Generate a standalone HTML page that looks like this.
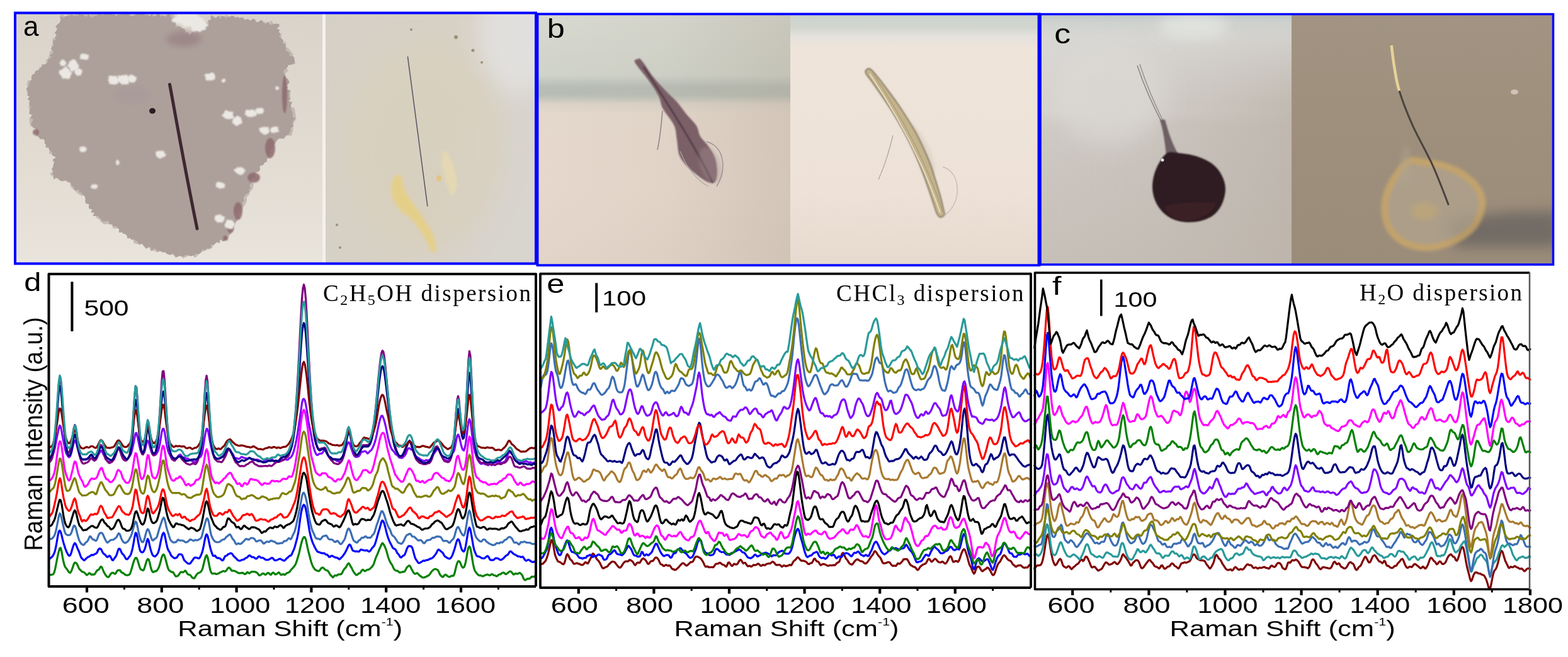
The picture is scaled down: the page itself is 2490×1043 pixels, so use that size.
<!DOCTYPE html>
<html><head><meta charset="utf-8"><title>Figure</title>
<style>html,body{margin:0;padding:0;background:#fff;}body{width:2490px;height:1043px;overflow:hidden;}svg{display:block;}</style>
</head><body>
<svg width="2490" height="1043" viewBox="0 0 2490 1043">
<defs>
<filter id="b1" x="-20%" y="-20%" width="140%" height="140%"><feGaussianBlur stdDeviation="1"/></filter>
<filter id="b2" x="-20%" y="-20%" width="140%" height="140%"><feGaussianBlur stdDeviation="2.5"/></filter>
<filter id="b4" x="-30%" y="-30%" width="160%" height="160%"><feGaussianBlur stdDeviation="5"/></filter>
<filter id="b8" x="-50%" y="-50%" width="200%" height="200%"><feGaussianBlur stdDeviation="10"/></filter>
<filter id="b16" x="-50%" y="-50%" width="200%" height="200%"><feGaussianBlur stdDeviation="18"/></filter>
<linearGradient id="gaL" x1="0" y1="0" x2="0" y2="1">
 <stop offset="0" stop-color="#dad3c9"/><stop offset="0.6" stop-color="#e2dcd2"/><stop offset="1" stop-color="#e9e4dc"/></linearGradient>
<linearGradient id="gaR" x1="0" y1="0" x2="1" y2="0.3">
 <stop offset="0" stop-color="#d5d0c6"/><stop offset="0.55" stop-color="#d7d1c5"/><stop offset="1" stop-color="#d8d4ce"/></linearGradient>
<linearGradient id="gbL" x1="0" y1="24" x2="0" y2="419" gradientUnits="userSpaceOnUse">
 <stop offset="0" stop-color="#d8d9d0"/><stop offset="0.243" stop-color="#d0d3c9"/><stop offset="0.263" stop-color="#c4c9c1"/><stop offset="0.289" stop-color="#b8bdb5"/>
 <stop offset="0.319" stop-color="#b8bdb4"/><stop offset="0.337" stop-color="#c6c6bc"/><stop offset="0.357" stop-color="#dcd3c8"/><stop offset="0.395" stop-color="#e5d8cc"/><stop offset="0.7" stop-color="#e6d8cc"/><stop offset="1" stop-color="#e2d4c8"/></linearGradient>
<linearGradient id="gbL2" x1="855" y1="0" x2="1255" y2="0" gradientUnits="userSpaceOnUse">
 <stop offset="0" stop-color="#a89c8c" stop-opacity="0"/><stop offset="0.5" stop-color="#a89c8c" stop-opacity="0.08"/><stop offset="1" stop-color="#a89c8c" stop-opacity="0.3"/></linearGradient>
<linearGradient id="gbR" x1="0" y1="24" x2="0" y2="419" gradientUnits="userSpaceOnUse">
 <stop offset="0" stop-color="#cbd2cc"/><stop offset="0.05" stop-color="#d2d6cf"/><stop offset="0.085" stop-color="#e4e2dc"/><stop offset="0.13" stop-color="#eee4da"/><stop offset="0.7" stop-color="#eee2d8"/><stop offset="1" stop-color="#e6dacf"/></linearGradient>
<linearGradient id="gcL" x1="0" y1="24" x2="0" y2="419" gradientUnits="userSpaceOnUse">
 <stop offset="0" stop-color="#c0c9c8"/><stop offset="0.03" stop-color="#cfd3d0"/><stop offset="0.09" stop-color="#d9d8d5"/><stop offset="0.39" stop-color="#d6d2ce"/><stop offset="0.44" stop-color="#cfcac5"/><stop offset="0.7" stop-color="#cbc5bf"/><stop offset="1" stop-color="#c7c0b8"/></linearGradient>
<linearGradient id="gcR" x1="0" y1="0" x2="0" y2="1">
 <stop offset="0" stop-color="#a29482"/><stop offset="0.5" stop-color="#9e8f7c"/><stop offset="1" stop-color="#9b8c7a"/></linearGradient>
<linearGradient id="gcL2" x1="1654" y1="0" x2="2051" y2="0" gradientUnits="userSpaceOnUse">
 <stop offset="0" stop-color="#b9b0a6" stop-opacity="0"/><stop offset="0.5" stop-color="#b9b0a6" stop-opacity="0.25"/><stop offset="1" stop-color="#b9b0a6" stop-opacity="0.7"/></linearGradient>
<linearGradient id="gcL3" x1="0" y1="24" x2="0" y2="419" gradientUnits="userSpaceOnUse">
 <stop offset="0" stop-color="#fff" stop-opacity="0"/><stop offset="0.35" stop-color="#fff" stop-opacity="1"/><stop offset="1" stop-color="#fff" stop-opacity="1"/></linearGradient>
<mask id="mcL"><rect x="1654" y="24" width="397" height="395" fill="url(#gcL3)"/></mask>
<radialGradient id="drop" cx="0.45" cy="0.4" r="0.6">
 <stop offset="0" stop-color="#2a1a1c"/><stop offset="0.7" stop-color="#33201f"/><stop offset="1" stop-color="#4a2a30"/></radialGradient>
<clipPath id="cpaL"><rect x="26" y="22" width="486" height="395"/></clipPath>
<clipPath id="cpaR"><rect x="517" y="22" width="333" height="395"/></clipPath>
<clipPath id="cpbL"><rect x="855" y="24" width="400" height="395"/></clipPath>
<clipPath id="cpbR"><rect x="1255" y="24" width="392" height="395"/></clipPath>
<clipPath id="cpcL"><rect x="1654" y="24" width="397" height="395"/></clipPath>
<clipPath id="cpcR"><rect x="2051" y="24" width="414" height="395"/></clipPath>
</defs>
<g clip-path="url(#cpaL)">
<rect x="26" y="22" width="486" height="395" fill="url(#gaL)"/>
<path d="M94.5,25.0 L99.4,22.8 L105.0,27.2 L109.4,20.9 L115.0,24.9 L120.1,22.7 L126.2,19.9 L132.0,24.6 L137.8,20.2 L143.1,23.9 L148.1,20.0 L153.3,20.0 L158.6,23.1 L164.0,26.9 L168.8,19.6 L174.0,20.4 L179.4,24.2 L184.7,27.2 L189.7,23.2 L194.8,21.2 L199.8,26.8 L205.3,17.7 L210.1,26.0 L215.4,20.5 L220.6,19.2 L225.7,19.2 L230.8,21.3 L235.7,26.6 L241.0,20.4 L246.0,24.6 L251.1,25.4 L256.3,22.9 L261.4,24.9 L266.7,20.2 L275.5,22.7 L277.0,28.4 L275.6,35.8 L280.4,39.4 L285.1,41.5 L287.5,46.7 L292.3,48.6 L297.2,50.4 L301.1,57.7 L305.7,54.8 L309.0,48.6 L315.3,49.7 L320.1,47.2 L328.3,46.7 L329.4,41.5 L327.9,34.9 L336.4,33.6 L334.6,23.0 L339.6,26.1 L344.5,29.6 L349.8,23.7 L354.7,27.2 L359.9,22.9 L364.8,29.3 L369.8,30.4 L374.9,28.6 L379.4,31.7 L385.4,27.0 L389.8,31.7 L395.0,31.6 L400.1,32.3 L405.3,32.0 L409.7,36.6 L414.6,38.6 L420.4,34.8 L425.2,37.6 L431.3,32.5 L435.2,39.7 L439.2,39.0 L437.2,45.2 L440.2,50.1 L446.7,54.1 L447.0,59.5 L446.6,65.4 L454.6,67.3 L452.7,73.8 L458.3,76.9 L461.8,81.3 L465.4,85.7 L462.6,94.3 L469.9,100.7 L464.9,102.2 L459.9,103.4 L451.4,104.2 L457.8,112.0 L452.9,117.0 L453.8,123.3 L452.5,130.2 L454.8,135.3 L455.0,140.8 L461.4,145.5 L460.6,151.0 L461.7,156.2 L457.9,162.7 L458.4,168.1 L467.5,171.4 L468.6,176.7 L469.3,182.1 L470.6,188.4 L467.1,194.0 L465.2,199.6 L465.3,206.8 L463.1,215.6 L456.0,215.3 L451.6,218.9 L445.8,220.4 L438.9,220.4 L435.0,226.5 L433.7,233.1 L429.8,238.6 L426.4,244.2 L429.6,251.6 L419.8,252.3 L419.0,256.7 L414.4,260.0 L411.0,264.4 L409.9,271.2 L406.1,274.8 L406.2,281.4 L398.7,284.7 L403.0,292.4 L401.3,299.9 L397.6,304.0 L395.7,309.0 L391.8,312.9 L392.0,318.9 L390.2,323.5 L386.3,329.1 L384.2,335.4 L379.3,340.4 L380.4,348.0 L370.5,351.3 L370.4,357.2 L372.2,364.0 L368.9,368.3 L365.7,372.6 L362.6,377.8 L359.2,382.2 L351.4,378.0 L346.3,379.0 L344.2,385.9 L339.6,388.0 L336.9,393.8 L332.5,395.9 L326.7,396.4 L322.5,399.6 L315.1,397.3 L313.8,405.7 L309.9,409.5 L303.6,403.5 L297.3,407.0 L291.0,410.0 L285.8,405.3 L279.1,409.6 L274.0,403.5 L268.8,397.9 L262.6,397.8 L256.4,398.3 L249.9,400.8 L245.1,398.2 L239.3,398.5 L236.0,391.0 L230.2,391.7 L226.0,386.7 L218.5,387.8 L212.7,385.9 L210.4,378.0 L206.7,373.4 L201.3,371.4 L196.4,368.6 L192.1,365.6 L187.3,362.5 L179.7,362.7 L177.3,356.8 L171.9,355.6 L165.7,355.9 L161.1,353.2 L157.8,348.4 L153.1,346.0 L151.4,340.3 L150.4,333.5 L142.8,330.7 L143.9,323.0 L141.3,317.1 L137.2,310.5 L129.1,310.7 L124.2,307.8 L120.3,303.9 L116.1,300.2 L112.2,296.2 L110.7,289.0 L106.0,284.8 L100.3,283.8 L93.8,285.7 L88.8,282.4 L85.9,282.5 L79.1,276.3 L85.2,270.9 L88.0,265.8 L88.2,258.4 L88.9,249.4 L83.5,246.2 L77.8,243.2 L79.8,235.1 L72.8,232.9 L73.3,225.3 L70.9,220.0 L62.9,219.8 L59.1,215.5 L61.0,207.7 L56.2,203.7 L48.1,200.1 L47.0,194.2 L46.6,188.2 L53.4,181.4 L51.7,175.6 L44.5,170.5 L50.3,163.7 L51.0,157.6 L46.9,152.2 L43.0,146.9 L44.0,141.0 L42.6,133.8 L43.9,127.9 L55.0,126.2 L54.4,119.4 L55.6,113.5 L62.1,113.3 L62.8,106.2 L69.6,106.3 L73.2,102.7 L73.2,94.7 L76.6,93.0 L78.3,87.9 L79.1,82.5 L83.7,78.1 L81.9,72.1 L84.7,67.2 L83.2,61.4 L92.1,57.6 L88.0,50.8 L90.3,45.5 L92.8,40.2 L97.3,34.2 Z" fill="#bcb2ab" opacity="0.8"/>
<path d="M94.7,26.5 L97.9,26.8 L101.3,28.6 L104.2,25.5 L107.4,25.4 L110.6,25.6 L113.5,22.8 L116.8,24.4 L120.0,24.8 L122.9,25.9 L126.1,21.8 L129.1,23.2 L132.1,22.1 L134.9,26.5 L138.1,26.0 L141.0,21.9 L144.3,27.4 L147.4,27.2 L150.4,25.2 L153.5,24.8 L156.5,21.9 L159.6,20.9 L162.8,23.9 L165.8,20.9 L168.9,21.5 L172.0,21.7 L175.1,20.3 L178.3,22.8 L181.4,22.5 L184.6,24.8 L187.6,22.7 L190.7,23.3 L193.8,22.3 L196.9,23.1 L200.0,21.7 L203.2,20.8 L206.1,25.2 L209.2,25.3 L212.4,24.5 L215.5,23.9 L218.7,21.6 L221.9,21.2 L225.0,21.7 L228.1,20.5 L231.1,24.8 L234.3,22.7 L237.3,25.5 L240.5,22.9 L243.5,26.5 L246.6,25.9 L249.9,21.0 L253.0,22.3 L255.9,26.7 L259.2,24.1 L262.1,27.3 L265.4,23.9 L268.6,22.1 L270.9,25.2 L271.8,28.6 L276.2,30.2 L278.8,32.7 L279.2,36.5 L278.3,42.2 L281.6,43.1 L286.4,41.9 L288.4,44.4 L291.4,45.6 L294.1,47.3 L293.9,52.7 L298.7,51.6 L300.1,55.3 L303.0,53.5 L305.6,50.8 L309.9,52.5 L311.7,47.9 L315.9,49.6 L317.9,45.4 L321.7,45.8 L323.5,44.2 L325.4,41.3 L330.7,40.2 L331.4,36.7 L330.3,32.3 L335.0,30.9 L334.5,25.1 L337.6,26.2 L340.5,29.1 L343.6,27.9 L346.7,24.7 L349.6,30.1 L352.7,25.6 L355.8,25.9 L358.7,29.1 L361.8,26.5 L364.9,26.4 L367.9,25.1 L371.0,25.3 L373.9,28.3 L377.0,26.4 L379.9,28.6 L383.2,27.8 L386.1,28.8 L388.6,32.3 L392.1,30.0 L395.1,31.1 L397.8,33.3 L401.5,29.8 L404.6,30.2 L406.8,35.2 L410.0,35.2 L413.6,32.3 L416.7,32.5 L419.1,36.3 L422.0,38.0 L425.8,34.2 L428.0,39.1 L431.1,39.3 L434.4,38.2 L437.7,37.6 L442.9,38.0 L444.1,41.0 L439.5,45.4 L444.4,47.4 L442.5,51.1 L445.9,53.5 L443.3,57.4 L445.5,60.2 L448.4,62.3 L450.3,64.8 L448.6,68.9 L453.5,70.1 L453.8,73.1 L453.8,76.8 L454.1,80.4 L457.0,82.2 L460.4,83.7 L459.0,88.4 L464.3,88.7 L466.9,90.7 L467.4,94.1 L468.2,97.8 L466.7,101.3 L463.8,102.2 L460.6,102.7 L457.4,103.1 L457.2,105.5 L455.2,108.2 L451.4,110.6 L450.2,113.5 L451.5,117.5 L452.2,120.5 L453.8,123.3 L457.3,125.5 L458.8,128.2 L459.8,131.2 L455.6,135.3 L457.1,138.2 L455.9,141.4 L461.8,143.9 L458.5,147.4 L459.7,150.3 L458.6,153.6 L461.4,156.2 L458.2,160.4 L464.3,162.2 L462.3,166.0 L462.0,169.4 L461.8,172.8 L463.5,175.7 L464.5,178.8 L464.8,182.1 L464.8,185.4 L468.9,188.1 L466.4,190.8 L464.6,193.6 L464.3,196.6 L466.4,200.2 L463.0,202.1 L461.2,204.8 L461.3,208.4 L459.9,210.9 L458.1,213.8 L454.8,214.6 L452.1,216.2 L451.2,220.6 L446.7,219.6 L442.9,219.6 L440.7,221.9 L438.6,224.4 L437.3,227.6 L434.0,229.6 L433.4,233.0 L432.7,236.3 L429.1,238.2 L431.7,243.2 L426.7,244.3 L429.1,249.0 L424.7,250.2 L423.9,253.3 L423.8,256.7 L420.2,257.9 L418.8,261.0 L416.0,262.7 L412.5,263.6 L413.0,268.7 L411.8,272.0 L408.3,273.0 L404.2,273.9 L405.1,278.7 L403.5,282.3 L397.6,284.5 L398.4,288.1 L399.0,291.6 L395.7,294.3 L398.3,298.5 L395.0,300.5 L396.1,304.7 L393.3,307.0 L389.9,309.0 L387.8,311.6 L386.5,314.7 L387.7,319.0 L385.1,321.4 L385.4,325.1 L385.1,328.6 L381.8,330.8 L378.7,333.1 L377.3,336.1 L376.8,339.6 L374.4,342.4 L377.2,346.9 L376.7,350.4 L374.1,353.1 L373.5,356.6 L372.4,359.7 L369.8,362.1 L367.2,364.5 L366.5,367.8 L365.9,371.2 L361.7,372.7 L360.7,374.0 L359.3,378.3 L357.4,381.8 L354.7,383.4 L349.5,380.3 L348.9,386.2 L344.3,384.1 L341.8,386.3 L339.6,389.1 L335.4,388.0 L334.7,393.5 L331.6,394.3 L327.9,394.2 L326.4,398.0 L321.3,395.4 L320.3,400.0 L317.8,402.1 L315.3,404.1 L310.9,402.6 L308.7,405.2 L305.4,405.8 L303.1,407.1 L300.0,405.7 L296.8,404.4 L293.3,405.6 L289.6,408.1 L286.6,406.0 L283.0,407.3 L279.4,407.9 L276.9,404.6 L274.2,402.5 L270.6,405.1 L267.6,403.9 L264.7,402.9 L262.1,400.2 L258.8,400.7 L256.0,399.5 L253.4,397.8 L249.9,399.0 L247.7,395.8 L245.1,394.2 L240.7,398.0 L239.4,392.3 L236.1,392.6 L232.2,395.0 L229.9,392.2 L227.7,389.9 L225.8,387.0 L221.7,388.4 L219.5,385.9 L217.8,382.9 L214.9,381.9 L212.6,379.7 L208.6,380.8 L206.5,378.0 L202.4,378.5 L201.4,374.1 L199.1,371.8 L195.8,370.9 L193.4,368.7 L188.9,369.3 L189.0,364.0 L186.8,361.4 L184.2,359.2 L179.9,359.0 L178.1,355.5 L173.9,356.4 L172.9,351.7 L170.0,350.4 L165.7,351.5 L162.2,351.3 L160.5,347.9 L158.1,345.7 L156.0,343.0 L152.4,342.9 L147.3,342.7 L149.7,337.6 L144.2,337.2 L146.4,332.2 L141.5,331.4 L140.8,328.2 L141.5,324.2 L136.6,323.2 L135.1,320.3 L135.6,316.5 L134.9,312.7 L133.3,310.1 L130.5,308.6 L129.5,305.4 L125.4,305.2 L125.2,301.1 L119.4,302.6 L117.8,299.9 L116.9,296.5 L113.8,295.4 L113.5,291.4 L110.6,289.4 L107.4,289.2 L104.9,286.5 L101.3,287.2 L97.9,287.8 L94.9,286.5 L92.6,282.9 L89.7,281.7 L85.5,284.9 L85.0,282.4 L85.9,279.0 L83.5,275.4 L84.0,271.9 L82.0,268.3 L84.2,265.0 L84.7,261.5 L86.0,258.0 L83.3,253.8 L89.1,249.2 L85.1,248.1 L82.8,245.9 L83.1,242.0 L80.1,240.1 L78.0,237.8 L77.3,234.5 L72.4,234.0 L73.0,229.8 L70.7,227.6 L70.9,223.0 L68.5,220.7 L63.4,220.8 L62.1,217.6 L58.0,216.1 L57.9,212.1 L58.2,208.0 L56.9,204.6 L53.0,202.8 L50.3,199.8 L49.2,196.6 L51.3,193.0 L52.8,189.5 L47.7,186.8 L51.2,183.0 L46.3,180.2 L46.9,176.8 L46.8,173.5 L49.1,169.8 L46.5,166.9 L46.2,163.6 L47.2,160.2 L43.7,157.4 L46.9,153.6 L42.8,150.9 L44.6,147.3 L42.6,144.3 L41.9,140.1 L45.1,137.8 L45.9,134.5 L46.8,131.3 L48.4,128.4 L50.3,125.6 L49.6,121.7 L51.1,118.7 L54.8,116.7 L55.9,113.9 L57.9,111.5 L61.5,111.0 L62.9,107.9 L66.2,107.1 L66.2,102.2 L70.5,102.6 L73.1,100.9 L75.8,99.4 L75.9,94.7 L77.9,93.3 L82.2,91.1 L78.9,86.9 L84.2,84.9 L84.4,81.6 L80.8,77.4 L82.2,74.4 L85.8,71.9 L83.8,68.1 L83.7,64.8 L88.7,62.7 L87.1,58.9 L90.0,56.3 L86.8,52.2 L89.2,49.4 L91.6,46.6 L88.4,42.5 L90.2,39.6 L93.7,36.9 L95.8,33.9 L96.8,30.7 Z" fill="#ada09a"/>
<ellipse cx="292" cy="62" rx="28" ry="12" fill="#987f82" opacity="0.7" filter="url(#b4)"/>
<ellipse cx="210" cy="150" rx="30" ry="14" fill="#a8999a" opacity="0.6" filter="url(#b4)"/>
<ellipse cx="452" cy="150" rx="4" ry="30" fill="#8e6a6e" opacity="0.85" filter="url(#b1)"/>
<ellipse cx="429" cy="235" rx="8" ry="16" fill="#8e6a6e" opacity="0.85" filter="url(#b1)"/>
<ellipse cx="403" cy="282" rx="10" ry="8" fill="#8e6a6e" opacity="0.85" filter="url(#b1)"/>
<ellipse cx="378" cy="335" rx="7" ry="14" fill="#8e6a6e" opacity="0.85" filter="url(#b1)"/>
<ellipse cx="366" cy="363" rx="5" ry="7" fill="#8e6a6e" opacity="0.85" filter="url(#b1)"/>
<ellipse cx="358" cy="378" rx="4" ry="4" fill="#8e6a6e" opacity="0.85" filter="url(#b1)"/>
<ellipse cx="57" cy="210" rx="5" ry="5" fill="#8e6a6e" opacity="0.85" filter="url(#b1)"/>
<path d="M187.9,127.0 C188.0,127.7 188.4,128.5 188.3,129.4 C188.3,130.2 188.1,131.2 187.6,131.9 C187.0,132.6 185.8,133.1 184.8,133.5 C183.9,133.9 182.8,134.4 181.7,134.5 C180.6,134.5 179.6,133.9 178.5,133.7 C177.4,133.6 175.9,134.1 175.0,133.7 C174.1,133.4 173.4,132.3 173.0,131.6 C172.7,130.8 173.1,129.8 172.8,129.0 C172.5,128.3 171.1,127.7 171.1,127.0 C171.2,126.3 172.8,125.9 172.9,125.0 C173.1,124.1 171.7,122.6 172.0,121.8 C172.3,121.0 173.7,120.2 174.8,120.0 C175.9,119.7 177.4,120.4 178.5,120.5 C179.6,120.6 180.4,120.6 181.5,120.6 C182.5,120.6 184.2,120.0 184.9,120.4 C185.7,120.8 185.7,122.2 186.2,123.0 C186.6,123.7 187.2,124.2 187.5,124.9 C187.8,125.6 187.7,126.3 187.9,127.0 Z" fill="#ebe7e2" filter="url(#b1)"/>
<path d="M206.3,126.0 C206.1,126.9 204.6,127.4 204.4,128.4 C204.1,129.4 205.4,131.1 204.9,132.0 C204.5,132.9 203.0,133.7 201.8,134.0 C200.6,134.3 199.0,133.7 197.7,133.8 C196.4,133.8 195.2,134.6 194.2,134.3 C193.1,134.1 192.4,132.8 191.5,132.2 C190.7,131.6 189.8,131.2 189.1,130.6 C188.4,130.0 188.0,129.3 187.3,128.5 C186.7,127.8 185.3,126.8 185.3,126.0 C185.4,125.2 187.3,124.5 187.6,123.5 C187.9,122.5 186.3,120.6 187.0,120.0 C187.7,119.4 190.5,120.3 191.8,120.1 C193.0,120.0 193.5,119.1 194.5,119.0 C195.4,118.8 196.3,119.4 197.5,119.3 C198.7,119.2 200.5,118.1 201.5,118.4 C202.5,118.7 202.7,120.3 203.3,121.1 C203.9,121.9 204.8,122.5 205.3,123.3 C205.8,124.1 206.4,125.1 206.3,126.0 Z" fill="#ebe7e2" filter="url(#b1)"/>
<path d="M216.1,125.0 C216.0,125.7 217.1,126.6 216.9,127.1 C216.6,127.7 215.2,127.8 214.7,128.4 C214.2,129.0 214.3,130.1 213.8,130.6 C213.2,131.1 212.1,131.1 211.3,131.1 C210.4,131.1 209.7,130.8 208.8,130.7 C208.0,130.5 207.1,130.7 206.4,130.4 C205.6,130.1 204.8,129.6 204.5,128.9 C204.2,128.3 204.8,127.4 204.5,126.7 C204.2,126.1 203.2,125.6 202.9,125.0 C202.7,124.4 202.9,123.5 203.1,122.9 C203.4,122.2 204.1,121.7 204.6,121.1 C205.1,120.5 205.3,119.5 206.0,119.1 C206.7,118.7 207.8,118.5 208.7,118.6 C209.5,118.6 210.4,119.1 211.2,119.4 C211.9,119.6 212.6,119.9 213.2,120.3 C213.7,120.7 214.0,121.3 214.6,121.7 C215.3,122.1 217.1,122.2 217.3,122.7 C217.6,123.3 216.2,124.3 216.1,125.0 Z" fill="#ebe7e2" filter="url(#b1)"/>
<path d="M114.6,116.0 C114.7,117.1 112.8,118.2 112.3,119.4 C111.8,120.5 112.0,121.9 111.4,122.9 C110.9,123.9 109.9,125.1 108.9,125.4 C107.9,125.7 106.4,125.0 105.4,124.8 C104.4,124.7 103.7,124.3 102.7,124.4 C101.7,124.4 100.1,125.4 99.3,125.0 C98.6,124.5 98.6,122.5 98.0,121.6 C97.5,120.6 96.6,120.2 95.9,119.3 C95.2,118.3 94.0,117.2 93.7,116.0 C93.5,114.8 93.7,113.0 94.4,112.1 C95.1,111.2 97.1,111.0 98.1,110.5 C99.0,109.9 99.4,109.2 100.2,108.6 C100.9,108.1 101.7,107.7 102.6,107.1 C103.5,106.5 104.9,104.7 105.7,105.0 C106.6,105.3 107.0,108.0 107.7,108.8 C108.5,109.7 109.6,109.5 110.2,110.2 C110.8,110.9 110.5,112.1 111.3,113.1 C112.0,114.0 114.4,114.9 114.6,116.0 Z" fill="#ebe7e2" filter="url(#b1)"/>
<path d="M125.3,104.0 C125.6,105.1 125.0,106.4 124.5,107.5 C124.1,108.5 123.5,109.7 122.6,110.3 C121.8,110.9 120.5,110.7 119.6,111.0 C118.7,111.4 118.2,111.9 117.3,112.3 C116.5,112.7 115.5,113.5 114.5,113.5 C113.5,113.6 112.2,113.4 111.6,112.7 C111.0,111.9 111.3,109.8 110.9,108.8 C110.6,107.8 110.1,107.5 109.4,106.7 C108.7,105.9 106.8,104.9 106.9,104.0 C106.9,103.1 109.1,102.4 109.5,101.3 C110.0,100.3 109.1,98.7 109.5,97.9 C110.0,97.1 111.4,97.2 112.2,96.7 C113.1,96.1 113.7,95.1 114.5,94.7 C115.4,94.2 116.6,93.8 117.6,94.0 C118.5,94.2 119.4,95.2 120.1,96.0 C120.8,96.7 121.4,97.6 121.9,98.4 C122.4,99.3 122.5,100.2 123.0,101.1 C123.6,102.0 125.1,102.9 125.3,104.0 Z" fill="#ebe7e2" filter="url(#b1)"/>
<path d="M130.8,114.0 C130.6,114.7 129.6,115.2 129.3,115.9 C129.0,116.7 129.4,117.6 129.1,118.3 C128.8,118.9 128.2,119.8 127.5,120.0 C126.8,120.2 125.7,119.4 125.0,119.5 C124.2,119.6 123.5,120.6 122.9,120.5 C122.2,120.4 121.7,119.4 121.2,118.9 C120.7,118.4 120.4,117.9 120.0,117.4 C119.5,116.9 119.1,116.5 118.7,115.9 C118.3,115.4 117.4,114.6 117.5,114.0 C117.5,113.4 118.8,112.9 119.1,112.2 C119.4,111.5 118.8,110.4 119.1,109.9 C119.5,109.4 120.5,109.3 121.2,109.1 C121.8,108.9 122.4,108.9 123.1,108.8 C123.7,108.7 124.4,108.2 125.0,108.2 C125.6,108.3 126.3,108.7 126.9,109.0 C127.5,109.3 127.9,109.8 128.5,110.2 C129.1,110.6 130.0,111.0 130.4,111.7 C130.8,112.3 131.0,113.3 130.8,114.0 Z" fill="#ebe7e2" filter="url(#b1)"/>
<path d="M105.4,100.0 C105.6,100.6 105.7,101.5 105.4,102.0 C105.0,102.4 103.6,102.1 103.2,102.7 C102.8,103.2 103.3,104.5 102.9,105.0 C102.5,105.5 101.6,105.6 101.0,105.5 C100.4,105.3 99.9,104.3 99.3,104.1 C98.6,104.0 97.8,104.9 97.2,104.8 C96.6,104.7 96.0,104.1 95.7,103.6 C95.5,103.0 96.1,102.1 95.8,101.5 C95.6,100.9 94.2,100.5 94.2,100.0 C94.1,99.5 95.2,98.9 95.5,98.4 C95.9,97.8 95.9,97.3 96.2,96.8 C96.5,96.4 96.9,95.8 97.4,95.4 C97.8,95.1 98.5,94.9 99.1,94.7 C99.7,94.6 100.4,94.4 100.9,94.6 C101.5,94.9 101.8,95.7 102.3,96.0 C102.8,96.4 103.5,96.4 103.8,96.8 C104.1,97.2 103.8,98.0 104.1,98.5 C104.3,99.0 105.2,99.4 105.4,100.0 Z" fill="#ebe7e2" filter="url(#b1)"/>
<path d="M140.4,90.0 C140.2,90.6 140.8,91.1 140.8,91.8 C140.8,92.4 140.8,93.3 140.3,93.8 C139.8,94.2 138.5,94.4 137.7,94.6 C136.9,94.8 136.0,94.9 135.2,94.9 C134.4,94.9 133.6,94.8 132.9,94.6 C132.2,94.4 131.8,93.9 131.0,93.8 C130.1,93.6 128.4,94.1 127.7,93.8 C127.0,93.5 126.8,92.5 126.8,91.9 C126.8,91.2 127.6,90.6 127.6,90.0 C127.7,89.4 127.1,88.8 127.2,88.2 C127.3,87.7 127.8,87.1 128.2,86.5 C128.7,86.0 129.2,85.2 130.0,85.0 C130.8,84.9 132.0,85.4 132.9,85.5 C133.7,85.5 134.4,85.3 135.1,85.4 C135.8,85.5 136.4,85.9 137.1,86.2 C137.8,86.4 138.8,86.4 139.5,86.7 C140.3,87.0 141.4,87.5 141.6,88.0 C141.7,88.6 140.5,89.4 140.4,90.0 Z" fill="#ebe7e2" filter="url(#b1)"/>
<path d="M369.8,183.0 C370.0,183.8 371.4,184.8 371.4,185.7 C371.4,186.5 370.7,187.6 369.8,188.1 C369.0,188.6 367.4,188.6 366.3,188.8 C365.2,189.0 364.4,189.3 363.4,189.3 C362.5,189.4 361.5,189.3 360.6,189.1 C359.7,188.9 359.0,188.5 358.2,188.1 C357.4,187.8 356.4,187.5 355.8,187.0 C355.2,186.5 355.1,185.8 354.5,185.1 C353.8,184.5 351.8,183.7 351.9,183.0 C351.9,182.3 353.8,181.5 354.5,180.9 C355.2,180.2 355.5,179.8 355.9,179.0 C356.3,178.2 356.1,176.7 356.8,176.0 C357.5,175.3 359.1,174.9 360.2,175.1 C361.3,175.3 362.3,176.7 363.3,177.1 C364.3,177.5 365.1,177.2 366.2,177.3 C367.3,177.4 369.5,177.1 370.1,177.7 C370.8,178.3 370.2,179.8 370.1,180.7 C370.1,181.6 369.6,182.2 369.8,183.0 Z" fill="#ebe7e2" filter="url(#b1)"/>
<path d="M384.4,192.0 C384.5,192.7 384.6,193.6 384.4,194.4 C384.2,195.1 383.9,196.1 383.2,196.6 C382.6,197.0 381.2,196.8 380.4,197.2 C379.6,197.6 379.2,198.4 378.4,198.9 C377.5,199.4 376.3,200.1 375.4,200.0 C374.5,199.9 373.7,198.8 372.9,198.2 C372.2,197.6 371.5,197.1 370.8,196.5 C370.1,195.9 369.0,195.4 368.7,194.6 C368.4,193.9 368.9,192.8 369.1,192.0 C369.4,191.2 369.9,190.6 370.1,189.8 C370.3,189.0 369.6,187.5 370.1,187.0 C370.7,186.4 372.6,187.1 373.5,186.7 C374.4,186.2 374.6,184.6 375.4,184.1 C376.3,183.7 377.6,183.9 378.6,184.2 C379.5,184.4 380.3,185.3 381.1,185.8 C381.8,186.4 382.8,186.8 383.2,187.5 C383.5,188.2 383.1,189.2 383.3,190.0 C383.5,190.7 384.2,191.3 384.4,192.0 Z" fill="#ebe7e2" filter="url(#b1)"/>
<path d="M409.6,180.0 C409.4,180.7 407.5,181.3 407.0,182.0 C406.5,182.7 407.3,183.8 406.5,184.3 C405.8,184.8 403.7,184.5 402.5,184.7 C401.4,185.0 400.7,185.8 399.7,185.9 C398.7,186.0 397.5,185.5 396.4,185.4 C395.3,185.3 393.7,185.6 392.9,185.3 C392.1,184.9 392.2,183.8 391.5,183.3 C390.8,182.7 389.4,182.5 388.9,182.0 C388.4,181.4 388.4,180.6 388.7,180.0 C388.9,179.4 390.0,179.0 390.2,178.3 C390.3,177.6 389.1,176.4 389.5,175.7 C389.8,175.0 391.1,174.2 392.3,174.0 C393.4,173.9 395.2,174.9 396.5,174.8 C397.7,174.8 398.7,173.8 399.8,173.8 C400.9,173.8 402.1,174.3 403.1,174.8 C404.0,175.2 404.7,175.7 405.5,176.2 C406.2,176.8 407.0,177.3 407.7,177.9 C408.4,178.5 409.7,179.3 409.6,180.0 Z" fill="#ebe7e2" filter="url(#b1)"/>
<path d="M419.8,176.0 C419.8,176.5 418.2,176.9 417.9,177.5 C417.6,178.2 418.6,179.3 418.2,179.7 C417.8,180.2 416.3,180.2 415.5,180.3 C414.7,180.5 414.0,180.6 413.2,180.7 C412.4,180.9 411.4,181.3 410.7,181.1 C410.0,181.0 409.5,180.2 408.9,179.8 C408.3,179.4 407.8,179.2 407.2,178.9 C406.7,178.5 405.9,178.1 405.6,177.7 C405.3,177.2 405.8,176.6 405.7,176.0 C405.6,175.4 404.8,174.7 405.0,174.2 C405.2,173.7 406.2,173.3 406.8,172.9 C407.4,172.5 408.0,172.1 408.6,171.9 C409.3,171.6 410.1,171.5 410.9,171.5 C411.6,171.4 412.3,171.6 413.1,171.6 C413.9,171.5 414.9,171.2 415.8,171.3 C416.6,171.5 417.7,171.8 418.1,172.3 C418.5,172.8 417.9,173.8 418.2,174.4 C418.5,175.0 419.9,175.5 419.8,176.0 Z" fill="#ebe7e2" filter="url(#b1)"/>
<path d="M427.9,207.0 C428.2,207.7 428.2,208.5 428.0,209.2 C427.7,209.8 427.0,210.5 426.4,211.0 C425.8,211.6 425.1,212.1 424.3,212.6 C423.5,213.0 422.6,213.6 421.6,213.8 C420.6,213.9 419.3,213.8 418.5,213.4 C417.6,213.1 417.2,212.1 416.5,211.6 C415.8,211.1 415.1,210.9 414.5,210.5 C413.8,210.0 413.0,209.6 412.6,209.0 C412.2,208.4 412.5,207.7 412.3,207.0 C412.1,206.3 411.1,205.3 411.2,204.6 C411.4,203.9 412.6,203.3 413.4,202.8 C414.2,202.4 415.2,202.1 416.0,201.9 C416.9,201.6 417.8,201.4 418.7,201.4 C419.6,201.4 420.3,201.6 421.3,201.7 C422.2,201.7 423.2,201.5 424.1,201.6 C425.1,201.8 426.7,202.0 427.1,202.6 C427.5,203.2 426.5,204.5 426.6,205.2 C426.8,205.9 427.7,206.3 427.9,207.0 Z" fill="#ebe7e2" filter="url(#b1)"/>
<path d="M441.8,206.0 C442.1,206.6 443.5,207.4 443.4,207.9 C443.4,208.5 442.6,209.2 441.8,209.5 C441.0,209.7 439.7,209.3 438.9,209.6 C438.1,209.8 437.9,210.9 437.2,211.0 C436.6,211.2 435.8,210.5 434.9,210.5 C434.0,210.4 432.8,211.1 432.0,210.9 C431.2,210.8 430.3,210.2 430.0,209.6 C429.6,209.1 430.1,208.2 429.9,207.6 C429.7,207.0 428.8,206.5 428.8,206.0 C428.7,205.5 429.0,204.8 429.4,204.3 C429.8,203.8 430.5,203.5 431.1,203.0 C431.6,202.6 432.0,202.1 432.6,201.8 C433.2,201.5 434.1,201.4 434.8,201.3 C435.6,201.2 436.3,201.2 437.2,201.1 C438.1,201.1 439.3,200.7 440.1,201.0 C440.8,201.2 441.6,201.9 441.8,202.5 C442.0,203.1 441.5,204.0 441.5,204.6 C441.5,205.2 441.5,205.4 441.8,206.0 Z" fill="#ebe7e2" filter="url(#b1)"/>
<path d="M342.2,122.0 C342.2,122.6 341.4,123.1 341.2,123.8 C341.1,124.4 341.8,125.6 341.3,126.1 C340.8,126.6 339.0,126.4 338.1,126.7 C337.1,127.1 336.5,128.1 335.6,128.2 C334.7,128.2 333.8,127.2 332.6,127.2 C331.5,127.2 329.7,128.3 328.7,128.1 C327.7,127.9 327.1,126.8 326.7,126.1 C326.2,125.4 326.2,124.6 326.2,123.9 C326.1,123.2 326.7,122.7 326.4,122.0 C326.1,121.3 324.6,120.4 324.5,119.7 C324.5,119.0 325.2,118.0 326.1,117.6 C327.0,117.2 328.7,117.2 329.8,117.1 C330.9,117.0 331.6,117.3 332.7,116.9 C333.7,116.6 334.8,115.2 335.8,115.1 C336.9,114.9 338.3,115.5 339.1,116.1 C340.0,116.6 340.4,117.5 340.8,118.2 C341.2,118.9 341.0,119.6 341.3,120.2 C341.5,120.9 342.2,121.4 342.2,122.0 Z" fill="#ebe7e2" filter="url(#b1)"/>
<path d="M358.4,128.0 C358.3,128.3 357.8,128.6 357.5,128.9 C357.3,129.2 357.2,129.4 357.0,129.7 C356.8,129.9 356.5,130.0 356.3,130.2 C356.1,130.5 355.9,131.0 355.6,131.2 C355.3,131.4 354.8,131.4 354.4,131.3 C354.0,131.3 353.5,131.3 353.2,131.1 C352.9,130.8 352.8,130.4 352.6,130.1 C352.4,129.7 352.2,129.4 352.0,129.1 C351.9,128.7 351.8,128.3 351.8,128.0 C351.8,127.7 352.1,127.3 352.2,127.0 C352.3,126.7 352.4,126.2 352.7,126.0 C352.9,125.8 353.4,125.8 353.7,125.7 C354.0,125.7 354.2,125.7 354.6,125.5 C354.9,125.4 355.2,124.7 355.6,124.7 C355.9,124.6 356.3,124.9 356.7,125.1 C357.0,125.3 357.4,125.5 357.7,125.7 C357.9,126.0 357.9,126.5 358.1,126.9 C358.2,127.3 358.5,127.7 358.4,128.0 Z" fill="#ebe7e2" filter="url(#b1)"/>
<path d="M263.9,245.0 C264.2,245.6 263.2,246.4 262.8,247.1 C262.4,247.8 262.4,248.8 261.6,249.2 C260.9,249.5 259.2,248.9 258.3,249.3 C257.4,249.6 257.3,250.9 256.5,251.2 C255.7,251.6 254.4,251.6 253.5,251.4 C252.6,251.2 251.8,250.6 251.0,250.2 C250.3,249.7 249.4,249.4 248.9,248.8 C248.4,248.3 248.4,247.5 248.2,246.9 C247.9,246.2 247.4,245.7 247.3,245.0 C247.1,244.3 247.1,243.6 247.3,242.9 C247.4,242.2 247.5,241.2 248.1,240.6 C248.7,240.1 250.0,239.9 250.9,239.7 C251.8,239.4 252.7,239.2 253.6,239.2 C254.5,239.2 255.3,239.5 256.3,239.5 C257.3,239.5 258.6,239.0 259.4,239.3 C260.1,239.6 260.4,240.7 260.7,241.4 C261.1,242.0 260.8,242.7 261.3,243.3 C261.9,243.9 263.7,244.4 263.9,245.0 Z" fill="#ebe7e2" filter="url(#b1)"/>
<path d="M137.4,237.0 C137.3,237.6 137.1,238.0 137.0,238.5 C136.8,239.0 136.8,239.7 136.4,240.1 C136.0,240.5 135.2,240.5 134.6,240.8 C134.1,241.1 133.6,241.7 133.0,241.8 C132.4,241.8 131.8,241.3 131.1,241.2 C130.4,241.2 129.6,241.5 129.0,241.4 C128.3,241.2 127.7,240.7 127.3,240.3 C126.9,239.8 127.0,239.2 126.7,238.6 C126.3,238.1 125.2,237.5 125.3,237.0 C125.4,236.5 127.1,236.2 127.3,235.6 C127.5,235.0 126.3,233.7 126.6,233.2 C126.9,232.8 128.3,232.9 129.1,232.8 C129.8,232.7 130.4,232.8 131.1,232.7 C131.7,232.6 132.4,232.3 133.0,232.3 C133.6,232.3 134.5,232.4 134.9,232.8 C135.4,233.1 135.3,234.0 135.8,234.4 C136.3,234.8 137.8,234.7 138.1,235.2 C138.3,235.6 137.6,236.4 137.4,237.0 Z" fill="#ebe7e2" filter="url(#b1)"/>
<path d="M190.2,258.0 C190.2,258.4 189.7,258.8 189.5,259.2 C189.3,259.6 189.1,259.9 189.0,260.2 C188.8,260.5 188.7,260.9 188.4,261.3 C188.2,261.6 187.9,262.3 187.6,262.3 C187.3,262.4 186.9,261.7 186.5,261.7 C186.1,261.6 185.6,262.1 185.3,261.9 C185.0,261.8 184.8,261.1 184.6,260.7 C184.4,260.2 184.3,259.8 184.2,259.4 C184.1,258.9 183.9,258.5 183.9,258.0 C183.9,257.5 184.0,257.0 184.1,256.6 C184.2,256.2 184.5,255.8 184.7,255.4 C184.9,255.0 185.0,254.4 185.3,254.1 C185.6,253.9 186.1,253.8 186.4,253.8 C186.8,253.8 187.2,253.8 187.5,254.0 C187.8,254.3 188.0,254.9 188.2,255.2 C188.5,255.4 188.9,255.4 189.1,255.7 C189.3,256.0 189.3,256.4 189.4,256.8 C189.6,257.2 190.2,257.6 190.2,258.0 Z" fill="#ebe7e2" filter="url(#b1)"/>
<path d="M390.2,271.0 C390.1,271.6 388.1,272.1 387.7,272.8 C387.2,273.5 388.2,274.7 387.8,275.3 C387.3,275.8 385.9,275.8 385.1,276.3 C384.2,276.7 383.5,277.8 382.6,277.9 C381.7,278.1 380.5,277.3 379.6,277.0 C378.7,276.7 377.7,276.5 377.1,276.1 C376.5,275.6 376.4,274.8 375.8,274.3 C375.2,273.8 374.4,273.5 373.7,273.0 C373.0,272.5 371.9,271.7 371.7,271.0 C371.4,270.3 371.5,269.2 372.2,268.6 C372.8,268.0 374.7,268.0 375.4,267.5 C376.1,266.9 375.8,265.5 376.6,265.2 C377.3,264.9 378.8,265.8 379.8,265.7 C380.7,265.7 381.6,264.9 382.4,264.9 C383.3,265.0 384.2,265.6 384.9,266.0 C385.6,266.4 386.0,267.0 386.6,267.5 C387.2,268.0 387.7,268.4 388.3,269.0 C388.9,269.6 390.3,270.4 390.2,271.0 Z" fill="#ebe7e2" filter="url(#b1)"/>
<path d="M358.0,294.0 C358.0,294.5 356.8,294.9 356.7,295.5 C356.5,296.1 357.5,297.2 357.1,297.7 C356.7,298.2 355.1,298.3 354.2,298.5 C353.2,298.8 352.4,298.9 351.4,299.1 C350.5,299.3 349.2,299.9 348.4,299.7 C347.6,299.5 347.4,298.1 346.6,297.7 C345.7,297.3 343.8,297.9 343.2,297.6 C342.7,297.2 343.3,296.1 343.2,295.5 C343.1,294.9 342.8,294.5 342.7,294.0 C342.7,293.5 342.9,293.0 343.0,292.4 C343.1,291.8 342.9,291.1 343.3,290.5 C343.7,289.9 344.5,289.3 345.4,289.0 C346.2,288.7 347.5,288.6 348.5,288.7 C349.5,288.8 350.5,289.1 351.3,289.4 C352.1,289.7 352.7,290.0 353.5,290.2 C354.2,290.5 355.1,290.7 355.7,291.0 C356.2,291.4 356.4,292.0 356.8,292.5 C357.2,293.0 358.1,293.5 358.0,294.0 Z" fill="#ebe7e2" filter="url(#b1)"/>
<path d="M355.8,347.0 C355.7,347.7 356.9,348.5 356.7,349.1 C356.6,349.7 355.4,350.1 354.9,350.7 C354.4,351.4 354.3,352.6 353.6,353.0 C352.9,353.4 351.4,353.2 350.4,353.2 C349.4,353.1 348.6,353.0 347.6,353.0 C346.6,352.9 345.1,353.4 344.4,353.0 C343.7,352.6 344.0,351.2 343.3,350.6 C342.7,349.9 340.9,349.9 340.5,349.3 C340.2,348.7 341.1,347.7 341.2,347.0 C341.3,346.3 340.9,345.6 341.0,344.8 C341.1,344.1 341.2,343.1 341.8,342.5 C342.4,341.9 343.6,341.5 344.6,341.2 C345.5,341.0 346.6,341.0 347.6,340.9 C348.6,340.7 349.7,340.1 350.5,340.4 C351.3,340.7 351.6,342.2 352.3,342.7 C353.1,343.2 354.1,342.9 355.0,343.2 C355.8,343.6 357.4,344.1 357.5,344.7 C357.6,345.3 355.9,346.3 355.8,347.0 Z" fill="#ebe7e2" filter="url(#b1)"/>
<path d="M373.0,356.0 C373.1,356.8 373.2,357.8 372.8,358.5 C372.4,359.2 371.2,359.4 370.7,360.2 C370.2,360.9 370.3,362.5 369.6,363.0 C368.9,363.5 367.5,363.4 366.5,363.5 C365.5,363.6 364.4,363.8 363.5,363.5 C362.6,363.3 362.0,362.4 361.1,362.0 C360.2,361.6 358.8,361.6 358.1,361.0 C357.4,360.5 357.1,359.4 356.8,358.6 C356.6,357.8 356.5,356.8 356.7,356.0 C357.0,355.2 358.2,354.7 358.5,353.9 C358.9,353.2 358.7,352.4 359.0,351.6 C359.3,350.7 359.6,349.3 360.3,348.9 C361.1,348.5 362.6,348.9 363.6,349.0 C364.6,349.0 365.4,349.3 366.3,349.4 C367.3,349.5 368.5,349.2 369.2,349.7 C369.9,350.1 369.9,351.4 370.3,352.1 C370.8,352.8 371.6,353.1 372.1,353.8 C372.5,354.4 372.9,355.2 373.0,356.0 Z" fill="#ebe7e2" filter="url(#b1)"/>
<path d="M155.0,296.0 C155.0,296.4 154.9,296.8 154.8,297.2 C154.7,297.6 154.8,298.2 154.4,298.5 C154.1,298.8 153.1,298.6 152.6,299.0 C152.0,299.3 151.8,300.5 151.2,300.5 C150.6,300.6 149.8,299.5 149.1,299.3 C148.4,299.1 147.5,299.7 147.0,299.5 C146.4,299.4 146.2,298.7 145.7,298.4 C145.1,298.1 143.8,297.9 143.6,297.5 C143.5,297.1 144.6,296.5 144.7,296.0 C144.9,295.5 144.5,295.1 144.7,294.7 C144.8,294.3 145.2,293.9 145.7,293.6 C146.1,293.3 146.7,293.0 147.3,292.9 C147.9,292.7 148.5,292.9 149.1,292.8 C149.8,292.7 150.4,292.1 151.0,292.2 C151.6,292.2 151.9,292.9 152.6,293.1 C153.2,293.2 154.4,293.0 154.8,293.3 C155.1,293.6 154.7,294.4 154.8,294.8 C154.8,295.3 155.0,295.6 155.0,296.0 Z" fill="#ebe7e2" filter="url(#b1)"/>
<path d="M323.6,30.0 C324.1,31.3 320.8,33.0 319.0,34.2 C317.2,35.3 314.3,35.5 312.9,36.8 C311.5,38.1 312.7,41.4 310.8,42.1 C309.0,42.9 304.5,41.3 301.7,41.5 C298.9,41.6 295.9,43.5 293.8,43.0 C291.6,42.6 290.6,39.7 288.9,38.6 C287.1,37.6 285.7,37.4 283.2,36.8 C280.7,36.1 275.5,35.9 273.8,34.8 C272.2,33.7 272.3,31.4 273.5,30.0 C274.7,28.6 279.6,27.9 280.9,26.6 C282.2,25.3 280.2,23.5 281.3,22.4 C282.4,21.2 285.1,20.4 287.3,19.9 C289.5,19.4 292.2,19.3 294.6,19.3 C296.9,19.3 299.0,19.7 301.3,19.9 C303.6,20.0 306.4,19.7 308.3,20.3 C310.2,20.9 311.3,22.3 312.7,23.3 C314.0,24.3 314.5,25.2 316.4,26.4 C318.2,27.5 323.2,28.7 323.6,30.0 Z" fill="#ebe7e2" filter="url(#b1)"/>
<path d="M331.0,40.0 C331.0,41.0 327.5,41.9 326.8,43.1 C326.2,44.3 327.8,46.3 326.9,47.1 C326.0,48.0 323.0,47.4 321.5,48.0 C320.0,48.6 319.1,50.5 317.6,50.7 C316.2,50.9 314.4,49.6 312.7,49.3 C311.0,49.0 309.2,49.4 307.7,49.0 C306.3,48.6 304.4,47.7 303.8,46.7 C303.2,45.7 304.8,43.9 304.2,42.8 C303.5,41.7 300.1,41.0 299.9,40.0 C299.8,39.0 302.8,38.1 303.5,37.0 C304.2,35.9 303.6,34.7 304.3,33.6 C304.9,32.4 305.8,31.0 307.2,30.3 C308.5,29.7 310.7,29.8 312.5,29.7 C314.2,29.5 316.1,28.9 317.7,29.3 C319.2,29.6 320.1,31.3 321.5,32.0 C322.8,32.7 324.8,32.8 325.7,33.6 C326.6,34.4 325.8,35.9 326.7,37.0 C327.6,38.0 331.0,39.0 331.0,40.0 Z" fill="#ebe7e2" filter="url(#b1)"/>
<path d="M443.1,140.0 C443.1,140.3 443.0,140.7 442.9,141.1 C442.8,141.4 442.5,141.6 442.3,141.9 C442.0,142.2 441.9,142.6 441.6,142.7 C441.3,142.9 440.9,142.9 440.5,142.9 C440.2,143.0 439.8,143.0 439.5,142.9 C439.2,142.8 438.9,142.5 438.7,142.3 C438.4,142.1 438.3,141.9 438.0,141.7 C437.7,141.5 437.1,141.4 437.1,141.1 C437.0,140.8 437.5,140.4 437.4,140.0 C437.4,139.6 437.0,139.2 437.0,138.9 C437.0,138.6 437.4,138.3 437.7,138.0 C437.9,137.8 438.3,137.7 438.6,137.5 C438.9,137.3 439.1,136.8 439.4,136.8 C439.7,136.7 440.2,137.0 440.5,137.2 C440.8,137.3 441.1,137.4 441.5,137.5 C441.8,137.6 442.3,137.6 442.5,137.9 C442.8,138.1 442.7,138.6 442.8,139.0 C442.9,139.3 443.1,139.7 443.1,140.0 Z" fill="#ebe7e2" filter="url(#b1)"/>
<path d="M269.5,134 C280,190 290,250 313,363" fill="none" stroke="#3d2832" stroke-width="5" stroke-linecap="round"/>
<ellipse cx="242" cy="176" rx="5" ry="4.5" fill="#2a1e22"/>
</g>
<rect x="512" y="22" width="5" height="395" fill="#f4f1ec"/>
<g clip-path="url(#cpaR)">
<rect x="517" y="22" width="333" height="395" fill="url(#gaR)"/>
<ellipse cx="820" cy="60" rx="60" ry="90" fill="#e4e3e2" opacity="0.8" filter="url(#b16)"/>
<ellipse cx="675" cy="235" rx="125" ry="165" fill="#d9d0bd" opacity="0.75" filter="url(#b16)"/>
<path d="M622,290 C630,270 640,275 640,295 C645,310 655,320 668,340 C680,360 692,370 693,400 L684,400 C678,380 665,360 650,345 C635,335 618,320 622,290 Z" fill="#e9cf78" opacity="0.75" filter="url(#b2)"/>
<path d="M702,240 C710,236 716,250 722,270 C728,290 726,305 718,312 C710,300 706,280 702,260 Z" fill="#eadcae" opacity="0.7" filter="url(#b2)"/>
<ellipse cx="697" cy="283" rx="4" ry="5" fill="#e8c070" opacity="0.8"/>
<line x1="647.4" y1="89.7" x2="678.9" y2="327.5" stroke="#5c5868" stroke-width="1.6"/>
<circle cx="724" cy="59" r="3" fill="#8a7e60" opacity="0.8"/>
<circle cx="653" cy="47" r="2" fill="#8a7e60" opacity="0.8"/>
<circle cx="751" cy="80" r="2.5" fill="#8a7e60" opacity="0.8"/>
<circle cx="535" cy="357" r="2" fill="#8a7e60" opacity="0.8"/>
<circle cx="540" cy="393" r="2" fill="#8a7e60" opacity="0.8"/>
<circle cx="765" cy="99" r="2" fill="#8a7e60" opacity="0.8"/>
</g>
<g clip-path="url(#cpbL)">
<rect x="855" y="24" width="400" height="395" fill="url(#gbL)"/>
<rect x="855" y="24" width="400" height="395" fill="url(#gbL2)"/>
<path d="M1008.7,99.8 C1011.8,105.5 1024.5,119.7 1030.7,128.5 C1036.9,137.3 1042.3,145.3 1046.0,152.7 C1049.7,160.0 1048.6,164.9 1052.7,172.6 C1056.8,180.3 1066.7,190.9 1070.4,199.0 C1074.1,207.1 1073.3,212.9 1074.8,221.0 C1076.3,229.1 1075.9,239.8 1079.2,247.5 C1082.5,255.2 1088.3,261.1 1094.6,267.3 C1100.8,273.6 1110.8,281.1 1116.7,285.0 C1122.6,288.9 1126.5,290.2 1129.9,290.4 C1133.3,290.6 1135.5,289.9 1137.0,286.0 C1138.5,282.1 1139.2,273.7 1138.7,267.3 C1138.2,260.9 1136.9,253.7 1134.3,247.5 C1131.7,241.3 1127.0,235.0 1123.3,229.9 C1119.6,224.8 1115.2,221.8 1112.2,216.7 C1109.2,211.5 1109.3,204.9 1105.6,199.0 C1101.9,193.1 1095.3,187.6 1090.2,181.4 C1085.1,175.2 1080.3,167.8 1074.8,161.6 C1069.3,155.3 1063.3,150.5 1057.1,143.9 C1050.8,137.3 1043.7,130.0 1037.3,121.9 C1030.9,113.8 1022.8,100.1 1018.6,95.4 C1014.4,90.8 1013.6,93.3 1012.0,94.0 C1010.4,94.7 1005.6,94.0 1008.7,99.8 Z" fill="#7c6068" filter="url(#b1)"/>
<path d="M1022,106 C1050,150 1095,215 1132,290" stroke="#4a3640" stroke-width="2.2" fill="none" filter="url(#b1)"/>
<ellipse cx="1128" cy="262" rx="16" ry="30" transform="rotate(-20 1128 262)" fill="#a69498" opacity="0.35" filter="url(#b2)"/>
<path d="M1122,225 C1150,232 1155,268 1138,296" stroke="#a09094" stroke-width="1.5" fill="none"/>
<path d="M1052,176 C1050,200 1048,220 1044,238" stroke="#8e8084" stroke-width="1.5" fill="none"/>
<path d="M1080,240 C1090,265 1105,285 1125,296" stroke="#b0a4a4" stroke-width="1.2" fill="none"/>
</g>
<g clip-path="url(#cpbR)">
<rect x="1255" y="24" width="392" height="395" fill="url(#gbR)"/>
<ellipse cx="1462" cy="235" rx="12" ry="45" transform="rotate(-27 1462 235)" fill="#d6ccbc" opacity="0.55" filter="url(#b2)"/>
<path d="M1374.5,114.8 C1375.1,118.4 1381.2,124.8 1385.2,130.6 C1389.3,136.5 1394.2,143.3 1398.7,149.8 C1403.2,156.3 1407.7,162.9 1412.2,169.9 C1416.7,176.9 1421.1,184.2 1425.6,191.9 C1430.1,199.6 1434.6,207.6 1439.0,215.8 C1443.3,224.0 1447.8,232.8 1451.7,241.4 C1455.7,249.9 1459.2,258.4 1462.5,266.9 C1465.9,275.4 1468.9,284.0 1471.9,292.4 C1474.8,300.7 1477.7,309.5 1480.3,317.0 C1482.9,324.6 1485.3,333.2 1487.3,337.8 C1489.3,342.4 1490.3,344.0 1492.3,344.6 C1494.4,345.2 1498.6,343.2 1499.7,341.4 C1500.7,339.7 1499.7,338.9 1498.7,334.2 C1497.7,329.4 1495.8,320.7 1493.7,313.0 C1491.6,305.2 1488.8,296.3 1486.1,287.6 C1483.4,279.0 1480.8,270.0 1477.5,261.1 C1474.2,252.3 1470.3,243.5 1466.3,234.6 C1462.2,225.8 1457.7,216.6 1453.0,208.2 C1448.4,199.8 1443.3,191.8 1438.4,184.1 C1433.5,176.4 1428.7,169.1 1423.8,162.1 C1419.0,155.1 1414.1,148.7 1409.3,142.2 C1404.4,135.7 1399.4,128.9 1394.8,123.4 C1390.1,117.9 1384.9,110.6 1381.5,109.2 C1378.1,107.8 1373.9,111.2 1374.5,114.8 Z" fill="#c4b48c" stroke="#6e6250" stroke-width="1.6" filter="url(#b1)"/>
<path d="M1381,117 C1410,160 1460,240 1493,338" stroke="#e6dcc0" stroke-width="2" fill="none"/>
<path d="M1386,116 C1416,162 1466,240 1497,336" stroke="#8a7a60" stroke-width="1" fill="none" opacity="0.6"/>
<path d="M1497,265 C1525,272 1530,320 1500,342" stroke="#c8beb6" stroke-width="1.5" fill="none"/>
<path d="M1418,215 C1412,240 1405,262 1395,285" stroke="#9a9088" stroke-width="1" fill="none"/>
</g>
<g clip-path="url(#cpcL)">
<rect x="1654" y="24" width="397" height="395" fill="url(#gcL)"/>
<rect x="1654" y="24" width="397" height="395" fill="url(#gcL2)" mask="url(#mcL)"/>
<ellipse cx="1895" cy="42" rx="55" ry="20" fill="#e2e4e0" opacity="0.9" filter="url(#b8)"/>
<ellipse cx="1760" cy="150" rx="90" ry="80" fill="#dcd9d5" opacity="0.7" filter="url(#b16)"/>
<path d="M1806,104 C1818,140 1832,170 1846,196" stroke="#8e8888" stroke-width="1.6" fill="none"/>
<path d="M1810,102 C1822,140 1836,170 1849,196" stroke="#9a9494" stroke-width="1.6" fill="none"/>
<path d="M1842,190 C1848,210 1850,228 1852,246 L1872,246 C1862,230 1856,212 1850,190 Z" fill="#6e5e62" filter="url(#b1)"/>
<path d="M1852.0,244.0 C1858.0,239.8 1864.0,242.3 1872.0,243.0 C1880.0,243.7 1891.2,245.2 1900.0,248.0 C1908.8,250.8 1918.3,255.0 1925.0,260.0 C1931.7,265.0 1936.5,271.3 1940.0,278.0 C1943.5,284.7 1946.0,292.2 1946.0,300.0 C1946.0,307.8 1943.5,317.8 1940.0,325.0 C1936.5,332.2 1931.7,338.5 1925.0,343.0 C1918.3,347.5 1908.8,350.7 1900.0,352.0 C1891.2,353.3 1880.3,353.0 1872.0,351.0 C1863.7,349.0 1856.2,345.2 1850.0,340.0 C1843.8,334.8 1838.3,327.5 1835.0,320.0 C1831.7,312.5 1829.8,303.7 1830.0,295.0 C1830.2,286.3 1832.3,276.5 1836.0,268.0 C1839.7,259.5 1846.0,248.2 1852.0,244.0 Z" fill="#2e1e21" filter="url(#b1)"/>
<path d="M1850,326 C1870,322 1910,320 1932,322 C1925,340 1905,350 1880,350 C1862,348 1852,338 1850,326 Z" fill="#3e2228" opacity="0.9" filter="url(#b1)"/>
<circle cx="1846" cy="254" r="2.5" fill="#e8e4e4"/>
</g>
<g clip-path="url(#cpcR)">
<rect x="2051" y="24" width="414" height="395" fill="url(#gcR)"/>
<path d="M2300,350 C2360,338 2420,334 2475,336 L2475,392 L2310,392 Z" fill="#6c6662" opacity="0.85" filter="url(#b8)"/>
<path d="M2240.0,255.0 C2246.7,252.7 2253.3,256.7 2262.0,258.0 C2270.7,259.3 2281.5,259.7 2292.0,263.0 C2302.5,266.3 2315.3,271.0 2325.0,278.0 C2334.7,285.0 2345.5,295.5 2350.0,305.0 C2354.5,314.5 2354.5,325.0 2352.0,335.0 C2349.5,345.0 2343.7,356.5 2335.0,365.0 C2326.3,373.5 2311.7,381.3 2300.0,386.0 C2288.3,390.7 2276.7,393.2 2265.0,393.0 C2253.3,392.8 2239.8,390.2 2230.0,385.0 C2220.2,379.8 2211.2,371.2 2206.0,362.0 C2200.8,352.8 2199.2,340.3 2199.0,330.0 C2198.8,319.7 2201.2,309.7 2205.0,300.0 C2208.8,290.3 2216.2,279.5 2222.0,272.0 C2227.8,264.5 2233.3,257.3 2240.0,255.0 Z" fill="#b3a690" stroke="#d2ac66" stroke-width="11" opacity="0.7" filter="url(#b2)"/>
<ellipse cx="2262" cy="335" rx="22" ry="14" fill="#c8aa70" opacity="0.5" filter="url(#b4)"/>
<path d="M2209.7,72.0 C2210.4,77.5 2211.9,93.0 2214.0,105.0 C2216.1,117.0 2217.2,128.5 2222.0,144.0 C2226.8,159.5 2233.8,177.9 2242.7,197.9 C2251.6,217.9 2266.1,242.5 2275.7,263.8 C2285.3,285.1 2296.3,315.3 2300.4,325.6 " stroke="#4a443e" stroke-width="3" fill="none"/>
<path d="M2209.7,72.0 C2210.4,77.5 2211.9,93.0 2214.0,105.0 C2216.1,117.0 2217.2,128.5 2222.0,144.0 C2226.8,159.5 2233.8,177.9 2242.7,197.9 C2251.6,217.9 2266.1,242.5 2275.7,263.8 C2285.3,285.1 2296.3,315.3 2300.4,325.6 " pathLength="100" stroke-dasharray="27 200" stroke="#e6d29a" stroke-width="4.5" fill="none"/>
<path d="M2232,232 C2226,250 2222,270 2222,290 L2240,300 C2240,270 2238,250 2236,232 Z" fill="#b0a48e" opacity="0.6" filter="url(#b4)"/>
<ellipse cx="2405" cy="146" rx="6" ry="4" fill="#d8d0c4" opacity="0.8"/>
</g>
<rect x="24" y="20.5" width="827" height="398" fill="none" stroke="#0000ff" stroke-width="4"/>
<rect x="853.5" y="22.3" width="797" height="398.8" fill="none" stroke="#0000ff" stroke-width="3.8"/>
<rect x="1652" y="22.5" width="814.5" height="397.5" fill="none" stroke="#0000ff" stroke-width="3.5"/>
<rect x="1647.5" y="22.5" width="6" height="398" fill="#0000ff"/>
<text x="37" y="56.6" style="font-family:'Liberation Sans',Arial,sans-serif;font-size:44px">a</text>
<text transform="translate(868.8,60) scale(1.2,1)" style="font-family:'Liberation Sans',Arial,sans-serif;font-size:42px">b</text>
<text transform="translate(1674.2,68.5) scale(1.18,1)" style="font-family:'Liberation Sans',Arial,sans-serif;font-size:44px">c</text>
<g>
<path d="M78.6,912.7 80.1,912.6 81.6,912.4 83.1,912.1 84.5,911.5 86.0,909.0 87.5,903.6 89.0,896.0 90.5,888.3 92.0,881.0 93.4,875.1 94.9,870.2 96.4,869.8 97.9,876.1 99.4,884.8 100.9,892.0 102.4,897.5 103.8,900.5 105.3,902.2 106.8,904.2 108.3,906.8 109.8,908.8 111.3,909.3 112.8,907.7 114.2,904.3 115.7,900.1 117.2,895.6 118.7,893.0 120.2,893.3 121.7,894.5 123.1,896.9 124.6,900.7 126.1,903.6 127.6,904.7 129.1,906.6 130.6,907.8 132.1,908.0 133.5,908.6 135.0,909.9 136.5,911.7 138.0,912.9 139.5,912.0 141.0,910.1 142.5,909.9 143.9,911.4 145.4,912.3 146.9,911.9 148.4,912.1 149.9,911.9 151.4,910.0 152.8,907.4 154.3,905.5 155.8,904.8 157.3,903.9 158.8,901.0 160.3,899.4 161.8,900.6 163.2,904.0 164.7,907.7 166.2,910.4 167.7,912.9 169.2,914.7 170.7,915.9 172.2,916.2 173.6,914.6 175.1,912.2 176.6,910.1 178.1,909.3 179.6,909.4 181.1,910.1 182.5,911.2 184.0,910.0 185.5,907.1 187.0,905.4 188.5,905.4 190.0,905.0 191.5,906.5 192.9,908.7 194.4,909.3 195.9,910.0 197.4,911.2 198.9,912.5 200.4,912.9 201.9,913.1 203.3,912.9 204.8,912.5 206.3,911.1 207.8,907.2 209.3,902.0 210.8,896.7 212.2,891.9 213.7,888.0 215.2,885.6 216.7,885.7 218.2,888.5 219.7,893.3 221.2,898.5 222.6,902.5 224.1,904.2 225.6,904.9 227.1,905.6 228.6,904.3 230.1,899.8 231.6,894.5 233.0,889.9 234.5,887.5 236.0,888.0 237.5,892.2 239.0,898.8 240.5,904.5 241.9,907.3 243.4,908.3 244.9,907.5 246.4,906.7 247.9,906.9 249.4,905.5 250.9,903.2 252.3,900.5 253.8,896.1 255.3,890.3 256.8,884.8 258.3,881.0 259.8,880.1 261.3,882.4 262.7,886.9 264.2,892.5 265.7,898.6 267.2,903.2 268.7,905.7 270.2,906.5 271.6,907.7 273.1,908.3 274.6,908.2 276.1,910.1 277.6,913.1 279.1,915.0 280.6,915.0 282.0,914.4 283.5,913.0 285.0,910.8 286.5,908.5 288.0,907.9 289.5,908.5 291.0,908.6 292.4,907.3 293.9,905.8 295.4,907.0 296.9,909.9 298.4,911.8 299.9,912.3 301.4,912.3 302.8,913.6 304.3,916.0 305.8,917.4 307.3,918.1 308.8,917.8 310.3,915.4 311.7,912.9 313.2,911.1 314.7,909.7 316.2,909.3 317.7,908.6 319.2,907.4 320.7,905.2 322.1,901.2 323.6,894.9 325.1,888.7 326.6,883.5 328.1,881.3 329.6,884.2 331.0,890.6 332.5,898.6 334.0,905.2 335.5,909.1 337.0,910.6 338.5,910.7 340.0,910.3 341.4,910.4 342.9,911.4 344.4,911.3 345.9,910.7 347.4,910.2 348.9,909.1 350.4,908.6 351.8,907.9 353.3,907.0 354.8,906.4 356.3,907.1 357.8,907.1 359.3,905.9 360.8,903.7 362.2,901.7 363.7,901.1 365.2,902.1 366.7,904.4 368.2,906.1 369.7,906.2 371.1,906.1 372.6,906.6 374.1,907.2 375.6,907.6 377.1,909.0 378.6,909.7 380.1,909.8 381.5,909.8 383.0,909.7 384.5,909.2 386.0,909.6 387.5,910.8 389.0,911.4 390.4,911.0 391.9,909.0 393.4,908.3 394.9,909.8 396.4,910.1 397.9,908.7 399.4,907.5 400.8,907.6 402.3,907.7 403.8,907.7 405.3,907.9 406.8,908.5 408.3,909.3 409.8,911.2 411.2,913.2 412.7,913.4 414.2,912.6 415.7,911.4 417.2,910.3 418.7,910.5 420.1,911.9 421.6,912.3 423.1,911.6 424.6,909.8 426.1,909.4 427.6,910.6 429.1,912.2 430.5,912.3 432.0,910.1 433.5,909.0 435.0,909.6 436.5,911.6 438.0,911.9 439.5,911.1 440.9,909.9 442.4,908.7 443.9,909.7 445.4,912.0 446.9,912.7 448.4,911.9 449.9,911.3 451.3,912.4 452.8,912.3 454.3,910.7 455.8,909.6 457.3,909.2 458.8,908.6 460.2,907.5 461.7,905.4 463.2,903.4 464.7,902.0 466.2,900.3 467.7,898.3 469.2,896.1 470.6,892.7 472.1,887.8 473.6,882.8 475.1,877.4 476.6,870.6 478.1,864.2 479.5,859.0 481.0,854.9 482.5,852.6 484.0,852.7 485.5,855.9 487.0,862.6 488.5,870.0 489.9,876.0 491.4,881.5 492.9,887.5 494.4,892.7 495.9,897.1 497.4,900.1 498.9,902.3 500.3,904.2 501.8,905.2 503.3,905.8 504.8,906.4 506.3,906.6 507.8,905.5 509.2,903.2 510.7,901.7 512.2,900.8 513.7,901.6 515.2,903.3 516.7,904.7 518.2,905.2 519.6,905.6 521.1,906.8 522.6,909.1 524.1,911.9 525.6,913.7 527.1,915.1 528.6,916.6 530.0,915.1 531.5,913.7 533.0,913.7 534.5,913.9 536.0,912.9 537.5,911.9 538.9,911.9 540.4,911.7 541.9,911.5 543.4,909.6 544.9,906.2 546.4,903.7 547.9,902.1 549.3,900.6 550.8,898.0 552.3,895.2 553.8,894.1 555.3,896.1 556.8,899.2 558.3,901.3 559.7,904.4 561.2,907.4 562.7,909.4 564.2,911.3 565.7,912.8 567.2,912.7 568.6,911.3 570.1,910.1 571.6,909.9 573.1,907.9 574.6,905.4 576.1,904.3 577.6,905.4 579.0,906.7 580.5,906.4 582.0,905.1 583.5,904.3 585.0,904.5 586.5,903.6 588.0,902.4 589.4,901.1 590.9,899.4 592.4,897.6 593.9,894.4 595.4,889.5 596.9,885.2 598.4,881.8 599.8,878.7 601.3,874.9 602.8,871.0 604.3,867.9 605.8,864.2 607.3,862.1 608.7,863.5 610.2,866.1 611.7,869.0 613.2,873.0 614.7,878.1 616.2,883.7 617.7,888.1 619.1,891.3 620.6,894.1 622.1,895.9 623.6,898.9 625.1,902.4 626.6,904.5 628.0,905.6 629.5,906.0 631.0,906.2 632.5,907.2 634.0,908.6 635.5,908.9 637.0,908.5 638.4,908.2 639.9,907.6 641.4,907.8 642.9,906.8 644.4,904.1 645.9,901.0 647.4,899.6 648.8,898.3 650.3,897.8 651.8,899.8 653.3,902.9 654.8,905.8 656.3,908.4 657.8,910.3 659.2,911.1 660.7,910.4 662.2,909.7 663.7,910.7 665.2,912.5 666.7,913.9 668.1,914.9 669.6,916.0 671.1,916.7 672.6,917.0 674.1,916.4 675.6,916.1 677.1,915.3 678.5,914.5 680.0,913.8 681.5,912.8 683.0,910.9 684.5,908.6 686.0,906.6 687.5,905.3 688.9,904.1 690.4,903.4 691.9,903.4 693.4,904.1 694.9,904.8 696.4,906.9 697.8,910.4 699.3,913.1 700.8,914.6 702.3,915.8 703.8,915.8 705.3,913.7 706.8,912.3 708.2,912.4 709.7,913.7 711.2,914.9 712.7,915.6 714.2,915.8 715.7,914.9 717.1,914.0 718.6,914.1 720.1,914.1 721.6,911.0 723.1,905.0 724.6,898.6 726.1,893.7 727.5,891.1 729.0,890.8 730.5,892.4 732.0,896.2 733.5,899.5 735.0,901.1 736.5,900.8 737.9,898.3 739.4,892.9 740.9,884.8 742.4,875.4 743.9,869.3 745.4,867.4 746.9,869.7 748.3,876.8 749.8,886.6 751.3,895.5 752.8,902.4 754.3,906.4 755.8,908.6 757.2,910.4 758.7,912.0 760.2,913.3 761.7,913.6 763.2,913.4 764.7,914.0 766.2,914.9 767.6,914.6 769.1,913.7 770.6,913.0 772.1,912.5 773.6,911.9 775.1,912.4 776.5,913.1 778.0,913.3 779.5,912.5 781.0,911.4 782.5,911.9 784.0,913.3 785.5,913.5 786.9,913.8 788.4,914.8 789.9,914.5 791.4,912.6 792.9,911.9 794.4,911.8 795.9,910.8 797.3,909.5 798.8,909.0 800.3,909.1 801.8,910.7 803.3,911.6 804.8,910.9 806.2,909.6 807.7,908.5 809.2,907.3 810.7,907.0 812.2,908.0 813.7,910.0 815.2,912.0 816.6,911.9 818.1,910.5 819.6,910.3 821.1,911.1 822.6,910.8 824.1,909.7 825.6,909.4 827.0,910.7 828.5,912.1 830.0,914.8 831.5,918.6 833.0,920.6 834.5,920.8 835.9,919.9 837.4,918.9 838.9,918.7 840.4,918.9 841.9,918.0 843.4,916.4 844.9,915.3 846.3,915.7 847.8,915.6 849.3,914.5 850.8,914.3" fill="none" stroke="#008000" stroke-width="3.2" stroke-linejoin="round" stroke-linecap="round"/>
<path d="M78.6,887.5 80.1,885.8 81.6,885.0 83.1,883.5 84.5,881.5 86.0,878.4 87.5,873.9 89.0,867.2 90.5,858.4 92.0,849.8 93.4,843.6 94.9,842.1 96.4,844.5 97.9,849.7 99.4,856.2 100.9,861.9 102.4,866.5 103.8,871.0 105.3,874.9 106.8,878.1 108.3,880.9 109.8,882.4 111.3,881.7 112.8,878.7 114.2,873.8 115.7,868.8 117.2,864.5 118.7,862.2 120.2,863.4 121.7,867.1 123.1,870.7 124.6,873.7 126.1,877.5 127.6,881.8 129.1,885.5 130.6,886.9 132.1,888.4 133.5,889.6 135.0,888.7 136.5,886.9 138.0,885.7 139.5,884.3 141.0,883.9 142.5,883.1 143.9,881.8 145.4,880.8 146.9,881.1 148.4,881.1 149.9,879.9 151.4,879.3 152.8,878.8 154.3,876.8 155.8,873.1 157.3,871.1 158.8,870.9 160.3,871.6 161.8,874.3 163.2,877.4 164.7,879.1 166.2,880.1 167.7,881.5 169.2,883.6 170.7,884.3 172.2,883.3 173.6,882.2 175.1,883.2 176.6,886.1 178.1,888.9 179.6,889.4 181.1,887.1 182.5,885.2 184.0,883.3 185.5,879.8 187.0,874.9 188.5,871.4 190.0,871.1 191.5,873.2 192.9,876.9 194.4,879.4 195.9,880.3 197.4,882.7 198.9,885.3 200.4,887.5 201.9,887.9 203.3,886.6 204.8,884.4 206.3,882.8 207.8,880.3 209.3,875.3 210.8,869.1 212.2,861.6 213.7,852.6 215.2,846.0 216.7,846.6 218.2,853.1 219.7,861.4 221.2,869.3 222.6,874.3 224.1,876.2 225.6,877.0 227.1,876.5 228.6,874.4 230.1,871.1 231.6,866.0 233.0,859.6 234.5,855.5 236.0,858.1 237.5,865.4 239.0,871.7 240.5,876.6 241.9,880.3 243.4,882.4 244.9,883.2 246.4,883.3 247.9,882.0 249.4,880.3 250.9,877.8 252.3,873.5 253.8,866.9 255.3,859.4 256.8,852.6 258.3,847.7 259.8,845.7 261.3,848.1 262.7,854.9 264.2,862.5 265.7,869.2 267.2,873.4 268.7,875.5 270.2,878.3 271.6,881.6 273.1,883.2 274.6,884.4 276.1,885.7 277.6,886.3 279.1,885.8 280.6,885.3 282.0,883.2 283.5,880.7 285.0,879.8 286.5,880.0 288.0,880.1 289.5,881.7 291.0,885.6 292.4,889.1 293.9,890.7 295.4,892.1 296.9,893.5 298.4,894.6 299.9,894.8 301.4,894.9 302.8,893.6 304.3,891.3 305.8,889.4 307.3,887.1 308.8,885.4 310.3,885.0 311.7,885.3 313.2,885.6 314.7,886.3 316.2,886.5 317.7,884.6 319.2,881.4 320.7,877.6 322.1,872.7 323.6,865.9 325.1,857.6 326.6,850.8 328.1,848.1 329.6,850.5 331.0,856.2 332.5,863.3 334.0,870.2 335.5,875.0 337.0,879.6 338.5,882.5 340.0,882.6 341.4,882.0 342.9,883.9 344.4,885.6 345.9,886.1 347.4,885.8 348.9,886.4 350.4,887.3 351.8,888.9 353.3,889.8 354.8,888.6 356.3,885.1 357.8,882.7 359.3,882.3 360.8,881.4 362.2,879.8 363.7,879.4 365.2,878.6 366.7,878.1 368.2,878.9 369.7,880.8 371.1,882.8 372.6,884.3 374.1,885.6 375.6,887.1 377.1,888.9 378.6,889.8 380.1,890.1 381.5,890.2 383.0,889.4 384.5,888.7 386.0,888.5 387.5,888.0 389.0,886.7 390.4,885.7 391.9,885.4 393.4,884.1 394.9,882.3 396.4,881.7 397.9,882.6 399.4,884.1 400.8,884.6 402.3,884.3 403.8,885.2 405.3,886.5 406.8,887.0 408.3,886.2 409.8,884.3 411.2,883.1 412.7,883.9 414.2,885.4 415.7,885.5 417.2,885.4 418.7,886.3 420.1,887.2 421.6,888.5 423.1,888.7 424.6,888.9 426.1,888.6 427.6,888.0 429.1,887.1 430.5,885.9 432.0,885.5 433.5,886.3 435.0,888.4 436.5,889.7 438.0,889.5 439.5,889.2 440.9,888.6 442.4,887.9 443.9,887.1 445.4,887.4 446.9,888.2 448.4,889.0 449.9,889.7 451.3,890.2 452.8,889.1 454.3,887.4 455.8,886.0 457.3,884.7 458.8,883.4 460.2,882.1 461.7,882.1 463.2,880.3 464.7,876.6 466.2,873.5 467.7,869.6 469.2,864.3 470.6,859.1 472.1,853.4 473.6,845.9 475.1,835.8 476.6,824.3 478.1,814.6 479.5,808.0 481.0,803.3 482.5,801.3 484.0,802.8 485.5,807.6 487.0,815.4 488.5,824.0 489.9,832.9 491.4,842.5 492.9,849.5 494.4,855.0 495.9,859.8 497.4,863.4 498.9,866.6 500.3,869.5 501.8,872.2 503.3,874.7 504.8,876.2 506.3,876.5 507.8,876.9 509.2,877.6 510.7,877.9 512.2,878.5 513.7,878.1 515.2,878.4 516.7,880.0 518.2,880.5 519.6,880.4 521.1,882.2 522.6,884.2 524.1,884.2 525.6,882.6 527.1,882.3 528.6,882.9 530.0,883.8 531.5,884.6 533.0,885.2 534.5,885.3 536.0,885.5 537.5,887.0 538.9,888.0 540.4,886.9 541.9,885.2 543.4,883.8 544.9,881.9 546.4,879.8 547.9,877.6 549.3,874.9 550.8,871.9 552.3,868.5 553.8,865.5 555.3,864.4 556.8,866.0 558.3,869.6 559.7,873.2 561.2,874.5 562.7,874.9 564.2,875.4 565.7,875.3 567.2,875.2 568.6,875.7 570.1,875.7 571.6,874.0 573.1,872.4 574.6,872.6 576.1,873.3 577.6,873.6 579.0,874.0 580.5,873.9 582.0,873.6 583.5,873.9 585.0,875.3 586.5,875.6 588.0,874.3 589.4,872.3 590.9,870.0 592.4,868.4 593.9,867.0 595.4,863.9 596.9,859.3 598.4,854.1 599.8,849.0 601.3,843.8 602.8,839.2 604.3,833.6 605.8,828.3 607.3,826.2 608.7,827.6 610.2,831.1 611.7,836.5 613.2,842.8 614.7,848.7 616.2,853.3 617.7,857.4 619.1,860.7 620.6,863.5 622.1,866.4 623.6,869.5 625.1,870.9 626.6,871.2 628.0,872.3 629.5,875.1 631.0,878.2 632.5,879.6 634.0,881.7 635.5,884.4 637.0,885.1 638.4,883.8 639.9,882.3 641.4,881.8 642.9,880.2 644.4,876.2 645.9,871.9 647.4,868.7 648.8,866.9 650.3,866.8 651.8,867.1 653.3,867.5 654.8,869.9 656.3,875.0 657.8,880.9 659.2,885.5 660.7,888.4 662.2,890.4 663.7,892.8 665.2,894.0 666.7,893.5 668.1,892.6 669.6,891.9 671.1,890.6 672.6,889.9 674.1,890.4 675.6,889.8 677.1,889.2 678.5,889.2 680.0,888.8 681.5,887.8 683.0,886.9 684.5,886.9 686.0,886.1 687.5,884.9 688.9,883.5 690.4,881.6 691.9,879.6 693.4,877.1 694.9,873.9 696.4,872.3 697.8,873.1 699.3,874.5 700.8,875.7 702.3,876.8 703.8,878.8 705.3,881.8 706.8,883.5 708.2,884.3 709.7,885.4 711.2,886.2 712.7,886.9 714.2,886.9 715.7,885.9 717.1,883.9 718.6,880.9 720.1,876.6 721.6,872.2 723.1,867.0 724.6,861.3 726.1,857.3 727.5,855.9 729.0,857.8 730.5,862.7 732.0,868.7 733.5,872.8 735.0,874.7 736.5,875.6 737.9,873.6 739.4,867.6 740.9,858.9 742.4,849.3 743.9,841.0 745.4,837.4 746.9,840.5 748.3,847.4 749.8,856.3 751.3,865.3 752.8,872.4 754.3,876.5 755.8,879.9 757.2,882.7 758.7,883.3 760.2,883.3 761.7,883.9 763.2,885.0 764.7,885.9 766.2,886.3 767.6,886.5 769.1,886.3 770.6,885.4 772.1,883.9 773.6,882.7 775.1,883.1 776.5,885.3 778.0,888.2 779.5,889.3 781.0,889.0 782.5,889.1 784.0,888.9 785.5,887.4 786.9,886.2 788.4,886.2 789.9,886.3 791.4,886.7 792.9,887.9 794.4,888.8 795.9,888.7 797.3,888.0 798.8,887.0 800.3,885.6 801.8,883.9 803.3,882.4 804.8,881.4 806.2,880.7 807.7,878.8 809.2,875.9 810.7,875.1 812.2,876.1 813.7,877.5 815.2,879.0 816.6,880.0 818.1,880.5 819.6,881.4 821.1,882.5 822.6,883.2 824.1,883.3 825.6,883.7 827.0,884.4 828.5,884.2 830.0,883.7 831.5,885.3 833.0,887.9 834.5,889.8 835.9,890.2 837.4,889.4 838.9,888.5 840.4,889.0 841.9,890.2 843.4,891.2 844.9,892.1 846.3,892.4 847.8,891.7 849.3,891.9 850.8,893.0" fill="none" stroke="#0000ff" stroke-width="3.2" stroke-linejoin="round" stroke-linecap="round"/>
<path d="M78.6,856.6 80.1,855.3 81.6,855.5 83.1,854.8 84.5,853.1 86.0,850.9 87.5,847.5 89.0,842.0 90.5,834.5 92.0,826.9 93.4,819.3 94.9,815.0 96.4,816.9 97.9,823.3 99.4,829.9 100.9,836.5 102.4,842.8 103.8,846.7 105.3,848.5 106.8,849.4 108.3,849.7 109.8,849.5 111.3,848.9 112.8,847.1 114.2,843.2 115.7,838.4 117.2,834.7 118.7,834.5 120.2,837.4 121.7,843.2 123.1,849.3 124.6,854.3 126.1,858.5 127.6,861.2 129.1,863.2 130.6,864.2 132.1,865.1 133.5,864.8 135.0,862.5 136.5,860.9 138.0,860.1 139.5,858.1 141.0,854.9 142.5,851.7 143.9,851.5 145.4,853.9 146.9,856.0 148.4,856.6 149.9,857.2 151.4,858.3 152.8,858.3 154.3,856.0 155.8,851.6 157.3,848.0 158.8,846.5 160.3,845.8 161.8,846.1 163.2,847.7 164.7,851.2 166.2,854.5 167.7,857.4 169.2,860.4 170.7,861.4 172.2,860.4 173.6,859.1 175.1,857.8 176.6,857.1 178.1,857.0 179.6,856.9 181.1,856.2 182.5,854.8 184.0,853.9 185.5,852.1 187.0,849.0 188.5,846.6 190.0,847.5 191.5,851.4 192.9,855.4 194.4,858.3 195.9,860.4 197.4,861.6 198.9,862.0 200.4,861.3 201.9,860.3 203.3,859.1 204.8,857.0 206.3,854.0 207.8,851.4 209.3,847.5 210.8,842.0 212.2,836.4 213.7,831.6 215.2,828.0 216.7,829.2 218.2,835.3 219.7,843.0 221.2,849.4 222.6,854.4 224.1,858.5 225.6,860.7 227.1,860.6 228.6,858.2 230.1,853.0 231.6,847.1 233.0,842.4 234.5,839.9 236.0,841.4 237.5,845.4 239.0,849.9 240.5,854.7 241.9,857.6 243.4,857.8 244.9,856.2 246.4,855.2 247.9,854.3 249.4,851.7 250.9,846.8 252.3,841.4 253.8,837.0 255.3,832.4 256.8,827.9 258.3,823.9 259.8,821.8 261.3,823.6 262.7,829.3 264.2,836.4 265.7,841.7 267.2,846.4 268.7,851.4 270.2,856.1 271.6,858.4 273.1,859.6 274.6,861.0 276.1,861.3 277.6,860.7 279.1,860.8 280.6,859.5 282.0,857.3 283.5,856.8 285.0,858.0 286.5,858.3 288.0,858.0 289.5,858.0 291.0,858.6 292.4,859.3 293.9,860.5 295.4,861.0 296.9,860.6 298.4,859.7 299.9,858.4 301.4,856.5 302.8,856.3 304.3,857.2 305.8,857.9 307.3,858.5 308.8,857.8 310.3,857.2 311.7,857.6 313.2,857.7 314.7,857.2 316.2,856.2 317.7,855.4 319.2,854.2 320.7,850.8 322.1,844.8 323.6,838.6 325.1,832.9 326.6,827.3 328.1,823.2 329.6,823.2 331.0,826.8 332.5,834.2 334.0,843.2 335.5,849.8 337.0,853.4 338.5,856.1 340.0,858.2 341.4,859.7 342.9,860.2 344.4,860.6 345.9,860.8 347.4,860.5 348.9,860.1 350.4,858.9 351.8,857.8 353.3,856.8 354.8,856.4 356.3,856.1 357.8,854.5 359.3,852.4 360.8,851.5 362.2,850.3 363.7,848.9 365.2,848.3 366.7,850.3 368.2,853.4 369.7,855.8 371.1,857.2 372.6,859.5 374.1,862.9 375.6,864.1 377.1,863.0 378.6,862.6 380.1,863.2 381.5,863.6 383.0,863.0 384.5,861.7 386.0,860.2 387.5,858.8 389.0,857.0 390.4,855.7 391.9,855.6 393.4,856.4 394.9,856.9 396.4,855.5 397.9,854.6 399.4,854.0 400.8,854.0 402.3,854.5 403.8,855.3 405.3,857.4 406.8,859.6 408.3,859.4 409.8,858.6 411.2,858.0 412.7,857.8 414.2,857.9 415.7,859.4 417.2,861.5 418.7,863.0 420.1,862.5 421.6,861.0 423.1,860.0 424.6,859.7 426.1,860.4 427.6,860.4 429.1,859.0 430.5,858.3 432.0,858.6 433.5,859.5 435.0,860.0 436.5,860.2 438.0,861.6 439.5,862.8 440.9,862.6 442.4,862.8 443.9,862.7 445.4,862.2 446.9,862.2 448.4,862.1 449.9,860.5 451.3,858.9 452.8,859.0 454.3,858.6 455.8,857.4 457.3,855.6 458.8,854.3 460.2,855.2 461.7,856.0 463.2,854.0 464.7,850.2 466.2,847.2 467.7,844.1 469.2,839.3 470.6,833.0 472.1,825.4 473.6,818.0 475.1,811.2 476.6,804.1 478.1,796.1 479.5,787.8 481.0,783.0 482.5,782.2 484.0,784.8 485.5,789.8 487.0,796.3 488.5,805.0 489.9,814.8 491.4,823.8 492.9,830.9 494.4,837.0 495.9,842.2 497.4,845.3 498.9,848.4 500.3,852.0 501.8,854.5 503.3,855.2 504.8,855.0 506.3,855.5 507.8,856.5 509.2,856.0 510.7,854.1 512.2,851.9 513.7,851.1 515.2,850.9 516.7,850.3 518.2,850.1 519.6,851.9 521.1,854.8 522.6,856.0 524.1,856.5 525.6,856.5 527.1,856.5 528.6,857.5 530.0,859.0 531.5,860.3 533.0,860.5 534.5,859.0 536.0,858.5 537.5,859.9 538.9,862.0 540.4,863.7 541.9,863.6 543.4,862.0 544.9,859.6 546.4,857.6 547.9,854.6 549.3,849.8 550.8,844.4 552.3,840.2 553.8,838.9 555.3,840.8 556.8,844.4 558.3,849.1 559.7,853.7 561.2,857.4 562.7,859.2 564.2,860.1 565.7,861.1 567.2,861.3 568.6,859.3 570.1,857.8 571.6,857.2 573.1,855.3 574.6,853.5 576.1,853.5 577.6,853.6 579.0,852.2 580.5,851.3 582.0,852.3 583.5,853.8 585.0,853.7 586.5,853.3 588.0,853.7 589.4,852.7 590.9,850.2 592.4,848.7 593.9,846.9 595.4,843.0 596.9,837.9 598.4,832.8 599.8,829.4 601.3,824.8 602.8,819.8 604.3,815.4 605.8,811.5 607.3,811.5 608.7,814.2 610.2,817.8 611.7,822.5 613.2,827.4 614.7,831.7 616.2,835.5 617.7,838.3 619.1,840.2 620.6,844.1 622.1,848.4 623.6,850.4 625.1,851.4 626.6,852.8 628.0,855.0 629.5,857.2 631.0,859.8 632.5,861.8 634.0,862.1 635.5,862.7 637.0,863.4 638.4,862.7 639.9,860.7 641.4,858.3 642.9,854.9 644.4,851.6 645.9,849.6 647.4,849.0 648.8,848.3 650.3,847.3 651.8,847.5 653.3,849.7 654.8,851.7 656.3,852.0 657.8,852.0 659.2,853.4 660.7,854.9 662.2,856.3 663.7,857.7 665.2,858.1 666.7,857.6 668.1,857.4 669.6,858.4 671.1,860.3 672.6,862.2 674.1,862.3 675.6,860.4 677.1,858.4 678.5,857.8 680.0,857.4 681.5,857.2 683.0,856.9 684.5,855.7 686.0,854.3 687.5,853.5 688.9,854.0 690.4,853.5 691.9,852.3 693.4,851.8 694.9,851.7 696.4,851.8 697.8,852.1 699.3,852.4 700.8,853.8 702.3,856.3 703.8,858.6 705.3,858.9 706.8,858.7 708.2,858.6 709.7,858.8 711.2,859.7 712.7,861.4 714.2,861.7 715.7,859.7 717.1,858.0 718.6,856.7 720.1,855.0 721.6,851.7 723.1,846.0 724.6,840.6 726.1,837.4 727.5,836.5 729.0,838.4 730.5,842.0 732.0,845.3 733.5,847.8 735.0,849.8 736.5,850.2 737.9,847.6 739.4,841.3 740.9,832.5 742.4,822.4 743.9,813.9 745.4,810.5 746.9,813.6 748.3,821.0 749.8,829.0 751.3,835.8 752.8,842.1 754.3,848.5 755.8,852.4 757.2,854.6 758.7,856.2 760.2,857.8 761.7,859.0 763.2,859.7 764.7,859.6 766.2,857.6 767.6,856.5 769.1,856.3 770.6,857.2 772.1,859.3 773.6,860.7 775.1,861.7 776.5,862.8 778.0,863.3 779.5,864.1 781.0,864.8 782.5,865.4 784.0,865.2 785.5,864.9 786.9,863.9 788.4,862.5 789.9,861.9 791.4,862.5 792.9,862.6 794.4,861.1 795.9,860.7 797.3,861.3 798.8,860.4 800.3,858.6 801.8,857.1 803.3,856.7 804.8,855.8 806.2,854.1 807.7,852.8 809.2,852.3 810.7,852.9 812.2,854.2 813.7,856.1 815.2,859.2 816.6,861.5 818.1,861.5 819.6,861.0 821.1,861.9 822.6,863.3 824.1,864.4 825.6,862.9 827.0,860.7 828.5,860.7 830.0,861.0 831.5,860.0 833.0,859.8 834.5,860.6 835.9,861.2 837.4,861.4 838.9,861.5 840.4,861.5 841.9,861.9 843.4,862.7 844.9,863.2 846.3,863.6 847.8,863.6 849.3,863.2 850.8,863.3" fill="none" stroke="#3c6eb4" stroke-width="3.2" stroke-linejoin="round" stroke-linecap="round"/>
<path d="M78.6,835.3 80.1,834.7 81.6,834.1 83.1,831.8 84.5,828.9 86.0,826.3 87.5,822.2 89.0,816.1 90.5,809.5 92.0,803.3 93.4,797.4 94.9,793.3 96.4,794.2 97.9,800.3 99.4,809.8 100.9,819.3 102.4,826.7 103.8,831.5 105.3,834.5 106.8,836.3 108.3,837.2 109.8,835.9 111.3,832.2 112.8,827.6 114.2,822.5 115.7,817.6 117.2,812.7 118.7,810.2 120.2,812.3 121.7,817.6 123.1,823.9 124.6,829.8 126.1,834.2 127.6,836.0 129.1,837.6 130.6,840.3 132.1,842.1 133.5,841.5 135.0,841.2 136.5,841.4 138.0,840.7 139.5,839.2 141.0,838.3 142.5,837.1 143.9,835.9 145.4,835.0 146.9,834.8 148.4,835.7 149.9,837.0 151.4,837.4 152.8,838.0 154.3,837.5 155.8,835.0 157.3,831.8 158.8,828.6 160.3,826.1 161.8,824.7 163.2,824.7 164.7,827.2 166.2,830.2 167.7,831.0 169.2,833.0 170.7,835.0 172.2,835.7 173.6,836.9 175.1,839.2 176.6,840.4 178.1,839.8 179.6,838.7 181.1,836.9 182.5,834.2 184.0,830.7 185.5,827.5 187.0,825.6 188.5,825.1 190.0,827.1 191.5,830.6 192.9,834.8 194.4,838.2 195.9,839.7 197.4,839.6 198.9,840.6 200.4,842.4 201.9,842.7 203.3,842.4 204.8,842.3 206.3,841.6 207.8,840.0 209.3,836.8 210.8,831.8 212.2,824.5 213.7,817.3 215.2,812.4 216.7,811.6 218.2,814.7 219.7,819.5 221.2,823.9 222.6,827.5 224.1,830.7 225.6,832.6 227.1,832.6 228.6,830.5 230.1,826.4 231.6,819.9 233.0,812.3 234.5,807.2 236.0,808.8 237.5,815.7 239.0,822.5 240.5,827.1 241.9,829.4 243.4,830.6 244.9,830.2 246.4,829.3 247.9,828.1 249.4,825.6 250.9,821.0 252.3,815.9 253.8,810.3 255.3,802.9 256.8,795.2 258.3,790.2 259.8,791.1 261.3,796.9 262.7,804.2 264.2,812.0 265.7,818.7 267.2,823.8 268.7,827.0 270.2,830.0 271.6,832.8 273.1,834.7 274.6,836.8 276.1,836.7 277.6,834.0 279.1,831.3 280.6,830.9 282.0,831.8 283.5,832.3 285.0,832.5 286.5,832.6 288.0,833.4 289.5,833.7 291.0,833.9 292.4,834.7 293.9,835.9 295.4,837.2 296.9,838.2 298.4,839.5 299.9,840.1 301.4,839.0 302.8,837.9 304.3,837.9 305.8,838.5 307.3,839.1 308.8,839.9 310.3,841.2 311.7,842.7 313.2,842.9 314.7,842.0 316.2,841.3 317.7,839.5 319.2,834.6 320.7,828.5 322.1,821.7 323.6,813.8 325.1,804.9 326.6,797.8 328.1,795.8 329.6,798.1 331.0,804.0 332.5,810.9 334.0,817.5 335.5,822.0 337.0,825.5 338.5,829.4 340.0,832.8 341.4,834.5 342.9,835.7 344.4,837.8 345.9,838.8 347.4,839.7 348.9,840.8 350.4,840.9 351.8,840.1 353.3,838.1 354.8,836.4 356.3,836.3 357.8,835.4 359.3,831.5 360.8,825.7 362.2,822.8 363.7,823.2 365.2,825.0 366.7,826.9 368.2,828.7 369.7,829.6 371.1,830.2 372.6,831.9 374.1,835.0 375.6,837.3 377.1,836.9 378.6,836.2 380.1,837.8 381.5,839.6 383.0,840.0 384.5,838.5 386.0,836.1 387.5,834.4 389.0,835.0 390.4,836.6 391.9,837.6 393.4,838.5 394.9,839.8 396.4,839.7 397.9,838.4 399.4,837.1 400.8,836.9 402.3,837.2 403.8,837.2 405.3,837.5 406.8,838.3 408.3,839.2 409.8,839.7 411.2,840.6 412.7,842.0 414.2,844.3 415.7,846.2 417.2,845.4 418.7,844.1 420.1,843.6 421.6,844.0 423.1,842.4 424.6,840.4 426.1,839.6 427.6,838.1 429.1,837.6 430.5,837.8 432.0,838.4 433.5,838.6 435.0,837.0 436.5,835.9 438.0,836.2 439.5,837.0 440.9,836.7 442.4,835.6 443.9,834.3 445.4,833.7 446.9,834.5 448.4,835.9 449.9,838.1 451.3,837.8 452.8,835.3 454.3,834.2 455.8,833.6 457.3,832.7 458.8,832.1 460.2,831.7 461.7,830.6 463.2,829.2 464.7,828.1 466.2,826.1 467.7,822.0 469.2,817.0 470.6,811.3 472.1,804.3 473.6,795.0 475.1,785.0 476.6,775.2 478.1,766.2 479.5,757.9 481.0,751.7 482.5,750.4 484.0,752.3 485.5,755.7 487.0,761.7 488.5,771.3 489.9,780.6 491.4,789.6 492.9,798.9 494.4,806.7 495.9,813.0 497.4,818.3 498.9,822.9 500.3,826.9 501.8,830.1 503.3,831.9 504.8,832.1 506.3,832.9 507.8,832.6 509.2,830.7 510.7,828.1 512.2,826.9 513.7,826.3 515.2,825.5 516.7,825.1 518.2,826.5 519.6,828.6 521.1,830.5 522.6,830.9 524.1,831.6 525.6,832.0 527.1,832.9 528.6,834.9 530.0,836.1 531.5,835.5 533.0,834.0 534.5,834.1 536.0,835.3 537.5,836.2 538.9,837.1 540.4,836.2 541.9,833.4 543.4,830.4 544.9,827.6 546.4,824.3 547.9,820.8 549.3,817.3 550.8,813.7 552.3,810.7 553.8,810.1 555.3,813.2 556.8,818.4 558.3,824.8 559.7,830.4 561.2,833.1 562.7,832.3 564.2,831.7 565.7,832.4 567.2,832.3 568.6,831.7 570.1,830.0 571.6,827.1 573.1,825.0 574.6,823.8 576.1,824.0 577.6,824.2 579.0,824.8 580.5,825.8 582.0,826.0 583.5,825.4 585.0,825.1 586.5,825.5 588.0,825.6 589.4,824.4 590.9,821.5 592.4,819.3 593.9,816.4 595.4,811.9 596.9,806.9 598.4,801.5 599.8,796.8 601.3,792.5 602.8,788.6 604.3,784.0 605.8,780.5 607.3,779.4 608.7,780.0 610.2,782.8 611.7,787.3 613.2,792.0 614.7,796.2 616.2,801.1 617.7,806.5 619.1,812.0 620.6,816.8 622.1,820.7 623.6,824.8 625.1,828.5 626.6,831.1 628.0,833.6 629.5,834.3 631.0,833.6 632.5,833.4 634.0,833.0 635.5,832.7 637.0,832.4 638.4,833.3 639.9,834.1 641.4,834.4 642.9,832.6 644.4,830.5 645.9,828.3 647.4,827.1 648.8,826.9 650.3,828.1 651.8,830.5 653.3,831.7 654.8,831.8 656.3,832.3 657.8,832.9 659.2,833.8 660.7,834.6 662.2,835.8 663.7,836.4 665.2,837.0 666.7,837.7 668.1,839.3 669.6,840.8 671.1,841.0 672.6,840.2 674.1,839.3 675.6,839.0 677.1,839.0 678.5,839.0 680.0,838.5 681.5,837.7 683.0,836.6 684.5,834.5 686.0,832.4 687.5,831.4 688.9,830.3 690.4,828.3 691.9,827.5 693.4,826.6 694.9,826.2 696.4,826.7 697.8,827.7 699.3,829.0 700.8,829.6 702.3,831.5 703.8,834.0 705.3,836.2 706.8,838.8 708.2,839.9 709.7,840.2 711.2,839.6 712.7,838.5 714.2,837.6 715.7,837.0 717.1,835.9 718.6,834.5 720.1,831.2 721.6,826.4 723.1,820.9 724.6,815.1 726.1,810.3 727.5,808.1 729.0,809.2 730.5,812.9 732.0,817.7 733.5,821.9 735.0,823.2 736.5,821.6 737.9,819.2 739.4,814.3 740.9,805.4 742.4,794.6 743.9,786.0 745.4,781.9 746.9,783.2 748.3,790.8 749.8,800.9 751.3,810.1 752.8,818.3 754.3,825.4 755.8,831.9 757.2,836.0 758.7,836.4 760.2,837.0 761.7,838.0 763.2,838.2 764.7,837.9 766.2,837.1 767.6,836.3 769.1,836.7 770.6,838.1 772.1,840.0 773.6,840.9 775.1,840.2 776.5,839.2 778.0,839.2 779.5,839.2 781.0,839.4 782.5,839.6 784.0,839.4 785.5,839.3 786.9,839.4 788.4,839.5 789.9,840.2 791.4,840.8 792.9,840.8 794.4,840.0 795.9,838.9 797.3,838.7 798.8,838.9 800.3,838.6 801.8,837.5 803.3,837.0 804.8,835.3 806.2,832.8 807.7,830.7 809.2,829.9 810.7,828.7 812.2,827.8 813.7,829.0 815.2,831.3 816.6,833.6 818.1,835.5 819.6,837.4 821.1,838.8 822.6,840.8 824.1,842.7 825.6,843.2 827.0,843.3 828.5,843.1 830.0,842.3 831.5,842.0 833.0,841.9 834.5,841.0 835.9,840.3 837.4,841.0 838.9,840.9 840.4,839.4 841.9,837.6 843.4,836.9 844.9,836.5 846.3,836.2 847.8,835.5 849.3,835.6 850.8,835.8" fill="none" stroke="#000000" stroke-width="3.2" stroke-linejoin="round" stroke-linecap="round"/>
<path d="M78.6,820.0 80.1,818.3 81.6,816.3 83.1,813.9 84.5,809.8 86.0,803.3 87.5,796.7 89.0,789.9 90.5,782.0 92.0,773.0 93.4,764.5 94.9,759.4 96.4,761.9 97.9,770.9 99.4,781.3 100.9,790.1 102.4,796.5 103.8,802.4 105.3,806.2 106.8,808.3 108.3,810.4 109.8,811.1 111.3,809.9 112.8,806.9 114.2,803.0 115.7,798.0 117.2,793.4 118.7,791.1 120.2,794.4 121.7,801.5 123.1,808.8 124.6,813.6 126.1,817.0 127.6,820.9 129.1,825.7 130.6,828.0 132.1,826.1 133.5,825.6 135.0,826.8 136.5,826.8 138.0,825.9 139.5,823.8 141.0,821.4 142.5,818.9 143.9,816.9 145.4,816.6 146.9,817.2 148.4,817.2 149.9,815.9 151.4,815.6 152.8,816.4 154.3,815.9 155.8,813.3 157.3,808.5 158.8,804.4 160.3,802.9 161.8,804.4 163.2,807.2 164.7,811.6 166.2,814.7 167.7,816.8 169.2,819.9 170.7,822.3 172.2,822.5 173.6,821.8 175.1,821.5 176.6,821.5 178.1,821.0 179.6,819.1 181.1,816.1 182.5,813.5 184.0,810.9 185.5,808.0 187.0,805.2 188.5,803.4 190.0,804.0 191.5,806.2 192.9,809.6 194.4,812.1 195.9,813.2 197.4,814.7 198.9,816.2 200.4,816.7 201.9,816.7 203.3,817.2 204.8,817.3 206.3,815.5 207.8,812.3 209.3,808.5 210.8,803.2 212.2,794.4 213.7,784.0 215.2,777.1 216.7,778.6 218.2,786.9 219.7,795.6 221.2,802.8 222.6,809.2 224.1,813.0 225.6,814.3 227.1,814.8 228.6,813.5 230.1,807.7 231.6,798.5 233.0,790.6 234.5,787.0 236.0,789.1 237.5,795.6 239.0,803.1 240.5,810.1 241.9,814.1 243.4,815.0 244.9,813.5 246.4,811.3 247.9,809.2 249.4,806.9 250.9,804.1 252.3,800.4 253.8,794.4 255.3,787.2 256.8,780.4 258.3,776.8 259.8,777.4 261.3,781.9 262.7,788.8 264.2,796.2 265.7,803.3 267.2,808.0 268.7,811.2 270.2,813.8 271.6,816.3 273.1,818.6 274.6,819.3 276.1,818.6 277.6,817.4 279.1,816.1 280.6,817.0 282.0,818.1 283.5,817.0 285.0,815.8 286.5,817.6 288.0,821.0 289.5,822.2 291.0,821.3 292.4,820.2 293.9,820.5 295.4,822.8 296.9,824.5 298.4,824.8 299.9,826.1 301.4,827.3 302.8,827.0 304.3,825.6 305.8,825.0 307.3,825.0 308.8,824.1 310.3,822.7 311.7,820.9 313.2,819.5 314.7,818.4 316.2,817.3 317.7,815.0 319.2,810.6 320.7,804.6 322.1,799.3 323.6,793.8 325.1,786.6 326.6,778.8 328.1,776.0 329.6,780.4 331.0,789.3 332.5,798.4 334.0,804.9 335.5,809.8 337.0,813.8 338.5,817.0 340.0,818.7 341.4,819.0 342.9,819.0 344.4,818.8 345.9,817.1 347.4,815.2 348.9,814.5 350.4,814.9 351.8,816.0 353.3,817.1 354.8,816.4 356.3,814.4 357.8,812.8 359.3,813.0 360.8,813.6 362.2,811.9 363.7,809.3 365.2,809.6 366.7,812.2 368.2,815.1 369.7,817.9 371.1,820.2 372.6,821.6 374.1,823.7 375.6,826.3 377.1,826.8 378.6,825.9 380.1,824.8 381.5,823.9 383.0,822.0 384.5,819.3 386.0,817.9 387.5,817.6 389.0,817.4 390.4,817.0 391.9,815.6 393.4,815.5 394.9,817.1 396.4,818.0 397.9,816.6 399.4,815.9 400.8,817.3 402.3,819.4 403.8,822.4 405.3,825.5 406.8,826.7 408.3,826.4 409.8,826.1 411.2,825.4 412.7,824.3 414.2,823.9 415.7,824.5 417.2,824.8 418.7,825.0 420.1,824.8 421.6,825.1 423.1,826.2 424.6,827.3 426.1,828.2 427.6,827.3 429.1,825.8 430.5,824.8 432.0,824.4 433.5,824.0 435.0,822.6 436.5,821.6 438.0,821.6 439.5,820.9 440.9,818.8 442.4,817.9 443.9,817.0 445.4,815.8 446.9,816.4 448.4,818.8 449.9,821.2 451.3,821.7 452.8,821.6 454.3,821.0 455.8,820.7 457.3,819.0 458.8,816.5 460.2,814.4 461.7,812.0 463.2,808.6 464.7,805.0 466.2,801.2 467.7,797.8 469.2,793.4 470.6,787.4 472.1,779.5 473.6,770.2 475.1,760.1 476.6,750.3 478.1,740.7 479.5,732.9 481.0,727.9 482.5,726.0 484.0,727.7 485.5,733.3 487.0,742.1 488.5,751.6 489.9,760.8 491.4,771.2 492.9,781.4 494.4,790.5 495.9,798.3 497.4,804.7 498.9,808.9 500.3,812.8 501.8,815.1 503.3,815.2 504.8,815.5 506.3,817.1 507.8,817.1 509.2,814.6 510.7,811.4 512.2,809.4 513.7,808.7 515.2,808.6 516.7,808.5 518.2,808.4 519.6,808.7 521.1,809.8 522.6,812.0 524.1,814.6 525.6,815.6 527.1,815.6 528.6,814.9 530.0,814.7 531.5,815.1 533.0,815.5 534.5,817.1 536.0,818.7 537.5,819.1 538.9,819.9 540.4,820.5 541.9,819.8 543.4,818.0 544.9,816.9 546.4,815.6 547.9,812.8 549.3,808.0 550.8,801.1 552.3,794.3 553.8,792.3 555.3,794.9 556.8,798.3 558.3,801.9 559.7,806.3 561.2,810.4 562.7,812.6 564.2,813.6 565.7,813.8 567.2,813.0 568.6,811.4 570.1,809.9 571.6,808.8 573.1,807.3 574.6,805.5 576.1,804.5 577.6,805.1 579.0,806.2 580.5,807.3 582.0,807.2 583.5,806.0 585.0,806.8 586.5,809.3 588.0,810.0 589.4,809.0 590.9,807.7 592.4,806.7 593.9,805.3 595.4,801.8 596.9,796.4 598.4,790.8 599.8,786.7 601.3,781.2 602.8,774.5 604.3,768.6 605.8,765.4 607.3,764.7 608.7,765.4 610.2,767.5 611.7,771.0 613.2,775.1 614.7,779.3 616.2,783.8 617.7,788.6 619.1,792.6 620.6,797.5 622.1,803.0 623.6,807.1 625.1,808.4 626.6,808.8 628.0,810.7 629.5,814.1 631.0,817.3 632.5,820.5 634.0,821.3 635.5,820.8 637.0,820.3 638.4,819.0 639.9,818.2 641.4,817.6 642.9,815.5 644.4,813.5 645.9,812.1 647.4,809.6 648.8,807.6 650.3,806.1 651.8,805.7 653.3,807.6 654.8,810.4 656.3,812.2 657.8,813.2 659.2,814.7 660.7,815.7 662.2,817.8 663.7,820.8 665.2,822.8 666.7,822.6 668.1,820.7 669.6,819.9 671.1,819.8 672.6,820.2 674.1,821.0 675.6,821.9 677.1,822.3 678.5,822.7 680.0,822.8 681.5,820.7 683.0,819.4 684.5,819.4 686.0,818.8 687.5,817.5 688.9,815.8 690.4,813.9 691.9,813.0 693.4,813.2 694.9,812.6 696.4,811.1 697.8,811.4 699.3,813.0 700.8,814.3 702.3,815.1 703.8,816.4 705.3,817.6 706.8,819.0 708.2,820.5 709.7,820.5 711.2,819.2 712.7,818.3 714.2,817.3 715.7,816.2 717.1,815.2 718.6,812.9 720.1,809.3 721.6,803.8 723.1,798.3 724.6,793.9 726.1,789.7 727.5,786.2 729.0,787.1 730.5,792.0 732.0,797.3 733.5,802.0 735.0,805.3 736.5,805.9 737.9,802.5 739.4,795.8 740.9,786.3 742.4,773.8 743.9,761.8 745.4,756.5 746.9,759.5 748.3,768.1 749.8,779.9 751.3,791.6 752.8,802.1 754.3,810.0 755.8,815.4 757.2,819.2 758.7,821.2 760.2,823.4 761.7,825.3 763.2,826.1 764.7,826.1 766.2,825.8 767.6,824.8 769.1,823.7 770.6,822.7 772.1,821.9 773.6,820.8 775.1,820.3 776.5,820.6 778.0,820.9 779.5,822.0 781.0,823.0 782.5,823.0 784.0,822.6 785.5,821.6 786.9,820.2 788.4,820.4 789.9,821.1 791.4,820.7 792.9,820.5 794.4,820.4 795.9,819.5 797.3,818.4 798.8,818.5 800.3,819.2 801.8,819.2 803.3,818.3 804.8,816.5 806.2,815.8 807.7,814.9 809.2,813.2 810.7,812.4 812.2,811.9 813.7,812.0 815.2,814.6 816.6,817.5 818.1,819.0 819.6,820.6 821.1,822.2 822.6,822.5 824.1,821.8 825.6,821.2 827.0,821.0 828.5,820.8 830.0,819.8 831.5,820.0 833.0,822.1 834.5,824.0 835.9,824.0 837.4,823.3 838.9,823.0 840.4,823.2 841.9,822.3 843.4,821.7 844.9,822.0 846.3,822.2 847.8,821.7 849.3,821.7 850.8,823.0" fill="none" stroke="#ff0000" stroke-width="3.2" stroke-linejoin="round" stroke-linecap="round"/>
<path d="M78.6,781.2 80.1,779.5 81.6,777.7 83.1,776.1 84.5,775.3 86.0,772.3 87.5,767.2 89.0,759.9 90.5,750.9 92.0,741.6 93.4,733.5 94.9,727.8 96.4,728.4 97.9,735.0 99.4,744.1 100.9,754.4 102.4,764.4 103.8,772.4 105.3,777.6 106.8,779.5 108.3,779.2 109.8,778.4 111.3,776.6 112.8,772.5 114.2,768.7 115.7,764.5 117.2,760.6 118.7,758.9 120.2,761.7 121.7,767.1 123.1,772.3 124.6,777.9 126.1,782.0 127.6,783.4 129.1,785.1 130.6,786.6 132.1,786.6 133.5,786.5 135.0,786.5 136.5,786.3 138.0,785.7 139.5,784.8 141.0,783.3 142.5,782.5 143.9,782.1 145.4,781.2 146.9,781.0 148.4,781.6 149.9,782.7 151.4,784.6 152.8,784.4 154.3,780.6 155.8,775.3 157.3,771.3 158.8,767.8 160.3,765.5 161.8,766.1 163.2,769.0 164.7,772.2 166.2,775.7 167.7,778.1 169.2,779.8 170.7,781.8 172.2,783.8 173.6,785.8 175.1,786.3 176.6,786.2 178.1,786.0 179.6,785.4 181.1,784.2 182.5,781.4 184.0,778.1 185.5,775.4 187.0,772.8 188.5,770.7 190.0,770.2 191.5,772.1 192.9,775.0 194.4,777.7 195.9,780.2 197.4,782.4 198.9,783.7 200.4,784.0 201.9,784.1 203.3,784.3 204.8,783.8 206.3,782.2 207.8,779.2 209.3,774.6 210.8,767.6 212.2,758.6 213.7,750.3 215.2,745.2 216.7,745.6 218.2,752.5 219.7,762.2 221.2,770.9 222.6,777.4 224.1,781.2 225.6,783.0 227.1,783.8 228.6,782.7 230.1,777.8 231.6,768.8 233.0,760.3 234.5,755.1 236.0,756.1 237.5,761.7 239.0,769.1 240.5,775.1 241.9,778.7 243.4,780.5 244.9,781.5 246.4,780.5 247.9,778.0 249.4,774.5 250.9,769.2 252.3,763.1 253.8,756.2 255.3,747.5 256.8,738.1 258.3,731.3 259.8,731.0 261.3,737.2 262.7,747.2 264.2,756.5 265.7,764.8 267.2,770.8 268.7,775.4 270.2,778.2 271.6,780.5 273.1,782.2 274.6,782.7 276.1,782.6 277.6,782.7 279.1,782.7 280.6,782.7 282.0,782.6 283.5,782.6 285.0,782.5 286.5,784.0 288.0,785.0 289.5,785.2 291.0,784.4 292.4,784.5 293.9,785.3 295.4,786.8 296.9,788.8 298.4,789.9 299.9,789.9 301.4,790.3 302.8,790.4 304.3,789.9 305.8,788.7 307.3,787.7 308.8,787.1 310.3,786.6 311.7,785.4 313.2,785.3 314.7,785.4 316.2,785.1 317.7,785.0 319.2,783.4 320.7,777.5 322.1,768.9 323.6,759.1 325.1,749.4 326.6,741.1 328.1,737.7 329.6,741.1 331.0,747.7 332.5,754.9 334.0,762.8 335.5,770.1 337.0,776.5 338.5,781.0 340.0,784.0 341.4,785.5 342.9,787.4 344.4,788.7 345.9,789.2 347.4,789.1 348.9,788.5 350.4,788.4 351.8,787.5 353.3,786.6 354.8,785.3 356.3,782.4 357.8,778.2 359.3,773.9 360.8,770.1 362.2,768.3 363.7,768.5 365.2,769.8 366.7,770.4 368.2,771.7 369.7,774.1 371.1,777.4 372.6,781.4 374.1,784.7 375.6,787.0 377.1,787.8 378.6,788.5 380.1,788.7 381.5,790.1 383.0,792.0 384.5,792.6 386.0,791.9 387.5,791.2 389.0,791.6 390.4,791.1 391.9,788.7 393.4,787.6 394.9,787.5 396.4,787.2 397.9,786.4 399.4,785.9 400.8,786.2 402.3,787.1 403.8,787.9 405.3,789.2 406.8,790.6 408.3,791.2 409.8,791.4 411.2,791.3 412.7,790.7 414.2,789.5 415.7,788.1 417.2,788.0 418.7,788.7 420.1,789.2 421.6,789.7 423.1,790.5 424.6,791.7 426.1,793.5 427.6,793.8 429.1,792.7 430.5,792.3 432.0,792.5 433.5,791.7 435.0,791.3 436.5,791.4 438.0,791.2 439.5,790.8 440.9,791.2 442.4,791.2 443.9,790.0 445.4,787.4 446.9,784.6 448.4,782.8 449.9,782.9 451.3,783.5 452.8,784.5 454.3,784.7 455.8,783.9 457.3,782.9 458.8,781.1 460.2,780.3 461.7,780.4 463.2,778.9 464.7,775.5 466.2,771.1 467.7,767.1 469.2,762.0 470.6,754.2 472.1,743.3 473.6,733.8 475.1,725.4 476.6,715.1 478.1,703.9 479.5,693.5 481.0,687.0 482.5,685.3 484.0,687.1 485.5,692.3 487.0,701.2 488.5,711.8 489.9,721.3 491.4,731.2 492.9,741.3 494.4,750.5 495.9,758.5 497.4,764.5 498.9,768.4 500.3,771.0 501.8,773.5 503.3,775.2 504.8,775.8 506.3,776.4 507.8,777.3 509.2,777.7 510.7,777.4 512.2,776.8 513.7,776.4 515.2,774.9 516.7,773.1 518.2,774.2 519.6,777.7 521.1,779.7 522.6,780.0 524.1,780.0 525.6,781.1 527.1,782.5 528.6,782.9 530.0,783.4 531.5,783.5 533.0,783.0 534.5,782.3 536.0,782.1 537.5,782.2 538.9,782.2 540.4,780.9 541.9,779.1 543.4,776.4 544.9,774.1 546.4,771.5 547.9,768.4 549.3,764.9 550.8,760.8 552.3,758.2 553.8,759.1 555.3,762.2 556.8,767.0 558.3,773.1 559.7,778.7 561.2,781.8 562.7,782.2 564.2,781.4 565.7,780.7 567.2,779.6 568.6,779.1 570.1,779.4 571.6,778.7 573.1,776.9 574.6,775.2 576.1,774.4 577.6,774.8 579.0,774.9 580.5,774.9 582.0,775.9 583.5,778.3 585.0,778.6 586.5,777.5 588.0,776.4 589.4,774.3 590.9,771.8 592.4,768.3 593.9,762.9 595.4,757.6 596.9,753.5 598.4,751.1 599.8,747.7 601.3,741.5 602.8,735.1 604.3,731.8 605.8,729.7 607.3,727.9 608.7,727.6 610.2,729.9 611.7,732.6 613.2,735.5 614.7,740.7 616.2,747.3 617.7,753.1 619.1,758.4 620.6,764.2 622.1,770.0 623.6,772.6 625.1,773.0 626.6,774.6 628.0,776.0 629.5,775.9 631.0,775.7 632.5,777.0 634.0,778.3 635.5,779.7 637.0,781.2 638.4,782.0 639.9,782.3 641.4,781.3 642.9,778.4 644.4,775.2 645.9,772.9 647.4,771.1 648.8,768.7 650.3,767.9 651.8,769.3 653.3,771.4 654.8,774.7 656.3,778.8 657.8,782.0 659.2,784.2 660.7,786.7 662.2,788.8 663.7,788.9 665.2,788.3 666.7,788.7 668.1,789.3 669.6,788.9 671.1,788.3 672.6,787.8 674.1,787.3 675.6,786.8 677.1,786.8 678.5,787.5 680.0,788.3 681.5,788.5 683.0,788.1 684.5,786.6 686.0,784.2 687.5,781.4 688.9,778.7 690.4,777.4 691.9,775.8 693.4,773.7 694.9,773.1 696.4,774.4 697.8,777.8 699.3,781.2 700.8,783.1 702.3,784.0 703.8,784.0 705.3,783.4 706.8,782.0 708.2,781.5 709.7,780.8 711.2,778.9 712.7,778.3 714.2,779.3 715.7,779.7 717.1,778.9 718.6,777.3 720.1,775.7 721.6,773.3 723.1,768.7 724.6,760.9 726.1,753.9 727.5,751.0 729.0,752.1 730.5,755.6 732.0,760.4 733.5,765.3 735.0,768.1 736.5,768.3 737.9,764.1 739.4,756.3 740.9,746.2 742.4,735.3 743.9,726.2 745.4,722.0 746.9,724.7 748.3,733.9 749.8,746.2 751.3,758.4 752.8,768.2 754.3,774.4 755.8,777.8 757.2,780.1 758.7,781.9 760.2,782.8 761.7,782.9 763.2,783.9 764.7,783.8 766.2,783.4 767.6,783.9 769.1,784.3 770.6,785.2 772.1,786.7 773.6,787.7 775.1,788.3 776.5,788.5 778.0,787.9 779.5,787.8 781.0,787.2 782.5,786.8 784.0,787.6 785.5,787.6 786.9,786.6 788.4,787.2 789.9,787.9 791.4,787.8 792.9,788.1 794.4,790.0 795.9,791.5 797.3,791.0 798.8,790.0 800.3,789.7 801.8,788.9 803.3,786.3 804.8,782.6 806.2,779.4 807.7,777.4 809.2,778.0 810.7,779.6 812.2,780.6 813.7,781.1 815.2,782.9 816.6,785.6 818.1,787.5 819.6,788.1 821.1,787.0 822.6,785.9 824.1,786.0 825.6,786.4 827.0,786.0 828.5,785.2 830.0,784.1 831.5,784.2 833.0,785.8 834.5,787.6 835.9,789.5 837.4,791.0 838.9,792.3 840.4,792.9 841.9,792.4 843.4,793.4 844.9,795.1 846.3,794.4 847.8,793.3 849.3,793.0 850.8,793.5" fill="none" stroke="#808000" stroke-width="3.2" stroke-linejoin="round" stroke-linecap="round"/>
<path d="M78.6,761.8 80.1,762.1 81.6,760.8 83.1,758.1 84.5,755.6 86.0,751.6 87.5,745.0 89.0,735.6 90.5,724.0 92.0,712.9 93.4,705.1 94.9,700.6 96.4,701.5 97.9,709.1 99.4,720.1 100.9,732.2 102.4,742.8 103.8,749.6 105.3,754.4 106.8,758.2 108.3,761.7 109.8,763.0 111.3,760.7 112.8,755.4 114.2,750.1 115.7,744.1 117.2,736.9 118.7,732.6 120.2,733.4 121.7,738.0 123.1,744.9 124.6,751.3 126.1,755.3 127.6,758.7 129.1,761.5 130.6,763.8 132.1,767.5 133.5,771.3 135.0,773.0 136.5,771.9 138.0,770.7 139.5,769.1 141.0,766.3 142.5,763.3 143.9,761.0 145.4,759.7 146.9,759.6 148.4,760.5 149.9,760.3 151.4,759.5 152.8,759.0 154.3,756.9 155.8,752.7 157.3,748.5 158.8,745.6 160.3,743.0 161.8,742.9 163.2,746.8 164.7,751.2 166.2,755.1 167.7,758.7 169.2,760.9 170.7,761.0 172.2,762.3 173.6,764.5 175.1,765.4 176.6,764.9 178.1,764.4 179.6,762.7 181.1,760.6 182.5,758.5 184.0,754.6 185.5,750.1 187.0,746.5 188.5,746.1 190.0,747.6 191.5,749.1 192.9,752.5 194.4,757.8 195.9,760.8 197.4,762.5 198.9,764.8 200.4,766.4 201.9,766.5 203.3,766.6 204.8,765.6 206.3,762.8 207.8,758.7 209.3,752.7 210.8,744.2 212.2,735.1 213.7,725.8 215.2,719.4 216.7,720.3 218.2,727.5 219.7,736.2 221.2,745.6 222.6,754.5 224.1,759.6 225.6,760.6 227.1,759.3 228.6,756.2 230.1,750.3 231.6,740.7 233.0,729.9 234.5,722.5 236.0,723.0 237.5,730.4 239.0,740.8 240.5,750.2 241.9,756.3 243.4,758.1 244.9,759.1 246.4,759.8 247.9,758.1 249.4,755.1 250.9,751.2 252.3,745.1 253.8,736.0 255.3,725.1 256.8,714.4 258.3,707.9 259.8,708.1 261.3,714.1 262.7,723.3 264.2,733.6 265.7,742.0 267.2,747.8 268.7,751.9 270.2,756.3 271.6,759.7 273.1,762.2 274.6,763.0 276.1,763.2 277.6,762.2 279.1,760.2 280.6,759.2 282.0,759.6 283.5,758.4 285.0,756.4 286.5,756.3 288.0,758.5 289.5,760.2 291.0,762.3 292.4,764.9 293.9,768.3 295.4,770.4 296.9,769.8 298.4,768.4 299.9,768.2 301.4,770.0 302.8,771.3 304.3,770.3 305.8,769.0 307.3,768.6 308.8,767.0 310.3,763.9 311.7,761.9 313.2,761.7 314.7,761.4 316.2,760.3 317.7,758.3 319.2,753.6 320.7,747.3 322.1,741.9 323.6,735.4 325.1,725.6 326.6,716.8 328.1,713.1 329.6,716.1 331.0,724.7 332.5,735.8 334.0,746.2 335.5,754.2 337.0,759.4 338.5,762.1 340.0,764.4 341.4,766.7 342.9,767.0 344.4,765.8 345.9,766.5 347.4,767.7 348.9,766.5 350.4,764.8 351.8,764.2 353.3,762.6 354.8,760.5 356.3,759.3 357.8,758.4 359.3,755.9 360.8,754.1 362.2,752.6 363.7,751.3 365.2,750.4 366.7,751.0 368.2,753.6 369.7,757.3 371.1,759.8 372.6,761.4 374.1,763.5 375.6,767.0 377.1,768.5 378.6,768.0 380.1,767.0 381.5,768.6 383.0,771.4 384.5,772.1 386.0,769.9 387.5,767.7 389.0,766.6 390.4,767.5 391.9,769.2 393.4,768.5 394.9,765.9 396.4,762.7 397.9,760.4 399.4,760.4 400.8,761.1 402.3,761.4 403.8,761.8 405.3,761.8 406.8,762.1 408.3,762.7 409.8,763.6 411.2,765.1 412.7,767.0 414.2,768.5 415.7,770.0 417.2,769.5 418.7,767.6 420.1,766.8 421.6,767.1 423.1,767.9 424.6,768.2 426.1,767.9 427.6,767.8 429.1,766.4 430.5,764.3 432.0,763.0 433.5,763.0 435.0,763.9 436.5,764.3 438.0,763.8 439.5,763.5 440.9,763.9 442.4,764.5 443.9,764.3 445.4,763.7 446.9,762.3 448.4,760.6 449.9,759.9 451.3,760.0 452.8,760.5 454.3,760.6 455.8,760.0 457.3,758.1 458.8,756.2 460.2,756.2 461.7,756.9 463.2,756.9 464.7,753.9 466.2,748.8 467.7,742.8 469.2,734.8 470.6,726.3 472.1,717.4 473.6,706.9 475.1,694.8 476.6,682.1 478.1,670.0 479.5,660.5 481.0,653.6 482.5,650.5 484.0,653.4 485.5,660.1 487.0,669.0 488.5,679.1 489.9,691.0 491.4,703.2 492.9,714.9 494.4,724.1 495.9,729.9 497.4,735.3 498.9,741.1 500.3,746.4 501.8,750.2 503.3,751.7 504.8,752.9 506.3,754.0 507.8,754.8 509.2,754.2 510.7,752.1 512.2,751.1 513.7,751.3 515.2,751.4 516.7,751.2 518.2,752.3 519.6,754.4 521.1,756.6 522.6,757.6 524.1,758.1 525.6,758.9 527.1,759.8 528.6,761.4 530.0,763.1 531.5,764.1 533.0,764.6 534.5,762.8 536.0,761.0 537.5,760.7 538.9,761.2 540.4,761.4 541.9,760.5 543.4,758.5 544.9,755.5 546.4,752.8 547.9,749.4 549.3,744.7 550.8,739.5 552.3,734.4 553.8,730.8 555.3,732.6 556.8,739.2 558.3,745.4 559.7,750.7 561.2,755.8 562.7,759.5 564.2,761.1 565.7,762.1 567.2,762.1 568.6,760.3 570.1,757.7 571.6,756.3 573.1,753.7 574.6,750.6 576.1,747.4 577.6,746.3 579.0,746.4 580.5,746.2 582.0,746.3 583.5,747.6 585.0,749.2 586.5,750.6 588.0,750.6 589.4,749.5 590.9,746.7 592.4,742.3 593.9,736.8 595.4,730.6 596.9,724.4 598.4,718.8 599.8,712.9 601.3,706.4 602.8,699.0 604.3,693.1 605.8,689.5 607.3,687.3 608.7,687.1 610.2,689.4 611.7,694.8 613.2,701.9 614.7,709.6 616.2,715.9 617.7,721.2 619.1,726.9 620.6,731.5 622.1,736.1 623.6,740.7 625.1,745.5 626.6,750.7 628.0,754.1 629.5,755.8 631.0,758.1 632.5,760.4 634.0,761.9 635.5,763.4 637.0,765.0 638.4,764.9 639.9,764.3 641.4,762.0 642.9,758.1 644.4,754.2 645.9,751.0 647.4,747.6 648.8,744.6 650.3,743.6 651.8,744.4 653.3,746.0 654.8,748.4 656.3,751.4 657.8,754.4 659.2,758.7 660.7,762.6 662.2,763.7 663.7,763.2 665.2,764.2 666.7,765.5 668.1,765.6 669.6,764.0 671.1,763.4 672.6,765.2 674.1,766.6 675.6,765.9 677.1,764.3 678.5,763.3 680.0,762.6 681.5,761.7 683.0,761.4 684.5,761.4 686.0,760.0 687.5,756.2 688.9,753.0 690.4,751.6 691.9,751.1 693.4,750.5 694.9,751.1 696.4,752.7 697.8,754.3 699.3,755.6 700.8,757.3 702.3,758.7 703.8,758.9 705.3,759.7 706.8,761.8 708.2,762.8 709.7,762.7 711.2,763.2 712.7,764.2 714.2,763.7 715.7,761.9 717.1,759.3 718.6,756.6 720.1,752.9 721.6,746.3 723.1,737.7 724.6,729.2 726.1,724.4 727.5,723.7 729.0,727.5 730.5,734.3 732.0,740.1 733.5,744.2 735.0,745.9 736.5,745.6 737.9,742.4 739.4,735.7 740.9,725.0 742.4,711.5 743.9,699.5 745.4,693.1 746.9,695.8 748.3,705.5 749.8,718.4 751.3,731.8 752.8,742.2 754.3,749.9 755.8,755.4 757.2,758.1 758.7,758.9 760.2,760.1 761.7,762.4 763.2,763.9 764.7,764.1 766.2,765.2 767.6,765.8 769.1,765.7 770.6,765.6 772.1,766.8 773.6,768.3 775.1,769.3 776.5,770.0 778.0,769.5 779.5,768.4 781.0,768.6 782.5,768.5 784.0,768.0 785.5,767.7 786.9,768.7 788.4,768.7 789.9,767.5 791.4,766.2 792.9,764.4 794.4,763.7 795.9,763.9 797.3,762.7 798.8,760.5 800.3,759.5 801.8,759.4 803.3,757.8 804.8,755.5 806.2,753.5 807.7,753.1 809.2,753.3 810.7,753.2 812.2,754.7 813.7,756.4 815.2,759.0 816.6,762.4 818.1,764.7 819.6,766.7 821.1,769.0 822.6,769.8 824.1,768.4 825.6,766.3 827.0,766.2 828.5,767.9 830.0,769.7 831.5,770.4 833.0,770.3 834.5,769.4 835.9,768.1 837.4,768.3 838.9,768.4 840.4,768.0 841.9,767.4 843.4,766.0 844.9,764.5 846.3,764.1 847.8,765.1 849.3,765.5 850.8,765.8" fill="none" stroke="#ff00ff" stroke-width="3.2" stroke-linejoin="round" stroke-linecap="round"/>
<path d="M78.6,731.8 80.1,729.6 81.6,727.7 83.1,724.7 84.5,720.7 86.0,716.1 87.5,709.8 89.0,701.9 90.5,693.5 92.0,686.3 93.4,679.7 94.9,675.4 96.4,677.2 97.9,684.3 99.4,693.6 100.9,701.0 102.4,708.1 103.8,715.1 105.3,720.1 106.8,722.5 108.3,724.8 109.8,725.9 111.3,724.5 112.8,720.8 114.2,715.3 115.7,708.8 117.2,702.9 118.7,699.4 120.2,700.6 121.7,705.5 123.1,711.3 124.6,717.1 126.1,722.4 127.6,725.8 129.1,727.9 130.6,729.4 132.1,730.0 133.5,729.7 135.0,729.0 136.5,728.7 138.0,728.4 139.5,727.5 141.0,726.4 142.5,724.1 143.9,722.5 145.4,723.6 146.9,725.3 148.4,726.5 149.9,727.8 151.4,728.6 152.8,727.7 154.3,724.7 155.8,722.3 157.3,720.2 158.8,717.4 160.3,715.3 161.8,716.4 163.2,719.2 164.7,722.2 166.2,724.5 167.7,727.0 169.2,729.8 170.7,732.1 172.2,732.7 173.6,732.9 175.1,733.1 176.6,732.9 178.1,731.1 179.6,728.2 181.1,725.3 182.5,722.0 184.0,717.8 185.5,714.8 187.0,713.7 188.5,713.5 190.0,714.0 191.5,716.0 192.9,719.8 194.4,724.7 195.9,728.3 197.4,729.5 198.9,729.9 200.4,729.7 201.9,729.0 203.3,727.6 204.8,725.1 206.3,723.4 207.8,721.0 209.3,716.2 210.8,709.8 212.2,703.4 213.7,695.1 215.2,687.7 216.7,687.3 218.2,692.6 219.7,699.9 221.2,707.2 222.6,713.7 224.1,717.6 225.6,719.4 227.1,720.0 228.6,718.8 230.1,715.2 231.6,708.8 233.0,702.2 234.5,699.5 236.0,701.9 237.5,707.0 239.0,712.4 240.5,717.7 241.9,721.0 243.4,722.0 244.9,722.2 246.4,722.4 247.9,721.1 249.4,718.7 250.9,715.8 252.3,711.7 253.8,705.2 255.3,695.7 256.8,686.5 258.3,680.9 259.8,680.6 261.3,685.1 262.7,693.6 264.2,703.3 265.7,711.2 267.2,716.5 268.7,720.3 270.2,723.4 271.6,726.2 273.1,729.2 274.6,729.7 276.1,728.1 277.6,727.6 279.1,728.1 280.6,727.8 282.0,725.0 283.5,723.2 285.0,722.1 286.5,721.7 288.0,723.3 289.5,725.7 291.0,726.6 292.4,726.1 293.9,726.8 295.4,728.2 296.9,728.1 298.4,727.9 299.9,729.0 301.4,730.2 302.8,730.5 304.3,731.5 305.8,732.4 307.3,732.8 308.8,733.4 310.3,733.7 311.7,731.7 313.2,728.8 314.7,726.9 316.2,726.3 317.7,725.8 319.2,724.1 320.7,720.4 322.1,713.1 323.6,703.6 325.1,693.8 326.6,685.8 328.1,680.7 329.6,681.0 331.0,687.0 332.5,695.7 334.0,703.5 335.5,710.3 337.0,716.3 338.5,721.2 340.0,723.9 341.4,725.8 342.9,727.1 344.4,727.9 345.9,728.1 347.4,728.0 348.9,727.2 350.4,726.9 351.8,726.6 353.3,725.1 354.8,723.4 356.3,721.8 357.8,719.9 359.3,718.3 360.8,716.1 362.2,714.1 363.7,713.6 365.2,715.6 366.7,717.9 368.2,719.2 369.7,720.6 371.1,723.7 372.6,726.8 374.1,727.5 375.6,727.3 377.1,727.8 378.6,728.7 380.1,728.3 381.5,727.1 383.0,725.7 384.5,725.5 386.0,726.3 387.5,727.0 389.0,727.2 390.4,727.5 391.9,728.2 393.4,728.7 394.9,727.7 396.4,727.1 397.9,727.7 399.4,728.3 400.8,729.5 402.3,730.6 403.8,730.6 405.3,729.9 406.8,729.6 408.3,729.5 409.8,729.9 411.2,730.6 412.7,731.7 414.2,732.3 415.7,732.7 417.2,733.0 418.7,732.3 420.1,731.1 421.6,730.4 423.1,729.5 424.6,728.9 426.1,729.3 427.6,729.9 429.1,729.6 430.5,729.5 432.0,729.3 433.5,730.5 435.0,732.4 436.5,733.3 438.0,733.4 439.5,732.8 440.9,732.1 442.4,731.2 443.9,730.3 445.4,729.6 446.9,729.0 448.4,729.4 449.9,730.1 451.3,729.6 452.8,728.7 454.3,729.1 455.8,730.1 457.3,729.6 458.8,727.9 460.2,727.0 461.7,726.2 463.2,724.1 464.7,721.4 466.2,717.1 467.7,711.6 469.2,705.7 470.6,699.0 472.1,690.8 473.6,681.1 475.1,670.5 476.6,660.8 478.1,650.1 479.5,640.0 481.0,634.2 482.5,633.1 484.0,635.1 485.5,641.4 487.0,650.2 488.5,659.7 489.9,669.3 491.4,677.2 492.9,684.4 494.4,692.4 495.9,700.6 497.4,707.7 498.9,712.9 500.3,717.4 501.8,720.7 503.3,722.3 504.8,722.2 506.3,720.9 507.8,720.1 509.2,720.2 510.7,719.9 512.2,718.9 513.7,716.0 515.2,714.2 516.7,714.6 518.2,716.9 519.6,720.2 521.1,723.5 522.6,725.9 524.1,725.9 525.6,726.2 527.1,728.0 528.6,729.3 530.0,728.6 531.5,728.6 533.0,730.0 534.5,731.5 536.0,732.1 537.5,732.3 538.9,733.0 540.4,733.6 541.9,732.8 543.4,730.5 544.9,726.6 546.4,721.8 547.9,716.8 549.3,711.3 550.8,706.8 552.3,703.5 553.8,702.0 555.3,703.8 556.8,708.7 558.3,713.2 559.7,717.0 561.2,721.1 562.7,723.7 564.2,725.0 565.7,725.6 567.2,725.0 568.6,724.8 570.1,724.0 571.6,721.9 573.1,718.5 574.6,717.0 576.1,717.1 577.6,716.7 579.0,716.4 580.5,716.5 582.0,717.9 583.5,719.8 585.0,719.1 586.5,717.2 588.0,715.7 589.4,714.7 590.9,712.6 592.4,709.8 593.9,705.9 595.4,701.5 596.9,696.1 598.4,689.4 599.8,681.9 601.3,674.9 602.8,668.3 604.3,663.1 605.8,660.2 607.3,660.2 608.7,663.2 610.2,667.7 611.7,673.5 613.2,680.0 614.7,687.5 616.2,694.8 617.7,700.7 619.1,705.6 620.6,710.0 622.1,713.0 623.6,715.0 625.1,716.4 626.6,718.4 628.0,720.7 629.5,721.9 631.0,722.4 632.5,724.7 634.0,726.4 635.5,726.6 637.0,727.1 638.4,727.0 639.9,725.9 641.4,724.5 642.9,722.9 644.4,720.6 645.9,716.4 647.4,713.0 648.8,711.6 650.3,711.7 651.8,712.8 653.3,713.9 654.8,714.6 656.3,715.5 657.8,718.6 659.2,722.4 660.7,724.5 662.2,725.6 663.7,726.7 665.2,727.7 666.7,728.4 668.1,729.5 669.6,730.6 671.1,731.0 672.6,731.5 674.1,731.7 675.6,731.0 677.1,730.2 678.5,730.7 680.0,731.1 681.5,730.2 683.0,729.3 684.5,728.5 686.0,726.1 687.5,723.0 688.9,720.2 690.4,718.3 691.9,716.2 693.4,713.8 694.9,712.5 696.4,713.2 697.8,716.1 699.3,719.4 700.8,721.6 702.3,724.4 703.8,727.5 705.3,729.7 706.8,730.3 708.2,730.8 709.7,731.6 711.2,732.0 712.7,731.5 714.2,729.5 715.7,726.0 717.1,722.0 718.6,719.4 720.1,717.6 721.6,714.2 723.1,706.6 724.6,698.2 726.1,692.0 727.5,689.9 729.0,692.5 730.5,698.7 732.0,705.4 733.5,710.9 735.0,714.2 736.5,715.1 737.9,712.0 739.4,705.1 740.9,693.7 742.4,680.3 743.9,669.7 745.4,665.4 746.9,668.9 748.3,678.4 749.8,691.0 751.3,702.5 752.8,711.8 754.3,718.1 755.8,722.5 757.2,726.8 758.7,730.1 760.2,732.6 761.7,734.7 763.2,736.1 764.7,736.5 766.2,735.7 767.6,735.5 769.1,736.4 770.6,737.1 772.1,737.1 773.6,737.7 775.1,738.6 776.5,737.5 778.0,736.4 779.5,737.3 781.0,738.5 782.5,737.5 784.0,735.0 785.5,733.9 786.9,734.1 788.4,733.9 789.9,733.3 791.4,732.6 792.9,733.2 794.4,734.3 795.9,734.9 797.3,734.6 798.8,733.9 800.3,733.6 801.8,732.6 803.3,730.2 804.8,726.3 806.2,722.6 807.7,719.5 809.2,717.5 810.7,718.1 812.2,720.2 813.7,721.1 815.2,721.8 816.6,723.3 818.1,725.4 819.6,727.5 821.1,730.5 822.6,733.3 824.1,734.7 825.6,733.8 827.0,732.4 828.5,732.3 830.0,732.7 831.5,733.1 833.0,732.9 834.5,732.1 835.9,732.0 837.4,732.8 838.9,733.8 840.4,734.1 841.9,733.7 843.4,734.0 844.9,735.4 846.3,735.6 847.8,734.0 849.3,734.1 850.8,736.7" fill="none" stroke="#8000ff" stroke-width="3.2" stroke-linejoin="round" stroke-linecap="round"/>
<path d="M78.6,733.5 80.1,732.0 81.6,730.0 83.1,726.3 84.5,719.7 86.0,709.7 87.5,695.8 89.0,677.2 90.5,654.1 92.0,630.0 93.4,609.5 94.9,599.0 96.4,603.3 97.9,620.0 99.4,642.5 100.9,665.6 102.4,684.4 103.8,699.3 105.3,710.3 106.8,716.9 108.3,719.3 109.8,718.2 111.3,714.0 112.8,708.0 114.2,699.5 115.7,689.4 117.2,680.0 118.7,674.6 120.2,677.1 121.7,686.9 123.1,699.4 124.6,711.7 126.1,721.5 127.6,728.2 129.1,732.1 130.6,734.7 132.1,735.9 133.5,736.0 135.0,735.4 136.5,734.8 138.0,734.2 139.5,733.6 141.0,732.1 142.5,729.7 143.9,728.1 145.4,727.6 146.9,728.7 148.4,730.5 149.9,731.3 151.4,730.6 152.8,729.0 154.3,726.3 155.8,721.4 157.3,714.6 158.8,708.5 160.3,706.4 161.8,708.4 163.2,713.4 164.7,719.1 166.2,725.0 167.7,729.1 169.2,730.5 170.7,732.4 172.2,734.4 173.6,735.2 175.1,734.6 176.6,733.8 178.1,732.9 179.6,731.2 181.1,729.0 182.5,725.9 184.0,721.9 185.5,717.2 187.0,713.4 188.5,711.8 190.0,713.8 191.5,718.1 192.9,723.0 194.4,726.7 195.9,729.1 197.4,730.6 198.9,731.2 200.4,731.2 201.9,729.9 203.3,727.7 204.8,724.9 206.3,720.1 207.8,711.7 209.3,698.5 210.8,679.7 212.2,655.5 213.7,630.2 215.2,613.7 216.7,615.6 218.2,634.3 219.7,660.3 221.2,684.7 222.6,703.6 224.1,715.8 225.6,721.1 227.1,721.6 228.6,718.4 230.1,709.6 231.6,695.5 233.0,680.2 234.5,671.0 236.0,674.1 237.5,687.1 239.0,701.6 240.5,712.5 241.9,719.6 243.4,722.9 244.9,722.9 246.4,720.3 247.9,714.7 249.4,705.6 250.9,693.3 252.3,676.7 253.8,654.6 255.3,628.8 256.8,605.1 258.3,589.5 259.8,589.1 261.3,603.6 262.7,625.9 264.2,650.7 265.7,674.2 267.2,693.6 268.7,708.0 270.2,717.5 271.6,723.8 273.1,727.4 274.6,729.7 276.1,731.2 277.6,731.3 279.1,729.4 280.6,727.5 282.0,726.1 283.5,724.9 285.0,724.5 286.5,725.4 288.0,727.7 289.5,729.6 291.0,731.2 292.4,732.6 293.9,733.9 295.4,735.3 296.9,736.2 298.4,736.7 299.9,737.3 301.4,737.8 302.8,737.4 304.3,736.5 305.8,735.8 307.3,735.6 308.8,736.5 310.3,736.9 311.7,736.0 313.2,733.3 314.7,729.6 316.2,724.8 317.7,717.7 319.2,707.1 320.7,693.0 322.1,674.5 323.6,650.5 325.1,624.6 326.6,604.0 328.1,596.4 329.6,605.9 331.0,627.8 332.5,654.1 334.0,678.4 335.5,697.7 337.0,711.8 338.5,721.1 340.0,726.3 341.4,729.0 342.9,730.4 344.4,731.7 345.9,732.8 347.4,732.7 348.9,732.9 350.4,733.5 351.8,733.8 353.3,732.4 354.8,729.9 356.3,727.4 357.8,724.8 359.3,721.1 360.8,717.2 362.2,714.2 363.7,713.0 365.2,714.0 366.7,717.5 368.2,721.1 369.7,723.9 371.1,727.3 372.6,731.0 374.1,733.6 375.6,735.1 377.1,736.3 378.6,738.0 380.1,739.6 381.5,740.2 383.0,739.8 384.5,739.7 386.0,740.0 387.5,740.1 389.0,739.4 390.4,738.2 391.9,737.2 393.4,736.8 394.9,735.7 396.4,734.3 397.9,733.6 399.4,732.8 400.8,732.7 402.3,733.9 403.8,735.8 405.3,737.2 406.8,737.7 408.3,738.5 409.8,739.6 411.2,740.1 412.7,740.1 414.2,739.9 415.7,740.2 417.2,740.0 418.7,739.8 420.1,739.7 421.6,739.5 423.1,739.7 424.6,740.1 426.1,739.5 427.6,738.8 429.1,739.5 430.5,739.9 432.0,739.4 433.5,738.1 435.0,736.8 436.5,735.6 438.0,734.4 439.5,733.5 440.9,733.4 442.4,733.4 443.9,732.9 445.4,732.4 446.9,731.7 448.4,731.1 449.9,730.4 451.3,729.4 452.8,728.2 454.3,726.8 455.8,725.7 457.3,724.5 458.8,722.6 460.2,718.1 461.7,711.7 463.2,704.9 464.7,697.6 466.2,687.5 467.7,673.7 469.2,657.2 470.6,637.2 472.1,613.4 473.6,586.8 475.1,557.6 476.6,527.1 478.1,498.1 479.5,473.9 481.0,457.8 482.5,451.7 484.0,457.3 485.5,474.0 487.0,498.6 488.5,526.8 489.9,556.6 491.4,585.5 492.9,612.3 494.4,636.0 495.9,655.2 497.4,671.5 498.9,685.0 500.3,694.9 501.8,701.9 503.3,707.5 504.8,711.2 506.3,712.7 507.8,713.1 509.2,712.5 510.7,711.8 512.2,711.9 513.7,711.3 515.2,710.6 516.7,711.6 518.2,714.6 519.6,718.7 521.1,722.5 522.6,725.5 524.1,728.1 525.6,730.2 527.1,731.7 528.6,733.1 530.0,734.9 531.5,735.7 533.0,735.8 534.5,736.5 536.0,736.9 537.5,736.4 538.9,735.9 540.4,734.6 541.9,732.5 543.4,729.6 544.9,726.4 546.4,721.6 547.9,713.3 549.3,703.1 550.8,694.1 552.3,687.0 553.8,683.0 555.3,685.6 556.8,693.2 558.3,702.3 559.7,710.0 561.2,716.3 562.7,720.9 564.2,723.3 565.7,723.7 567.2,722.8 568.6,721.3 570.1,719.4 571.6,716.9 573.1,713.5 574.6,709.5 576.1,707.0 577.6,706.5 579.0,706.8 580.5,706.7 582.0,706.6 583.5,706.4 585.0,705.9 586.5,705.2 588.0,702.8 589.4,698.4 590.9,691.6 592.4,683.1 593.9,672.2 595.4,659.4 596.9,644.8 598.4,628.8 599.8,612.5 601.3,596.7 602.8,582.0 604.3,569.3 605.8,560.4 607.3,556.7 608.7,558.1 610.2,565.8 611.7,578.9 613.2,594.7 614.7,611.0 616.2,627.3 617.7,642.1 619.1,655.6 620.6,668.7 622.1,680.6 623.6,690.9 625.1,698.7 626.6,704.4 628.0,709.5 629.5,714.4 631.0,719.0 632.5,722.0 634.0,724.2 635.5,725.2 637.0,725.2 638.4,724.3 639.9,722.7 641.4,720.7 642.9,717.5 644.4,713.3 645.9,709.0 647.4,705.2 648.8,701.4 650.3,699.4 651.8,702.0 653.3,707.1 654.8,712.4 656.3,717.0 657.8,721.5 659.2,725.6 660.7,728.9 662.2,730.8 663.7,732.4 665.2,733.9 666.7,734.9 668.1,735.4 669.6,735.7 671.1,736.4 672.6,736.9 674.1,737.0 675.6,736.9 677.1,736.6 678.5,735.8 680.0,735.5 681.5,735.3 683.0,734.0 684.5,731.7 686.0,728.2 687.5,722.8 688.9,716.9 690.4,712.4 691.9,709.8 693.4,708.5 694.9,709.1 696.4,712.3 697.8,716.3 699.3,719.7 700.8,722.8 702.3,726.0 703.8,729.2 705.3,731.5 706.8,732.4 708.2,732.8 709.7,733.3 711.2,733.7 712.7,733.2 714.2,731.7 715.7,728.7 717.1,724.2 718.6,717.0 720.1,705.5 721.6,689.6 723.1,670.1 724.6,650.0 726.1,634.3 727.5,628.8 729.0,636.6 730.5,652.6 732.0,669.1 733.5,682.1 735.0,689.0 736.5,688.7 737.9,679.2 739.4,659.4 740.9,631.4 742.4,600.0 743.9,572.1 745.4,557.5 746.9,564.4 748.3,590.5 749.8,624.6 751.3,657.5 752.8,684.3 754.3,703.9 755.8,717.2 757.2,725.1 758.7,728.4 760.2,730.3 761.7,732.5 763.2,734.3 764.7,734.9 766.2,734.8 767.6,734.5 769.1,734.5 770.6,735.4 772.1,736.5 773.6,737.5 775.1,737.2 776.5,736.7 778.0,737.2 779.5,737.4 781.0,736.9 782.5,736.9 784.0,737.5 785.5,738.4 786.9,738.0 788.4,737.0 789.9,736.4 791.4,736.1 792.9,736.0 794.4,736.8 795.9,737.0 797.3,736.0 798.8,735.1 800.3,734.9 801.8,734.5 803.3,733.3 804.8,731.7 806.2,729.3 807.7,726.5 809.2,725.0 810.7,725.4 812.2,727.4 813.7,731.0 815.2,735.3 816.6,739.1 818.1,740.8 819.6,741.0 821.1,741.2 822.6,741.8 824.1,742.3 825.6,742.3 827.0,742.2 828.5,741.5 830.0,741.0 831.5,740.3 833.0,740.7 834.5,741.9 835.9,743.3 837.4,743.9 838.9,744.1 840.4,744.1 841.9,744.1 843.4,744.0 844.9,743.1 846.3,742.6 847.8,742.8 849.3,742.8 850.8,742.4" fill="none" stroke="#800080" stroke-width="3.2" stroke-linejoin="round" stroke-linecap="round"/>
<path d="M78.6,728.4 80.1,726.4 81.6,723.9 83.1,720.3 84.5,714.4 86.0,705.5 87.5,693.1 89.0,676.5 90.5,657.4 92.0,637.7 93.4,621.0 94.9,612.5 96.4,616.4 97.9,631.6 99.4,651.0 100.9,670.1 102.4,687.6 103.8,701.2 105.3,710.9 106.8,718.1 108.3,722.7 109.8,723.6 111.3,722.2 112.8,718.7 114.2,712.5 115.7,703.2 117.2,694.2 118.7,690.0 120.2,692.3 121.7,699.3 123.1,707.6 124.6,714.7 126.1,720.5 127.6,725.2 129.1,728.0 130.6,729.0 132.1,729.2 133.5,729.2 135.0,729.6 136.5,729.6 138.0,729.1 139.5,728.0 141.0,726.5 142.5,724.6 143.9,722.4 145.4,721.6 146.9,723.6 148.4,726.3 149.9,727.7 151.4,727.4 152.8,725.4 154.3,722.2 155.8,718.4 157.3,714.7 158.8,711.2 160.3,709.5 161.8,709.9 163.2,712.0 164.7,715.6 166.2,719.8 167.7,723.6 169.2,726.0 170.7,727.4 172.2,728.2 173.6,729.1 175.1,730.1 176.6,730.6 178.1,730.2 179.6,728.5 181.1,725.5 182.5,722.1 184.0,719.0 185.5,714.4 187.0,710.9 188.5,710.0 190.0,711.1 191.5,714.0 192.9,717.4 194.4,720.4 195.9,723.1 197.4,725.1 198.9,727.0 200.4,728.7 201.9,728.9 203.3,727.7 204.8,725.3 206.3,721.6 207.8,715.1 209.3,704.4 210.8,689.2 212.2,669.1 213.7,648.4 215.2,634.9 216.7,635.8 218.2,649.8 219.7,669.8 221.2,688.8 222.6,703.3 224.1,713.2 225.6,718.3 227.1,718.9 228.6,715.8 230.1,709.5 231.6,699.6 233.0,687.3 234.5,679.5 236.0,682.2 237.5,692.5 239.0,704.3 240.5,712.8 241.9,717.4 243.4,719.5 244.9,719.9 246.4,718.6 247.9,715.6 249.4,710.1 250.9,700.5 252.3,686.6 253.8,669.3 255.3,651.2 256.8,634.4 258.3,623.3 259.8,621.4 261.3,630.4 262.7,646.1 264.2,664.3 265.7,681.8 267.2,696.7 268.7,708.7 270.2,716.9 271.6,721.9 273.1,724.4 274.6,726.3 276.1,727.9 277.6,728.3 279.1,728.0 280.6,727.1 282.0,726.1 283.5,725.0 285.0,724.7 286.5,724.7 288.0,725.2 289.5,726.4 291.0,727.9 292.4,729.3 293.9,730.8 295.4,731.8 296.9,731.6 298.4,731.4 299.9,731.2 301.4,730.7 302.8,730.1 304.3,729.6 305.8,729.5 307.3,729.3 308.8,729.1 310.3,729.4 311.7,729.4 313.2,728.4 314.7,726.5 316.2,723.4 317.7,718.7 319.2,712.3 320.7,702.1 322.1,687.1 323.6,668.2 325.1,648.0 326.6,630.9 328.1,623.7 329.6,630.2 331.0,647.3 332.5,668.3 334.0,687.8 335.5,703.2 337.0,713.9 338.5,720.1 340.0,723.8 341.4,726.2 342.9,727.7 344.4,728.4 345.9,728.4 347.4,728.4 348.9,727.8 350.4,726.5 351.8,725.6 353.3,725.3 354.8,724.3 356.3,722.0 357.8,718.9 359.3,715.3 360.8,713.0 362.2,711.8 363.7,712.4 365.2,714.0 366.7,716.6 368.2,719.5 369.7,722.6 371.1,725.5 372.6,727.8 374.1,730.2 375.6,731.7 377.1,733.0 378.6,733.7 380.1,733.2 381.5,732.4 383.0,731.2 384.5,730.6 386.0,731.2 387.5,731.8 389.0,731.1 390.4,730.1 391.9,729.3 393.4,728.3 394.9,727.0 396.4,726.7 397.9,728.1 399.4,728.8 400.8,728.9 402.3,728.8 403.8,729.6 405.3,730.3 406.8,730.6 408.3,731.4 409.8,732.2 411.2,732.5 412.7,732.2 414.2,732.1 415.7,733.2 417.2,733.9 418.7,734.2 420.1,733.8 421.6,733.8 423.1,733.3 424.6,732.3 426.1,731.5 427.6,731.7 429.1,732.0 430.5,731.6 432.0,731.4 433.5,731.4 435.0,731.6 436.5,731.6 438.0,731.1 439.5,731.3 440.9,732.5 442.4,732.6 443.9,730.2 445.4,727.8 446.9,726.5 448.4,726.2 449.9,725.4 451.3,725.2 452.8,725.0 454.3,724.2 455.8,722.5 457.3,719.9 458.8,718.2 460.2,717.0 461.7,714.1 463.2,709.3 464.7,702.4 466.2,694.1 467.7,683.6 469.2,671.1 470.6,656.6 472.1,639.1 473.6,618.3 475.1,595.2 476.6,570.9 478.1,547.9 479.5,529.3 481.0,517.4 482.5,512.7 484.0,516.6 485.5,529.2 487.0,547.9 488.5,569.4 489.9,591.8 491.4,614.1 492.9,635.2 494.4,653.5 495.9,669.1 497.4,681.6 498.9,691.5 500.3,698.8 501.8,704.5 503.3,708.8 504.8,712.1 506.3,714.2 507.8,715.2 509.2,714.6 510.7,713.6 512.2,712.7 513.7,712.1 515.2,713.0 516.7,715.2 518.2,718.1 519.6,720.9 521.1,723.2 522.6,724.7 524.1,725.7 525.6,726.9 527.1,727.9 528.6,729.2 530.0,729.7 531.5,729.5 533.0,729.1 534.5,729.1 536.0,729.3 537.5,729.4 538.9,729.7 540.4,729.0 541.9,727.6 543.4,725.7 544.9,722.8 546.4,718.1 547.9,711.6 549.3,704.0 550.8,696.3 552.3,690.0 553.8,687.0 555.3,688.6 556.8,693.5 558.3,700.2 559.7,707.3 561.2,713.1 562.7,716.9 564.2,719.8 565.7,722.2 567.2,722.7 568.6,721.0 570.1,718.7 571.6,716.3 573.1,714.0 574.6,711.5 576.1,709.7 577.6,708.8 579.0,708.8 580.5,708.7 582.0,708.8 583.5,709.0 585.0,708.6 586.5,706.7 588.0,704.1 589.4,700.1 590.9,694.7 592.4,687.8 593.9,679.0 595.4,668.7 596.9,656.9 598.4,643.6 599.8,629.2 601.3,615.1 602.8,602.1 604.3,591.2 605.8,583.8 607.3,581.2 608.7,583.5 610.2,590.1 611.7,600.8 613.2,613.0 614.7,625.7 616.2,639.0 617.7,652.6 619.1,665.6 620.6,676.3 622.1,685.5 623.6,694.5 625.1,702.7 626.6,708.8 628.0,713.2 629.5,716.4 631.0,718.9 632.5,721.6 634.0,723.7 635.5,724.1 637.0,723.8 638.4,723.1 639.9,721.1 641.4,718.2 642.9,714.7 644.4,711.0 645.9,707.4 647.4,703.8 648.8,701.3 650.3,700.2 651.8,701.4 653.3,705.1 654.8,710.0 656.3,715.1 657.8,719.2 659.2,722.6 660.7,725.6 662.2,727.6 663.7,729.0 665.2,730.0 666.7,731.1 668.1,732.1 669.6,733.4 671.1,734.5 672.6,734.8 674.1,734.8 675.6,734.8 677.1,734.5 678.5,734.1 680.0,733.3 681.5,732.3 683.0,730.4 684.5,727.4 686.0,723.8 687.5,720.6 688.9,717.6 690.4,715.1 691.9,712.8 693.4,711.5 694.9,711.5 696.4,712.6 697.8,715.1 699.3,718.8 700.8,722.1 702.3,723.4 703.8,724.6 705.3,725.3 706.8,725.9 708.2,726.7 709.7,727.5 711.2,728.0 712.7,727.7 714.2,726.8 715.7,725.7 717.1,722.3 718.6,716.1 720.1,707.5 721.6,695.9 723.1,681.3 724.6,665.2 726.1,652.7 727.5,649.5 729.0,655.9 730.5,668.2 732.0,681.1 733.5,691.6 735.0,696.5 736.5,695.2 737.9,686.9 739.4,672.0 740.9,650.5 742.4,625.5 743.9,603.5 745.4,591.9 746.9,597.2 748.3,618.1 749.8,645.3 751.3,671.2 752.8,691.1 754.3,705.6 755.8,715.1 757.2,721.5 758.7,725.3 760.2,726.9 761.7,727.5 763.2,728.5 764.7,729.1 766.2,729.6 767.6,730.7 769.1,732.0 770.6,733.2 772.1,733.9 773.6,734.1 775.1,734.1 776.5,734.0 778.0,733.6 779.5,733.1 781.0,733.9 782.5,734.3 784.0,734.1 785.5,733.3 786.9,731.9 788.4,730.8 789.9,730.5 791.4,731.0 792.9,731.5 794.4,731.2 795.9,729.8 797.3,728.4 798.8,727.2 800.3,725.7 801.8,724.6 803.3,722.7 804.8,720.4 806.2,717.5 807.7,715.6 809.2,715.7 810.7,717.3 812.2,719.1 813.7,721.5 815.2,724.7 816.6,728.2 818.1,730.9 819.6,732.2 821.1,733.5 822.6,734.7 824.1,736.0 825.6,736.7 827.0,735.9 828.5,735.5 830.0,735.8 831.5,736.5 833.0,736.2 834.5,736.0 835.9,736.5 837.4,737.3 838.9,737.3 840.4,736.9 841.9,737.1 843.4,738.2 844.9,738.1 846.3,736.8 847.8,736.1 849.3,736.9 850.8,737.6" fill="none" stroke="#000080" stroke-width="3.2" stroke-linejoin="round" stroke-linecap="round"/>
<path d="M78.6,710.5 80.1,709.5 81.6,708.8 83.1,707.4 84.5,703.7 86.0,698.4 87.5,691.3 89.0,682.5 90.5,672.4 92.0,661.9 93.4,652.9 94.9,648.3 96.4,649.7 97.9,656.8 99.4,667.0 100.9,677.0 102.4,685.6 103.8,692.0 105.3,697.3 106.8,701.4 108.3,703.3 109.8,703.6 111.3,702.5 112.8,699.6 114.2,695.5 115.7,690.8 117.2,685.9 118.7,683.1 120.2,684.3 121.7,690.0 123.1,697.4 124.6,703.2 126.1,707.2 127.6,709.6 129.1,711.0 130.6,711.7 132.1,712.0 133.5,711.8 135.0,710.7 136.5,709.9 138.0,709.7 139.5,710.3 141.0,710.6 142.5,709.9 143.9,708.8 145.4,708.3 146.9,708.5 148.4,709.4 149.9,710.4 151.4,711.1 152.8,710.8 154.3,709.1 155.8,706.3 157.3,703.0 158.8,699.8 160.3,698.5 161.8,699.3 163.2,701.1 164.7,704.1 166.2,706.7 167.7,708.8 169.2,710.6 170.7,711.0 172.2,710.9 173.6,711.1 175.1,711.1 176.6,710.4 178.1,710.1 179.6,709.7 181.1,708.9 182.5,706.6 184.0,704.0 185.5,701.5 187.0,699.5 188.5,699.1 190.0,700.1 191.5,702.2 192.9,704.4 194.4,706.7 195.9,708.4 197.4,709.3 198.9,709.5 200.4,709.6 201.9,709.1 203.3,707.3 204.8,705.7 206.3,703.8 207.8,700.1 209.3,692.8 210.8,682.4 212.2,670.4 213.7,658.5 215.2,650.8 216.7,652.3 218.2,662.1 219.7,674.2 221.2,685.2 222.6,693.4 224.1,698.9 225.6,701.2 227.1,701.3 228.6,700.0 230.1,695.7 231.6,689.1 233.0,682.2 234.5,677.8 236.0,678.2 237.5,683.5 239.0,691.0 240.5,697.6 241.9,701.2 243.4,703.3 244.9,703.5 246.4,702.2 247.9,700.0 249.4,696.3 250.9,690.5 252.3,682.9 253.8,673.1 255.3,661.5 256.8,650.3 258.3,642.8 259.8,642.4 261.3,650.1 262.7,662.1 264.2,673.8 265.7,683.7 267.2,692.4 268.7,699.3 270.2,703.9 271.6,706.0 273.1,707.5 274.6,708.9 276.1,709.4 277.6,709.0 279.1,707.9 280.6,708.1 282.0,708.7 283.5,708.2 285.0,708.0 286.5,708.4 288.0,708.9 289.5,708.9 291.0,708.5 292.4,708.6 293.9,709.9 295.4,711.3 296.9,711.6 298.4,711.2 299.9,710.7 301.4,710.5 302.8,711.1 304.3,712.3 305.8,712.9 307.3,712.0 308.8,711.1 310.3,710.8 311.7,710.7 313.2,709.5 314.7,707.8 316.2,705.7 317.7,702.9 319.2,698.8 320.7,691.8 322.1,681.9 323.6,670.1 325.1,657.8 326.6,648.0 328.1,643.9 329.6,648.0 331.0,658.6 332.5,671.8 334.0,683.5 335.5,692.6 337.0,700.1 338.5,706.1 340.0,709.3 341.4,711.1 342.9,712.5 344.4,713.1 345.9,712.2 347.4,711.9 348.9,713.0 350.4,713.0 351.8,711.7 353.3,710.0 354.8,708.9 356.3,707.4 357.8,704.8 359.3,702.0 360.8,699.9 362.2,698.8 363.7,697.9 365.2,697.4 366.7,698.4 368.2,700.4 369.7,702.1 371.1,702.9 372.6,704.6 374.1,705.7 375.6,706.3 377.1,706.9 378.6,707.6 380.1,707.7 381.5,707.4 383.0,707.2 384.5,707.1 386.0,707.5 387.5,707.9 389.0,708.3 390.4,708.9 391.9,709.3 393.4,709.4 394.9,709.6 396.4,710.1 397.9,710.3 399.4,710.0 400.8,709.2 402.3,708.5 403.8,708.9 405.3,710.1 406.8,710.9 408.3,711.8 409.8,712.9 411.2,713.0 412.7,712.8 414.2,712.8 415.7,713.5 417.2,713.7 418.7,713.2 420.1,712.4 421.6,711.6 423.1,711.5 424.6,711.1 426.1,710.1 427.6,709.9 429.1,710.2 430.5,710.8 432.0,710.9 433.5,709.9 435.0,709.5 436.5,709.9 438.0,710.6 439.5,711.3 440.9,710.6 442.4,710.1 443.9,710.9 445.4,711.4 446.9,710.6 448.4,709.8 449.9,709.6 451.3,709.3 452.8,709.3 454.3,708.8 455.8,707.4 457.3,706.1 458.8,704.3 460.2,701.8 461.7,699.7 463.2,696.2 464.7,691.9 466.2,687.2 467.7,681.1 469.2,672.9 470.6,663.1 472.1,652.3 473.6,639.5 475.1,625.5 476.6,611.4 478.1,597.5 479.5,585.2 481.0,577.1 482.5,574.5 484.0,577.9 485.5,586.4 487.0,598.0 488.5,611.6 489.9,626.3 491.4,640.6 492.9,653.4 494.4,663.9 495.9,673.0 497.4,680.4 498.9,685.9 500.3,689.9 501.8,693.1 503.3,695.8 504.8,697.2 506.3,698.2 507.8,699.1 509.2,699.4 510.7,699.7 512.2,699.3 513.7,699.6 515.2,700.0 516.7,700.2 518.2,700.7 519.6,701.8 521.1,703.2 522.6,704.2 524.1,704.5 525.6,705.2 527.1,706.0 528.6,706.5 530.0,706.5 531.5,706.8 533.0,707.0 534.5,706.6 536.0,706.7 537.5,707.4 538.9,707.7 540.4,707.0 541.9,707.0 543.4,706.2 544.9,704.0 546.4,701.8 547.9,698.6 549.3,693.8 550.8,689.0 552.3,685.9 553.8,685.6 555.3,687.7 556.8,691.7 558.3,696.8 559.7,701.9 561.2,705.8 562.7,707.7 564.2,708.2 565.7,708.6 567.2,708.3 568.6,707.2 570.1,705.1 571.6,703.0 573.1,701.3 574.6,699.6 576.1,697.0 577.6,695.1 579.0,694.6 580.5,695.4 582.0,695.6 583.5,696.1 585.0,696.7 586.5,696.9 588.0,695.8 589.4,693.2 590.9,690.6 592.4,687.6 593.9,683.5 595.4,678.1 596.9,672.0 598.4,664.3 599.8,654.9 601.3,645.8 602.8,638.0 604.3,632.3 605.8,628.3 607.3,626.7 608.7,628.0 610.2,632.5 611.7,639.1 613.2,647.2 614.7,654.3 616.2,660.6 617.7,668.5 619.1,677.1 620.6,683.8 622.1,688.7 623.6,693.1 625.1,696.8 626.6,699.8 628.0,702.0 629.5,703.2 631.0,704.9 632.5,706.7 634.0,707.4 635.5,707.3 637.0,707.9 638.4,709.3 639.9,709.3 641.4,707.8 642.9,706.7 644.4,706.2 645.9,705.4 647.4,703.4 648.8,701.6 650.3,701.8 651.8,702.2 653.3,702.3 654.8,703.1 656.3,705.0 657.8,706.9 659.2,708.0 660.7,709.2 662.2,709.6 663.7,709.4 665.2,709.6 666.7,709.8 668.1,709.3 669.6,708.3 671.1,707.9 672.6,708.0 674.1,708.6 675.6,709.2 677.1,709.2 678.5,709.6 680.0,709.8 681.5,710.6 683.0,710.0 684.5,708.0 686.0,706.3 687.5,704.6 688.9,702.6 690.4,701.9 691.9,701.5 693.4,700.4 694.9,699.3 696.4,699.1 697.8,700.2 699.3,701.8 700.8,703.6 702.3,705.3 703.8,707.3 705.3,709.1 706.8,710.0 708.2,711.0 709.7,712.4 711.2,713.1 712.7,712.4 714.2,711.4 715.7,710.8 717.1,709.2 718.6,705.8 720.1,700.0 721.6,691.8 723.1,681.8 724.6,671.0 726.1,662.3 727.5,659.4 729.0,663.3 730.5,670.8 732.0,678.7 733.5,684.7 735.0,687.7 736.5,686.8 737.9,682.3 739.4,674.1 740.9,661.4 742.4,646.6 743.9,633.4 745.4,626.8 746.9,630.9 748.3,644.3 749.8,660.9 751.3,675.8 752.8,688.0 754.3,696.5 755.8,702.3 757.2,706.1 758.7,708.1 760.2,708.7 761.7,709.4 763.2,710.2 764.7,710.6 766.2,710.9 767.6,710.8 769.1,711.0 770.6,711.4 772.1,710.7 773.6,710.1 775.1,710.3 776.5,710.9 778.0,711.0 779.5,710.8 781.0,710.7 782.5,711.1 784.0,712.3 785.5,713.9 786.9,714.6 788.4,714.3 789.9,714.2 791.4,713.9 792.9,713.8 794.4,714.6 795.9,715.0 797.3,713.9 798.8,712.4 800.3,711.0 801.8,709.6 803.3,707.8 804.8,705.4 806.2,702.3 807.7,699.9 809.2,699.6 810.7,701.8 812.2,704.3 813.7,705.9 815.2,706.9 816.6,708.1 818.1,710.1 819.6,711.8 821.1,713.2 822.6,714.1 824.1,714.7 825.6,715.9 827.0,717.0 828.5,717.2 830.0,716.8 831.5,716.7 833.0,717.0 834.5,716.7 835.9,716.0 837.4,714.9 838.9,713.5 840.4,712.3 841.9,711.4 843.4,710.9 844.9,711.0 846.3,711.4 847.8,711.7 849.3,710.9 850.8,710.7" fill="none" stroke="#800000" stroke-width="3.2" stroke-linejoin="round" stroke-linecap="round"/>
<path d="M78.6,719.0 80.1,717.4 81.6,715.5 83.1,712.2 84.5,706.5 86.0,696.8 87.5,683.0 89.0,665.8 90.5,645.9 92.0,624.1 93.4,605.2 94.9,596.0 96.4,599.9 97.9,614.4 99.4,634.9 100.9,656.6 102.4,675.4 103.8,690.0 105.3,700.8 106.8,707.7 108.3,710.6 109.8,711.3 111.3,710.1 112.8,706.0 114.2,697.8 115.7,688.0 117.2,679.9 118.7,675.4 120.2,677.7 121.7,686.1 123.1,696.9 124.6,706.6 126.1,713.4 127.6,717.4 129.1,719.6 130.6,720.9 132.1,721.5 133.5,721.3 135.0,721.1 136.5,721.6 138.0,720.8 139.5,719.2 141.0,718.1 142.5,717.7 143.9,717.0 145.4,716.8 146.9,718.1 148.4,720.1 149.9,721.9 151.4,722.0 152.8,720.6 154.3,717.5 155.8,712.4 157.3,706.0 158.8,700.8 160.3,698.8 161.8,699.8 163.2,702.8 164.7,707.0 166.2,711.7 167.7,716.6 169.2,719.9 170.7,720.9 172.2,721.4 173.6,722.5 175.1,723.7 176.6,723.5 178.1,721.9 179.6,720.5 181.1,718.9 182.5,716.5 184.0,713.2 185.5,708.9 187.0,704.1 188.5,701.9 190.0,703.1 191.5,706.6 192.9,710.4 194.4,714.0 195.9,716.1 197.4,716.8 198.9,717.7 200.4,718.7 201.9,718.6 203.3,716.5 204.8,713.0 206.3,708.3 207.8,700.8 209.3,688.9 210.8,671.5 212.2,650.0 213.7,627.4 215.2,612.7 216.7,614.7 218.2,631.5 219.7,653.2 221.2,673.9 222.6,690.4 224.1,700.7 225.6,705.6 227.1,706.8 228.6,704.0 230.1,696.6 231.6,685.3 233.0,673.3 234.5,666.7 236.0,669.8 237.5,679.5 239.0,691.3 240.5,701.3 241.9,707.4 243.4,710.1 244.9,709.9 246.4,707.7 247.9,703.6 249.4,696.7 250.9,686.3 252.3,672.1 253.8,655.0 255.3,635.4 256.8,616.3 258.3,603.3 259.8,602.3 261.3,613.9 262.7,633.2 264.2,654.0 265.7,673.3 267.2,688.5 268.7,699.4 270.2,706.9 271.6,712.0 273.1,715.0 274.6,716.1 276.1,716.4 277.6,716.7 279.1,716.3 280.6,715.9 282.0,714.7 283.5,713.9 285.0,713.8 286.5,714.0 288.0,715.0 289.5,716.9 291.0,719.5 292.4,721.7 293.9,723.3 295.4,724.0 296.9,724.0 298.4,723.6 299.9,722.7 301.4,721.4 302.8,720.8 304.3,720.5 305.8,720.0 307.3,720.0 308.8,720.0 310.3,719.6 311.7,719.7 313.2,719.3 314.7,717.9 316.2,714.8 317.7,709.4 319.2,701.1 320.7,689.7 322.1,674.0 323.6,653.7 325.1,631.3 326.6,612.5 328.1,604.9 329.6,612.0 331.0,629.0 332.5,650.2 334.0,671.2 335.5,688.7 337.0,701.2 338.5,709.2 340.0,714.2 341.4,716.8 342.9,718.1 344.4,720.1 345.9,722.2 347.4,723.6 348.9,723.1 350.4,722.4 351.8,721.4 353.3,720.1 354.8,718.1 356.3,715.6 357.8,711.6 359.3,708.1 360.8,704.8 362.2,701.5 363.7,699.9 365.2,701.1 366.7,704.1 368.2,706.9 369.7,709.0 371.1,711.4 372.6,714.2 374.1,716.6 375.6,717.8 377.1,717.9 378.6,717.9 380.1,718.4 381.5,719.6 383.0,720.7 384.5,720.9 386.0,720.8 387.5,721.0 389.0,721.4 390.4,721.7 391.9,721.3 393.4,720.2 394.9,718.9 396.4,717.4 397.9,716.4 399.4,716.3 400.8,716.3 402.3,716.8 403.8,717.6 405.3,719.3 406.8,721.1 408.3,722.5 409.8,723.7 411.2,724.3 412.7,724.8 414.2,726.3 415.7,728.0 417.2,728.9 418.7,729.2 420.1,729.2 421.6,728.4 423.1,727.8 424.6,727.4 426.1,727.9 427.6,728.4 429.1,727.9 430.5,726.7 432.0,726.2 433.5,726.2 435.0,726.2 436.5,726.2 438.0,725.2 439.5,723.2 440.9,721.7 442.4,721.8 443.9,723.0 445.4,723.5 446.9,723.4 448.4,722.8 449.9,722.3 451.3,721.9 452.8,721.5 454.3,720.5 455.8,718.9 457.3,717.1 458.8,714.3 460.2,710.5 461.7,706.6 463.2,701.8 464.7,694.5 466.2,684.7 467.7,671.7 469.2,655.8 470.6,638.6 472.1,618.9 473.6,595.9 475.1,570.7 476.6,543.9 478.1,518.0 479.5,497.3 481.0,483.8 482.5,479.1 484.0,484.2 485.5,498.2 487.0,519.1 488.5,544.0 489.9,569.8 491.4,594.5 492.9,617.3 494.4,637.0 495.9,653.4 497.4,666.8 498.9,677.7 500.3,685.7 501.8,691.3 503.3,695.8 504.8,699.8 506.3,702.3 507.8,702.9 509.2,702.7 510.7,702.6 512.2,702.5 513.7,702.6 515.2,703.4 516.7,704.8 518.2,706.5 519.6,708.9 521.1,711.7 522.6,714.5 524.1,717.1 525.6,719.1 527.1,719.7 528.6,719.9 530.0,719.8 531.5,719.6 533.0,719.9 534.5,720.0 536.0,719.1 537.5,717.9 538.9,717.8 540.4,718.1 541.9,717.8 543.4,715.7 544.9,712.7 546.4,708.2 547.9,701.9 549.3,694.6 550.8,686.9 552.3,680.1 553.8,677.8 555.3,681.3 556.8,687.7 558.3,695.3 559.7,703.5 561.2,710.3 562.7,713.8 564.2,715.7 565.7,716.5 567.2,715.0 568.6,712.7 570.1,710.6 571.6,708.4 573.1,705.1 574.6,701.0 576.1,698.9 577.6,697.9 579.0,697.7 580.5,698.4 582.0,699.5 583.5,701.0 585.0,701.9 586.5,700.4 588.0,696.6 589.4,691.9 590.9,685.8 592.4,678.6 593.9,669.9 595.4,658.8 596.9,646.2 598.4,632.1 599.8,617.0 601.3,600.8 602.8,586.3 604.3,574.6 605.8,566.6 607.3,564.0 608.7,566.8 610.2,573.6 611.7,583.9 613.2,597.0 614.7,611.6 616.2,626.6 617.7,641.3 619.1,654.6 620.6,666.4 622.1,676.4 623.6,685.2 625.1,692.4 626.6,698.9 628.0,703.5 629.5,706.3 631.0,708.0 632.5,708.9 634.0,708.9 635.5,708.5 637.0,708.1 638.4,708.1 639.9,707.1 641.4,705.4 642.9,703.6 644.4,701.2 645.9,697.3 647.4,693.4 648.8,691.3 650.3,690.5 651.8,691.0 653.3,693.6 654.8,697.9 656.3,702.6 657.8,707.8 659.2,712.3 660.7,715.4 662.2,717.1 663.7,718.8 665.2,720.4 666.7,721.6 668.1,721.8 669.6,722.2 671.1,722.7 672.6,723.2 674.1,723.0 675.6,722.7 677.1,723.2 678.5,723.4 680.0,721.9 681.5,719.3 683.0,717.7 684.5,716.6 686.0,714.9 687.5,711.7 688.9,707.6 690.4,703.0 691.9,699.9 693.4,698.3 694.9,697.3 696.4,698.4 697.8,701.7 699.3,705.1 700.8,708.8 702.3,712.8 703.8,716.9 705.3,719.7 706.8,721.1 708.2,722.3 709.7,723.3 711.2,723.8 712.7,723.8 714.2,722.7 715.7,720.5 717.1,716.1 718.6,710.0 720.1,700.8 721.6,686.6 723.1,669.0 724.6,651.4 726.1,637.8 727.5,633.8 729.0,640.3 730.5,653.4 732.0,667.5 733.5,677.9 735.0,682.9 736.5,681.8 737.9,672.9 739.4,655.8 740.9,631.3 742.4,604.1 743.9,580.2 745.4,567.8 746.9,573.5 748.3,595.5 749.8,625.2 751.3,654.1 752.8,676.9 754.3,693.0 755.8,704.0 757.2,711.4 758.7,715.8 760.2,718.8 761.7,720.9 763.2,722.6 764.7,723.8 766.2,724.6 767.6,725.8 769.1,727.0 770.6,727.7 772.1,728.8 773.6,729.4 775.1,729.4 776.5,729.5 778.0,730.2 779.5,730.6 781.0,730.9 782.5,731.2 784.0,730.7 785.5,730.3 786.9,729.6 788.4,728.4 789.9,727.1 791.4,726.7 792.9,726.5 794.4,726.1 795.9,725.1 797.3,723.5 798.8,722.4 800.3,721.9 801.8,720.6 803.3,719.0 804.8,717.3 806.2,715.1 807.7,712.3 809.2,710.4 810.7,710.3 812.2,712.2 813.7,715.6 815.2,719.4 816.6,722.5 818.1,725.2 819.6,727.5 821.1,729.2 822.6,729.9 824.1,730.2 825.6,730.6 827.0,731.5 828.5,731.6 830.0,730.5 831.5,729.8 833.0,729.7 834.5,729.5 835.9,728.8 837.4,728.3 838.9,728.6 840.4,729.0 841.9,729.1 843.4,729.0 844.9,729.0 846.3,728.7 847.8,728.3 849.3,728.5 850.8,729.4" fill="none" stroke="#2a9a9a" stroke-width="3.2" stroke-linejoin="round" stroke-linecap="round"/>
<path d="M859.0,895.7 860.5,895.3 862.0,895.0 863.5,893.5 865.0,891.8 866.5,890.2 868.0,886.6 869.5,882.0 871.0,876.7 872.5,870.2 874.0,862.9 875.4,857.4 876.9,857.3 878.4,863.5 879.9,873.0 881.4,880.8 882.9,885.0 884.4,888.1 885.9,891.0 887.4,892.0 888.9,892.2 890.4,893.1 891.9,894.4 893.4,895.4 894.9,895.8 896.4,893.8 897.9,888.4 899.4,882.1 900.9,879.7 902.4,881.5 903.9,884.7 905.3,887.7 906.8,888.9 908.3,890.4 909.8,893.1 911.3,895.1 912.8,895.1 914.3,894.6 915.8,893.8 917.3,894.3 918.8,895.2 920.3,895.2 921.8,896.2 923.3,896.9 924.8,896.8 926.3,896.2 927.8,894.6 929.3,892.6 930.8,892.9 932.3,894.3 933.8,894.3 935.2,891.7 936.7,888.6 938.2,885.9 939.7,882.3 941.2,878.8 942.7,879.2 944.2,881.9 945.7,884.0 947.2,886.7 948.7,888.7 950.2,889.9 951.7,892.3 953.2,894.9 954.7,898.1 956.2,900.9 957.7,902.3 959.2,901.9 960.7,900.9 962.2,900.1 963.6,899.8 965.1,898.7 966.6,896.3 968.1,895.0 969.6,893.5 971.1,892.1 972.6,891.6 974.1,891.7 975.6,892.0 977.1,893.5 978.6,895.6 980.1,897.6 981.6,899.4 983.1,900.7 984.6,901.2 986.1,900.2 987.6,898.0 989.1,895.4 990.6,893.4 992.1,891.9 993.5,891.2 995.0,891.0 996.5,891.3 998.0,890.8 999.5,888.8 1001.0,889.0 1002.5,890.1 1004.0,890.9 1005.5,892.7 1007.0,895.5 1008.5,897.2 1010.0,895.9 1011.5,893.7 1013.0,892.9 1014.5,893.5 1016.0,893.4 1017.5,890.9 1019.0,888.4 1020.5,886.9 1022.0,886.5 1023.5,887.7 1024.9,889.1 1026.4,890.9 1027.9,893.7 1029.4,895.4 1030.9,894.7 1032.4,892.2 1033.9,890.8 1035.4,890.7 1036.9,890.4 1038.4,888.5 1039.9,886.1 1041.4,884.9 1042.9,885.2 1044.4,886.8 1045.9,888.9 1047.4,892.4 1048.9,895.4 1050.4,896.2 1051.9,896.5 1053.3,898.4 1054.8,898.7 1056.3,897.2 1057.8,896.7 1059.3,897.6 1060.8,898.2 1062.3,897.6 1063.8,897.8 1065.3,900.2 1066.8,902.5 1068.3,903.6 1069.8,903.5 1071.3,904.8 1072.8,904.7 1074.3,903.5 1075.8,902.3 1077.3,901.0 1078.8,899.2 1080.3,897.4 1081.8,896.0 1083.2,894.5 1084.7,893.9 1086.2,894.8 1087.7,896.2 1089.2,897.6 1090.7,897.9 1092.2,896.8 1093.7,895.3 1095.2,893.9 1096.7,892.4 1098.2,892.3 1099.7,891.9 1101.2,890.0 1102.7,886.8 1104.2,884.2 1105.7,883.5 1107.2,883.6 1108.7,884.2 1110.2,884.9 1111.7,885.8 1113.2,887.2 1114.6,889.2 1116.1,891.4 1117.6,894.4 1119.1,897.9 1120.6,899.9 1122.1,899.4 1123.6,899.0 1125.1,900.4 1126.6,900.7 1128.1,900.5 1129.6,900.3 1131.1,900.4 1132.6,900.6 1134.1,899.0 1135.6,896.5 1137.1,895.2 1138.6,895.0 1140.1,894.8 1141.6,893.8 1143.0,893.3 1144.5,894.0 1146.0,895.4 1147.5,896.3 1149.0,896.5 1150.5,897.5 1152.0,899.0 1153.5,899.5 1155.0,896.5 1156.5,893.0 1158.0,892.9 1159.5,895.0 1161.0,897.4 1162.5,898.5 1164.0,897.2 1165.5,895.1 1167.0,895.5 1168.5,896.2 1170.0,896.0 1171.5,894.6 1173.0,891.9 1174.4,889.7 1175.9,888.5 1177.4,889.8 1178.9,892.6 1180.4,894.5 1181.9,893.5 1183.4,893.3 1184.9,895.7 1186.4,897.8 1187.9,899.1 1189.4,898.4 1190.9,898.3 1192.4,899.3 1193.9,899.1 1195.4,897.8 1196.9,896.7 1198.4,897.2 1199.9,896.9 1201.4,896.5 1202.8,895.2 1204.3,894.8 1205.8,896.1 1207.3,897.7 1208.8,898.4 1210.3,897.3 1211.8,896.5 1213.3,897.3 1214.8,897.4 1216.3,896.0 1217.8,895.2 1219.3,894.9 1220.8,894.7 1222.3,894.6 1223.8,894.3 1225.3,892.5 1226.8,891.6 1228.3,892.3 1229.8,893.7 1231.3,895.8 1232.8,896.8 1234.2,896.8 1235.7,896.8 1237.2,896.5 1238.7,896.9 1240.2,898.4 1241.7,899.7 1243.2,898.6 1244.7,897.5 1246.2,898.0 1247.7,899.0 1249.2,898.4 1250.7,898.2 1252.2,897.7 1253.7,896.6 1255.2,897.1 1256.7,897.3 1258.2,894.8 1259.7,891.7 1261.2,890.0 1262.7,889.2 1264.1,887.7 1265.6,885.4 1267.1,884.7 1268.6,886.1 1270.1,887.9 1271.6,889.5 1273.1,890.3 1274.6,890.1 1276.1,890.2 1277.6,890.9 1279.1,891.3 1280.6,892.2 1282.1,894.1 1283.6,895.5 1285.1,895.4 1286.6,894.2 1288.1,893.9 1289.6,893.3 1291.1,890.4 1292.5,887.3 1294.0,886.8 1295.5,889.2 1297.0,891.1 1298.5,891.3 1300.0,892.3 1301.5,895.1 1303.0,897.1 1304.5,896.7 1306.0,895.7 1307.5,895.3 1309.0,895.9 1310.5,896.0 1312.0,897.0 1313.5,897.9 1315.0,898.1 1316.5,898.0 1318.0,897.4 1319.5,897.5 1321.0,897.8 1322.5,897.2 1323.9,897.1 1325.4,897.3 1326.9,896.3 1328.4,894.5 1329.9,893.3 1331.4,892.8 1332.9,891.6 1334.4,887.2 1335.9,882.2 1337.4,878.7 1338.9,877.6 1340.4,879.6 1341.9,883.8 1343.4,886.9 1344.9,888.4 1346.4,890.4 1347.9,893.1 1349.4,894.8 1350.9,895.6 1352.3,896.3 1353.8,895.9 1355.3,893.8 1356.8,891.7 1358.3,889.8 1359.8,888.7 1361.3,887.8 1362.8,888.3 1364.3,889.6 1365.8,890.4 1367.3,890.9 1368.8,891.1 1370.3,891.8 1371.8,893.4 1373.3,894.4 1374.8,894.6 1376.3,893.6 1377.8,892.0 1379.3,889.9 1380.8,887.7 1382.2,885.5 1383.7,883.3 1385.2,881.6 1386.7,879.5 1388.2,875.9 1389.7,874.8 1391.2,876.3 1392.7,878.7 1394.2,881.3 1395.7,883.0 1397.2,884.4 1398.7,886.8 1400.2,890.0 1401.7,893.2 1403.2,894.4 1404.7,894.1 1406.2,894.1 1407.7,893.5 1409.2,892.7 1410.7,892.4 1412.2,892.5 1413.6,893.9 1415.1,896.0 1416.6,897.7 1418.1,898.4 1419.6,898.0 1421.1,898.2 1422.6,898.4 1424.1,896.8 1425.6,894.4 1427.1,894.5 1428.6,895.2 1430.1,894.0 1431.6,892.6 1433.1,890.8 1434.6,888.1 1436.1,887.6 1437.6,887.9 1439.1,887.5 1440.6,887.8 1442.0,890.1 1443.5,892.9 1445.0,895.7 1446.5,897.3 1448.0,898.2 1449.5,899.2 1451.0,899.9 1452.5,900.1 1454.0,901.2 1455.5,903.3 1457.0,904.9 1458.5,904.2 1460.0,901.9 1461.5,899.5 1463.0,898.2 1464.5,897.1 1466.0,896.0 1467.5,895.7 1469.0,895.1 1470.5,894.0 1471.9,891.4 1473.4,888.5 1474.9,887.2 1476.4,888.0 1477.9,890.3 1479.4,891.8 1480.9,890.9 1482.4,889.1 1483.9,887.7 1485.4,887.1 1486.9,888.4 1488.4,890.3 1489.9,891.8 1491.4,892.5 1492.9,892.9 1494.4,892.6 1495.9,891.6 1497.4,891.8 1498.9,893.3 1500.4,894.7 1501.8,894.6 1503.3,892.8 1504.8,890.2 1506.3,887.2 1507.8,884.1 1509.3,882.9 1510.8,884.4 1512.3,889.0 1513.8,892.1 1515.3,891.8 1516.8,890.9 1518.3,890.5 1519.8,891.2 1521.3,892.0 1522.8,890.1 1524.3,886.0 1525.8,881.6 1527.3,877.3 1528.8,874.0 1530.3,871.9 1531.8,872.2 1533.2,875.4 1534.7,879.8 1536.2,884.5 1537.7,890.3 1539.2,895.6 1540.7,898.7 1542.2,901.1 1543.7,905.1 1545.2,908.6 1546.7,910.7 1548.2,908.9 1549.7,904.0 1551.2,900.7 1552.7,899.8 1554.2,899.4 1555.7,900.7 1557.2,903.6 1558.7,905.9 1560.2,906.8 1561.7,905.9 1563.1,904.4 1564.6,903.7 1566.1,902.8 1567.6,901.1 1569.1,901.3 1570.6,903.0 1572.1,905.2 1573.6,908.1 1575.1,911.0 1576.6,913.0 1578.1,912.6 1579.6,910.1 1581.1,905.9 1582.6,900.8 1584.1,897.0 1585.6,894.2 1587.1,892.7 1588.6,890.7 1590.1,887.6 1591.5,885.1 1593.0,882.6 1594.5,881.4 1596.0,882.3 1597.5,884.2 1599.0,886.5 1600.5,888.3 1602.0,889.4 1603.5,889.9 1605.0,890.6 1606.5,892.8 1608.0,895.3 1609.5,896.8 1611.0,897.6 1612.5,899.5 1614.0,899.7 1615.5,898.1 1617.0,897.7 1618.5,897.8 1620.0,897.1 1621.4,897.8 1622.9,899.2 1624.4,900.5 1625.9,901.2 1627.4,901.3 1628.9,900.7 1630.4,901.0 1631.9,900.8 1633.4,898.4 1634.9,896.8 1636.4,896.5" fill="none" stroke="#800000" stroke-width="3.2" stroke-linejoin="round" stroke-linecap="round"/>
<path d="M859.0,886.6 860.5,886.0 862.0,884.3 863.5,881.5 865.0,878.5 866.5,875.5 868.0,872.8 869.5,868.2 871.0,859.2 872.5,847.8 874.0,839.7 875.4,837.6 876.9,841.1 878.4,848.8 879.9,857.1 881.4,863.5 882.9,868.7 884.4,873.1 885.9,877.4 887.4,880.4 888.9,881.5 890.4,880.7 891.9,876.9 893.4,873.9 894.9,871.1 896.4,866.8 897.9,862.7 899.4,859.4 900.9,857.8 902.4,860.1 903.9,865.4 905.3,870.3 906.8,874.2 908.3,876.2 909.8,876.5 911.3,876.8 912.8,877.8 914.3,878.5 915.8,879.7 917.3,882.0 918.8,884.2 920.3,885.6 921.8,885.8 923.3,885.9 924.8,886.9 926.3,886.4 927.8,885.4 929.3,885.7 930.8,885.2 932.3,882.6 933.8,882.2 935.2,881.9 936.7,880.9 938.2,881.1 939.7,882.9 941.2,884.3 942.7,883.3 944.2,882.5 945.7,883.0 947.2,882.6 948.7,881.3 950.2,880.3 951.7,880.3 953.2,881.6 954.7,881.8 956.2,882.8 957.7,886.5 959.2,888.6 960.7,888.6 962.2,888.1 963.6,886.8 965.1,883.5 966.6,880.7 968.1,880.0 969.6,879.4 971.1,878.1 972.6,876.5 974.1,874.6 975.6,873.5 977.1,874.7 978.6,877.7 980.1,879.5 981.6,879.9 983.1,880.1 984.6,880.6 986.1,881.1 987.6,881.3 989.1,880.3 990.6,878.7 992.1,876.8 993.5,874.1 995.0,871.3 996.5,867.8 998.0,866.5 999.5,868.0 1001.0,870.1 1002.5,872.0 1004.0,875.4 1005.5,879.2 1007.0,881.5 1008.5,882.0 1010.0,882.3 1011.5,883.0 1013.0,883.7 1014.5,883.7 1016.0,883.3 1017.5,880.0 1019.0,876.1 1020.5,876.7 1022.0,880.1 1023.5,882.2 1024.9,881.4 1026.4,879.8 1027.9,880.6 1029.4,881.6 1030.9,880.8 1032.4,879.1 1033.9,877.9 1035.4,875.8 1036.9,872.2 1038.4,868.9 1039.9,865.6 1041.4,863.1 1042.9,863.3 1044.4,866.3 1045.9,869.6 1047.4,873.1 1048.9,876.4 1050.4,878.9 1051.9,880.6 1053.3,882.4 1054.8,882.8 1056.3,881.9 1057.8,881.2 1059.3,881.2 1060.8,881.1 1062.3,882.1 1063.8,884.4 1065.3,885.5 1066.8,884.4 1068.3,881.1 1069.8,878.6 1071.3,878.2 1072.8,877.9 1074.3,875.2 1075.8,872.3 1077.3,872.0 1078.8,871.2 1080.3,870.2 1081.8,871.2 1083.2,873.1 1084.7,875.1 1086.2,876.6 1087.7,877.7 1089.2,878.7 1090.7,880.2 1092.2,882.0 1093.7,884.0 1095.2,885.2 1096.7,885.6 1098.2,884.9 1099.7,884.0 1101.2,880.9 1102.7,877.2 1104.2,873.9 1105.7,869.3 1107.2,863.5 1108.7,859.5 1110.2,857.9 1111.7,857.1 1113.2,858.3 1114.6,863.0 1116.1,868.9 1117.6,872.8 1119.1,875.7 1120.6,877.7 1122.1,878.0 1123.6,878.5 1125.1,879.7 1126.6,881.1 1128.1,881.7 1129.6,881.2 1131.1,880.9 1132.6,880.5 1134.1,878.2 1135.6,874.2 1137.1,871.6 1138.6,871.4 1140.1,872.0 1141.6,873.6 1143.0,875.0 1144.5,875.8 1146.0,876.6 1147.5,876.5 1149.0,876.2 1150.5,877.3 1152.0,878.9 1153.5,880.2 1155.0,880.5 1156.5,880.5 1158.0,880.9 1159.5,880.5 1161.0,878.8 1162.5,877.5 1164.0,877.3 1165.5,876.8 1167.0,875.6 1168.5,875.0 1170.0,874.3 1171.5,873.2 1173.0,872.5 1174.4,872.7 1175.9,873.4 1177.4,875.0 1178.9,876.7 1180.4,877.0 1181.9,877.6 1183.4,879.2 1184.9,881.4 1186.4,883.4 1187.9,885.1 1189.4,885.6 1190.9,886.1 1192.4,886.1 1193.9,885.2 1195.4,884.2 1196.9,882.5 1198.4,880.7 1199.9,880.5 1201.4,882.2 1202.8,883.5 1204.3,882.9 1205.8,882.0 1207.3,881.4 1208.8,880.4 1210.3,879.1 1211.8,878.6 1213.3,878.3 1214.8,877.5 1216.3,877.3 1217.8,878.0 1219.3,878.8 1220.8,879.5 1222.3,880.4 1223.8,882.1 1225.3,883.3 1226.8,882.4 1228.3,881.4 1229.8,881.5 1231.3,881.7 1232.8,881.2 1234.2,879.5 1235.7,877.6 1237.2,876.2 1238.7,875.6 1240.2,875.0 1241.7,874.4 1243.2,874.5 1244.7,876.2 1246.2,878.4 1247.7,879.0 1249.2,879.0 1250.7,879.1 1252.2,879.0 1253.7,877.9 1255.2,875.7 1256.7,872.7 1258.2,868.0 1259.7,860.9 1261.2,854.0 1262.7,848.8 1264.1,844.6 1265.6,841.0 1267.1,839.5 1268.6,841.5 1270.1,847.1 1271.6,853.3 1273.1,858.3 1274.6,863.2 1276.1,869.5 1277.6,874.8 1279.1,879.4 1280.6,882.9 1282.1,884.4 1283.6,884.0 1285.1,882.4 1286.6,881.9 1288.1,882.0 1289.6,880.6 1291.1,878.8 1292.5,877.7 1294.0,877.3 1295.5,876.6 1297.0,876.1 1298.5,877.7 1300.0,881.3 1301.5,883.9 1303.0,885.1 1304.5,886.0 1306.0,886.0 1307.5,885.3 1309.0,886.2 1310.5,887.2 1312.0,886.6 1313.5,885.1 1315.0,882.7 1316.5,880.1 1318.0,879.8 1319.5,881.3 1321.0,881.9 1322.5,881.1 1323.9,880.6 1325.4,882.1 1326.9,884.8 1328.4,886.3 1329.9,885.4 1331.4,883.6 1332.9,883.4 1334.4,884.2 1335.9,884.5 1337.4,883.0 1338.9,881.1 1340.4,879.6 1341.9,878.5 1343.4,878.0 1344.9,878.3 1346.4,878.7 1347.9,879.8 1349.4,881.0 1350.9,882.7 1352.3,883.1 1353.8,881.4 1355.3,878.9 1356.8,877.4 1358.3,877.8 1359.8,877.6 1361.3,876.0 1362.8,875.6 1364.3,876.8 1365.8,879.0 1367.3,880.7 1368.8,881.4 1370.3,881.9 1371.8,883.0 1373.3,881.9 1374.8,880.9 1376.3,881.5 1377.8,882.6 1379.3,882.6 1380.8,880.0 1382.2,876.7 1383.7,874.2 1385.2,870.7 1386.7,866.3 1388.2,862.9 1389.7,860.6 1391.2,859.9 1392.7,861.4 1394.2,864.2 1395.7,867.5 1397.2,870.9 1398.7,873.9 1400.2,876.5 1401.7,878.2 1403.2,879.3 1404.7,880.2 1406.2,879.0 1407.7,878.1 1409.2,876.7 1410.7,875.1 1412.2,874.5 1413.6,873.9 1415.1,872.1 1416.6,870.4 1418.1,870.1 1419.6,870.6 1421.1,870.4 1422.6,870.1 1424.1,870.7 1425.6,871.8 1427.1,872.3 1428.6,871.9 1430.1,871.6 1431.6,871.1 1433.1,870.6 1434.6,870.5 1436.1,869.3 1437.6,866.3 1439.1,864.7 1440.6,866.5 1442.0,869.0 1443.5,871.5 1445.0,873.5 1446.5,874.7 1448.0,876.5 1449.5,879.1 1451.0,882.0 1452.5,885.2 1454.0,889.4 1455.5,892.5 1457.0,892.8 1458.5,892.0 1460.0,891.5 1461.5,891.4 1463.0,890.7 1464.5,889.1 1466.0,886.5 1467.5,884.1 1469.0,882.0 1470.5,880.5 1471.9,880.8 1473.4,881.9 1474.9,882.5 1476.4,880.4 1477.9,876.6 1479.4,873.9 1480.9,871.6 1482.4,868.4 1483.9,867.6 1485.4,869.2 1486.9,870.7 1488.4,871.8 1489.9,873.2 1491.4,875.1 1492.9,877.2 1494.4,878.4 1495.9,878.3 1497.4,878.1 1498.9,877.3 1500.4,875.9 1501.8,874.6 1503.3,874.6 1504.8,873.7 1506.3,871.6 1507.8,869.4 1509.3,867.9 1510.8,868.4 1512.3,870.5 1513.8,872.4 1515.3,873.4 1516.8,873.3 1518.3,872.1 1519.8,871.0 1521.3,871.7 1522.8,872.4 1524.3,869.9 1525.8,864.3 1527.3,858.2 1528.8,852.3 1530.3,847.9 1531.8,848.0 1533.2,852.3 1534.7,860.2 1536.2,868.4 1537.7,875.0 1539.2,880.3 1540.7,884.2 1542.2,888.3 1543.7,895.0 1545.2,901.6 1546.7,903.8 1548.2,901.0 1549.7,895.4 1551.2,890.5 1552.7,887.5 1554.2,886.2 1555.7,887.1 1557.2,888.5 1558.7,890.1 1560.2,891.6 1561.7,891.6 1563.1,890.3 1564.6,889.4 1566.1,888.5 1567.6,887.6 1569.1,888.3 1570.6,891.6 1572.1,895.4 1573.6,899.4 1575.1,903.3 1576.6,904.9 1578.1,901.9 1579.6,897.0 1581.1,892.1 1582.6,887.7 1584.1,884.3 1585.6,882.1 1587.1,881.0 1588.6,879.4 1590.1,875.7 1591.5,870.6 1593.0,865.3 1594.5,862.0 1596.0,862.3 1597.5,865.6 1599.0,868.3 1600.5,871.0 1602.0,875.1 1603.5,877.9 1605.0,878.3 1606.5,878.5 1608.0,880.7 1609.5,883.4 1611.0,883.9 1612.5,884.0 1614.0,884.1 1615.5,882.1 1617.0,880.5 1618.5,880.4 1620.0,880.4 1621.4,879.7 1622.9,878.4 1624.4,878.6 1625.9,879.2 1627.4,880.0 1628.9,879.9 1630.4,879.0 1631.9,879.2 1633.4,881.0 1634.9,882.7 1636.4,883.0" fill="none" stroke="#0000ff" stroke-width="3.2" stroke-linejoin="round" stroke-linecap="round"/>
<path d="M859.0,878.6 860.5,878.3 862.0,878.3 863.5,877.8 865.0,876.4 866.5,873.1 868.0,868.8 869.5,864.0 871.0,858.8 872.5,854.1 874.0,848.9 875.4,846.1 876.9,848.5 878.4,853.9 879.9,859.4 881.4,863.6 882.9,866.4 884.4,867.9 885.9,869.9 887.4,872.5 888.9,874.1 890.4,874.3 891.9,874.4 893.4,873.6 894.9,872.4 896.4,869.5 897.9,865.2 899.4,861.3 900.9,859.4 902.4,858.4 903.9,858.9 905.3,860.9 906.8,863.7 908.3,866.0 909.8,867.9 911.3,871.4 912.8,875.9 914.3,877.5 915.8,877.6 917.3,877.7 918.8,878.8 920.3,878.3 921.8,875.2 923.3,873.1 924.8,871.4 926.3,869.2 927.8,867.9 929.3,869.0 930.8,871.6 932.3,872.0 933.8,870.1 935.2,868.7 936.7,868.2 938.2,867.7 939.7,863.9 941.2,859.9 942.7,860.0 944.2,861.6 945.7,863.3 947.2,865.2 948.7,866.9 950.2,867.9 951.7,869.3 953.2,872.7 954.7,874.7 956.2,874.5 957.7,873.7 959.2,872.9 960.7,872.7 962.2,872.4 963.6,873.2 965.1,875.3 966.6,876.4 968.1,876.3 969.6,875.4 971.1,871.7 972.6,867.7 974.1,867.6 975.6,868.8 977.1,868.5 978.6,867.4 980.1,867.2 981.6,869.0 983.1,871.5 984.6,875.1 986.1,878.1 987.6,878.4 989.1,877.8 990.6,876.6 992.1,873.6 993.5,869.9 995.0,865.6 996.5,859.3 998.0,855.4 999.5,854.5 1001.0,855.6 1002.5,859.7 1004.0,864.7 1005.5,868.2 1007.0,870.9 1008.5,874.2 1010.0,877.0 1011.5,879.7 1013.0,879.3 1014.5,875.5 1016.0,872.0 1017.5,868.6 1019.0,865.4 1020.5,862.8 1022.0,862.2 1023.5,863.6 1024.9,864.8 1026.4,866.5 1027.9,866.9 1029.4,866.4 1030.9,865.7 1032.4,864.1 1033.9,862.6 1035.4,861.6 1036.9,860.9 1038.4,859.1 1039.9,855.3 1041.4,851.4 1042.9,851.7 1044.4,855.9 1045.9,859.8 1047.4,862.5 1048.9,864.1 1050.4,866.8 1051.9,869.6 1053.3,870.9 1054.8,872.2 1056.3,873.4 1057.8,874.0 1059.3,873.4 1060.8,873.3 1062.3,873.9 1063.8,874.0 1065.3,874.1 1066.8,875.2 1068.3,876.0 1069.8,875.8 1071.3,875.3 1072.8,874.8 1074.3,874.1 1075.8,872.5 1077.3,871.5 1078.8,873.0 1080.3,875.5 1081.8,876.7 1083.2,876.8 1084.7,875.7 1086.2,874.2 1087.7,874.0 1089.2,875.3 1090.7,876.7 1092.2,876.9 1093.7,876.1 1095.2,875.0 1096.7,874.5 1098.2,874.7 1099.7,875.4 1101.2,874.1 1102.7,870.7 1104.2,866.4 1105.7,861.9 1107.2,858.6 1108.7,855.2 1110.2,854.2 1111.7,856.3 1113.2,859.9 1114.6,864.5 1116.1,870.9 1117.6,876.3 1119.1,879.1 1120.6,880.4 1122.1,880.9 1123.6,880.6 1125.1,878.9 1126.6,877.5 1128.1,877.3 1129.6,876.3 1131.1,874.7 1132.6,872.7 1134.1,868.8 1135.6,865.6 1137.1,865.0 1138.6,864.4 1140.1,862.0 1141.6,860.0 1143.0,860.6 1144.5,863.3 1146.0,866.8 1147.5,869.6 1149.0,871.7 1150.5,873.7 1152.0,876.3 1153.5,877.9 1155.0,878.8 1156.5,879.8 1158.0,879.6 1159.5,878.9 1161.0,879.2 1162.5,878.9 1164.0,877.5 1165.5,876.1 1167.0,874.3 1168.5,872.1 1170.0,870.7 1171.5,869.9 1173.0,869.4 1174.4,867.8 1175.9,867.0 1177.4,868.4 1178.9,870.0 1180.4,870.6 1181.9,871.7 1183.4,873.6 1184.9,874.3 1186.4,873.1 1187.9,871.8 1189.4,869.6 1190.9,868.0 1192.4,866.2 1193.9,865.8 1195.4,868.0 1196.9,871.3 1198.4,873.9 1199.9,874.7 1201.4,874.2 1202.8,873.7 1204.3,874.8 1205.8,876.3 1207.3,877.6 1208.8,878.8 1210.3,879.9 1211.8,880.7 1213.3,879.8 1214.8,879.0 1216.3,879.6 1217.8,881.4 1219.3,883.6 1220.8,884.4 1222.3,882.6 1223.8,878.8 1225.3,874.3 1226.8,871.1 1228.3,870.8 1229.8,871.9 1231.3,873.9 1232.8,877.3 1234.2,880.5 1235.7,883.0 1237.2,884.0 1238.7,883.0 1240.2,882.5 1241.7,881.6 1243.2,879.8 1244.7,876.8 1246.2,874.0 1247.7,871.4 1249.2,869.7 1250.7,869.0 1252.2,869.2 1253.7,869.1 1255.2,869.2 1256.7,866.8 1258.2,861.4 1259.7,854.2 1261.2,845.3 1262.7,835.9 1264.1,828.7 1265.6,823.1 1267.1,819.6 1268.6,821.3 1270.1,826.7 1271.6,833.5 1273.1,842.0 1274.6,851.0 1276.1,859.0 1277.6,864.2 1279.1,867.6 1280.6,871.2 1282.1,873.3 1283.6,873.6 1285.1,872.9 1286.6,870.7 1288.1,867.6 1289.6,865.1 1291.1,862.3 1292.5,860.5 1294.0,860.0 1295.5,860.1 1297.0,862.2 1298.5,865.8 1300.0,869.0 1301.5,873.6 1303.0,877.3 1304.5,877.9 1306.0,876.0 1307.5,875.9 1309.0,878.5 1310.5,880.1 1312.0,878.6 1313.5,877.0 1315.0,877.5 1316.5,879.1 1318.0,879.8 1319.5,879.0 1321.0,877.9 1322.5,877.2 1323.9,875.5 1325.4,872.9 1326.9,871.1 1328.4,870.7 1329.9,870.1 1331.4,869.2 1332.9,868.1 1334.4,867.6 1335.9,868.5 1337.4,869.2 1338.9,869.0 1340.4,869.2 1341.9,870.7 1343.4,872.3 1344.9,873.0 1346.4,872.2 1347.9,870.8 1349.4,871.0 1350.9,871.8 1352.3,871.2 1353.8,869.9 1355.3,869.4 1356.8,869.3 1358.3,867.0 1359.8,864.5 1361.3,863.9 1362.8,864.6 1364.3,866.0 1365.8,868.9 1367.3,873.5 1368.8,876.5 1370.3,875.7 1371.8,873.6 1373.3,872.4 1374.8,871.3 1376.3,871.0 1377.8,870.5 1379.3,868.0 1380.8,863.9 1382.2,860.1 1383.7,856.7 1385.2,853.3 1386.7,847.8 1388.2,839.9 1389.7,833.9 1391.2,831.8 1392.7,830.9 1394.2,832.0 1395.7,838.1 1397.2,845.1 1398.7,850.0 1400.2,853.8 1401.7,857.6 1403.2,861.1 1404.7,864.0 1406.2,866.8 1407.7,869.4 1409.2,871.3 1410.7,873.5 1412.2,874.2 1413.6,872.9 1415.1,870.2 1416.6,868.7 1418.1,869.7 1419.6,871.6 1421.1,872.0 1422.6,872.3 1424.1,873.3 1425.6,874.1 1427.1,873.7 1428.6,872.3 1430.1,870.1 1431.6,868.2 1433.1,866.8 1434.6,865.3 1436.1,861.7 1437.6,857.1 1439.1,854.2 1440.6,855.8 1442.0,859.0 1443.5,862.0 1445.0,865.2 1446.5,869.1 1448.0,872.8 1449.5,875.6 1451.0,878.1 1452.5,881.9 1454.0,885.4 1455.5,887.4 1457.0,887.5 1458.5,887.1 1460.0,886.3 1461.5,883.4 1463.0,880.1 1464.5,877.7 1466.0,874.8 1467.5,873.0 1469.0,872.8 1470.5,872.6 1471.9,871.9 1473.4,870.2 1474.9,870.2 1476.4,871.2 1477.9,871.0 1479.4,869.6 1480.9,868.2 1482.4,866.8 1483.9,865.5 1485.4,864.2 1486.9,863.8 1488.4,864.4 1489.9,864.0 1491.4,863.3 1492.9,864.3 1494.4,867.4 1495.9,871.4 1497.4,873.8 1498.9,874.2 1500.4,873.7 1501.8,872.7 1503.3,871.5 1504.8,869.7 1506.3,866.0 1507.8,861.5 1509.3,858.0 1510.8,857.4 1512.3,859.8 1513.8,862.1 1515.3,864.1 1516.8,866.6 1518.3,868.0 1519.8,869.5 1521.3,870.0 1522.8,866.1 1524.3,858.2 1525.8,850.0 1527.3,844.6 1528.8,841.8 1530.3,839.8 1531.8,841.2 1533.2,847.5 1534.7,856.5 1536.2,863.4 1537.7,867.7 1539.2,871.6 1540.7,875.9 1542.2,880.9 1543.7,886.1 1545.2,891.1 1546.7,894.2 1548.2,894.0 1549.7,891.4 1551.2,888.9 1552.7,887.8 1554.2,888.6 1555.7,892.5 1557.2,895.9 1558.7,896.2 1560.2,894.5 1561.7,890.3 1563.1,884.8 1564.6,881.2 1566.1,878.3 1567.6,877.0 1569.1,879.4 1570.6,883.4 1572.1,886.4 1573.6,889.1 1575.1,892.4 1576.6,893.3 1578.1,889.4 1579.6,882.6 1581.1,877.2 1582.6,874.0 1584.1,872.2 1585.6,871.9 1587.1,870.9 1588.6,869.4 1590.1,868.7 1591.5,866.6 1593.0,862.7 1594.5,861.5 1596.0,862.7 1597.5,864.6 1599.0,867.5 1600.5,870.6 1602.0,870.9 1603.5,870.9 1605.0,871.4 1606.5,871.4 1608.0,869.7 1609.5,869.3 1611.0,870.8 1612.5,873.3 1614.0,875.9 1615.5,877.6 1617.0,877.8 1618.5,877.6 1620.0,877.8 1621.4,877.7 1622.9,877.8 1624.4,878.2 1625.9,878.2 1627.4,876.4 1628.9,872.9 1630.4,869.9 1631.9,868.7 1633.4,869.0 1634.9,870.4 1636.4,872.5" fill="none" stroke="#008000" stroke-width="3.2" stroke-linejoin="round" stroke-linecap="round"/>
<path d="M859.0,853.8 860.5,854.5 862.0,855.6 863.5,855.3 865.0,853.2 866.5,849.4 868.0,843.7 869.5,837.6 871.0,831.1 872.5,822.0 874.0,813.1 875.4,808.5 876.9,809.4 878.4,815.7 879.9,825.0 881.4,833.6 882.9,839.9 884.4,844.3 885.9,847.8 887.4,850.6 888.9,852.6 890.4,854.0 891.9,854.6 893.4,852.2 894.9,848.5 896.4,844.8 897.9,841.6 899.4,838.8 900.9,836.3 902.4,836.0 903.9,840.3 905.3,844.4 906.8,846.3 908.3,846.5 909.8,847.3 911.3,849.7 912.8,852.8 914.3,854.5 915.8,854.4 917.3,854.0 918.8,852.7 920.3,853.2 921.8,855.8 923.3,857.3 924.8,857.4 926.3,856.7 927.8,854.7 929.3,853.1 930.8,854.0 932.3,854.5 933.8,852.4 935.2,848.8 936.7,842.7 938.2,835.4 939.7,828.9 941.2,824.2 942.7,823.7 944.2,827.6 945.7,832.5 947.2,837.8 948.7,841.3 950.2,842.3 951.7,842.8 953.2,843.9 954.7,845.0 956.2,846.2 957.7,847.1 959.2,848.3 960.7,849.2 962.2,848.8 963.6,846.3 965.1,844.2 966.6,842.9 968.1,840.7 969.6,838.6 971.1,837.0 972.6,835.1 974.1,835.1 975.6,836.8 977.1,838.2 978.6,839.7 980.1,841.1 981.6,840.9 983.1,840.5 984.6,842.5 986.1,845.5 987.6,845.9 989.1,844.0 990.6,842.5 992.1,842.4 993.5,842.5 995.0,841.2 996.5,837.4 998.0,833.1 999.5,831.4 1001.0,832.5 1002.5,834.8 1004.0,839.0 1005.5,845.0 1007.0,849.2 1008.5,850.2 1010.0,849.1 1011.5,847.0 1013.0,847.0 1014.5,849.4 1016.0,851.8 1017.5,851.4 1019.0,850.4 1020.5,850.6 1022.0,851.3 1023.5,852.4 1024.9,854.1 1026.4,853.4 1027.9,851.6 1029.4,852.6 1030.9,853.8 1032.4,853.2 1033.9,851.1 1035.4,847.9 1036.9,844.2 1038.4,840.5 1039.9,837.4 1041.4,835.5 1042.9,833.9 1044.4,834.7 1045.9,837.3 1047.4,841.8 1048.9,847.0 1050.4,850.2 1051.9,851.1 1053.3,852.5 1054.8,855.2 1056.3,856.8 1057.8,855.3 1059.3,852.3 1060.8,850.0 1062.3,848.8 1063.8,849.4 1065.3,850.6 1066.8,851.5 1068.3,851.5 1069.8,850.8 1071.3,850.7 1072.8,851.7 1074.3,851.3 1075.8,849.3 1077.3,847.5 1078.8,845.4 1080.3,844.3 1081.8,845.7 1083.2,848.8 1084.7,851.4 1086.2,853.1 1087.7,854.8 1089.2,856.4 1090.7,857.0 1092.2,857.9 1093.7,857.9 1095.2,855.8 1096.7,853.3 1098.2,852.3 1099.7,852.1 1101.2,851.7 1102.7,848.8 1104.2,844.4 1105.7,839.2 1107.2,834.2 1108.7,830.3 1110.2,827.5 1111.7,826.5 1113.2,828.0 1114.6,831.6 1116.1,835.5 1117.6,839.2 1119.1,843.1 1120.6,846.1 1122.1,846.5 1123.6,844.4 1125.1,844.9 1126.6,848.9 1128.1,852.6 1129.6,854.4 1131.1,855.9 1132.6,857.8 1134.1,858.8 1135.6,858.1 1137.1,855.6 1138.6,852.2 1140.1,848.1 1141.6,845.3 1143.0,845.6 1144.5,846.4 1146.0,846.0 1147.5,846.3 1149.0,849.2 1150.5,850.9 1152.0,849.6 1153.5,848.0 1155.0,849.3 1156.5,852.9 1158.0,856.4 1159.5,857.3 1161.0,856.8 1162.5,856.3 1164.0,856.2 1165.5,855.7 1167.0,854.9 1168.5,853.7 1170.0,851.7 1171.5,849.1 1173.0,847.6 1174.4,848.3 1175.9,849.5 1177.4,850.2 1178.9,850.2 1180.4,849.7 1181.9,849.6 1183.4,850.1 1184.9,851.4 1186.4,852.7 1187.9,852.0 1189.4,848.9 1190.9,845.6 1192.4,843.4 1193.9,842.9 1195.4,842.2 1196.9,840.2 1198.4,838.0 1199.9,836.7 1201.4,837.0 1202.8,838.2 1204.3,839.4 1205.8,842.9 1207.3,847.3 1208.8,850.6 1210.3,851.8 1211.8,852.4 1213.3,853.6 1214.8,853.5 1216.3,850.8 1217.8,848.4 1219.3,847.4 1220.8,846.8 1222.3,845.3 1223.8,845.5 1225.3,847.5 1226.8,849.4 1228.3,851.0 1229.8,851.8 1231.3,853.7 1232.8,856.8 1234.2,857.0 1235.7,854.2 1237.2,850.5 1238.7,846.6 1240.2,844.4 1241.7,846.0 1243.2,849.7 1244.7,853.0 1246.2,854.5 1247.7,853.8 1249.2,852.9 1250.7,852.6 1252.2,850.5 1253.7,846.7 1255.2,843.5 1256.7,840.0 1258.2,834.1 1259.7,826.8 1261.2,819.5 1262.7,812.9 1264.1,805.0 1265.6,797.2 1267.1,795.5 1268.6,800.2 1270.1,807.3 1271.6,814.3 1273.1,821.1 1274.6,828.6 1276.1,836.9 1277.6,844.2 1279.1,848.6 1280.6,849.4 1282.1,847.4 1283.6,847.1 1285.1,848.2 1286.6,848.5 1288.1,847.2 1289.6,845.6 1291.1,844.3 1292.5,843.6 1294.0,842.4 1295.5,842.1 1297.0,843.7 1298.5,845.7 1300.0,847.1 1301.5,847.7 1303.0,848.0 1304.5,848.5 1306.0,847.2 1307.5,845.3 1309.0,844.0 1310.5,844.0 1312.0,846.7 1313.5,850.5 1315.0,853.2 1316.5,854.7 1318.0,855.5 1319.5,855.0 1321.0,854.5 1322.5,854.1 1323.9,853.7 1325.4,852.7 1326.9,850.7 1328.4,848.9 1329.9,847.4 1331.4,845.6 1332.9,844.3 1334.4,843.6 1335.9,842.2 1337.4,840.3 1338.9,840.1 1340.4,841.9 1341.9,844.1 1343.4,845.9 1344.9,847.0 1346.4,846.8 1347.9,844.9 1349.4,842.3 1350.9,840.7 1352.3,840.6 1353.8,841.2 1355.3,841.2 1356.8,839.2 1358.3,836.4 1359.8,833.9 1361.3,833.9 1362.8,836.5 1364.3,839.7 1365.8,843.5 1367.3,846.2 1368.8,849.0 1370.3,851.2 1371.8,851.9 1373.3,851.5 1374.8,850.9 1376.3,851.8 1377.8,852.9 1379.3,853.2 1380.8,851.4 1382.2,846.8 1383.7,840.1 1385.2,831.6 1386.7,823.0 1388.2,814.3 1389.7,806.1 1391.2,802.2 1392.7,805.9 1394.2,815.5 1395.7,825.0 1397.2,830.3 1398.7,834.5 1400.2,841.0 1401.7,847.0 1403.2,850.6 1404.7,853.5 1406.2,855.6 1407.7,856.2 1409.2,856.2 1410.7,855.9 1412.2,855.3 1413.6,855.1 1415.1,853.7 1416.6,849.9 1418.1,845.9 1419.6,840.6 1421.1,835.9 1422.6,834.4 1424.1,836.7 1425.6,839.6 1427.1,841.0 1428.6,842.4 1430.1,843.9 1431.6,841.7 1433.1,835.6 1434.6,829.4 1436.1,824.5 1437.6,821.6 1439.1,823.1 1440.6,826.7 1442.0,828.7 1443.5,830.2 1445.0,833.5 1446.5,838.4 1448.0,843.5 1449.5,849.7 1451.0,855.5 1452.5,860.5 1454.0,863.8 1455.5,866.0 1457.0,866.9 1458.5,866.6 1460.0,864.8 1461.5,862.1 1463.0,859.0 1464.5,857.9 1466.0,857.1 1467.5,854.8 1469.0,851.7 1470.5,850.8 1471.9,851.2 1473.4,850.7 1474.9,848.5 1476.4,845.7 1477.9,842.4 1479.4,839.3 1480.9,836.9 1482.4,835.3 1483.9,834.6 1485.4,834.6 1486.9,836.1 1488.4,838.3 1489.9,839.0 1491.4,838.8 1492.9,838.3 1494.4,837.2 1495.9,838.7 1497.4,840.7 1498.9,841.0 1500.4,840.6 1501.8,840.5 1503.3,838.7 1504.8,834.1 1506.3,827.9 1507.8,823.2 1509.3,820.9 1510.8,821.8 1512.3,825.4 1513.8,830.8 1515.3,835.4 1516.8,837.4 1518.3,838.2 1519.8,837.6 1521.3,836.7 1522.8,836.1 1524.3,833.5 1525.8,830.2 1527.3,827.1 1528.8,824.4 1530.3,823.2 1531.8,824.8 1533.2,828.8 1534.7,833.9 1536.2,838.7 1537.7,843.0 1539.2,847.4 1540.7,853.9 1542.2,862.7 1543.7,871.9 1545.2,881.2 1546.7,886.4 1548.2,884.6 1549.7,879.2 1551.2,873.1 1552.7,869.3 1554.2,868.5 1555.7,868.6 1557.2,868.3 1558.7,869.0 1560.2,869.4 1561.7,868.7 1563.1,865.9 1564.6,862.5 1566.1,861.7 1567.6,863.5 1569.1,865.0 1570.6,867.2 1572.1,872.2 1573.6,878.8 1575.1,882.9 1576.6,882.5 1578.1,879.0 1579.6,872.5 1581.1,863.3 1582.6,855.4 1584.1,850.6 1585.6,847.8 1587.1,845.1 1588.6,841.2 1590.1,836.4 1591.5,831.6 1593.0,826.5 1594.5,822.7 1596.0,822.2 1597.5,826.1 1599.0,831.6 1600.5,836.9 1602.0,841.3 1603.5,843.9 1605.0,845.0 1606.5,845.5 1608.0,844.7 1609.5,843.9 1611.0,844.6 1612.5,847.7 1614.0,851.1 1615.5,853.5 1617.0,854.1 1618.5,855.0 1620.0,855.4 1621.4,853.8 1622.9,851.7 1624.4,849.9 1625.9,847.9 1627.4,845.5 1628.9,844.4 1630.4,845.3 1631.9,846.6 1633.4,847.7 1634.9,847.9 1636.4,849.1" fill="none" stroke="#ff00ff" stroke-width="3.2" stroke-linejoin="round" stroke-linecap="round"/>
<path d="M859.0,833.0 860.5,828.9 862.0,824.8 863.5,822.5 865.0,821.4 866.5,818.7 868.0,812.9 869.5,805.7 871.0,798.9 872.5,791.2 874.0,783.7 875.4,780.0 876.9,782.5 878.4,788.9 879.9,797.2 881.4,807.7 882.9,816.4 884.4,820.9 885.9,820.9 887.4,819.5 888.9,818.4 890.4,817.5 891.9,817.1 893.4,815.1 894.9,809.7 896.4,803.0 897.9,797.3 899.4,792.6 900.9,789.8 902.4,791.5 903.9,798.4 905.3,808.8 906.8,817.0 908.3,822.4 909.8,827.0 911.3,830.1 912.8,831.3 914.3,831.1 915.8,830.8 917.3,831.0 918.8,832.0 920.3,833.3 921.8,833.6 923.3,832.9 924.8,831.9 926.3,831.5 927.8,832.2 929.3,832.6 930.8,832.5 932.3,831.3 933.8,827.1 935.2,819.6 936.7,811.5 938.2,806.2 939.7,803.1 941.2,800.3 942.7,799.6 944.2,801.7 945.7,804.2 947.2,807.3 948.7,811.0 950.2,815.9 951.7,820.3 953.2,823.3 954.7,824.5 956.2,823.4 957.7,821.7 959.2,820.3 960.7,819.7 962.2,820.1 963.6,820.5 965.1,821.3 966.6,821.9 968.1,821.5 969.6,820.3 971.1,818.7 972.6,818.7 974.1,821.3 975.6,823.8 977.1,825.5 978.6,827.6 980.1,830.0 981.6,830.8 983.1,830.5 984.6,829.8 986.1,830.4 987.6,831.2 989.1,831.0 990.6,830.0 992.1,826.2 993.5,820.2 995.0,813.6 996.5,806.8 998.0,799.5 999.5,795.5 1001.0,797.3 1002.5,803.5 1004.0,811.7 1005.5,819.0 1007.0,823.9 1008.5,826.3 1010.0,827.5 1011.5,828.8 1013.0,827.8 1014.5,821.9 1016.0,815.2 1017.5,811.2 1019.0,809.9 1020.5,810.0 1022.0,812.4 1023.5,816.6 1024.9,821.7 1026.4,826.0 1027.9,827.9 1029.4,826.9 1030.9,824.2 1032.4,821.8 1033.9,818.9 1035.4,815.0 1036.9,811.4 1038.4,807.0 1039.9,803.5 1041.4,802.3 1042.9,803.6 1044.4,807.9 1045.9,814.5 1047.4,821.4 1048.9,827.2 1050.4,830.2 1051.9,830.8 1053.3,830.0 1054.8,827.9 1056.3,825.4 1057.8,824.8 1059.3,825.8 1060.8,827.9 1062.3,829.5 1063.8,830.2 1065.3,831.6 1066.8,832.5 1068.3,831.4 1069.8,831.2 1071.3,832.5 1072.8,832.9 1074.3,830.8 1075.8,827.1 1077.3,825.3 1078.8,826.4 1080.3,826.5 1081.8,824.8 1083.2,824.5 1084.7,826.5 1086.2,825.6 1087.7,821.2 1089.2,818.3 1090.7,819.6 1092.2,822.5 1093.7,825.8 1095.2,828.2 1096.7,827.9 1098.2,826.2 1099.7,824.8 1101.2,822.7 1102.7,817.7 1104.2,810.6 1105.7,802.1 1107.2,792.9 1108.7,785.2 1110.2,782.7 1111.7,786.3 1113.2,792.6 1114.6,800.2 1116.1,808.2 1117.6,813.6 1119.1,816.5 1120.6,816.8 1122.1,815.1 1123.6,813.5 1125.1,813.8 1126.6,814.8 1128.1,815.3 1129.6,815.9 1131.1,816.6 1132.6,817.8 1134.1,819.5 1135.6,821.2 1137.1,822.6 1138.6,822.1 1140.1,820.8 1141.6,818.1 1143.0,814.7 1144.5,811.6 1146.0,811.1 1147.5,815.2 1149.0,822.2 1150.5,828.0 1152.0,831.5 1153.5,833.5 1155.0,834.9 1156.5,835.5 1158.0,836.3 1159.5,837.3 1161.0,837.8 1162.5,837.8 1164.0,838.6 1165.5,838.5 1167.0,837.6 1168.5,836.8 1170.0,836.3 1171.5,834.4 1173.0,831.1 1174.4,828.5 1175.9,826.8 1177.4,826.6 1178.9,826.6 1180.4,827.3 1181.9,828.6 1183.4,828.8 1184.9,829.0 1186.4,829.7 1187.9,830.3 1189.4,830.4 1190.9,831.3 1192.4,831.7 1193.9,830.3 1195.4,827.0 1196.9,823.2 1198.4,821.3 1199.9,821.3 1201.4,821.7 1202.8,822.0 1204.3,823.2 1205.8,826.8 1207.3,830.9 1208.8,833.7 1210.3,834.0 1211.8,831.5 1213.3,831.3 1214.8,834.1 1216.3,837.9 1217.8,839.3 1219.3,838.6 1220.8,838.8 1222.3,839.6 1223.8,839.6 1225.3,838.2 1226.8,836.0 1228.3,833.7 1229.8,832.1 1231.3,832.1 1232.8,833.0 1234.2,833.0 1235.7,832.3 1237.2,832.8 1238.7,834.8 1240.2,836.3 1241.7,836.9 1243.2,837.5 1244.7,836.0 1246.2,833.7 1247.7,833.9 1249.2,834.6 1250.7,832.5 1252.2,826.9 1253.7,819.5 1255.2,813.2 1256.7,807.4 1258.2,799.5 1259.7,787.9 1261.2,775.6 1262.7,764.9 1264.1,755.4 1265.6,748.8 1267.1,749.5 1268.6,756.6 1270.1,767.5 1271.6,780.2 1273.1,792.2 1274.6,802.3 1276.1,811.1 1277.6,818.9 1279.1,823.1 1280.6,824.5 1282.1,825.2 1283.6,825.3 1285.1,824.1 1286.6,822.5 1288.1,819.9 1289.6,815.0 1291.1,809.1 1292.5,805.4 1294.0,803.9 1295.5,804.5 1297.0,807.8 1298.5,813.2 1300.0,819.1 1301.5,823.1 1303.0,824.5 1304.5,824.4 1306.0,823.9 1307.5,825.5 1309.0,828.5 1310.5,830.3 1312.0,831.3 1313.5,832.3 1315.0,834.2 1316.5,836.4 1318.0,836.6 1319.5,836.4 1321.0,836.5 1322.5,836.4 1323.9,834.2 1325.4,829.8 1326.9,826.4 1328.4,824.3 1329.9,823.1 1331.4,821.8 1332.9,819.0 1334.4,815.5 1335.9,813.3 1337.4,812.3 1338.9,812.4 1340.4,813.9 1341.9,817.8 1343.4,822.7 1344.9,826.4 1346.4,828.0 1347.9,827.1 1349.4,823.8 1350.9,820.9 1352.3,819.3 1353.8,815.8 1355.3,809.8 1356.8,805.0 1358.3,802.9 1359.8,803.8 1361.3,806.7 1362.8,810.5 1364.3,815.0 1365.8,820.9 1367.3,826.1 1368.8,827.7 1370.3,827.1 1371.8,827.7 1373.3,828.2 1374.8,827.8 1376.3,827.8 1377.8,827.9 1379.3,826.7 1380.8,823.8 1382.2,819.1 1383.7,814.1 1385.2,809.9 1386.7,806.0 1388.2,801.2 1389.7,797.6 1391.2,795.4 1392.7,794.8 1394.2,797.2 1395.7,801.9 1397.2,808.3 1398.7,815.0 1400.2,820.4 1401.7,824.0 1403.2,827.4 1404.7,830.1 1406.2,830.9 1407.7,830.8 1409.2,832.1 1410.7,832.5 1412.2,831.7 1413.6,830.5 1415.1,829.8 1416.6,829.8 1418.1,829.3 1419.6,826.3 1421.1,822.9 1422.6,820.0 1424.1,817.8 1425.6,816.8 1427.1,815.5 1428.6,812.7 1430.1,810.2 1431.6,808.2 1433.1,806.3 1434.6,802.3 1436.1,796.5 1437.6,793.2 1439.1,793.6 1440.6,797.0 1442.0,801.4 1443.5,808.3 1445.0,815.2 1446.5,819.3 1448.0,823.0 1449.5,826.4 1451.0,827.9 1452.5,827.9 1454.0,827.5 1455.5,827.0 1457.0,825.7 1458.5,824.3 1460.0,823.2 1461.5,822.5 1463.0,822.2 1464.5,821.2 1466.0,819.1 1467.5,816.6 1469.0,811.6 1470.5,803.8 1471.9,801.7 1473.4,806.6 1474.9,812.8 1476.4,817.5 1477.9,819.5 1479.4,818.2 1480.9,815.4 1482.4,812.0 1483.9,810.7 1485.4,813.2 1486.9,818.2 1488.4,822.6 1489.9,824.9 1491.4,826.5 1492.9,828.0 1494.4,828.4 1495.9,828.2 1497.4,828.9 1498.9,829.2 1500.4,827.3 1501.8,824.0 1503.3,820.9 1504.8,817.8 1506.3,813.9 1507.8,808.0 1509.3,803.3 1510.8,801.6 1512.3,803.8 1513.8,808.2 1515.3,813.1 1516.8,818.1 1518.3,821.7 1519.8,824.1 1521.3,825.9 1522.8,824.5 1524.3,819.4 1525.8,811.9 1527.3,802.6 1528.8,793.2 1530.3,787.5 1531.8,788.0 1533.2,794.5 1534.7,802.8 1536.2,811.7 1537.7,818.8 1539.2,823.9 1540.7,826.6 1542.2,826.6 1543.7,825.0 1545.2,823.8 1546.7,825.9 1548.2,828.4 1549.7,828.7 1551.2,828.5 1552.7,828.8 1554.2,830.4 1555.7,835.5 1557.2,842.6 1558.7,847.4 1560.2,846.8 1561.7,843.1 1563.1,840.2 1564.6,839.4 1566.1,838.9 1567.6,837.6 1569.1,836.8 1570.6,836.6 1572.1,836.1 1573.6,834.3 1575.1,832.0 1576.6,831.8 1578.1,833.8 1579.6,836.2 1581.1,836.3 1582.6,833.4 1584.1,829.8 1585.6,826.7 1587.1,823.9 1588.6,821.4 1590.1,817.8 1591.5,812.2 1593.0,806.3 1594.5,800.8 1596.0,800.1 1597.5,804.2 1599.0,810.2 1600.5,815.9 1602.0,820.6 1603.5,823.2 1605.0,823.9 1606.5,823.9 1608.0,823.2 1609.5,822.0 1611.0,822.3 1612.5,824.7 1614.0,826.8 1615.5,826.5 1617.0,824.6 1618.5,822.7 1620.0,821.9 1621.4,821.0 1622.9,819.9 1624.4,821.5 1625.9,824.2 1627.4,826.5 1628.9,828.9 1630.4,830.8 1631.9,830.3 1633.4,828.9 1634.9,829.4 1636.4,830.2" fill="none" stroke="#000000" stroke-width="3.2" stroke-linejoin="round" stroke-linecap="round"/>
<path d="M859.0,795.5 860.5,793.0 862.0,790.7 863.5,788.1 865.0,784.8 866.5,781.4 868.0,777.7 869.5,773.0 871.0,768.2 872.5,763.3 874.0,756.6 875.4,751.7 876.9,753.1 878.4,759.1 879.9,765.5 881.4,771.3 882.9,777.1 884.4,782.8 885.9,785.9 887.4,787.0 888.9,787.1 890.4,785.9 891.9,784.1 893.4,781.9 894.9,780.1 896.4,776.5 897.9,771.4 899.4,767.2 900.9,765.5 902.4,768.4 903.9,774.2 905.3,779.3 906.8,783.0 908.3,785.6 909.8,786.7 911.3,785.5 912.8,783.3 914.3,781.6 915.8,781.7 917.3,783.5 918.8,786.1 920.3,788.4 921.8,790.8 923.3,794.1 924.8,795.3 926.3,794.4 927.8,795.0 929.3,796.7 930.8,797.0 932.3,795.3 933.8,793.9 935.2,793.6 936.7,791.0 938.2,786.9 939.7,784.4 941.2,782.7 942.7,780.5 944.2,780.6 945.7,782.3 947.2,783.3 948.7,784.6 950.2,786.4 951.7,790.2 953.2,792.7 954.7,793.5 956.2,794.2 957.7,794.9 959.2,795.1 960.7,795.0 962.2,795.5 963.6,795.6 965.1,794.9 966.6,794.1 968.1,792.6 969.6,790.7 971.1,788.8 972.6,788.9 974.1,791.5 975.6,795.3 977.1,797.1 978.6,796.9 980.1,797.2 981.6,797.3 983.1,797.4 984.6,797.3 986.1,796.5 987.6,794.8 989.1,793.9 990.6,793.6 992.1,793.6 993.5,793.3 995.0,791.5 996.5,789.1 998.0,786.8 999.5,786.1 1001.0,787.4 1002.5,788.5 1004.0,790.5 1005.5,792.8 1007.0,794.7 1008.5,794.5 1010.0,794.6 1011.5,794.7 1013.0,794.8 1014.5,793.6 1016.0,790.9 1017.5,789.1 1019.0,787.5 1020.5,785.8 1022.0,786.5 1023.5,789.9 1024.9,792.2 1026.4,792.4 1027.9,792.0 1029.4,791.0 1030.9,790.2 1032.4,789.2 1033.9,786.8 1035.4,783.2 1036.9,779.3 1038.4,776.9 1039.9,775.1 1041.4,773.9 1042.9,774.7 1044.4,778.4 1045.9,783.7 1047.4,788.2 1048.9,790.2 1050.4,791.1 1051.9,792.9 1053.3,794.8 1054.8,796.1 1056.3,796.6 1057.8,795.6 1059.3,796.1 1060.8,797.4 1062.3,798.4 1063.8,798.1 1065.3,796.7 1066.8,795.0 1068.3,792.9 1069.8,791.9 1071.3,791.7 1072.8,791.9 1074.3,791.3 1075.8,789.7 1077.3,788.9 1078.8,790.0 1080.3,791.3 1081.8,792.3 1083.2,793.6 1084.7,795.4 1086.2,797.4 1087.7,798.9 1089.2,800.3 1090.7,801.6 1092.2,802.0 1093.7,801.0 1095.2,799.3 1096.7,797.8 1098.2,796.8 1099.7,793.9 1101.2,788.9 1102.7,784.3 1104.2,779.3 1105.7,772.3 1107.2,764.2 1108.7,757.3 1110.2,753.3 1111.7,753.6 1113.2,758.4 1114.6,764.8 1116.1,769.5 1117.6,772.7 1119.1,776.4 1120.6,780.6 1122.1,785.1 1123.6,788.6 1125.1,789.3 1126.6,790.3 1128.1,794.1 1129.6,795.2 1131.1,793.2 1132.6,792.6 1134.1,793.5 1135.6,794.4 1137.1,793.5 1138.6,792.3 1140.1,791.0 1141.6,789.5 1143.0,787.6 1144.5,785.9 1146.0,786.2 1147.5,787.8 1149.0,788.8 1150.5,789.8 1152.0,791.9 1153.5,792.9 1155.0,793.4 1156.5,793.9 1158.0,791.9 1159.5,788.5 1161.0,785.7 1162.5,783.8 1164.0,783.3 1165.5,783.9 1167.0,785.2 1168.5,786.1 1170.0,787.6 1171.5,788.4 1173.0,788.3 1174.4,789.0 1175.9,789.0 1177.4,787.6 1178.9,786.8 1180.4,786.7 1181.9,785.0 1183.4,783.4 1184.9,784.4 1186.4,787.3 1187.9,790.9 1189.4,792.3 1190.9,791.6 1192.4,791.5 1193.9,792.0 1195.4,790.5 1196.9,787.5 1198.4,785.7 1199.9,784.9 1201.4,784.5 1202.8,785.3 1204.3,787.9 1205.8,789.6 1207.3,789.6 1208.8,790.2 1210.3,792.5 1211.8,794.3 1213.3,795.8 1214.8,796.2 1216.3,795.2 1217.8,793.2 1219.3,792.4 1220.8,794.3 1222.3,797.2 1223.8,799.1 1225.3,799.9 1226.8,799.5 1228.3,797.0 1229.8,796.4 1231.3,800.0 1232.8,801.7 1234.2,799.1 1235.7,795.8 1237.2,793.7 1238.7,792.7 1240.2,793.5 1241.7,795.5 1243.2,796.9 1244.7,797.5 1246.2,797.9 1247.7,796.6 1249.2,794.0 1250.7,791.2 1252.2,789.4 1253.7,787.3 1255.2,783.8 1256.7,779.2 1258.2,773.3 1259.7,766.1 1261.2,757.5 1262.7,749.8 1264.1,744.8 1265.6,741.4 1267.1,739.2 1268.6,740.8 1270.1,746.0 1271.6,752.8 1273.1,760.0 1274.6,767.9 1276.1,776.2 1277.6,784.0 1279.1,789.6 1280.6,791.3 1282.1,790.2 1283.6,789.3 1285.1,790.5 1286.6,791.7 1288.1,790.3 1289.6,786.3 1291.1,782.0 1292.5,779.7 1294.0,779.5 1295.5,780.6 1297.0,782.0 1298.5,782.0 1300.0,784.1 1301.5,789.1 1303.0,791.1 1304.5,789.2 1306.0,788.1 1307.5,788.8 1309.0,789.8 1310.5,789.2 1312.0,786.8 1313.5,784.6 1315.0,784.4 1316.5,785.3 1318.0,785.8 1319.5,788.1 1321.0,791.4 1322.5,792.6 1323.9,792.1 1325.4,790.9 1326.9,789.5 1328.4,788.5 1329.9,787.5 1331.4,784.0 1332.9,778.2 1334.4,772.0 1335.9,767.4 1337.4,765.5 1338.9,766.3 1340.4,769.0 1341.9,772.8 1343.4,777.8 1344.9,782.8 1346.4,787.7 1347.9,790.7 1349.4,791.3 1350.9,790.7 1352.3,789.5 1353.8,787.7 1355.3,786.7 1356.8,785.1 1358.3,782.2 1359.8,781.1 1361.3,780.5 1362.8,780.4 1364.3,782.0 1365.8,784.8 1367.3,787.9 1368.8,790.7 1370.3,793.4 1371.8,795.1 1373.3,795.5 1374.8,795.5 1376.3,796.6 1377.8,797.4 1379.3,796.1 1380.8,794.1 1382.2,791.7 1383.7,787.1 1385.2,782.3 1386.7,777.6 1388.2,772.9 1389.7,767.3 1391.2,763.4 1392.7,762.8 1394.2,764.2 1395.7,768.6 1397.2,773.4 1398.7,777.4 1400.2,781.0 1401.7,783.2 1403.2,784.1 1404.7,784.4 1406.2,784.5 1407.7,785.7 1409.2,788.0 1410.7,789.0 1412.2,789.7 1413.6,791.2 1415.1,792.5 1416.6,793.8 1418.1,794.8 1419.6,795.9 1421.1,796.4 1422.6,795.8 1424.1,793.9 1425.6,791.8 1427.1,790.5 1428.6,790.1 1430.1,789.6 1431.6,787.1 1433.1,783.3 1434.6,780.1 1436.1,776.6 1437.6,773.0 1439.1,771.1 1440.6,772.2 1442.0,773.7 1443.5,776.6 1445.0,781.6 1446.5,785.7 1448.0,786.8 1449.5,787.4 1451.0,788.9 1452.5,790.9 1454.0,792.7 1455.5,793.8 1457.0,793.3 1458.5,791.9 1460.0,791.1 1461.5,791.1 1463.0,791.7 1464.5,792.2 1466.0,791.3 1467.5,789.4 1469.0,786.1 1470.5,782.8 1471.9,782.2 1473.4,782.6 1474.9,782.4 1476.4,781.6 1477.9,779.4 1479.4,776.8 1480.9,776.0 1482.4,776.1 1483.9,775.2 1485.4,773.9 1486.9,774.1 1488.4,777.0 1489.9,780.7 1491.4,783.2 1492.9,785.0 1494.4,786.6 1495.9,787.7 1497.4,788.7 1498.9,789.0 1500.4,788.0 1501.8,784.9 1503.3,780.9 1504.8,778.1 1506.3,774.5 1507.8,769.0 1509.3,763.2 1510.8,759.9 1512.3,761.1 1513.8,765.4 1515.3,769.8 1516.8,771.6 1518.3,771.1 1519.8,773.0 1521.3,777.1 1522.8,779.7 1524.3,778.6 1525.8,774.1 1527.3,769.4 1528.8,764.9 1530.3,762.6 1531.8,762.7 1533.2,766.4 1534.7,773.1 1536.2,778.9 1537.7,783.2 1539.2,786.2 1540.7,788.7 1542.2,792.1 1543.7,793.9 1545.2,794.6 1546.7,794.7 1548.2,794.0 1549.7,793.3 1551.2,791.9 1552.7,790.5 1554.2,790.9 1555.7,795.1 1557.2,801.1 1558.7,804.7 1560.2,806.5 1561.7,806.8 1563.1,806.5 1564.6,805.2 1566.1,803.1 1567.6,801.6 1569.1,800.0 1570.6,798.2 1572.1,796.7 1573.6,795.6 1575.1,795.2 1576.6,794.4 1578.1,794.5 1579.6,794.4 1581.1,791.6 1582.6,788.4 1584.1,787.0 1585.6,785.7 1587.1,784.9 1588.6,783.5 1590.1,780.7 1591.5,778.4 1593.0,776.4 1594.5,773.3 1596.0,770.4 1597.5,771.3 1599.0,775.3 1600.5,778.2 1602.0,778.2 1603.5,778.1 1605.0,779.9 1606.5,783.2 1608.0,785.7 1609.5,788.1 1611.0,791.1 1612.5,793.6 1614.0,795.3 1615.5,796.3 1617.0,797.0 1618.5,797.3 1620.0,795.5 1621.4,794.7 1622.9,796.4 1624.4,797.1 1625.9,796.0 1627.4,794.5 1628.9,794.0 1630.4,795.0 1631.9,796.0 1633.4,795.2 1634.9,793.3 1636.4,793.1" fill="none" stroke="#800080" stroke-width="3.2" stroke-linejoin="round" stroke-linecap="round"/>
<path d="M859.0,750.3 860.5,749.0 862.0,745.6 863.5,742.3 865.0,740.7 866.5,740.1 868.0,737.7 869.5,731.0 871.0,719.8 872.5,707.7 874.0,699.1 875.4,695.2 876.9,697.1 878.4,705.6 879.9,718.1 881.4,729.5 882.9,737.8 884.4,743.2 885.9,748.3 887.4,752.5 888.9,754.2 890.4,754.3 891.9,753.4 893.4,750.1 894.9,743.5 896.4,734.8 897.9,728.0 899.4,722.9 900.9,718.3 902.4,718.3 903.9,724.1 905.3,731.3 906.8,739.9 908.3,749.3 909.8,756.2 911.3,760.2 912.8,762.2 914.3,761.6 915.8,760.6 917.3,759.4 918.8,758.3 920.3,758.5 921.8,760.0 923.3,761.2 924.8,762.7 926.3,764.5 927.8,764.7 929.3,764.0 930.8,762.6 932.3,761.6 933.8,761.0 935.2,760.2 936.7,758.0 938.2,755.7 939.7,752.7 941.2,747.6 942.7,745.2 944.2,745.7 945.7,747.1 947.2,747.7 948.7,747.7 950.2,748.3 951.7,749.4 953.2,750.9 954.7,754.1 956.2,758.1 957.7,761.6 959.2,762.9 960.7,761.1 962.2,758.0 963.6,756.3 965.1,754.9 966.6,753.2 968.1,751.4 969.6,749.4 971.1,748.1 972.6,749.2 974.1,750.4 975.6,751.9 977.1,754.4 978.6,757.8 980.1,761.3 981.6,763.5 983.1,765.1 984.6,765.1 986.1,762.7 987.6,758.1 989.1,752.6 990.6,747.4 992.1,743.9 993.5,742.9 995.0,741.2 996.5,737.5 998.0,734.7 999.5,734.2 1001.0,736.5 1002.5,741.5 1004.0,746.3 1005.5,749.3 1007.0,751.9 1008.5,756.0 1010.0,760.6 1011.5,762.3 1013.0,761.7 1014.5,761.1 1016.0,759.3 1017.5,756.3 1019.0,752.8 1020.5,748.9 1022.0,747.0 1023.5,747.4 1024.9,748.9 1026.4,749.3 1027.9,747.0 1029.4,744.7 1030.9,746.4 1032.4,749.5 1033.9,750.2 1035.4,748.3 1036.9,746.3 1038.4,743.1 1039.9,739.7 1041.4,737.7 1042.9,737.6 1044.4,739.8 1045.9,742.2 1047.4,743.9 1048.9,745.1 1050.4,747.1 1051.9,747.8 1053.3,745.8 1054.8,744.9 1056.3,747.1 1057.8,751.2 1059.3,754.9 1060.8,757.4 1062.3,757.6 1063.8,757.5 1065.3,758.8 1066.8,759.7 1068.3,759.1 1069.8,757.3 1071.3,755.2 1072.8,754.2 1074.3,753.3 1075.8,750.7 1077.3,747.2 1078.8,745.1 1080.3,743.8 1081.8,745.7 1083.2,749.7 1084.7,753.7 1086.2,756.8 1087.7,759.2 1089.2,760.3 1090.7,760.1 1092.2,760.2 1093.7,759.8 1095.2,758.6 1096.7,758.0 1098.2,758.8 1099.7,759.3 1101.2,758.9 1102.7,757.5 1104.2,754.9 1105.7,751.0 1107.2,746.3 1108.7,742.6 1110.2,741.5 1111.7,743.7 1113.2,746.6 1114.6,748.2 1116.1,750.2 1117.6,753.7 1119.1,758.6 1120.6,761.8 1122.1,761.9 1123.6,760.9 1125.1,761.2 1126.6,762.9 1128.1,764.4 1129.6,763.8 1131.1,761.5 1132.6,759.7 1134.1,759.9 1135.6,760.3 1137.1,761.0 1138.6,760.0 1140.1,759.6 1141.6,758.5 1143.0,757.1 1144.5,757.6 1146.0,759.7 1147.5,760.6 1149.0,759.9 1150.5,759.4 1152.0,759.9 1153.5,760.8 1155.0,761.0 1156.5,760.9 1158.0,760.5 1159.5,760.2 1161.0,760.3 1162.5,760.5 1164.0,759.5 1165.5,755.7 1167.0,752.5 1168.5,751.7 1170.0,752.0 1171.5,752.9 1173.0,753.0 1174.4,752.0 1175.9,752.5 1177.4,755.1 1178.9,758.5 1180.4,761.1 1181.9,762.7 1183.4,763.0 1184.9,762.2 1186.4,762.7 1187.9,764.7 1189.4,765.8 1190.9,764.5 1192.4,761.8 1193.9,759.1 1195.4,756.1 1196.9,752.5 1198.4,749.1 1199.9,747.6 1201.4,747.5 1202.8,749.9 1204.3,753.2 1205.8,753.7 1207.3,754.4 1208.8,756.1 1210.3,757.0 1211.8,756.6 1213.3,755.1 1214.8,754.1 1216.3,754.6 1217.8,755.8 1219.3,757.0 1220.8,757.9 1222.3,759.9 1223.8,762.7 1225.3,763.9 1226.8,763.0 1228.3,761.7 1229.8,760.1 1231.3,759.7 1232.8,760.0 1234.2,759.2 1235.7,756.7 1237.2,754.5 1238.7,754.0 1240.2,754.8 1241.7,754.6 1243.2,753.9 1244.7,754.0 1246.2,755.9 1247.7,757.2 1249.2,756.2 1250.7,754.6 1252.2,754.7 1253.7,753.6 1255.2,751.6 1256.7,748.9 1258.2,743.2 1259.7,734.0 1261.2,724.2 1262.7,714.4 1264.1,704.9 1265.6,698.4 1267.1,697.2 1268.6,702.0 1270.1,708.4 1271.6,715.6 1273.1,724.7 1274.6,733.8 1276.1,742.0 1277.6,749.1 1279.1,754.5 1280.6,756.3 1282.1,755.2 1283.6,754.9 1285.1,755.6 1286.6,757.0 1288.1,757.5 1289.6,757.1 1291.1,754.5 1292.5,749.9 1294.0,745.2 1295.5,742.2 1297.0,742.9 1298.5,745.2 1300.0,747.7 1301.5,750.9 1303.0,753.7 1304.5,754.2 1306.0,755.2 1307.5,757.9 1309.0,760.9 1310.5,762.1 1312.0,761.9 1313.5,761.9 1315.0,763.2 1316.5,763.1 1318.0,761.3 1319.5,760.8 1321.0,762.3 1322.5,762.2 1323.9,761.5 1325.4,762.1 1326.9,760.7 1328.4,757.2 1329.9,755.1 1331.4,752.2 1332.9,747.8 1334.4,744.5 1335.9,743.7 1337.4,744.5 1338.9,745.9 1340.4,748.6 1341.9,752.2 1343.4,755.7 1344.9,758.2 1346.4,758.6 1347.9,758.3 1349.4,759.5 1350.9,762.2 1352.3,763.1 1353.8,760.6 1355.3,757.3 1356.8,755.5 1358.3,753.8 1359.8,751.9 1361.3,751.3 1362.8,752.8 1364.3,753.8 1365.8,755.1 1367.3,757.6 1368.8,759.7 1370.3,759.9 1371.8,759.6 1373.3,759.3 1374.8,759.8 1376.3,760.9 1377.8,760.8 1379.3,758.6 1380.8,753.8 1382.2,746.0 1383.7,737.1 1385.2,729.3 1386.7,722.9 1388.2,717.3 1389.7,714.7 1391.2,714.4 1392.7,716.8 1394.2,721.6 1395.7,729.3 1397.2,738.1 1398.7,745.4 1400.2,751.1 1401.7,755.3 1403.2,757.9 1404.7,759.6 1406.2,760.3 1407.7,760.4 1409.2,760.6 1410.7,760.4 1412.2,760.4 1413.6,762.0 1415.1,762.0 1416.6,761.3 1418.1,761.5 1419.6,762.3 1421.1,761.9 1422.6,761.9 1424.1,761.9 1425.6,760.6 1427.1,757.6 1428.6,753.8 1430.1,750.5 1431.6,747.8 1433.1,745.2 1434.6,741.6 1436.1,737.1 1437.6,734.0 1439.1,731.3 1440.6,729.9 1442.0,730.3 1443.5,733.1 1445.0,737.4 1446.5,741.1 1448.0,745.6 1449.5,748.9 1451.0,750.7 1452.5,752.3 1454.0,752.6 1455.5,751.9 1457.0,750.7 1458.5,750.3 1460.0,751.4 1461.5,755.1 1463.0,757.8 1464.5,758.7 1466.0,759.1 1467.5,759.0 1469.0,758.2 1470.5,758.1 1471.9,758.0 1473.4,756.8 1474.9,754.5 1476.4,753.4 1477.9,752.5 1479.4,750.2 1480.9,746.4 1482.4,743.3 1483.9,742.4 1485.4,742.7 1486.9,743.6 1488.4,746.1 1489.9,749.5 1491.4,751.7 1492.9,752.3 1494.4,751.7 1495.9,751.2 1497.4,750.7 1498.9,750.2 1500.4,748.1 1501.8,743.1 1503.3,735.7 1504.8,730.9 1506.3,729.7 1507.8,727.4 1509.3,724.6 1510.8,725.0 1512.3,728.2 1513.8,732.8 1515.3,738.5 1516.8,744.4 1518.3,749.9 1519.8,751.9 1521.3,749.5 1522.8,743.5 1524.3,735.5 1525.8,725.0 1527.3,712.8 1528.8,702.4 1530.3,696.0 1531.8,696.5 1533.2,705.3 1534.7,718.4 1536.2,732.3 1537.7,742.4 1539.2,748.7 1540.7,754.4 1542.2,759.9 1543.7,763.6 1545.2,765.2 1546.7,764.7 1548.2,764.2 1549.7,764.6 1551.2,763.8 1552.7,763.1 1554.2,764.9 1555.7,768.3 1557.2,771.5 1558.7,773.8 1560.2,775.0 1561.7,773.9 1563.1,771.3 1564.6,768.6 1566.1,766.9 1567.6,765.7 1569.1,765.3 1570.6,767.1 1572.1,768.1 1573.6,767.9 1575.1,769.1 1576.6,769.9 1578.1,767.9 1579.6,765.3 1581.1,765.4 1582.6,765.9 1584.1,764.2 1585.6,760.2 1587.1,754.9 1588.6,748.2 1590.1,740.2 1591.5,732.5 1593.0,725.6 1594.5,720.5 1596.0,719.8 1597.5,725.4 1599.0,735.7 1600.5,745.1 1602.0,750.5 1603.5,753.8 1605.0,756.8 1606.5,761.5 1608.0,764.5 1609.5,764.5 1611.0,763.4 1612.5,762.4 1614.0,760.6 1615.5,758.5 1617.0,756.1 1618.5,755.6 1620.0,756.8 1621.4,759.0 1622.9,760.6 1624.4,761.3 1625.9,760.8 1627.4,759.9 1628.9,759.3 1630.4,758.8 1631.9,758.7 1633.4,759.9 1634.9,761.0 1636.4,762.7" fill="none" stroke="#a87a30" stroke-width="3.2" stroke-linejoin="round" stroke-linecap="round"/>
<path d="M859.0,735.0 860.5,735.0 862.0,733.1 863.5,729.5 865.0,725.2 866.5,720.9 868.0,716.5 869.5,710.3 871.0,702.7 872.5,692.1 874.0,681.5 875.4,675.7 876.9,677.1 878.4,683.0 879.9,692.5 881.4,705.6 882.9,717.4 884.4,723.1 885.9,725.6 887.4,728.3 888.9,732.1 890.4,732.8 891.9,728.7 893.4,724.0 894.9,719.6 896.4,712.4 897.9,703.0 899.4,695.8 900.9,693.2 902.4,694.1 903.9,698.3 905.3,704.2 906.8,709.9 908.3,715.2 909.8,720.1 911.3,722.6 912.8,723.0 914.3,723.5 915.8,725.3 917.3,727.3 918.8,727.1 920.3,726.9 921.8,728.6 923.3,731.0 924.8,732.5 926.3,729.6 927.8,724.5 929.3,718.6 930.8,712.0 932.3,705.8 933.8,702.7 935.2,702.4 936.7,702.3 938.2,700.6 939.7,697.2 941.2,694.1 942.7,691.7 944.2,690.2 945.7,692.1 947.2,696.9 948.7,701.4 950.2,706.1 951.7,712.4 953.2,718.1 954.7,721.4 956.2,722.9 957.7,724.0 959.2,726.2 960.7,727.6 962.2,728.9 963.6,731.1 965.1,732.4 966.6,732.2 968.1,731.4 969.6,731.7 971.1,732.1 972.6,732.9 974.1,732.7 975.6,731.7 977.1,732.3 978.6,733.2 980.1,733.3 981.6,733.0 983.1,732.6 984.6,732.5 986.1,733.9 987.6,735.0 989.1,732.1 990.6,726.1 992.1,720.5 993.5,714.6 995.0,710.0 996.5,706.3 998.0,704.0 999.5,703.1 1001.0,705.5 1002.5,710.2 1004.0,714.5 1005.5,718.0 1007.0,721.7 1008.5,723.6 1010.0,722.7 1011.5,721.0 1013.0,721.0 1014.5,720.7 1016.0,721.0 1017.5,719.3 1019.0,716.2 1020.5,714.3 1022.0,715.5 1023.5,719.7 1024.9,724.3 1026.4,727.1 1027.9,728.4 1029.4,729.1 1030.9,727.2 1032.4,722.1 1033.9,714.5 1035.4,707.7 1036.9,701.9 1038.4,694.8 1039.9,687.4 1041.4,681.9 1042.9,681.9 1044.4,689.1 1045.9,698.3 1047.4,706.1 1048.9,712.9 1050.4,719.5 1051.9,725.5 1053.3,730.3 1054.8,733.5 1056.3,734.3 1057.8,734.5 1059.3,734.5 1060.8,736.2 1062.3,738.2 1063.8,738.0 1065.3,736.5 1066.8,734.2 1068.3,732.5 1069.8,733.2 1071.3,733.1 1072.8,731.6 1074.3,729.9 1075.8,728.3 1077.3,726.3 1078.8,724.5 1080.3,722.8 1081.8,723.3 1083.2,726.2 1084.7,729.4 1086.2,731.9 1087.7,733.5 1089.2,735.2 1090.7,736.6 1092.2,736.4 1093.7,735.3 1095.2,733.3 1096.7,731.3 1098.2,728.5 1099.7,723.7 1101.2,716.4 1102.7,707.3 1104.2,699.2 1105.7,691.5 1107.2,682.7 1108.7,675.1 1110.2,671.2 1111.7,672.5 1113.2,678.9 1114.6,687.6 1116.1,695.2 1117.6,702.4 1119.1,709.3 1120.6,716.3 1122.1,722.9 1123.6,727.2 1125.1,729.4 1126.6,730.8 1128.1,732.4 1129.6,734.1 1131.1,734.0 1132.6,733.0 1134.1,733.0 1135.6,732.4 1137.1,729.2 1138.6,726.1 1140.1,724.3 1141.6,723.1 1143.0,722.9 1144.5,723.4 1146.0,724.5 1147.5,726.0 1149.0,728.8 1150.5,731.0 1152.0,730.9 1153.5,729.2 1155.0,730.1 1156.5,733.8 1158.0,736.9 1159.5,736.7 1161.0,735.0 1162.5,734.0 1164.0,732.8 1165.5,731.6 1167.0,731.4 1168.5,730.5 1170.0,728.1 1171.5,725.9 1173.0,724.3 1174.4,722.9 1175.9,721.7 1177.4,721.5 1178.9,724.6 1180.4,728.3 1181.9,729.6 1183.4,729.0 1184.9,727.4 1186.4,725.8 1187.9,725.5 1189.4,726.1 1190.9,726.8 1192.4,727.1 1193.9,727.2 1195.4,725.9 1196.9,723.1 1198.4,720.5 1199.9,721.1 1201.4,723.3 1202.8,724.3 1204.3,726.0 1205.8,727.8 1207.3,727.5 1208.8,726.7 1210.3,726.1 1211.8,726.3 1213.3,728.3 1214.8,731.2 1216.3,735.3 1217.8,738.9 1219.3,740.7 1220.8,741.6 1222.3,742.2 1223.8,741.9 1225.3,740.4 1226.8,738.0 1228.3,736.4 1229.8,735.7 1231.3,735.0 1232.8,735.1 1234.2,734.2 1235.7,732.6 1237.2,732.1 1238.7,729.2 1240.2,725.6 1241.7,723.1 1243.2,723.6 1244.7,725.1 1246.2,726.1 1247.7,726.0 1249.2,725.2 1250.7,723.2 1252.2,720.8 1253.7,717.8 1255.2,712.3 1256.7,705.7 1258.2,700.0 1259.7,693.2 1261.2,684.3 1262.7,673.5 1264.1,662.4 1265.6,653.7 1267.1,649.1 1268.6,652.5 1270.1,662.5 1271.6,674.2 1273.1,686.4 1274.6,698.7 1276.1,709.1 1277.6,715.7 1279.1,719.5 1280.6,720.5 1282.1,719.7 1283.6,718.1 1285.1,717.4 1286.6,719.3 1288.1,720.9 1289.6,720.4 1291.1,719.7 1292.5,718.5 1294.0,716.4 1295.5,714.0 1297.0,714.4 1298.5,718.1 1300.0,723.3 1301.5,727.1 1303.0,731.2 1304.5,734.5 1306.0,735.7 1307.5,735.6 1309.0,735.0 1310.5,733.9 1312.0,734.7 1313.5,736.3 1315.0,737.7 1316.5,738.1 1318.0,738.0 1319.5,737.5 1321.0,736.9 1322.5,736.3 1323.9,736.9 1325.4,737.5 1326.9,735.9 1328.4,731.9 1329.9,727.3 1331.4,722.9 1332.9,719.9 1334.4,717.4 1335.9,715.6 1337.4,715.6 1338.9,716.6 1340.4,718.6 1341.9,722.2 1343.4,726.9 1344.9,730.2 1346.4,730.0 1347.9,730.6 1349.4,731.5 1350.9,730.5 1352.3,728.6 1353.8,728.2 1355.3,727.9 1356.8,724.6 1358.3,719.8 1359.8,717.6 1361.3,717.2 1362.8,717.7 1364.3,717.7 1365.8,716.9 1367.3,715.4 1368.8,714.1 1370.3,714.6 1371.8,718.0 1373.3,722.5 1374.8,725.8 1376.3,725.8 1377.8,725.4 1379.3,726.7 1380.8,727.8 1382.2,726.8 1383.7,722.4 1385.2,715.1 1386.7,706.4 1388.2,697.4 1389.7,690.1 1391.2,686.0 1392.7,686.6 1394.2,690.2 1395.7,694.1 1397.2,698.0 1398.7,703.2 1400.2,707.0 1401.7,709.0 1403.2,713.0 1404.7,718.3 1406.2,722.8 1407.7,726.0 1409.2,728.2 1410.7,731.0 1412.2,732.8 1413.6,732.3 1415.1,731.9 1416.6,731.9 1418.1,732.0 1419.6,731.3 1421.1,729.9 1422.6,729.2 1424.1,728.8 1425.6,728.9 1427.1,728.2 1428.6,727.3 1430.1,725.9 1431.6,723.6 1433.1,721.0 1434.6,718.3 1436.1,715.4 1437.6,712.9 1439.1,713.1 1440.6,716.0 1442.0,718.8 1443.5,720.7 1445.0,722.1 1446.5,723.6 1448.0,725.0 1449.5,727.2 1451.0,728.3 1452.5,726.5 1454.0,725.1 1455.5,725.6 1457.0,727.4 1458.5,728.1 1460.0,727.5 1461.5,726.1 1463.0,724.7 1464.5,725.9 1466.0,728.7 1467.5,730.2 1469.0,729.9 1470.5,729.9 1471.9,729.3 1473.4,726.7 1474.9,722.4 1476.4,719.5 1477.9,718.2 1479.4,716.9 1480.9,714.6 1482.4,711.4 1483.9,708.4 1485.4,707.3 1486.9,708.2 1488.4,711.3 1489.9,714.7 1491.4,716.4 1492.9,717.0 1494.4,717.9 1495.9,720.3 1497.4,722.3 1498.9,722.3 1500.4,721.3 1501.8,719.9 1503.3,717.5 1504.8,714.1 1506.3,711.0 1507.8,707.2 1509.3,703.5 1510.8,700.7 1512.3,702.1 1513.8,707.3 1515.3,713.5 1516.8,718.6 1518.3,721.2 1519.8,721.2 1521.3,718.1 1522.8,712.3 1524.3,704.6 1525.8,694.5 1527.3,680.3 1528.8,664.3 1530.3,652.8 1531.8,648.6 1533.2,653.5 1534.7,667.5 1536.2,685.6 1537.7,703.5 1539.2,718.1 1540.7,727.9 1542.2,733.6 1543.7,737.4 1545.2,738.9 1546.7,738.7 1548.2,737.7 1549.7,736.3 1551.2,736.9 1552.7,739.0 1554.2,740.4 1555.7,741.4 1557.2,744.6 1558.7,748.5 1560.2,749.7 1561.7,747.6 1563.1,742.2 1564.6,738.0 1566.1,736.7 1567.6,736.0 1569.1,733.0 1570.6,729.1 1572.1,724.3 1573.6,721.0 1575.1,722.2 1576.6,726.7 1578.1,729.6 1579.6,729.0 1581.1,727.4 1582.6,726.3 1584.1,726.1 1585.6,724.6 1587.1,722.2 1588.6,719.2 1590.1,713.9 1591.5,706.4 1593.0,699.4 1594.5,694.3 1596.0,694.4 1597.5,701.1 1599.0,709.8 1600.5,716.5 1602.0,720.9 1603.5,723.2 1605.0,722.3 1606.5,721.3 1608.0,721.5 1609.5,721.3 1611.0,721.8 1612.5,723.8 1614.0,725.7 1615.5,727.9 1617.0,730.2 1618.5,732.3 1620.0,734.0 1621.4,735.6 1622.9,737.5 1624.4,739.3 1625.9,740.1 1627.4,740.8 1628.9,740.7 1630.4,739.3 1631.9,738.7 1633.4,738.2 1634.9,737.6 1636.4,737.0" fill="none" stroke="#000080" stroke-width="3.2" stroke-linejoin="round" stroke-linecap="round"/>
<path d="M859.0,709.6 860.5,710.4 862.0,708.2 863.5,705.3 865.0,702.1 866.5,699.3 868.0,694.0 869.5,685.7 871.0,674.9 872.5,661.5 874.0,648.8 875.4,642.3 876.9,643.5 878.4,651.2 879.9,664.5 881.4,678.5 882.9,687.8 884.4,692.9 885.9,697.1 887.4,699.9 888.9,699.6 890.4,698.0 891.9,696.1 893.4,692.2 894.9,685.4 896.4,676.7 897.9,667.4 899.4,659.8 900.9,658.1 902.4,663.1 903.9,670.2 905.3,677.6 906.8,685.3 908.3,692.6 909.8,697.3 911.3,699.0 912.8,700.1 914.3,700.8 915.8,699.9 917.3,698.7 918.8,697.2 920.3,696.3 921.8,696.8 923.3,698.2 924.8,699.0 926.3,698.4 927.8,697.8 929.3,697.3 930.8,695.6 932.3,693.4 933.8,691.4 935.2,688.5 936.7,683.8 938.2,678.3 939.7,672.7 941.2,668.3 942.7,665.4 944.2,665.3 945.7,668.5 947.2,671.8 948.7,675.3 950.2,679.6 951.7,684.6 953.2,689.2 954.7,692.8 956.2,695.0 957.7,695.4 959.2,694.3 960.7,692.5 962.2,690.4 963.6,687.7 965.1,684.5 966.6,681.1 968.1,678.0 969.6,677.0 971.1,676.9 972.6,675.3 974.1,672.7 975.6,669.5 977.1,667.7 978.6,672.4 980.1,681.5 981.6,689.3 983.1,693.5 984.6,694.7 986.1,693.0 987.6,690.2 989.1,686.5 990.6,681.7 992.1,678.7 993.5,677.5 995.0,675.1 996.5,671.1 998.0,666.3 999.5,664.1 1001.0,665.6 1002.5,669.2 1004.0,674.3 1005.5,679.6 1007.0,683.1 1008.5,684.4 1010.0,685.3 1011.5,687.7 1013.0,690.7 1014.5,690.9 1016.0,687.6 1017.5,683.5 1019.0,679.8 1020.5,677.9 1022.0,679.5 1023.5,685.4 1024.9,691.9 1026.4,695.5 1027.9,697.9 1029.4,699.6 1030.9,699.1 1032.4,695.6 1033.9,690.4 1035.4,683.0 1036.9,673.3 1038.4,663.8 1039.9,655.5 1041.4,651.1 1042.9,653.0 1044.4,659.7 1045.9,668.5 1047.4,677.2 1048.9,685.3 1050.4,690.5 1051.9,693.0 1053.3,695.5 1054.8,697.6 1056.3,698.0 1057.8,696.3 1059.3,691.5 1060.8,685.2 1062.3,680.7 1063.8,678.7 1065.3,679.2 1066.8,683.8 1068.3,690.2 1069.8,694.6 1071.3,698.1 1072.8,701.1 1074.3,702.1 1075.8,703.2 1077.3,702.5 1078.8,700.2 1080.3,697.4 1081.8,695.5 1083.2,694.9 1084.7,693.8 1086.2,692.9 1087.7,693.3 1089.2,695.0 1090.7,698.2 1092.2,701.4 1093.7,703.5 1095.2,703.8 1096.7,703.5 1098.2,702.8 1099.7,701.4 1101.2,698.4 1102.7,694.3 1104.2,689.9 1105.7,684.2 1107.2,678.8 1108.7,676.0 1110.2,674.8 1111.7,677.0 1113.2,682.9 1114.6,689.9 1116.1,695.9 1117.6,700.5 1119.1,704.3 1120.6,705.8 1122.1,705.5 1123.6,704.4 1125.1,702.2 1126.6,700.1 1128.1,696.7 1129.6,691.8 1131.1,689.7 1132.6,691.7 1134.1,693.6 1135.6,693.2 1137.1,692.9 1138.6,692.2 1140.1,690.9 1141.6,688.9 1143.0,687.2 1144.5,686.2 1146.0,685.0 1147.5,684.4 1149.0,684.9 1150.5,687.5 1152.0,692.0 1153.5,697.0 1155.0,701.7 1156.5,703.8 1158.0,703.4 1159.5,701.4 1161.0,698.4 1162.5,695.9 1164.0,697.3 1165.5,700.5 1167.0,702.4 1168.5,702.9 1170.0,699.6 1171.5,693.2 1173.0,689.6 1174.4,691.1 1175.9,694.0 1177.4,694.6 1178.9,694.6 1180.4,695.2 1181.9,697.6 1183.4,701.0 1184.9,702.7 1186.4,701.7 1187.9,699.6 1189.4,695.6 1190.9,690.1 1192.4,686.2 1193.9,684.4 1195.4,681.3 1196.9,676.1 1198.4,673.0 1199.9,674.1 1201.4,676.4 1202.8,678.6 1204.3,680.2 1205.8,680.7 1207.3,682.2 1208.8,686.8 1210.3,693.7 1211.8,699.8 1213.3,703.4 1214.8,704.5 1216.3,704.6 1217.8,703.9 1219.3,702.8 1220.8,702.8 1222.3,703.5 1223.8,704.5 1225.3,705.8 1226.8,707.3 1228.3,708.1 1229.8,706.8 1231.3,705.0 1232.8,705.5 1234.2,707.0 1235.7,706.4 1237.2,705.4 1238.7,705.4 1240.2,704.9 1241.7,704.7 1243.2,706.1 1244.7,708.6 1246.2,709.6 1247.7,708.1 1249.2,704.3 1250.7,699.7 1252.2,694.5 1253.7,687.3 1255.2,677.9 1256.7,667.0 1258.2,656.5 1259.7,646.2 1261.2,632.6 1262.7,616.7 1264.1,603.2 1265.6,595.8 1267.1,595.2 1268.6,601.9 1270.1,612.6 1271.6,625.5 1273.1,640.9 1274.6,655.8 1276.1,667.5 1277.6,677.0 1279.1,684.4 1280.6,689.2 1282.1,693.4 1283.6,696.9 1285.1,697.1 1286.6,695.3 1288.1,693.7 1289.6,691.9 1291.1,689.8 1292.5,687.0 1294.0,684.6 1295.5,684.0 1297.0,686.7 1298.5,692.4 1300.0,697.3 1301.5,698.7 1303.0,700.4 1304.5,703.9 1306.0,706.7 1307.5,706.2 1309.0,704.7 1310.5,705.0 1312.0,705.7 1313.5,705.8 1315.0,705.3 1316.5,704.7 1318.0,704.6 1319.5,704.8 1321.0,704.4 1322.5,703.5 1323.9,703.8 1325.4,703.9 1326.9,702.8 1328.4,700.6 1329.9,698.0 1331.4,694.2 1332.9,690.2 1334.4,686.0 1335.9,681.2 1337.4,677.8 1338.9,679.0 1340.4,684.3 1341.9,690.6 1343.4,693.5 1344.9,692.5 1346.4,689.1 1347.9,685.8 1349.4,686.5 1350.9,689.3 1352.3,691.6 1353.8,692.6 1355.3,692.3 1356.8,690.3 1358.3,687.2 1359.8,683.7 1361.3,681.8 1362.8,682.3 1364.3,684.0 1365.8,685.8 1367.3,688.1 1368.8,691.1 1370.3,693.8 1371.8,695.6 1373.3,694.9 1374.8,693.2 1376.3,690.0 1377.8,683.6 1379.3,677.8 1380.8,676.0 1382.2,675.6 1383.7,673.4 1385.2,669.7 1386.7,663.0 1388.2,653.6 1389.7,645.0 1391.2,639.1 1392.7,637.4 1394.2,639.8 1395.7,642.1 1397.2,641.3 1398.7,644.5 1400.2,655.2 1401.7,667.9 1403.2,678.6 1404.7,685.9 1406.2,691.4 1407.7,694.6 1409.2,696.0 1410.7,697.1 1412.2,698.1 1413.6,698.7 1415.1,698.0 1416.6,694.8 1418.1,689.1 1419.6,682.9 1421.1,676.8 1422.6,673.0 1424.1,674.7 1425.6,680.5 1427.1,685.4 1428.6,687.0 1430.1,686.4 1431.6,685.8 1433.1,683.3 1434.6,679.9 1436.1,677.4 1437.6,675.1 1439.1,673.0 1440.6,672.0 1442.0,672.8 1443.5,674.8 1445.0,676.9 1446.5,678.2 1448.0,679.3 1449.5,681.0 1451.0,684.0 1452.5,686.5 1454.0,688.1 1455.5,690.3 1457.0,692.9 1458.5,693.5 1460.0,693.5 1461.5,694.2 1463.0,694.4 1464.5,693.6 1466.0,693.1 1467.5,692.5 1469.0,690.9 1470.5,690.5 1471.9,691.1 1473.4,690.8 1474.9,689.9 1476.4,688.4 1477.9,684.9 1479.4,679.4 1480.9,674.8 1482.4,672.2 1483.9,671.3 1485.4,672.3 1486.9,674.2 1488.4,676.1 1489.9,678.6 1491.4,681.8 1492.9,684.6 1494.4,686.8 1495.9,689.8 1497.4,692.0 1498.9,691.4 1500.4,690.9 1501.8,689.3 1503.3,685.9 1504.8,679.5 1506.3,669.4 1507.8,658.4 1509.3,649.9 1510.8,648.7 1512.3,653.7 1513.8,660.6 1515.3,667.7 1516.8,675.9 1518.3,684.0 1519.8,687.1 1521.3,684.6 1522.8,676.5 1524.3,665.3 1525.8,651.9 1527.3,636.3 1528.8,621.6 1530.3,612.3 1531.8,614.2 1533.2,626.3 1534.7,641.7 1536.2,657.4 1537.7,670.6 1539.2,679.3 1540.7,684.2 1542.2,687.1 1543.7,688.8 1545.2,690.7 1546.7,693.4 1548.2,696.2 1549.7,698.9 1551.2,701.0 1552.7,704.5 1554.2,710.7 1555.7,716.2 1557.2,720.9 1558.7,725.7 1560.2,728.7 1561.7,727.9 1563.1,724.3 1564.6,719.8 1566.1,714.8 1567.6,709.0 1569.1,702.3 1570.6,697.2 1572.1,694.6 1573.6,695.2 1575.1,698.5 1576.6,702.1 1578.1,704.7 1579.6,705.1 1581.1,705.2 1582.6,704.2 1584.1,702.2 1585.6,698.3 1587.1,692.9 1588.6,687.2 1590.1,678.9 1591.5,667.0 1593.0,654.7 1594.5,647.1 1596.0,646.4 1597.5,652.1 1599.0,660.6 1600.5,669.6 1602.0,680.8 1603.5,691.0 1605.0,696.7 1606.5,700.7 1608.0,703.5 1609.5,704.8 1611.0,706.9 1612.5,708.6 1614.0,708.5 1615.5,707.5 1617.0,706.6 1618.5,705.5 1620.0,704.0 1621.4,703.6 1622.9,704.1 1624.4,704.1 1625.9,702.9 1627.4,701.4 1628.9,700.8 1630.4,700.2 1631.9,698.9 1633.4,699.3 1634.9,701.8 1636.4,703.9" fill="none" stroke="#ff0000" stroke-width="3.2" stroke-linejoin="round" stroke-linecap="round"/>
<path d="M859.0,655.8 860.5,654.3 862.0,653.3 863.5,652.0 865.0,650.4 866.5,648.2 868.0,642.7 869.5,634.0 871.0,622.7 872.5,609.7 874.0,597.3 875.4,590.3 876.9,592.1 878.4,600.6 879.9,612.2 881.4,625.1 882.9,635.7 884.4,642.8 885.9,647.8 887.4,651.1 888.9,651.1 890.4,648.3 891.9,646.1 893.4,645.4 894.9,641.8 896.4,635.5 897.9,629.1 899.4,624.2 900.9,623.0 902.4,626.7 903.9,633.7 905.3,640.9 906.8,647.3 908.3,652.9 909.8,657.7 911.3,661.1 912.8,661.8 914.3,660.6 915.8,658.2 917.3,655.1 918.8,653.0 920.3,654.0 921.8,655.8 923.3,656.0 924.8,656.3 926.3,658.0 927.8,659.1 929.3,658.1 930.8,656.2 932.3,654.8 933.8,654.4 935.2,653.3 936.7,651.7 938.2,649.2 939.7,646.7 941.2,644.9 942.7,643.6 944.2,644.8 945.7,648.9 947.2,653.2 948.7,656.8 950.2,660.1 951.7,662.2 953.2,663.7 954.7,665.7 956.2,666.5 957.7,665.9 959.2,665.9 960.7,665.3 962.2,662.9 963.6,661.2 965.1,660.4 966.6,658.4 968.1,653.4 969.6,647.0 971.1,640.6 972.6,635.4 974.1,634.5 975.6,638.4 977.1,643.6 978.6,647.5 980.1,649.8 981.6,651.8 983.1,654.6 984.6,657.4 986.1,658.0 987.6,657.1 989.1,655.7 990.6,652.8 992.1,647.9 993.5,640.9 995.0,634.1 996.5,627.2 998.0,621.8 999.5,618.6 1001.0,618.2 1002.5,620.9 1004.0,627.0 1005.5,635.0 1007.0,642.2 1008.5,648.1 1010.0,652.5 1011.5,656.0 1013.0,657.2 1014.5,655.6 1016.0,652.2 1017.5,647.7 1019.0,644.6 1020.5,645.3 1022.0,649.7 1023.5,654.0 1024.9,656.6 1026.4,659.3 1027.9,659.9 1029.4,659.4 1030.9,658.9 1032.4,657.8 1033.9,655.3 1035.4,650.5 1036.9,644.9 1038.4,641.4 1039.9,639.5 1041.4,638.5 1042.9,639.3 1044.4,642.0 1045.9,646.8 1047.4,651.0 1048.9,654.0 1050.4,657.1 1051.9,659.4 1053.3,659.6 1054.8,657.4 1056.3,654.9 1057.8,654.4 1059.3,656.6 1060.8,659.0 1062.3,659.5 1063.8,658.8 1065.3,658.1 1066.8,657.8 1068.3,656.1 1069.8,655.3 1071.3,657.4 1072.8,659.8 1074.3,660.9 1075.8,660.5 1077.3,658.7 1078.8,654.4 1080.3,648.6 1081.8,645.7 1083.2,647.4 1084.7,651.2 1086.2,654.5 1087.7,655.1 1089.2,655.0 1090.7,656.1 1092.2,658.1 1093.7,658.4 1095.2,654.6 1096.7,649.6 1098.2,646.0 1099.7,642.1 1101.2,636.6 1102.7,629.8 1104.2,622.6 1105.7,615.9 1107.2,606.8 1108.7,595.8 1110.2,591.3 1111.7,596.8 1113.2,608.9 1114.6,622.6 1116.1,633.6 1117.6,642.3 1119.1,649.5 1120.6,654.2 1122.1,657.0 1123.6,657.8 1125.1,657.6 1126.6,659.1 1128.1,659.4 1129.6,658.4 1131.1,659.3 1132.6,661.5 1134.1,661.9 1135.6,660.1 1137.1,657.9 1138.6,656.7 1140.1,656.5 1141.6,655.0 1143.0,654.2 1144.5,656.3 1146.0,658.0 1147.5,659.6 1149.0,660.9 1150.5,661.3 1152.0,661.9 1153.5,664.0 1155.0,666.0 1156.5,667.1 1158.0,667.4 1159.5,668.2 1161.0,667.3 1162.5,663.9 1164.0,661.1 1165.5,661.0 1167.0,661.4 1168.5,661.6 1170.0,659.4 1171.5,656.0 1173.0,654.1 1174.4,652.4 1175.9,650.9 1177.4,650.3 1178.9,650.7 1180.4,649.9 1181.9,648.1 1183.4,646.6 1184.9,647.0 1186.4,648.8 1187.9,651.6 1189.4,655.7 1190.9,657.4 1192.4,655.9 1193.9,653.8 1195.4,651.7 1196.9,650.0 1198.4,648.8 1199.9,648.6 1201.4,649.7 1202.8,653.1 1204.3,656.2 1205.8,657.0 1207.3,657.4 1208.8,658.7 1210.3,661.1 1211.8,662.7 1213.3,661.3 1214.8,658.3 1216.3,656.8 1217.8,656.2 1219.3,654.8 1220.8,653.9 1222.3,654.0 1223.8,652.6 1225.3,651.1 1226.8,653.2 1228.3,657.8 1229.8,661.8 1231.3,665.3 1232.8,667.7 1234.2,666.9 1235.7,663.4 1237.2,660.3 1238.7,658.0 1240.2,656.1 1241.7,653.1 1243.2,649.0 1244.7,646.1 1246.2,646.0 1247.7,647.5 1249.2,649.0 1250.7,649.0 1252.2,648.2 1253.7,646.1 1255.2,641.8 1256.7,635.5 1258.2,627.2 1259.7,617.6 1261.2,606.1 1262.7,593.2 1264.1,581.6 1265.6,573.2 1267.1,570.4 1268.6,575.1 1270.1,585.0 1271.6,596.5 1273.1,608.3 1274.6,619.2 1276.1,627.7 1277.6,634.1 1279.1,639.3 1280.6,643.4 1282.1,646.8 1283.6,649.9 1285.1,651.6 1286.6,650.6 1288.1,647.1 1289.6,642.5 1291.1,638.6 1292.5,635.1 1294.0,632.1 1295.5,631.8 1297.0,635.3 1298.5,640.7 1300.0,646.1 1301.5,651.2 1303.0,655.0 1304.5,656.1 1306.0,655.9 1307.5,657.5 1309.0,660.1 1310.5,661.1 1312.0,660.2 1313.5,660.1 1315.0,661.3 1316.5,660.9 1318.0,660.6 1319.5,662.2 1321.0,663.1 1322.5,661.5 1323.9,659.7 1325.4,659.1 1326.9,658.6 1328.4,657.5 1329.9,655.3 1331.4,651.9 1332.9,646.7 1334.4,641.1 1335.9,637.2 1337.4,635.2 1338.9,634.2 1340.4,634.1 1341.9,635.9 1343.4,640.9 1344.9,647.7 1346.4,652.9 1347.9,657.0 1349.4,661.6 1350.9,663.7 1352.3,662.1 1353.8,660.2 1355.3,657.7 1356.8,651.7 1358.3,644.4 1359.8,639.8 1361.3,635.9 1362.8,633.0 1364.3,632.5 1365.8,634.2 1367.3,637.3 1368.8,639.8 1370.3,642.3 1371.8,647.0 1373.3,652.0 1374.8,656.5 1376.3,659.3 1377.8,660.6 1379.3,660.6 1380.8,659.3 1382.2,656.4 1383.7,652.4 1385.2,648.1 1386.7,642.3 1388.2,635.9 1389.7,630.1 1391.2,625.6 1392.7,623.6 1394.2,625.2 1395.7,628.8 1397.2,631.4 1398.7,632.2 1400.2,634.4 1401.7,639.9 1403.2,645.3 1404.7,649.1 1406.2,651.3 1407.7,651.0 1409.2,649.4 1410.7,646.0 1412.2,641.8 1413.6,637.0 1415.1,635.9 1416.6,641.6 1418.1,649.0 1419.6,653.6 1421.1,656.2 1422.6,657.2 1424.1,656.9 1425.6,655.8 1427.1,654.7 1428.6,652.9 1430.1,650.3 1431.6,646.7 1433.1,642.1 1434.6,637.2 1436.1,631.6 1437.6,627.2 1439.1,626.4 1440.6,627.0 1442.0,628.6 1443.5,631.5 1445.0,634.7 1446.5,637.2 1448.0,640.6 1449.5,645.1 1451.0,650.7 1452.5,655.4 1454.0,659.3 1455.5,662.0 1457.0,663.4 1458.5,663.3 1460.0,661.5 1461.5,658.7 1463.0,657.5 1464.5,658.4 1466.0,659.7 1467.5,658.3 1469.0,654.8 1470.5,653.2 1471.9,655.0 1473.4,657.0 1474.9,656.7 1476.4,654.9 1477.9,652.9 1479.4,649.9 1480.9,646.2 1482.4,642.5 1483.9,640.0 1485.4,639.9 1486.9,641.5 1488.4,644.0 1489.9,646.4 1491.4,647.8 1492.9,650.6 1494.4,655.0 1495.9,659.0 1497.4,660.2 1498.9,659.8 1500.4,659.3 1501.8,659.2 1503.3,656.7 1504.8,651.8 1506.3,645.1 1507.8,637.2 1509.3,629.6 1510.8,627.4 1512.3,631.4 1513.8,638.3 1515.3,644.4 1516.8,648.9 1518.3,651.2 1519.8,653.0 1521.3,653.2 1522.8,649.6 1524.3,642.1 1525.8,633.2 1527.3,623.0 1528.8,612.8 1530.3,606.5 1531.8,605.4 1533.2,610.5 1534.7,620.5 1536.2,631.5 1537.7,639.9 1539.2,646.5 1540.7,652.4 1542.2,657.7 1543.7,661.3 1545.2,661.2 1546.7,661.3 1548.2,662.0 1549.7,662.4 1551.2,663.8 1552.7,667.1 1554.2,669.8 1555.7,670.9 1557.2,671.5 1558.7,672.3 1560.2,673.0 1561.7,671.8 1563.1,669.1 1564.6,666.1 1566.1,665.2 1567.6,665.9 1569.1,666.4 1570.6,666.6 1572.1,666.9 1573.6,666.6 1575.1,665.9 1576.6,667.1 1578.1,668.3 1579.6,667.4 1581.1,666.0 1582.6,665.1 1584.1,663.0 1585.6,660.0 1587.1,655.4 1588.6,650.0 1590.1,643.5 1591.5,634.8 1593.0,624.9 1594.5,617.0 1596.0,615.0 1597.5,620.7 1599.0,630.2 1600.5,638.9 1602.0,646.0 1603.5,651.2 1605.0,655.7 1606.5,659.6 1608.0,662.4 1609.5,662.5 1611.0,661.6 1612.5,659.8 1614.0,657.9 1615.5,656.4 1617.0,655.1 1618.5,654.5 1620.0,656.6 1621.4,660.6 1622.9,663.8 1624.4,666.0 1625.9,667.8 1627.4,668.7 1628.9,668.8 1630.4,668.5 1631.9,667.1 1633.4,666.2 1634.9,665.8 1636.4,664.9" fill="none" stroke="#8000ff" stroke-width="3.2" stroke-linejoin="round" stroke-linecap="round"/>
<path d="M859.0,614.5 860.5,605.4 862.0,597.8 863.5,595.4 865.0,595.8 866.5,594.9 868.0,592.8 869.5,587.7 871.0,578.0 872.5,564.5 874.0,551.7 875.4,545.1 876.9,547.7 878.4,556.8 879.9,569.8 881.4,581.7 882.9,589.7 884.4,593.3 885.9,597.9 887.4,606.1 888.9,613.2 890.4,615.9 891.9,615.2 893.4,611.9 894.9,605.4 896.4,597.1 897.9,588.4 899.4,580.0 900.9,573.3 902.4,572.2 903.9,578.4 905.3,588.3 906.8,598.3 908.3,605.9 909.8,610.1 911.3,611.2 912.8,610.2 914.3,609.9 915.8,612.4 917.3,616.1 918.8,618.7 920.3,620.5 921.8,621.8 923.3,622.9 924.8,623.7 926.3,623.6 927.8,624.7 929.3,625.7 930.8,624.4 932.3,621.0 933.8,618.7 935.2,618.5 936.7,618.7 938.2,617.0 939.7,613.6 941.2,610.0 942.7,608.2 944.2,608.8 945.7,611.8 947.2,615.5 948.7,618.3 950.2,620.6 951.7,622.5 953.2,624.8 954.7,626.5 956.2,626.9 957.7,626.0 959.2,624.8 960.7,623.6 962.2,621.5 963.6,619.1 965.1,617.3 966.6,616.2 968.1,612.7 969.6,607.4 971.1,601.0 972.6,597.9 974.1,599.3 975.6,603.6 977.1,609.7 978.6,616.0 980.1,619.9 981.6,621.9 983.1,622.6 984.6,622.8 986.1,622.8 987.6,622.7 989.1,620.5 990.6,616.3 992.1,609.3 993.5,599.3 995.0,587.1 996.5,574.7 998.0,563.1 999.5,556.1 1001.0,555.8 1002.5,561.4 1004.0,571.3 1005.5,583.2 1007.0,593.8 1008.5,602.3 1010.0,609.6 1011.5,613.6 1013.0,613.6 1014.5,611.0 1016.0,607.3 1017.5,602.9 1019.0,597.8 1020.5,594.7 1022.0,596.3 1023.5,601.8 1024.9,607.5 1026.4,612.5 1027.9,617.1 1029.4,619.4 1030.9,619.0 1032.4,617.0 1033.9,613.9 1035.4,609.9 1036.9,604.1 1038.4,596.9 1039.9,591.7 1041.4,590.2 1042.9,592.0 1044.4,597.3 1045.9,603.8 1047.4,609.2 1048.9,613.0 1050.4,615.9 1051.9,617.1 1053.3,618.5 1054.8,622.1 1056.3,624.6 1057.8,623.7 1059.3,621.6 1060.8,622.5 1062.3,624.2 1063.8,623.3 1065.3,621.1 1066.8,620.0 1068.3,620.4 1069.8,620.8 1071.3,620.7 1072.8,618.8 1074.3,616.2 1075.8,613.8 1077.3,611.1 1078.8,607.2 1080.3,602.3 1081.8,600.1 1083.2,600.8 1084.7,601.3 1086.2,603.3 1087.7,607.0 1089.2,610.1 1090.7,611.1 1092.2,612.1 1093.7,612.8 1095.2,612.0 1096.7,611.0 1098.2,610.4 1099.7,608.2 1101.2,602.6 1102.7,594.1 1104.2,584.8 1105.7,573.1 1107.2,558.7 1108.7,545.0 1110.2,537.5 1111.7,542.1 1113.2,556.4 1114.6,572.5 1116.1,586.2 1117.6,596.9 1119.1,604.5 1120.6,608.8 1122.1,611.6 1123.6,613.3 1125.1,613.5 1126.6,613.2 1128.1,611.7 1129.6,609.4 1131.1,607.1 1132.6,604.5 1134.1,602.2 1135.6,599.0 1137.1,595.8 1138.6,594.7 1140.1,594.8 1141.6,596.0 1143.0,597.6 1144.5,600.3 1146.0,602.8 1147.5,604.7 1149.0,608.1 1150.5,611.8 1152.0,614.5 1153.5,615.7 1155.0,615.3 1156.5,614.1 1158.0,613.1 1159.5,613.2 1161.0,614.5 1162.5,616.2 1164.0,615.5 1165.5,613.5 1167.0,611.8 1168.5,608.8 1170.0,605.1 1171.5,601.0 1173.0,595.8 1174.4,590.5 1175.9,590.0 1177.4,595.5 1178.9,603.4 1180.4,610.2 1181.9,613.3 1183.4,614.1 1184.9,616.9 1186.4,619.8 1187.9,619.2 1189.4,617.9 1190.9,619.0 1192.4,620.2 1193.9,619.1 1195.4,616.0 1196.9,611.9 1198.4,607.7 1199.9,605.4 1201.4,605.1 1202.8,604.6 1204.3,602.4 1205.8,600.4 1207.3,601.0 1208.8,603.9 1210.3,607.4 1211.8,610.4 1213.3,610.4 1214.8,608.5 1216.3,607.9 1217.8,609.4 1219.3,612.6 1220.8,617.4 1222.3,622.9 1223.8,627.0 1225.3,628.5 1226.8,628.1 1228.3,628.8 1229.8,630.0 1231.3,630.3 1232.8,628.5 1234.2,626.9 1235.7,625.1 1237.2,624.5 1238.7,624.8 1240.2,623.5 1241.7,621.3 1243.2,620.9 1244.7,620.7 1246.2,618.8 1247.7,616.0 1249.2,612.9 1250.7,609.0 1252.2,603.4 1253.7,595.0 1255.2,585.6 1256.7,575.7 1258.2,564.0 1259.7,549.3 1261.2,533.4 1262.7,519.3 1264.1,510.1 1265.6,505.3 1267.1,507.3 1268.6,516.9 1270.1,530.4 1271.6,544.9 1273.1,558.8 1274.6,571.8 1276.1,583.8 1277.6,594.3 1279.1,602.0 1280.6,607.0 1282.1,611.1 1283.6,613.4 1285.1,612.6 1286.6,610.1 1288.1,607.1 1289.6,604.2 1291.1,600.5 1292.5,597.3 1294.0,595.6 1295.5,595.1 1297.0,596.5 1298.5,600.2 1300.0,604.7 1301.5,608.9 1303.0,613.1 1304.5,616.9 1306.0,620.9 1307.5,624.1 1309.0,625.9 1310.5,625.6 1312.0,623.9 1313.5,622.3 1315.0,620.3 1316.5,616.2 1318.0,612.4 1319.5,610.7 1321.0,610.0 1322.5,610.2 1323.9,611.6 1325.4,612.0 1326.9,612.0 1328.4,611.9 1329.9,611.9 1331.4,610.3 1332.9,608.0 1334.4,605.6 1335.9,604.0 1337.4,603.6 1338.9,605.7 1340.4,609.2 1341.9,612.2 1343.4,613.9 1344.9,613.7 1346.4,611.7 1347.9,608.6 1349.4,605.4 1350.9,601.3 1352.3,597.0 1353.8,593.6 1355.3,593.0 1356.8,593.7 1358.3,593.7 1359.8,593.3 1361.3,594.9 1362.8,598.9 1364.3,602.1 1365.8,603.6 1367.3,603.8 1368.8,603.9 1370.3,604.0 1371.8,604.1 1373.3,603.8 1374.8,603.8 1376.3,604.3 1377.8,604.4 1379.3,604.2 1380.8,602.6 1382.2,599.8 1383.7,596.9 1385.2,592.8 1386.7,586.2 1388.2,578.0 1389.7,572.0 1391.2,568.8 1392.7,567.4 1394.2,569.8 1395.7,573.9 1397.2,576.3 1398.7,576.7 1400.2,577.4 1401.7,583.9 1403.2,594.4 1404.7,603.7 1406.2,610.3 1407.7,615.5 1409.2,619.5 1410.7,621.4 1412.2,620.8 1413.6,620.0 1415.1,620.6 1416.6,621.9 1418.1,623.2 1419.6,623.7 1421.1,622.9 1422.6,622.8 1424.1,621.6 1425.6,618.4 1427.1,615.2 1428.6,613.7 1430.1,611.6 1431.6,607.8 1433.1,603.1 1434.6,598.2 1436.1,592.3 1437.6,587.8 1439.1,586.3 1440.6,586.8 1442.0,589.6 1443.5,594.9 1445.0,600.7 1446.5,606.1 1448.0,611.1 1449.5,615.2 1451.0,617.4 1452.5,618.4 1454.0,619.4 1455.5,619.5 1457.0,618.5 1458.5,617.9 1460.0,618.5 1461.5,619.3 1463.0,618.7 1464.5,617.7 1466.0,617.4 1467.5,616.1 1469.0,613.4 1470.5,610.2 1471.9,606.5 1473.4,603.6 1474.9,601.7 1476.4,600.1 1477.9,598.2 1479.4,594.4 1480.9,588.9 1482.4,583.2 1483.9,580.9 1485.4,581.9 1486.9,585.4 1488.4,590.3 1489.9,596.9 1491.4,605.0 1492.9,611.5 1494.4,615.6 1495.9,618.7 1497.4,619.9 1498.9,619.9 1500.4,620.5 1501.8,618.0 1503.3,612.5 1504.8,606.8 1506.3,599.4 1507.8,590.7 1509.3,583.7 1510.8,581.2 1512.3,582.7 1513.8,585.4 1515.3,586.4 1516.8,584.0 1518.3,580.5 1519.8,578.9 1521.3,578.8 1522.8,577.6 1524.3,575.6 1525.8,571.4 1527.3,563.4 1528.8,552.0 1530.3,543.4 1531.8,543.8 1533.2,553.9 1534.7,569.0 1536.2,584.1 1537.7,596.0 1539.2,605.2 1540.7,611.7 1542.2,614.7 1543.7,615.2 1545.2,616.4 1546.7,617.7 1548.2,620.1 1549.7,622.8 1551.2,623.5 1552.7,623.4 1554.2,624.5 1555.7,627.7 1557.2,633.5 1558.7,639.9 1560.2,643.9 1561.7,641.2 1563.1,634.8 1564.6,629.2 1566.1,625.6 1567.6,622.3 1569.1,618.3 1570.6,613.7 1572.1,610.4 1573.6,610.7 1575.1,612.9 1576.6,615.3 1578.1,617.1 1579.6,618.1 1581.1,618.3 1582.6,619.2 1584.1,618.6 1585.6,614.1 1587.1,608.6 1588.6,603.6 1590.1,595.8 1591.5,583.7 1593.0,571.3 1594.5,563.8 1596.0,564.7 1597.5,573.7 1599.0,583.8 1600.5,590.7 1602.0,597.7 1603.5,606.3 1605.0,613.4 1606.5,617.9 1608.0,619.3 1609.5,619.6 1611.0,621.8 1612.5,623.8 1614.0,624.0 1615.5,624.5 1617.0,626.9 1618.5,629.4 1620.0,629.2 1621.4,626.8 1622.9,625.4 1624.4,624.2 1625.9,621.7 1627.4,619.2 1628.9,618.2 1630.4,620.7 1631.9,624.2 1633.4,625.3 1634.9,625.4 1636.4,625.4" fill="none" stroke="#3c6eb4" stroke-width="3.2" stroke-linejoin="round" stroke-linecap="round"/>
<path d="M859.0,600.4 860.5,599.8 862.0,600.1 863.5,598.2 865.0,593.5 866.5,587.7 868.0,581.2 869.5,572.6 871.0,559.9 872.5,542.8 874.0,527.1 875.4,519.3 876.9,520.7 878.4,530.0 879.9,542.9 881.4,557.8 882.9,571.3 884.4,580.7 885.9,587.7 887.4,592.8 888.9,593.8 890.4,590.1 891.9,584.3 893.4,578.5 894.9,571.6 896.4,563.1 897.9,552.3 899.4,542.8 900.9,538.8 902.4,542.1 903.9,552.1 905.3,565.3 906.8,576.0 908.3,582.5 909.8,588.1 911.3,592.7 912.8,594.4 914.3,595.4 915.8,598.2 917.3,600.3 918.8,599.1 920.3,596.7 921.8,596.3 923.3,596.5 924.8,594.8 926.3,591.9 927.8,591.5 929.3,594.1 930.8,595.6 932.3,594.9 933.8,593.2 935.2,590.8 936.7,587.0 938.2,581.9 939.7,574.5 941.2,567.4 942.7,564.3 944.2,564.8 945.7,566.4 947.2,569.1 948.7,573.3 950.2,578.1 951.7,582.8 953.2,585.5 954.7,585.2 956.2,583.2 957.7,581.7 959.2,582.8 960.7,584.4 962.2,585.5 963.6,585.3 965.1,584.4 966.6,582.9 968.1,581.0 969.6,580.1 971.1,579.4 972.6,579.4 974.1,580.1 975.6,582.0 977.1,584.8 978.6,588.1 980.1,588.9 981.6,586.9 983.1,583.4 984.6,578.9 986.1,575.8 987.6,577.1 989.1,581.0 990.6,582.6 992.1,580.3 993.5,576.0 995.0,570.3 996.5,563.9 998.0,558.1 999.5,556.3 1001.0,558.4 1002.5,564.0 1004.0,571.2 1005.5,578.0 1007.0,585.0 1008.5,591.2 1010.0,593.3 1011.5,591.5 1013.0,588.4 1014.5,585.4 1016.0,580.4 1017.5,571.7 1019.0,561.5 1020.5,556.1 1022.0,558.5 1023.5,566.8 1024.9,574.9 1026.4,582.3 1027.9,588.8 1029.4,592.4 1030.9,591.9 1032.4,588.3 1033.9,583.0 1035.4,578.3 1036.9,573.5 1038.4,567.9 1039.9,562.2 1041.4,559.4 1042.9,559.5 1044.4,562.1 1045.9,565.2 1047.4,569.9 1048.9,575.5 1050.4,581.5 1051.9,586.5 1053.3,590.3 1054.8,593.4 1056.3,597.0 1057.8,600.0 1059.3,601.4 1060.8,601.6 1062.3,601.2 1063.8,599.8 1065.3,598.3 1066.8,596.8 1068.3,593.5 1069.8,588.1 1071.3,581.7 1072.8,577.7 1074.3,579.3 1075.8,583.5 1077.3,586.3 1078.8,588.6 1080.3,590.0 1081.8,590.5 1083.2,592.1 1084.7,593.6 1086.2,595.0 1087.7,596.1 1089.2,597.1 1090.7,596.4 1092.2,591.5 1093.7,587.2 1095.2,585.9 1096.7,585.9 1098.2,585.8 1099.7,583.9 1101.2,579.2 1102.7,571.4 1104.2,560.4 1105.7,547.9 1107.2,538.0 1108.7,531.6 1110.2,528.2 1111.7,529.8 1113.2,537.1 1114.6,546.1 1116.1,554.5 1117.6,563.6 1119.1,573.2 1120.6,579.9 1122.1,584.2 1123.6,589.3 1125.1,592.8 1126.6,592.9 1128.1,592.6 1129.6,593.1 1131.1,594.4 1132.6,595.7 1134.1,595.4 1135.6,593.1 1137.1,589.1 1138.6,583.4 1140.1,579.9 1141.6,578.6 1143.0,578.5 1144.5,579.7 1146.0,581.7 1147.5,585.6 1149.0,589.6 1150.5,591.5 1152.0,591.6 1153.5,591.5 1155.0,589.7 1156.5,585.3 1158.0,579.3 1159.5,574.0 1161.0,573.0 1162.5,575.7 1164.0,579.1 1165.5,582.7 1167.0,584.3 1168.5,585.9 1170.0,588.0 1171.5,589.4 1173.0,589.6 1174.4,589.1 1175.9,588.2 1177.4,588.2 1178.9,590.0 1180.4,592.0 1181.9,593.4 1183.4,594.5 1184.9,595.4 1186.4,595.3 1187.9,594.9 1189.4,594.4 1190.9,593.4 1192.4,590.7 1193.9,585.8 1195.4,580.3 1196.9,577.3 1198.4,574.9 1199.9,572.3 1201.4,570.8 1202.8,571.4 1204.3,574.7 1205.8,579.3 1207.3,583.9 1208.8,588.0 1210.3,590.9 1211.8,594.6 1213.3,596.8 1214.8,597.2 1216.3,598.3 1217.8,599.3 1219.3,599.1 1220.8,598.5 1222.3,597.3 1223.8,594.2 1225.3,590.8 1226.8,590.4 1228.3,592.9 1229.8,594.6 1231.3,594.0 1232.8,591.4 1234.2,589.0 1235.7,588.0 1237.2,590.4 1238.7,594.6 1240.2,597.6 1241.7,598.8 1243.2,598.6 1244.7,597.6 1246.2,596.3 1247.7,595.3 1249.2,594.0 1250.7,590.0 1252.2,582.6 1253.7,573.9 1255.2,565.9 1256.7,557.5 1258.2,546.9 1259.7,534.7 1261.2,521.1 1262.7,505.9 1264.1,490.5 1265.6,479.1 1267.1,476.0 1268.6,483.0 1270.1,497.2 1271.6,513.8 1273.1,529.7 1274.6,543.9 1276.1,556.3 1277.6,567.7 1279.1,576.5 1280.6,583.0 1282.1,587.5 1283.6,589.7 1285.1,590.9 1286.6,590.9 1288.1,586.5 1289.6,579.6 1291.1,572.1 1292.5,564.7 1294.0,557.4 1295.5,552.8 1297.0,554.2 1298.5,560.9 1300.0,567.9 1301.5,572.8 1303.0,576.2 1304.5,576.7 1306.0,576.8 1307.5,580.2 1309.0,585.0 1310.5,588.9 1312.0,591.1 1313.5,591.9 1315.0,591.7 1316.5,592.7 1318.0,593.2 1319.5,592.8 1321.0,592.9 1322.5,593.8 1323.9,594.9 1325.4,595.6 1326.9,597.6 1328.4,597.1 1329.9,594.1 1331.4,591.9 1332.9,590.0 1334.4,586.7 1335.9,583.7 1337.4,583.5 1338.9,585.4 1340.4,587.2 1341.9,588.6 1343.4,590.7 1344.9,593.7 1346.4,594.5 1347.9,594.3 1349.4,594.3 1350.9,594.2 1352.3,592.7 1353.8,589.9 1355.3,587.4 1356.8,584.7 1358.3,580.7 1359.8,576.9 1361.3,576.6 1362.8,578.4 1364.3,580.4 1365.8,584.4 1367.3,589.5 1368.8,592.2 1370.3,593.1 1371.8,593.3 1373.3,593.5 1374.8,592.6 1376.3,591.9 1377.8,592.3 1379.3,591.7 1380.8,588.1 1382.2,583.6 1383.7,577.0 1385.2,567.2 1386.7,556.4 1388.2,546.8 1389.7,539.2 1391.2,533.9 1392.7,531.4 1394.2,534.0 1395.7,541.9 1397.2,553.2 1398.7,565.6 1400.2,575.4 1401.7,582.2 1403.2,586.0 1404.7,588.2 1406.2,589.9 1407.7,590.7 1409.2,591.7 1410.7,591.9 1412.2,589.3 1413.6,585.7 1415.1,584.2 1416.6,585.4 1418.1,587.8 1419.6,590.1 1421.1,591.3 1422.6,591.7 1424.1,590.6 1425.6,588.8 1427.1,587.9 1428.6,588.2 1430.1,587.6 1431.6,585.4 1433.1,580.6 1434.6,575.6 1436.1,573.0 1437.6,570.9 1439.1,570.7 1440.6,573.4 1442.0,576.7 1443.5,581.0 1445.0,586.0 1446.5,591.1 1448.0,593.6 1449.5,593.8 1451.0,593.9 1452.5,591.4 1454.0,586.8 1455.5,584.8 1457.0,588.7 1458.5,593.2 1460.0,597.2 1461.5,601.0 1463.0,602.3 1464.5,602.0 1466.0,601.4 1467.5,601.3 1469.0,599.3 1470.5,595.5 1471.9,591.8 1473.4,588.7 1474.9,584.4 1476.4,578.0 1477.9,570.4 1479.4,562.7 1480.9,557.7 1482.4,555.2 1483.9,553.4 1485.4,554.2 1486.9,560.3 1488.4,569.1 1489.9,576.0 1491.4,580.1 1492.9,582.8 1494.4,584.1 1495.9,584.1 1497.4,582.8 1498.9,583.2 1500.4,585.1 1501.8,586.9 1503.3,585.9 1504.8,580.7 1506.3,573.2 1507.8,564.9 1509.3,555.7 1510.8,548.9 1512.3,547.5 1513.8,552.3 1515.3,559.4 1516.8,565.6 1518.3,568.4 1519.8,569.4 1521.3,570.2 1522.8,569.4 1524.3,565.4 1525.8,557.4 1527.3,547.0 1528.8,537.0 1530.3,529.9 1531.8,530.1 1533.2,537.6 1534.7,548.8 1536.2,560.4 1537.7,572.5 1539.2,582.8 1540.7,587.9 1542.2,588.2 1543.7,586.1 1545.2,582.1 1546.7,579.8 1548.2,581.4 1549.7,582.3 1551.2,582.4 1552.7,585.4 1554.2,591.8 1555.7,599.4 1557.2,606.3 1558.7,611.4 1560.2,613.1 1561.7,610.5 1563.1,603.9 1564.6,595.6 1566.1,590.7 1567.6,591.5 1569.1,594.5 1570.6,595.5 1572.1,594.1 1573.6,591.2 1575.1,589.2 1576.6,590.2 1578.1,592.3 1579.6,594.0 1581.1,593.7 1582.6,592.8 1584.1,592.0 1585.6,589.6 1587.1,584.2 1588.6,575.8 1590.1,563.2 1591.5,547.8 1593.0,534.2 1594.5,526.2 1596.0,526.8 1597.5,535.5 1599.0,548.4 1600.5,563.4 1602.0,577.2 1603.5,586.4 1605.0,591.0 1606.5,593.4 1608.0,593.4 1609.5,590.1 1611.0,584.3 1612.5,580.0 1614.0,579.0 1615.5,581.2 1617.0,585.8 1618.5,591.1 1620.0,595.2 1621.4,597.3 1622.9,598.8 1624.4,601.0 1625.9,601.5 1627.4,599.1 1628.9,596.4 1630.4,594.7 1631.9,592.7 1633.4,593.0 1634.9,596.1 1636.4,600.7" fill="none" stroke="#808000" stroke-width="3.2" stroke-linejoin="round" stroke-linecap="round"/>
<path d="M859.0,584.8 860.5,582.6 862.0,579.8 863.5,576.1 865.0,572.7 866.5,569.9 868.0,560.7 869.5,549.3 871.0,537.1 872.5,524.9 874.0,513.6 875.4,502.5 876.9,510.0 878.4,520.1 879.9,529.7 881.4,538.6 882.9,549.3 884.4,561.1 885.9,564.5 887.4,566.7 888.9,566.2 890.4,566.1 891.9,563.6 893.4,558.1 894.9,551.2 896.4,543.2 897.9,536.9 899.4,542.6 900.9,548.4 902.4,553.8 903.9,558.6 905.3,564.0 906.8,569.5 908.3,572.9 909.8,575.6 911.3,578.1 912.8,580.3 914.3,583.2 915.8,584.1 917.3,582.6 918.8,582.0 920.3,581.2 921.8,579.9 923.3,578.3 924.8,577.6 926.3,577.8 927.8,577.7 929.3,578.6 930.8,579.2 932.3,580.2 933.8,579.3 935.2,575.2 936.7,570.5 938.2,566.6 939.7,563.6 941.2,560.1 942.7,556.3 944.2,554.8 945.7,560.3 947.2,564.5 948.7,566.9 950.2,570.8 951.7,576.1 953.2,579.3 954.7,579.2 956.2,577.9 957.7,576.6 959.2,577.4 960.7,580.0 962.2,582.9 963.6,584.3 965.1,582.7 966.6,581.2 968.1,580.5 969.6,578.5 971.1,576.8 972.6,576.3 974.1,576.4 975.6,576.0 977.1,576.2 978.6,577.9 980.1,579.6 981.6,580.9 983.1,581.4 984.6,581.8 986.1,582.3 987.6,581.6 989.1,580.4 990.6,578.6 992.1,569.2 993.5,561.2 995.0,553.7 996.5,544.1 998.0,544.8 999.5,548.1 1001.0,551.3 1002.5,554.3 1004.0,557.2 1005.5,559.7 1007.0,562.9 1008.5,566.3 1010.0,568.7 1011.5,565.1 1013.0,561.6 1014.5,557.9 1016.0,553.8 1017.5,553.8 1019.0,557.2 1020.5,560.4 1022.0,563.1 1023.5,565.4 1024.9,567.6 1026.4,569.2 1027.9,570.7 1029.4,567.6 1030.9,564.3 1032.4,559.9 1033.9,555.1 1035.4,550.7 1036.9,545.8 1038.4,539.6 1039.9,538.3 1041.4,538.3 1042.9,539.3 1044.4,541.5 1045.9,542.3 1047.4,542.8 1048.9,544.6 1050.4,547.3 1051.9,548.0 1053.3,547.8 1054.8,548.5 1056.3,549.8 1057.8,550.5 1059.3,553.3 1060.8,558.5 1062.3,564.1 1063.8,570.5 1065.3,576.7 1066.8,575.0 1068.3,574.2 1069.8,573.6 1071.3,571.7 1072.8,569.7 1074.3,568.2 1075.8,566.7 1077.3,565.1 1078.8,563.1 1080.3,562.0 1081.8,562.0 1083.2,562.2 1084.7,565.0 1086.2,567.5 1087.7,569.4 1089.2,572.1 1090.7,576.5 1092.2,580.6 1093.7,581.9 1095.2,583.2 1096.7,582.3 1098.2,577.2 1099.7,570.1 1101.2,561.7 1102.7,554.5 1104.2,548.5 1105.7,541.4 1107.2,532.4 1108.7,524.6 1110.2,517.2 1111.7,512.9 1113.2,520.0 1114.6,527.1 1116.1,533.9 1117.6,539.7 1119.1,544.7 1120.6,549.0 1122.1,553.5 1123.6,557.9 1125.1,561.6 1126.6,565.6 1128.1,571.2 1129.6,577.0 1131.1,581.3 1132.6,585.4 1134.1,587.1 1135.6,583.8 1137.1,581.0 1138.6,579.6 1140.1,579.7 1141.6,578.9 1143.0,575.8 1144.5,571.9 1146.0,570.5 1147.5,569.7 1149.0,568.1 1150.5,566.1 1152.0,563.3 1153.5,561.6 1155.0,561.5 1156.5,562.7 1158.0,563.6 1159.5,563.7 1161.0,564.3 1162.5,566.1 1164.0,567.1 1165.5,565.8 1167.0,564.2 1168.5,564.8 1170.0,566.2 1171.5,567.5 1173.0,569.0 1174.4,572.1 1175.9,575.7 1177.4,577.2 1178.9,578.1 1180.4,580.7 1181.9,580.2 1183.4,579.0 1184.9,577.0 1186.4,574.2 1187.9,572.3 1189.4,572.2 1190.9,571.5 1192.4,568.8 1193.9,566.1 1195.4,565.7 1196.9,565.9 1198.4,567.7 1199.9,569.4 1201.4,571.1 1202.8,572.2 1204.3,575.1 1205.8,579.1 1207.3,581.3 1208.8,582.0 1210.3,581.8 1211.8,581.1 1213.3,581.3 1214.8,584.3 1216.3,586.6 1217.8,586.3 1219.3,586.9 1220.8,588.5 1222.3,588.9 1223.8,586.2 1225.3,583.7 1226.8,583.3 1228.3,584.8 1229.8,585.7 1231.3,584.2 1232.8,581.8 1234.2,579.2 1235.7,578.9 1237.2,579.2 1238.7,577.0 1240.2,573.3 1241.7,570.1 1243.2,567.0 1244.7,564.0 1246.2,561.5 1247.7,559.5 1249.2,558.4 1250.7,558.4 1252.2,551.2 1253.7,541.7 1255.2,530.8 1256.7,519.5 1258.2,509.3 1259.7,500.3 1261.2,493.6 1262.7,486.6 1264.1,478.9 1265.6,472.1 1267.1,466.6 1268.6,473.2 1270.1,480.5 1271.6,486.5 1273.1,491.3 1274.6,497.3 1276.1,507.0 1277.6,516.3 1279.1,525.9 1280.6,537.5 1282.1,547.8 1283.6,557.0 1285.1,560.5 1286.6,564.1 1288.1,566.6 1289.6,568.7 1291.1,572.1 1292.5,575.7 1294.0,578.5 1295.5,581.5 1297.0,586.1 1298.5,589.4 1300.0,588.8 1301.5,587.3 1303.0,585.4 1304.5,584.1 1306.0,584.2 1307.5,584.1 1309.0,583.1 1310.5,581.8 1312.0,581.4 1313.5,580.2 1315.0,577.2 1316.5,575.0 1318.0,574.2 1319.5,573.5 1321.0,573.1 1322.5,572.5 1323.9,570.6 1325.4,569.1 1326.9,568.3 1328.4,566.5 1329.9,565.2 1331.4,564.8 1332.9,564.9 1334.4,564.2 1335.9,562.2 1337.4,560.6 1338.9,561.1 1340.4,563.2 1341.9,566.7 1343.4,569.5 1344.9,571.1 1346.4,571.9 1347.9,573.4 1349.4,576.1 1350.9,579.7 1352.3,582.3 1353.8,584.4 1355.3,583.5 1356.8,581.9 1358.3,579.9 1359.8,577.5 1361.3,574.2 1362.8,569.3 1364.3,565.5 1365.8,563.7 1367.3,563.5 1368.8,564.5 1370.3,565.6 1371.8,564.5 1373.3,560.7 1374.8,552.4 1376.3,544.4 1377.8,535.9 1379.3,529.1 1380.8,527.5 1382.2,526.7 1383.7,523.9 1385.2,518.8 1386.7,513.5 1388.2,509.6 1389.7,507.3 1391.2,505.7 1392.7,508.0 1394.2,515.3 1395.7,524.4 1397.2,535.8 1398.7,547.4 1400.2,557.2 1401.7,562.9 1403.2,566.6 1404.7,571.3 1406.2,575.8 1407.7,579.2 1409.2,582.5 1410.7,583.0 1412.2,581.2 1413.6,578.7 1415.1,576.0 1416.6,573.5 1418.1,572.2 1419.6,572.0 1421.1,572.0 1422.6,570.8 1424.1,568.7 1425.6,567.0 1427.1,566.6 1428.6,565.8 1430.1,562.6 1431.6,558.9 1433.1,557.1 1434.6,556.8 1436.1,556.2 1437.6,555.0 1439.1,552.9 1440.6,549.8 1442.0,550.9 1443.5,553.0 1445.0,555.1 1446.5,556.3 1448.0,559.3 1449.5,563.6 1451.0,567.4 1452.5,571.2 1454.0,574.0 1455.5,577.7 1457.0,582.4 1458.5,584.6 1460.0,586.0 1461.5,588.4 1463.0,591.0 1464.5,593.8 1466.0,593.0 1467.5,590.3 1469.0,585.3 1470.5,580.7 1471.9,576.5 1473.4,571.5 1474.9,567.1 1476.4,563.9 1477.9,561.4 1479.4,559.4 1480.9,557.5 1482.4,555.2 1483.9,551.6 1485.4,552.8 1486.9,559.4 1488.4,564.8 1489.9,569.5 1491.4,575.4 1492.9,580.5 1494.4,578.4 1495.9,573.1 1497.4,569.8 1498.9,567.2 1500.4,563.5 1501.8,559.0 1503.3,555.8 1504.8,553.3 1506.3,548.8 1507.8,543.2 1509.3,538.4 1510.8,534.9 1512.3,536.9 1513.8,540.0 1515.3,542.8 1516.8,545.4 1518.3,548.0 1519.8,550.6 1521.3,545.2 1522.8,539.3 1524.3,533.4 1525.8,526.9 1527.3,519.6 1528.8,512.4 1530.3,506.1 1531.8,508.4 1533.2,517.7 1534.7,526.6 1536.2,536.7 1537.7,546.5 1539.2,555.5 1540.7,562.6 1542.2,570.1 1543.7,578.6 1545.2,585.9 1546.7,590.6 1548.2,585.3 1549.7,580.2 1551.2,574.5 1552.7,569.5 1554.2,565.0 1555.7,561.5 1557.2,561.7 1558.7,561.7 1560.2,561.3 1561.7,561.1 1563.1,562.8 1564.6,566.6 1566.1,572.4 1567.6,576.9 1569.1,579.8 1570.6,583.3 1572.1,587.8 1573.6,590.0 1575.1,587.8 1576.6,584.2 1578.1,581.1 1579.6,579.7 1581.1,578.8 1582.6,577.0 1584.1,574.1 1585.6,569.2 1587.1,562.2 1588.6,555.8 1590.1,550.9 1591.5,546.6 1593.0,541.8 1594.5,536.6 1596.0,538.8 1597.5,544.2 1599.0,549.5 1600.5,554.6 1602.0,561.0 1603.5,567.4 1605.0,568.5 1606.5,568.7 1608.0,569.5 1609.5,570.9 1611.0,571.1 1612.5,570.5 1614.0,569.9 1615.5,571.3 1617.0,572.6 1618.5,570.7 1620.0,569.2 1621.4,569.0 1622.9,569.2 1624.4,567.8 1625.9,566.0 1627.4,565.6 1628.9,568.4 1630.4,572.4 1631.9,576.1 1633.4,580.1 1634.9,584.2 1636.4,584.8" fill="none" stroke="#2a9a9a" stroke-width="3.2" stroke-linejoin="round" stroke-linecap="round"/>
<path d="M1642.7,902.5 1644.2,900.6 1645.7,898.9 1647.2,897.7 1648.8,897.4 1650.3,897.6 1651.8,897.3 1653.3,896.1 1654.8,892.7 1656.3,887.5 1657.8,879.9 1659.4,869.7 1660.9,859.3 1662.4,851.4 1663.9,848.5 1665.4,852.9 1666.9,861.9 1668.4,872.0 1669.9,880.7 1671.5,887.7 1673.0,892.6 1674.5,895.8 1676.0,897.3 1677.5,896.2 1679.0,893.8 1680.5,890.9 1682.1,888.3 1683.6,887.2 1685.1,888.9 1686.6,893.4 1688.1,897.7 1689.6,899.3 1691.1,900.2 1692.7,901.3 1694.2,900.7 1695.7,899.3 1697.2,898.7 1698.7,899.8 1700.2,902.1 1701.7,903.6 1703.2,902.2 1704.8,900.2 1706.3,899.4 1707.8,898.0 1709.3,896.3 1710.8,895.6 1712.3,894.7 1713.8,892.5 1715.4,890.0 1716.9,888.0 1718.4,888.7 1719.9,890.7 1721.4,889.4 1722.9,885.5 1724.4,883.5 1726.0,884.0 1727.5,886.8 1729.0,890.0 1730.5,893.6 1732.0,897.5 1733.5,900.5 1735.0,900.9 1736.6,899.8 1738.1,899.5 1739.6,901.0 1741.1,902.8 1742.6,904.8 1744.1,905.9 1745.6,905.3 1747.1,904.2 1748.7,903.6 1750.2,902.3 1751.7,899.4 1753.2,896.7 1754.7,894.2 1756.2,892.7 1757.7,893.2 1759.3,894.5 1760.8,896.1 1762.3,896.4 1763.8,895.8 1765.3,895.3 1766.8,894.6 1768.3,892.9 1769.9,892.2 1771.4,893.1 1772.9,895.1 1774.4,895.7 1775.9,894.4 1777.4,892.5 1778.9,890.3 1780.5,886.9 1782.0,882.0 1783.5,879.8 1785.0,881.7 1786.5,883.7 1788.0,885.4 1789.5,887.5 1791.0,889.8 1792.6,892.4 1794.1,895.3 1795.6,897.9 1797.1,897.3 1798.6,894.5 1800.1,892.6 1801.6,891.4 1803.2,889.7 1804.7,889.2 1806.2,889.5 1807.7,890.7 1809.2,893.6 1810.7,898.0 1812.2,901.4 1813.8,902.2 1815.3,901.2 1816.8,899.5 1818.3,897.2 1819.8,895.1 1821.3,893.0 1822.8,891.3 1824.4,889.2 1825.9,888.8 1827.4,890.6 1828.9,892.6 1830.4,893.8 1831.9,896.2 1833.4,898.6 1834.9,899.5 1836.5,899.9 1838.0,900.7 1839.5,901.8 1841.0,902.4 1842.5,900.6 1844.0,897.9 1845.5,897.4 1847.1,899.9 1848.6,902.4 1850.1,903.0 1851.6,902.2 1853.1,900.5 1854.6,899.5 1856.1,899.3 1857.7,898.4 1859.2,896.2 1860.7,894.4 1862.2,894.7 1863.7,896.1 1865.2,898.2 1866.7,899.1 1868.2,899.9 1869.8,901.4 1871.3,902.6 1872.8,900.9 1874.3,897.6 1875.8,894.7 1877.3,893.8 1878.8,894.0 1880.4,892.8 1881.9,892.7 1883.4,893.4 1884.9,893.0 1886.4,892.0 1887.9,891.6 1889.4,890.8 1891.0,888.1 1892.5,884.7 1894.0,881.8 1895.5,880.1 1897.0,880.3 1898.5,882.5 1900.0,885.7 1901.6,887.2 1903.1,887.9 1904.6,888.8 1906.1,889.5 1907.6,889.7 1909.1,889.4 1910.6,889.9 1912.1,890.2 1913.7,891.4 1915.2,894.5 1916.7,897.0 1918.2,898.4 1919.7,900.8 1921.2,902.6 1922.7,901.5 1924.3,898.7 1925.8,896.0 1927.3,892.6 1928.8,887.0 1930.3,882.0 1931.8,880.7 1933.3,882.5 1934.9,885.7 1936.4,887.3 1937.9,888.5 1939.4,891.1 1940.9,894.3 1942.4,896.6 1943.9,898.9 1945.5,901.4 1947.0,903.5 1948.5,904.4 1950.0,904.9 1951.5,904.9 1953.0,904.1 1954.5,903.8 1956.0,905.6 1957.6,905.4 1959.1,903.3 1960.6,900.8 1962.1,900.2 1963.6,901.4 1965.1,903.0 1966.6,904.3 1968.2,904.3 1969.7,903.3 1971.2,903.6 1972.7,904.3 1974.2,903.8 1975.7,901.9 1977.2,900.0 1978.8,897.9 1980.3,896.0 1981.8,895.8 1983.3,897.0 1984.8,897.2 1986.3,897.1 1987.8,898.1 1989.3,900.6 1990.9,901.8 1992.4,901.2 1993.9,900.7 1995.4,901.2 1996.9,902.7 1998.4,902.3 1999.9,901.1 2001.5,901.4 2003.0,901.5 2004.5,901.1 2006.0,900.5 2007.5,900.1 2009.0,900.6 2010.5,901.7 2012.1,901.7 2013.6,902.1 2015.1,902.8 2016.6,901.1 2018.1,898.6 2019.6,897.8 2021.1,898.9 2022.7,899.9 2024.2,900.1 2025.7,898.8 2027.2,896.1 2028.7,894.3 2030.2,893.5 2031.7,893.8 2033.2,894.8 2034.8,897.2 2036.3,901.0 2037.8,902.3 2039.3,903.2 2040.8,903.9 2042.3,902.5 2043.8,898.1 2045.4,893.3 2046.9,892.6 2048.4,893.5 2049.9,892.2 2051.4,889.8 2052.9,889.1 2054.4,890.0 2056.0,889.4 2057.5,888.2 2059.0,888.7 2060.5,890.1 2062.0,891.7 2063.5,894.1 2065.0,897.0 2066.6,899.3 2068.1,900.3 2069.6,900.3 2071.1,900.3 2072.6,900.8 2074.1,900.9 2075.6,901.5 2077.1,902.2 2078.7,900.7 2080.2,897.9 2081.7,893.7 2083.2,889.5 2084.7,887.8 2086.2,888.6 2087.7,891.0 2089.3,893.9 2090.8,895.7 2092.3,897.4 2093.8,900.0 2095.3,902.4 2096.8,903.7 2098.3,903.0 2099.9,901.0 2101.4,900.3 2102.9,900.6 2104.4,901.0 2105.9,901.2 2107.4,901.7 2108.9,901.9 2110.4,902.4 2112.0,902.5 2113.5,901.4 2115.0,899.1 2116.5,895.6 2118.0,892.5 2119.5,891.6 2121.0,893.3 2122.6,895.7 2124.1,895.6 2125.6,894.2 2127.1,894.9 2128.6,898.1 2130.1,899.9 2131.6,900.5 2133.2,901.8 2134.7,902.5 2136.2,902.3 2137.7,901.2 2139.2,899.3 2140.7,896.5 2142.2,893.7 2143.8,892.5 2145.3,892.7 2146.8,894.1 2148.3,894.7 2149.8,896.6 2151.3,900.5 2152.8,903.7 2154.3,904.9 2155.9,903.4 2157.4,900.7 2158.9,899.4 2160.4,898.4 2161.9,895.8 2163.4,892.0 2164.9,889.2 2166.5,885.9 2168.0,883.8 2169.5,884.9 2171.0,888.1 2172.5,891.0 2174.0,892.9 2175.5,892.7 2177.1,890.0 2178.6,886.2 2180.1,883.2 2181.6,881.9 2183.1,881.3 2184.6,882.8 2186.1,885.5 2187.7,887.8 2189.2,890.1 2190.7,891.5 2192.2,891.7 2193.7,892.8 2195.2,894.2 2196.7,892.8 2198.2,890.1 2199.8,891.6 2201.3,896.2 2202.8,898.4 2204.3,898.2 2205.8,899.2 2207.3,900.7 2208.8,901.4 2210.4,901.6 2211.9,901.2 2213.4,899.9 2214.9,898.4 2216.4,898.5 2217.9,897.5 2219.4,894.7 2221.0,893.0 2222.5,891.6 2224.0,889.6 2225.5,887.7 2227.0,887.2 2228.5,889.4 2230.0,893.4 2231.5,897.2 2233.1,899.8 2234.6,901.4 2236.1,901.3 2237.6,900.1 2239.1,899.5 2240.6,900.1 2242.1,900.1 2243.7,898.3 2245.2,896.2 2246.7,895.3 2248.2,895.9 2249.7,897.3 2251.2,898.1 2252.7,899.5 2254.3,901.1 2255.8,902.1 2257.3,901.8 2258.8,899.9 2260.3,899.5 2261.8,901.5 2263.3,902.6 2264.9,901.4 2266.4,898.9 2267.9,895.6 2269.4,891.3 2270.9,887.2 2272.4,885.4 2273.9,886.2 2275.4,888.4 2277.0,890.6 2278.5,891.4 2280.0,893.6 2281.5,895.9 2283.0,895.1 2284.5,892.9 2286.0,891.2 2287.6,891.6 2289.1,893.8 2290.6,895.3 2292.1,895.4 2293.6,894.6 2295.1,893.3 2296.6,890.4 2298.2,886.6 2299.7,883.7 2301.2,881.8 2302.7,880.5 2304.2,879.9 2305.7,881.6 2307.2,883.6 2308.8,883.8 2310.3,885.6 2311.8,889.1 2313.3,890.3 2314.8,888.2 2316.3,884.1 2317.8,878.7 2319.3,873.5 2320.9,869.7 2322.4,868.3 2323.9,870.3 2325.4,876.5 2326.9,885.1 2328.4,893.7 2329.9,901.0 2331.5,907.1 2333.0,912.9 2334.5,919.1 2336.0,922.6 2337.5,920.5 2339.0,915.9 2340.5,911.8 2342.1,909.3 2343.6,908.6 2345.1,908.9 2346.6,909.7 2348.1,910.4 2349.6,910.6 2351.1,910.7 2352.6,912.0 2354.2,912.6 2355.7,912.8 2357.2,914.3 2358.7,917.0 2360.2,920.1 2361.7,924.7 2363.2,930.2 2364.8,934.6 2366.3,934.3 2367.8,928.6 2369.3,920.6 2370.8,913.3 2372.3,907.6 2373.8,905.0 2375.4,903.2 2376.9,899.9 2378.4,894.8 2379.9,888.9 2381.4,882.5 2382.9,876.8 2384.4,874.3 2386.0,876.0 2387.5,880.8 2389.0,886.1 2390.5,890.8 2392.0,893.6 2393.5,896.6 2395.0,900.2 2396.5,901.8 2398.1,900.6 2399.6,899.6 2401.1,900.5 2402.6,900.6 2404.1,899.3 2405.6,898.6 2407.1,899.6 2408.7,900.6 2410.2,901.0 2411.7,901.8 2413.2,903.2 2414.7,903.0 2416.2,902.4 2417.7,903.6 2419.3,905.3 2420.8,906.8 2422.3,906.1 2423.8,904.0 2425.3,902.9 2426.8,902.3 2428.3,902.8 2429.9,903.1" fill="none" stroke="#800000" stroke-width="3.2" stroke-linejoin="round" stroke-linecap="round"/>
<path d="M1642.7,881.3 1644.2,880.3 1645.7,879.9 1647.2,880.9 1648.8,882.6 1650.3,881.9 1651.8,880.0 1653.3,877.8 1654.8,873.9 1656.3,868.2 1657.8,860.3 1659.4,850.6 1660.9,839.6 1662.4,832.4 1663.9,833.5 1665.4,841.2 1666.9,851.4 1668.4,862.9 1669.9,872.7 1671.5,878.6 1673.0,880.6 1674.5,881.5 1676.0,880.8 1677.5,878.3 1679.0,874.3 1680.5,869.6 1682.1,864.9 1683.6,861.3 1685.1,860.9 1686.6,864.2 1688.1,868.5 1689.6,872.6 1691.1,876.0 1692.7,878.9 1694.2,881.7 1695.7,882.9 1697.2,883.6 1698.7,884.1 1700.2,883.7 1701.7,882.2 1703.2,881.0 1704.8,880.2 1706.3,880.6 1707.8,881.9 1709.3,883.2 1710.8,884.1 1712.3,886.1 1713.8,887.8 1715.4,887.1 1716.9,884.3 1718.4,881.4 1719.9,878.1 1721.4,874.4 1722.9,869.7 1724.4,865.5 1726.0,863.8 1727.5,864.9 1729.0,868.5 1730.5,873.5 1732.0,877.8 1733.5,879.9 1735.0,880.2 1736.6,881.4 1738.1,883.1 1739.6,883.6 1741.1,884.2 1742.6,884.6 1744.1,883.5 1745.6,882.6 1747.1,883.6 1748.7,884.4 1750.2,885.3 1751.7,885.5 1753.2,883.1 1754.7,880.2 1756.2,877.8 1757.7,876.8 1759.3,877.4 1760.8,878.2 1762.3,879.3 1763.8,879.9 1765.3,880.9 1766.8,882.9 1768.3,883.7 1769.9,883.3 1771.4,883.4 1772.9,884.0 1774.4,883.9 1775.9,882.3 1777.4,877.8 1778.9,870.0 1780.5,864.1 1782.0,861.9 1783.5,862.9 1785.0,866.7 1786.5,871.8 1788.0,876.9 1789.5,881.4 1791.0,884.7 1792.6,886.7 1794.1,887.8 1795.6,888.2 1797.1,888.3 1798.6,887.2 1800.1,884.4 1801.6,881.5 1803.2,878.8 1804.7,875.3 1806.2,871.8 1807.7,872.3 1809.2,874.9 1810.7,876.7 1812.2,876.5 1813.8,875.0 1815.3,874.3 1816.8,875.0 1818.3,876.8 1819.8,876.8 1821.3,874.5 1822.8,872.5 1824.4,869.6 1825.9,866.2 1827.4,864.7 1828.9,866.5 1830.4,869.4 1831.9,871.1 1833.4,873.3 1834.9,876.3 1836.5,878.3 1838.0,878.7 1839.5,878.4 1841.0,878.6 1842.5,880.2 1844.0,882.5 1845.5,884.9 1847.1,885.9 1848.6,883.9 1850.1,882.0 1851.6,882.0 1853.1,882.0 1854.6,882.5 1856.1,882.1 1857.7,879.8 1859.2,877.3 1860.7,875.6 1862.2,875.2 1863.7,876.2 1865.2,878.4 1866.7,878.9 1868.2,878.6 1869.8,879.7 1871.3,882.5 1872.8,883.4 1874.3,882.1 1875.8,881.2 1877.3,881.8 1878.8,884.1 1880.4,886.9 1881.9,887.1 1883.4,885.8 1884.9,885.0 1886.4,885.4 1887.9,887.0 1889.4,887.4 1891.0,885.1 1892.5,879.3 1894.0,872.0 1895.5,867.5 1897.0,867.5 1898.5,870.0 1900.0,874.1 1901.6,879.5 1903.1,884.8 1904.6,887.7 1906.1,887.6 1907.6,886.1 1909.1,884.3 1910.6,883.3 1912.1,883.3 1913.7,884.4 1915.2,886.3 1916.7,887.5 1918.2,888.7 1919.7,888.5 1921.2,886.8 1922.7,885.3 1924.3,885.3 1925.8,884.3 1927.3,881.0 1928.8,878.2 1930.3,876.4 1931.8,875.0 1933.3,874.0 1934.9,873.1 1936.4,872.5 1937.9,871.6 1939.4,871.6 1940.9,872.8 1942.4,875.6 1943.9,880.0 1945.5,883.5 1947.0,886.2 1948.5,887.9 1950.0,889.5 1951.5,889.5 1953.0,887.7 1954.5,886.4 1956.0,886.4 1957.6,885.5 1959.1,883.0 1960.6,880.5 1962.1,879.0 1963.6,878.5 1965.1,878.8 1966.6,880.3 1968.2,881.3 1969.7,880.5 1971.2,879.7 1972.7,879.7 1974.2,878.1 1975.7,875.4 1977.2,871.7 1978.8,868.7 1980.3,869.0 1981.8,871.6 1983.3,872.9 1984.8,872.4 1986.3,873.8 1987.8,877.0 1989.3,879.0 1990.9,880.4 1992.4,881.4 1993.9,881.8 1995.4,882.3 1996.9,883.2 1998.4,883.2 1999.9,883.3 2001.5,884.0 2003.0,884.3 2004.5,886.7 2006.0,889.4 2007.5,889.0 2009.0,887.3 2010.5,885.6 2012.1,884.6 2013.6,883.9 2015.1,884.1 2016.6,885.3 2018.1,886.2 2019.6,885.6 2021.1,885.0 2022.7,884.4 2024.2,885.0 2025.7,885.8 2027.2,885.7 2028.7,884.8 2030.2,885.1 2031.7,886.3 2033.2,886.2 2034.8,884.7 2036.3,883.8 2037.8,884.2 2039.3,885.1 2040.8,885.1 2042.3,884.5 2043.8,884.5 2045.4,884.9 2046.9,884.8 2048.4,885.0 2049.9,883.5 2051.4,880.1 2052.9,876.1 2054.4,874.2 2056.0,874.0 2057.5,874.8 2059.0,876.8 2060.5,879.7 2062.0,881.7 2063.5,882.4 2065.0,883.3 2066.6,885.2 2068.1,885.8 2069.6,885.2 2071.1,884.2 2072.6,883.9 2074.1,883.7 2075.6,883.0 2077.1,881.8 2078.7,881.2 2080.2,880.6 2081.7,878.8 2083.2,878.8 2084.7,880.0 2086.2,879.8 2087.7,878.9 2089.3,878.9 2090.8,879.5 2092.3,879.4 2093.8,880.0 2095.3,881.8 2096.8,884.3 2098.3,886.1 2099.9,886.1 2101.4,886.1 2102.9,886.3 2104.4,886.6 2105.9,887.6 2107.4,887.3 2108.9,885.9 2110.4,884.7 2112.0,884.3 2113.5,884.2 2115.0,884.4 2116.5,885.1 2118.0,885.8 2119.5,884.8 2121.0,884.1 2122.6,885.2 2124.1,885.4 2125.6,885.9 2127.1,886.7 2128.6,885.1 2130.1,882.9 2131.6,883.3 2133.2,885.1 2134.7,886.3 2136.2,886.8 2137.7,885.1 2139.2,881.3 2140.7,877.7 2142.2,874.4 2143.8,870.9 2145.3,869.2 2146.8,870.4 2148.3,872.0 2149.8,873.5 2151.3,876.1 2152.8,878.8 2154.3,880.7 2155.9,882.3 2157.4,882.9 2158.9,881.5 2160.4,879.8 2161.9,877.7 2163.4,874.9 2164.9,873.7 2166.5,873.3 2168.0,873.0 2169.5,874.6 2171.0,877.3 2172.5,878.2 2174.0,876.9 2175.5,874.2 2177.1,871.0 2178.6,869.0 2180.1,869.7 2181.6,872.5 2183.1,874.2 2184.6,875.5 2186.1,877.6 2187.7,878.9 2189.2,879.4 2190.7,880.8 2192.2,882.2 2193.7,882.0 2195.2,883.1 2196.7,885.4 2198.2,885.8 2199.8,884.7 2201.3,884.2 2202.8,883.9 2204.3,883.4 2205.8,881.6 2207.3,879.8 2208.8,879.5 2210.4,879.6 2211.9,880.7 2213.4,882.9 2214.9,883.6 2216.4,882.8 2217.9,879.9 2219.4,876.2 2221.0,874.5 2222.5,874.3 2224.0,875.2 2225.5,876.0 2227.0,875.8 2228.5,875.9 2230.0,877.3 2231.5,879.9 2233.1,881.6 2234.6,883.0 2236.1,886.2 2237.6,888.6 2239.1,888.5 2240.6,886.1 2242.1,884.9 2243.7,884.2 2245.2,883.4 2246.7,883.5 2248.2,884.9 2249.7,887.3 2251.2,889.0 2252.7,888.8 2254.3,886.7 2255.8,885.1 2257.3,885.3 2258.8,885.3 2260.3,884.9 2261.8,883.3 2263.3,880.8 2264.9,877.9 2266.4,874.8 2267.9,872.0 2269.4,868.9 2270.9,865.0 2272.4,862.0 2273.9,860.7 2275.4,862.8 2277.0,866.5 2278.5,870.6 2280.0,876.3 2281.5,881.8 2283.0,883.2 2284.5,882.6 2286.0,883.0 2287.6,883.1 2289.1,881.5 2290.6,881.6 2292.1,881.9 2293.6,880.4 2295.1,877.4 2296.6,873.2 2298.2,868.7 2299.7,863.3 2301.2,858.1 2302.7,855.8 2304.2,858.2 2305.7,863.2 2307.2,868.1 2308.8,872.4 2310.3,875.8 2311.8,877.0 2313.3,876.2 2314.8,874.6 2316.3,873.3 2317.8,871.1 2319.3,867.4 2320.9,864.4 2322.4,862.8 2323.9,860.5 2325.4,859.2 2326.9,862.5 2328.4,869.0 2329.9,876.9 2331.5,886.3 2333.0,895.8 2334.5,903.9 2336.0,907.8 2337.5,906.5 2339.0,901.4 2340.5,897.3 2342.1,894.5 2343.6,890.4 2345.1,886.6 2346.6,885.4 2348.1,884.3 2349.6,882.1 2351.1,880.6 2352.6,880.9 2354.2,882.6 2355.7,885.0 2357.2,887.1 2358.7,888.9 2360.2,890.7 2361.7,894.2 2363.2,901.9 2364.8,909.6 2366.3,911.7 2367.8,908.4 2369.3,901.9 2370.8,896.3 2372.3,893.3 2373.8,891.7 2375.4,889.9 2376.9,887.3 2378.4,883.4 2379.9,878.6 2381.4,874.7 2382.9,870.8 2384.4,866.9 2386.0,865.6 2387.5,866.7 2389.0,868.3 2390.5,867.5 2392.0,865.7 2393.5,864.3 2395.0,863.9 2396.5,865.7 2398.1,868.8 2399.6,871.9 2401.1,876.7 2402.6,881.0 2404.1,883.5 2405.6,886.1 2407.1,888.6 2408.7,889.5 2410.2,888.2 2411.7,885.9 2413.2,885.2 2414.7,885.0 2416.2,884.0 2417.7,883.4 2419.3,883.7 2420.8,885.1 2422.3,885.9 2423.8,885.3 2425.3,885.3 2426.8,884.5 2428.3,883.0 2429.9,883.7" fill="none" stroke="#2a9a9a" stroke-width="3.2" stroke-linejoin="round" stroke-linecap="round"/>
<path d="M1642.7,867.3 1644.2,867.2 1645.7,867.5 1647.2,867.2 1648.8,866.2 1650.3,865.0 1651.8,864.7 1653.3,864.6 1654.8,860.2 1656.3,851.6 1657.8,840.8 1659.4,826.5 1660.9,810.4 1662.4,800.4 1663.9,801.3 1665.4,812.2 1666.9,825.7 1668.4,837.8 1669.9,846.6 1671.5,851.4 1673.0,852.6 1674.5,852.3 1676.0,849.2 1677.5,844.5 1679.0,842.2 1680.5,841.1 1682.1,838.7 1683.6,835.4 1685.1,833.0 1686.6,835.9 1688.1,843.9 1689.6,852.0 1691.1,856.8 1692.7,858.7 1694.2,860.2 1695.7,861.6 1697.2,861.4 1698.7,859.1 1700.2,857.6 1701.7,858.2 1703.2,859.8 1704.8,861.3 1706.3,864.1 1707.8,866.8 1709.3,868.3 1710.8,868.1 1712.3,866.4 1713.8,864.1 1715.4,862.2 1716.9,860.0 1718.4,857.4 1719.9,854.6 1721.4,852.0 1722.9,849.9 1724.4,847.6 1726.0,846.6 1727.5,847.2 1729.0,848.5 1730.5,850.3 1732.0,852.7 1733.5,854.6 1735.0,856.6 1736.6,859.2 1738.1,861.8 1739.6,862.4 1741.1,861.5 1742.6,861.8 1744.1,863.2 1745.6,863.2 1747.1,862.1 1748.7,860.6 1750.2,860.0 1751.7,860.2 1753.2,860.1 1754.7,856.9 1756.2,851.9 1757.7,848.5 1759.3,847.5 1760.8,849.2 1762.3,853.6 1763.8,857.7 1765.3,860.6 1766.8,863.3 1768.3,865.3 1769.9,866.2 1771.4,866.2 1772.9,865.3 1774.4,863.0 1775.9,858.8 1777.4,852.5 1778.9,843.9 1780.5,835.8 1782.0,830.3 1783.5,829.4 1785.0,832.9 1786.5,838.4 1788.0,844.8 1789.5,851.4 1791.0,855.9 1792.6,858.8 1794.1,861.1 1795.6,862.5 1797.1,862.3 1798.6,861.5 1800.1,860.4 1801.6,859.2 1803.2,855.9 1804.7,852.1 1806.2,849.5 1807.7,849.6 1809.2,852.8 1810.7,856.4 1812.2,859.8 1813.8,862.6 1815.3,863.5 1816.8,862.5 1818.3,861.0 1819.8,858.1 1821.3,853.1 1822.8,846.5 1824.4,839.8 1825.9,834.5 1827.4,832.9 1828.9,834.0 1830.4,836.5 1831.9,839.7 1833.4,842.7 1834.9,845.8 1836.5,850.2 1838.0,855.0 1839.5,858.9 1841.0,859.6 1842.5,860.3 1844.0,862.2 1845.5,864.3 1847.1,864.7 1848.6,863.1 1850.1,863.1 1851.6,866.0 1853.1,868.3 1854.6,868.6 1856.1,868.2 1857.7,868.0 1859.2,869.0 1860.7,868.7 1862.2,865.6 1863.7,863.5 1865.2,863.0 1866.7,863.1 1868.2,863.5 1869.8,862.6 1871.3,861.9 1872.8,862.2 1874.3,861.6 1875.8,858.4 1877.3,855.2 1878.8,855.5 1880.4,858.1 1881.9,860.1 1883.4,862.5 1884.9,865.3 1886.4,867.5 1887.9,867.0 1889.4,864.1 1891.0,862.7 1892.5,859.5 1894.0,854.0 1895.5,848.9 1897.0,847.2 1898.5,850.3 1900.0,855.5 1901.6,860.3 1903.1,862.4 1904.6,862.6 1906.1,862.8 1907.6,862.8 1909.1,861.7 1910.6,863.0 1912.1,866.8 1913.7,868.5 1915.2,867.5 1916.7,866.3 1918.2,865.7 1919.7,865.1 1921.2,864.1 1922.7,862.2 1924.3,860.3 1925.8,858.0 1927.3,855.4 1928.8,852.0 1930.3,848.8 1931.8,847.3 1933.3,846.2 1934.9,846.0 1936.4,847.8 1937.9,850.7 1939.4,854.3 1940.9,858.2 1942.4,861.7 1943.9,864.5 1945.5,866.7 1947.0,866.0 1948.5,862.3 1950.0,858.8 1951.5,858.4 1953.0,861.4 1954.5,864.2 1956.0,865.3 1957.6,866.4 1959.1,868.0 1960.6,869.6 1962.1,869.5 1963.6,867.3 1965.1,865.3 1966.6,865.3 1968.2,866.1 1969.7,866.6 1971.2,864.9 1972.7,862.8 1974.2,861.0 1975.7,858.9 1977.2,857.6 1978.8,858.2 1980.3,859.7 1981.8,861.1 1983.3,862.1 1984.8,861.2 1986.3,859.9 1987.8,860.3 1989.3,861.1 1990.9,863.3 1992.4,865.6 1993.9,865.5 1995.4,863.8 1996.9,863.6 1998.4,865.3 1999.9,866.5 2001.5,866.2 2003.0,865.9 2004.5,864.6 2006.0,862.3 2007.5,859.9 2009.0,856.4 2010.5,851.9 2012.1,851.2 2013.6,854.7 2015.1,857.4 2016.6,857.6 2018.1,856.7 2019.6,856.4 2021.1,856.5 2022.7,857.3 2024.2,860.3 2025.7,863.3 2027.2,864.9 2028.7,866.2 2030.2,867.6 2031.7,868.1 2033.2,868.3 2034.8,868.8 2036.3,869.8 2037.8,870.8 2039.3,871.4 2040.8,871.0 2042.3,870.6 2043.8,871.2 2045.4,870.7 2046.9,867.1 2048.4,862.2 2049.9,859.1 2051.4,855.9 2052.9,852.1 2054.4,849.0 2056.0,847.3 2057.5,847.4 2059.0,849.3 2060.5,851.8 2062.0,854.0 2063.5,856.6 2065.0,859.4 2066.6,862.0 2068.1,863.1 2069.6,862.4 2071.1,861.6 2072.6,860.9 2074.1,860.5 2075.6,860.4 2077.1,860.2 2078.7,858.9 2080.2,857.4 2081.7,854.9 2083.2,852.3 2084.7,852.5 2086.2,854.2 2087.7,855.3 2089.3,857.1 2090.8,859.8 2092.3,861.2 2093.8,861.6 2095.3,861.5 2096.8,863.5 2098.3,865.5 2099.9,866.9 2101.4,867.4 2102.9,866.0 2104.4,863.3 2105.9,862.0 2107.4,864.1 2108.9,865.6 2110.4,864.8 2112.0,864.2 2113.5,865.5 2115.0,867.6 2116.5,869.2 2118.0,869.7 2119.5,868.2 2121.0,867.7 2122.6,869.3 2124.1,869.9 2125.6,868.7 2127.1,866.7 2128.6,864.9 2130.1,863.3 2131.6,862.3 2133.2,862.2 2134.7,863.9 2136.2,864.8 2137.7,863.1 2139.2,858.8 2140.7,854.4 2142.2,852.6 2143.8,854.2 2145.3,857.9 2146.8,860.2 2148.3,858.9 2149.8,858.3 2151.3,858.4 2152.8,858.4 2154.3,859.3 2155.9,861.2 2157.4,863.2 2158.9,864.6 2160.4,864.2 2161.9,863.2 2163.4,863.0 2164.9,861.7 2166.5,860.1 2168.0,860.5 2169.5,861.4 2171.0,861.1 2172.5,860.3 2174.0,858.1 2175.5,853.8 2177.1,848.4 2178.6,842.7 2180.1,840.0 2181.6,840.4 2183.1,843.3 2184.6,846.8 2186.1,850.3 2187.7,851.7 2189.2,851.4 2190.7,851.7 2192.2,853.6 2193.7,856.5 2195.2,858.2 2196.7,860.1 2198.2,862.5 2199.8,865.0 2201.3,867.6 2202.8,868.6 2204.3,868.0 2205.8,868.2 2207.3,869.5 2208.8,870.0 2210.4,868.4 2211.9,865.7 2213.4,863.3 2214.9,861.3 2216.4,859.2 2217.9,856.2 2219.4,854.0 2221.0,851.7 2222.5,847.8 2224.0,844.6 2225.5,845.1 2227.0,847.5 2228.5,850.9 2230.0,853.5 2231.5,852.3 2233.1,848.8 2234.6,847.2 2236.1,848.1 2237.6,848.4 2239.1,848.6 2240.6,850.8 2242.1,854.5 2243.7,858.3 2245.2,860.2 2246.7,860.9 2248.2,861.0 2249.7,859.8 2251.2,857.7 2252.7,858.2 2254.3,861.1 2255.8,863.1 2257.3,864.6 2258.8,865.2 2260.3,863.9 2261.8,861.6 2263.3,859.3 2264.9,857.3 2266.4,853.3 2267.9,848.3 2269.4,844.5 2270.9,844.5 2272.4,845.6 2273.9,847.3 2275.4,850.3 2277.0,853.0 2278.5,856.9 2280.0,861.5 2281.5,864.4 2283.0,863.4 2284.5,863.0 2286.0,865.1 2287.6,867.0 2289.1,867.5 2290.6,866.6 2292.1,865.9 2293.6,864.8 2295.1,862.1 2296.6,859.6 2298.2,856.3 2299.7,851.4 2301.2,848.6 2302.7,848.9 2304.2,850.2 2305.7,852.5 2307.2,857.3 2308.8,861.6 2310.3,862.7 2311.8,862.2 2313.3,860.1 2314.8,857.2 2316.3,853.9 2317.8,848.6 2319.3,841.3 2320.9,834.8 2322.4,832.4 2323.9,835.5 2325.4,842.2 2326.9,850.7 2328.4,860.5 2329.9,870.9 2331.5,880.8 2333.0,891.8 2334.5,902.4 2336.0,907.1 2337.5,902.7 2339.0,894.3 2340.5,886.3 2342.1,880.2 2343.6,877.0 2345.1,875.9 2346.6,874.5 2348.1,874.1 2349.6,873.1 2351.1,871.4 2352.6,871.8 2354.2,873.6 2355.7,875.9 2357.2,877.1 2358.7,878.0 2360.2,881.1 2361.7,888.7 2363.2,899.9 2364.8,910.6 2366.3,916.0 2367.8,912.2 2369.3,902.7 2370.8,892.2 2372.3,882.8 2373.8,876.0 2375.4,870.9 2376.9,866.6 2378.4,861.3 2379.9,853.8 2381.4,843.5 2382.9,832.4 2384.4,826.4 2386.0,828.7 2387.5,835.8 2389.0,843.9 2390.5,852.1 2392.0,857.8 2393.5,861.4 2395.0,863.0 2396.5,862.9 2398.1,863.1 2399.6,864.1 2401.1,865.0 2402.6,865.6 2404.1,865.1 2405.6,863.6 2407.1,863.9 2408.7,864.0 2410.2,861.5 2411.7,857.9 2413.2,853.1 2414.7,849.5 2416.2,850.8 2417.7,854.6 2419.3,857.9 2420.8,861.9 2422.3,865.8 2423.8,867.6 2425.3,868.0 2426.8,868.0 2428.3,867.9 2429.9,868.1" fill="none" stroke="#3c6eb4" stroke-width="3.2" stroke-linejoin="round" stroke-linecap="round"/>
<path d="M1642.7,858.3 1644.2,860.4 1645.7,861.6 1647.2,860.5 1648.8,857.2 1650.3,854.8 1651.8,853.2 1653.3,851.0 1654.8,848.0 1656.3,842.4 1657.8,834.3 1659.4,826.3 1660.9,817.9 1662.4,810.1 1663.9,808.1 1665.4,813.4 1666.9,822.1 1668.4,830.7 1669.9,838.0 1671.5,842.7 1673.0,844.8 1674.5,846.0 1676.0,846.0 1677.5,844.1 1679.0,841.0 1680.5,837.9 1682.1,837.0 1683.6,838.5 1685.1,841.5 1686.6,844.4 1688.1,846.1 1689.6,846.5 1691.1,845.6 1692.7,844.7 1694.2,844.7 1695.7,845.8 1697.2,847.1 1698.7,847.1 1700.2,845.5 1701.7,843.8 1703.2,842.7 1704.8,842.3 1706.3,843.1 1707.8,845.0 1709.3,847.0 1710.8,848.0 1712.3,848.5 1713.8,849.5 1715.4,851.3 1716.9,852.7 1718.4,851.3 1719.9,847.4 1721.4,844.2 1722.9,842.4 1724.4,841.3 1726.0,842.0 1727.5,842.9 1729.0,844.4 1730.5,847.0 1732.0,849.0 1733.5,850.0 1735.0,850.6 1736.6,850.5 1738.1,851.0 1739.6,851.8 1741.1,853.1 1742.6,855.3 1744.1,855.6 1745.6,852.6 1747.1,851.6 1748.7,852.4 1750.2,852.3 1751.7,850.9 1753.2,849.4 1754.7,848.5 1756.2,848.3 1757.7,849.4 1759.3,850.7 1760.8,850.8 1762.3,850.6 1763.8,851.3 1765.3,851.7 1766.8,850.3 1768.3,848.2 1769.9,846.9 1771.4,848.5 1772.9,851.5 1774.4,852.3 1775.9,849.9 1777.4,847.6 1778.9,845.6 1780.5,841.3 1782.0,835.2 1783.5,831.9 1785.0,832.8 1786.5,837.4 1788.0,842.6 1789.5,845.7 1791.0,847.4 1792.6,849.6 1794.1,851.7 1795.6,853.4 1797.1,854.4 1798.6,855.3 1800.1,855.0 1801.6,853.3 1803.2,851.1 1804.7,849.5 1806.2,848.7 1807.7,848.4 1809.2,849.1 1810.7,850.4 1812.2,850.6 1813.8,848.4 1815.3,845.6 1816.8,843.2 1818.3,842.1 1819.8,842.0 1821.3,841.0 1822.8,838.0 1824.4,834.3 1825.9,831.2 1827.4,829.2 1828.9,827.8 1830.4,827.9 1831.9,831.2 1833.4,838.6 1834.9,846.1 1836.5,849.5 1838.0,850.8 1839.5,851.3 1841.0,852.2 1842.5,853.8 1844.0,854.3 1845.5,854.6 1847.1,855.9 1848.6,856.8 1850.1,857.0 1851.6,856.7 1853.1,857.1 1854.6,856.8 1856.1,854.8 1857.7,853.1 1859.2,852.5 1860.7,851.1 1862.2,848.8 1863.7,848.1 1865.2,848.8 1866.7,848.3 1868.2,846.4 1869.8,844.8 1871.3,845.6 1872.8,848.1 1874.3,850.2 1875.8,851.6 1877.3,853.7 1878.8,855.6 1880.4,857.5 1881.9,857.2 1883.4,856.0 1884.9,853.7 1886.4,850.7 1887.9,847.4 1889.4,843.7 1891.0,839.9 1892.5,835.9 1894.0,832.8 1895.5,831.8 1897.0,831.8 1898.5,833.7 1900.0,839.0 1901.6,845.8 1903.1,850.3 1904.6,851.6 1906.1,850.2 1907.6,848.4 1909.1,847.5 1910.6,848.1 1912.1,849.1 1913.7,849.9 1915.2,850.4 1916.7,851.5 1918.2,850.7 1919.7,849.1 1921.2,850.4 1922.7,852.8 1924.3,852.3 1925.8,849.0 1927.3,847.9 1928.8,847.9 1930.3,847.1 1931.8,846.8 1933.3,847.3 1934.9,848.4 1936.4,849.5 1937.9,851.0 1939.4,852.6 1940.9,853.8 1942.4,854.4 1943.9,854.6 1945.5,854.9 1947.0,854.7 1948.5,854.2 1950.0,855.1 1951.5,856.5 1953.0,855.3 1954.5,853.9 1956.0,854.8 1957.6,856.7 1959.1,857.7 1960.6,856.7 1962.1,855.0 1963.6,854.0 1965.1,852.7 1966.6,851.4 1968.2,852.0 1969.7,853.5 1971.2,854.6 1972.7,856.5 1974.2,857.3 1975.7,856.2 1977.2,853.2 1978.8,851.6 1980.3,851.7 1981.8,851.8 1983.3,852.6 1984.8,853.1 1986.3,853.2 1987.8,854.6 1989.3,856.6 1990.9,857.5 1992.4,857.7 1993.9,858.1 1995.4,859.5 1996.9,861.4 1998.4,860.9 1999.9,857.8 2001.5,856.2 2003.0,856.8 2004.5,857.4 2006.0,857.4 2007.5,858.0 2009.0,855.5 2010.5,851.0 2012.1,849.2 2013.6,848.8 2015.1,848.5 2016.6,849.5 2018.1,852.7 2019.6,855.9 2021.1,858.0 2022.7,857.9 2024.2,857.7 2025.7,858.7 2027.2,858.4 2028.7,856.2 2030.2,854.2 2031.7,853.9 2033.2,853.4 2034.8,852.8 2036.3,852.9 2037.8,853.7 2039.3,854.3 2040.8,854.7 2042.3,854.3 2043.8,853.5 2045.4,851.5 2046.9,848.6 2048.4,846.4 2049.9,845.5 2051.4,845.1 2052.9,842.9 2054.4,840.2 2056.0,838.4 2057.5,836.7 2059.0,836.7 2060.5,839.2 2062.0,841.7 2063.5,842.2 2065.0,843.0 2066.6,845.0 2068.1,848.4 2069.6,851.7 2071.1,852.7 2072.6,852.0 2074.1,851.7 2075.6,852.1 2077.1,852.5 2078.7,852.8 2080.2,852.4 2081.7,850.8 2083.2,848.6 2084.7,846.8 2086.2,846.2 2087.7,847.9 2089.3,850.4 2090.8,851.8 2092.3,853.1 2093.8,854.9 2095.3,855.5 2096.8,855.1 2098.3,855.6 2099.9,857.0 2101.4,856.3 2102.9,854.9 2104.4,853.4 2105.9,852.5 2107.4,851.8 2108.9,851.9 2110.4,850.9 2112.0,850.5 2113.5,851.4 2115.0,851.8 2116.5,853.4 2118.0,855.5 2119.5,856.7 2121.0,857.1 2122.6,856.4 2124.1,855.7 2125.6,855.2 2127.1,853.3 2128.6,851.0 2130.1,849.3 2131.6,846.6 2133.2,844.6 2134.7,845.1 2136.2,846.4 2137.7,844.1 2139.2,839.9 2140.7,838.2 2142.2,837.1 2143.8,836.3 2145.3,836.5 2146.8,838.0 2148.3,841.1 2149.8,844.5 2151.3,846.2 2152.8,846.7 2154.3,846.6 2155.9,846.0 2157.4,846.4 2158.9,847.5 2160.4,848.9 2161.9,850.6 2163.4,851.6 2164.9,850.5 2166.5,850.1 2168.0,851.2 2169.5,851.4 2171.0,850.0 2172.5,847.9 2174.0,845.0 2175.5,842.3 2177.1,840.5 2178.6,838.7 2180.1,835.9 2181.6,834.6 2183.1,836.9 2184.6,840.2 2186.1,843.0 2187.7,845.5 2189.2,847.7 2190.7,850.1 2192.2,853.0 2193.7,854.6 2195.2,854.7 2196.7,854.9 2198.2,854.9 2199.8,854.6 2201.3,855.4 2202.8,855.3 2204.3,853.8 2205.8,850.6 2207.3,848.2 2208.8,847.2 2210.4,846.8 2211.9,846.6 2213.4,847.2 2214.9,846.7 2216.4,846.0 2217.9,845.6 2219.4,844.8 2221.0,843.0 2222.5,840.7 2224.0,839.1 2225.5,839.7 2227.0,842.2 2228.5,845.3 2230.0,847.7 2231.5,849.7 2233.1,852.0 2234.6,853.2 2236.1,852.9 2237.6,853.7 2239.1,853.7 2240.6,851.5 2242.1,850.2 2243.7,851.0 2245.2,852.5 2246.7,854.1 2248.2,854.7 2249.7,854.8 2251.2,855.3 2252.7,855.7 2254.3,855.0 2255.8,853.6 2257.3,853.1 2258.8,853.0 2260.3,852.1 2261.8,850.9 2263.3,849.3 2264.9,846.5 2266.4,843.4 2267.9,840.4 2269.4,838.2 2270.9,837.2 2272.4,838.7 2273.9,841.4 2275.4,844.8 2277.0,849.1 2278.5,852.3 2280.0,853.9 2281.5,854.3 2283.0,853.1 2284.5,851.5 2286.0,850.5 2287.6,850.2 2289.1,848.7 2290.6,847.1 2292.1,846.7 2293.6,847.2 2295.1,848.2 2296.6,848.6 2298.2,847.3 2299.7,844.3 2301.2,840.9 2302.7,839.8 2304.2,840.0 2305.7,839.4 2307.2,839.4 2308.8,841.5 2310.3,846.0 2311.8,849.7 2313.3,849.5 2314.8,847.7 2316.3,843.5 2317.8,836.2 2319.3,829.5 2320.9,824.7 2322.4,821.3 2323.9,820.5 2325.4,824.7 2326.9,831.9 2328.4,839.4 2329.9,849.0 2331.5,859.5 2333.0,868.2 2334.5,875.0 2336.0,877.2 2337.5,873.5 2339.0,866.4 2340.5,860.0 2342.1,856.5 2343.6,855.3 2345.1,854.3 2346.6,853.5 2348.1,854.8 2349.6,857.1 2351.1,857.6 2352.6,857.0 2354.2,856.6 2355.7,856.3 2357.2,855.7 2358.7,856.3 2360.2,858.7 2361.7,863.8 2363.2,872.1 2364.8,881.1 2366.3,886.8 2367.8,884.8 2369.3,878.9 2370.8,871.8 2372.3,865.7 2373.8,860.2 2375.4,855.6 2376.9,853.0 2378.4,848.5 2379.9,842.0 2381.4,836.3 2382.9,832.7 2384.4,832.0 2386.0,835.1 2387.5,839.9 2389.0,845.4 2390.5,849.5 2392.0,852.1 2393.5,853.6 2395.0,855.0 2396.5,856.1 2398.1,855.9 2399.6,855.3 2401.1,855.0 2402.6,854.9 2404.1,855.0 2405.6,854.6 2407.1,853.1 2408.7,852.1 2410.2,852.6 2411.7,853.1 2413.2,854.1 2414.7,855.5 2416.2,856.0 2417.7,855.4 2419.3,854.7 2420.8,855.1 2422.3,855.4 2423.8,854.4 2425.3,852.4 2426.8,850.9 2428.3,850.2 2429.9,849.9" fill="none" stroke="#808000" stroke-width="3.2" stroke-linejoin="round" stroke-linecap="round"/>
<path d="M1642.7,834.1 1644.2,833.3 1645.7,831.5 1647.2,830.5 1648.8,830.1 1650.3,829.5 1651.8,828.4 1653.3,827.0 1654.8,822.7 1656.3,814.3 1657.8,802.5 1659.4,788.0 1660.9,775.3 1662.4,767.3 1663.9,767.2 1665.4,775.7 1666.9,788.5 1668.4,801.9 1669.9,812.6 1671.5,820.0 1673.0,825.1 1674.5,827.1 1676.0,825.6 1677.5,821.6 1679.0,815.0 1680.5,806.9 1682.1,801.0 1683.6,798.5 1685.1,801.2 1686.6,808.0 1688.1,814.3 1689.6,820.2 1691.1,826.9 1692.7,832.4 1694.2,834.7 1695.7,834.6 1697.2,833.9 1698.7,832.3 1700.2,831.2 1701.7,831.4 1703.2,831.9 1704.8,832.3 1706.3,832.5 1707.8,831.3 1709.3,829.0 1710.8,829.0 1712.3,830.0 1713.8,828.0 1715.4,823.9 1716.9,821.5 1718.4,820.2 1719.9,817.5 1721.4,813.5 1722.9,808.5 1724.4,805.4 1726.0,805.3 1727.5,808.6 1729.0,813.6 1730.5,817.7 1732.0,821.1 1733.5,823.8 1735.0,825.4 1736.6,826.0 1738.1,826.8 1739.6,830.0 1741.1,834.5 1742.6,837.2 1744.1,837.2 1745.6,835.3 1747.1,832.5 1748.7,829.7 1750.2,827.8 1751.7,825.6 1753.2,823.0 1754.7,822.8 1756.2,825.3 1757.7,827.1 1759.3,828.2 1760.8,828.6 1762.3,827.9 1763.8,826.4 1765.3,823.8 1766.8,819.4 1768.3,816.1 1769.9,817.3 1771.4,819.5 1772.9,820.4 1774.4,820.3 1775.9,819.1 1777.4,814.2 1778.9,807.1 1780.5,800.6 1782.0,795.6 1783.5,795.2 1785.0,800.6 1786.5,808.0 1788.0,814.3 1789.5,819.6 1791.0,823.7 1792.6,825.6 1794.1,826.1 1795.6,825.8 1797.1,823.9 1798.6,823.9 1800.1,824.5 1801.6,822.8 1803.2,820.7 1804.7,820.8 1806.2,821.4 1807.7,820.6 1809.2,821.1 1810.7,823.9 1812.2,826.3 1813.8,827.0 1815.3,826.4 1816.8,825.3 1818.3,824.7 1819.8,823.0 1821.3,819.6 1822.8,816.9 1824.4,816.2 1825.9,815.5 1827.4,815.1 1828.9,815.9 1830.4,819.9 1831.9,824.1 1833.4,826.0 1834.9,825.9 1836.5,826.1 1838.0,826.9 1839.5,828.2 1841.0,830.6 1842.5,833.1 1844.0,833.6 1845.5,832.8 1847.1,831.8 1848.6,830.0 1850.1,827.6 1851.6,826.8 1853.1,828.3 1854.6,830.2 1856.1,829.6 1857.7,827.9 1859.2,825.5 1860.7,822.7 1862.2,822.6 1863.7,824.9 1865.2,827.0 1866.7,826.6 1868.2,824.6 1869.8,824.0 1871.3,824.4 1872.8,822.7 1874.3,820.5 1875.8,821.8 1877.3,825.5 1878.8,828.6 1880.4,830.8 1881.9,832.0 1883.4,832.8 1884.9,832.8 1886.4,830.1 1887.9,826.3 1889.4,822.2 1891.0,817.4 1892.5,812.7 1894.0,806.2 1895.5,799.9 1897.0,798.0 1898.5,801.3 1900.0,807.7 1901.6,815.6 1903.1,822.4 1904.6,827.0 1906.1,829.3 1907.6,829.6 1909.1,827.6 1910.6,825.4 1912.1,826.0 1913.7,827.0 1915.2,826.9 1916.7,827.7 1918.2,829.7 1919.7,830.7 1921.2,832.5 1922.7,833.5 1924.3,831.5 1925.8,828.3 1927.3,825.3 1928.8,821.7 1930.3,818.4 1931.8,816.2 1933.3,814.7 1934.9,814.8 1936.4,817.9 1937.9,820.6 1939.4,823.1 1940.9,824.2 1942.4,822.8 1943.9,819.7 1945.5,818.4 1947.0,820.5 1948.5,822.6 1950.0,823.1 1951.5,823.7 1953.0,824.7 1954.5,827.0 1956.0,829.6 1957.6,828.4 1959.1,825.6 1960.6,824.9 1962.1,824.9 1963.6,825.0 1965.1,825.2 1966.6,826.5 1968.2,828.1 1969.7,830.1 1971.2,831.4 1972.7,831.0 1974.2,829.7 1975.7,827.8 1977.2,825.9 1978.8,823.9 1980.3,822.8 1981.8,822.3 1983.3,822.3 1984.8,824.4 1986.3,828.6 1987.8,832.7 1989.3,834.0 1990.9,833.8 1992.4,834.4 1993.9,835.7 1995.4,836.2 1996.9,835.9 1998.4,834.8 1999.9,834.0 2001.5,833.4 2003.0,832.6 2004.5,831.9 2006.0,828.8 2007.5,826.7 2009.0,828.0 2010.5,830.7 2012.1,832.2 2013.6,832.3 2015.1,832.2 2016.6,833.5 2018.1,835.7 2019.6,837.8 2021.1,839.1 2022.7,838.8 2024.2,837.0 2025.7,834.4 2027.2,834.2 2028.7,834.5 2030.2,833.0 2031.7,831.4 2033.2,830.8 2034.8,830.8 2036.3,830.6 2037.8,830.9 2039.3,832.5 2040.8,832.6 2042.3,830.2 2043.8,827.8 2045.4,827.4 2046.9,827.6 2048.4,827.9 2049.9,826.0 2051.4,823.5 2052.9,823.3 2054.4,823.6 2056.0,821.6 2057.5,819.8 2059.0,820.3 2060.5,822.4 2062.0,824.9 2063.5,826.6 2065.0,829.1 2066.6,831.6 2068.1,832.2 2069.6,831.8 2071.1,831.9 2072.6,833.0 2074.1,834.3 2075.6,835.0 2077.1,834.4 2078.7,832.8 2080.2,830.4 2081.7,828.6 2083.2,827.8 2084.7,827.2 2086.2,827.3 2087.7,827.8 2089.3,827.6 2090.8,828.7 2092.3,831.1 2093.8,831.8 2095.3,830.2 2096.8,829.2 2098.3,828.6 2099.9,828.4 2101.4,830.6 2102.9,832.7 2104.4,832.2 2105.9,830.7 2107.4,830.1 2108.9,830.4 2110.4,831.7 2112.0,832.6 2113.5,831.5 2115.0,829.8 2116.5,831.4 2118.0,834.0 2119.5,834.6 2121.0,834.5 2122.6,836.1 2124.1,836.2 2125.6,833.4 2127.1,829.5 2128.6,826.1 2130.1,824.7 2131.6,827.2 2133.2,831.6 2134.7,833.3 2136.2,830.5 2137.7,826.7 2139.2,821.7 2140.7,813.8 2142.2,805.2 2143.8,798.7 2145.3,796.3 2146.8,799.9 2148.3,807.2 2149.8,814.9 2151.3,820.7 2152.8,824.4 2154.3,827.0 2155.9,828.9 2157.4,830.5 2158.9,830.8 2160.4,831.7 2161.9,832.8 2163.4,832.8 2164.9,830.4 2166.5,827.0 2168.0,823.9 2169.5,820.7 2171.0,818.5 2172.5,818.1 2174.0,816.4 2175.5,812.9 2177.1,808.6 2178.6,804.6 2180.1,803.0 2181.6,802.3 2183.1,803.3 2184.6,806.4 2186.1,812.2 2187.7,818.3 2189.2,823.3 2190.7,826.0 2192.2,828.0 2193.7,828.3 2195.2,828.9 2196.7,830.6 2198.2,831.9 2199.8,831.5 2201.3,830.5 2202.8,830.5 2204.3,830.5 2205.8,828.3 2207.3,825.7 2208.8,824.0 2210.4,823.4 2211.9,822.4 2213.4,819.4 2214.9,815.2 2216.4,813.5 2217.9,812.8 2219.4,810.2 2221.0,809.4 2222.5,812.6 2224.0,816.7 2225.5,820.6 2227.0,823.4 2228.5,825.6 2230.0,828.0 2231.5,831.6 2233.1,834.6 2234.6,834.3 2236.1,833.6 2237.6,834.4 2239.1,836.4 2240.6,837.2 2242.1,836.5 2243.7,836.8 2245.2,838.1 2246.7,838.5 2248.2,837.1 2249.7,836.4 2251.2,835.6 2252.7,834.1 2254.3,833.7 2255.8,833.6 2257.3,833.1 2258.8,833.4 2260.3,834.4 2261.8,834.3 2263.3,831.9 2264.9,827.6 2266.4,824.1 2267.9,821.0 2269.4,817.0 2270.9,814.2 2272.4,813.1 2273.9,814.2 2275.4,816.9 2277.0,819.5 2278.5,822.8 2280.0,826.7 2281.5,827.7 2283.0,825.9 2284.5,825.0 2286.0,825.1 2287.6,826.2 2289.1,827.8 2290.6,828.1 2292.1,827.2 2293.6,826.9 2295.1,826.9 2296.6,825.2 2298.2,822.0 2299.7,818.1 2301.2,814.0 2302.7,810.1 2304.2,809.2 2305.7,812.1 2307.2,816.6 2308.8,818.4 2310.3,818.7 2311.8,820.6 2313.3,820.1 2314.8,815.8 2316.3,810.6 2317.8,804.7 2319.3,795.7 2320.9,787.1 2322.4,784.4 2323.9,788.0 2325.4,795.8 2326.9,806.7 2328.4,819.4 2329.9,832.5 2331.5,845.7 2333.0,857.4 2334.5,865.7 2336.0,868.2 2337.5,863.0 2339.0,854.2 2340.5,846.8 2342.1,841.1 2343.6,837.4 2345.1,835.9 2346.6,833.5 2348.1,830.4 2349.6,829.7 2351.1,829.2 2352.6,828.5 2354.2,829.8 2355.7,833.4 2357.2,837.8 2358.7,841.9 2360.2,846.5 2361.7,854.5 2363.2,866.5 2364.8,878.9 2366.3,884.9 2367.8,879.4 2369.3,866.2 2370.8,854.2 2372.3,846.9 2373.8,841.9 2375.4,837.4 2376.9,831.9 2378.4,824.9 2379.9,818.5 2381.4,813.3 2382.9,806.0 2384.4,800.3 2386.0,800.6 2387.5,804.8 2389.0,809.2 2390.5,813.8 2392.0,818.2 2393.5,822.5 2395.0,825.5 2396.5,827.5 2398.1,828.4 2399.6,828.7 2401.1,828.2 2402.6,828.2 2404.1,829.1 2405.6,830.6 2407.1,830.6 2408.7,830.6 2410.2,831.8 2411.7,832.2 2413.2,830.7 2414.7,829.2 2416.2,830.0 2417.7,832.5 2419.3,834.4 2420.8,834.7 2422.3,835.4 2423.8,835.2 2425.3,834.6 2426.8,835.4 2428.3,836.8 2429.9,837.7" fill="none" stroke="#a87a30" stroke-width="3.2" stroke-linejoin="round" stroke-linecap="round"/>
<path d="M1642.7,809.4 1644.2,808.8 1645.7,808.6 1647.2,808.9 1648.8,808.5 1650.3,805.9 1651.8,803.4 1653.3,803.0 1654.8,800.8 1656.3,794.8 1657.8,785.4 1659.4,774.4 1660.9,763.4 1662.4,755.6 1663.9,754.6 1665.4,760.7 1666.9,771.0 1668.4,781.4 1669.9,789.3 1671.5,793.0 1673.0,793.7 1674.5,793.1 1676.0,791.4 1677.5,790.2 1679.0,788.9 1680.5,786.0 1682.1,784.4 1683.6,787.0 1685.1,792.8 1686.6,797.5 1688.1,801.2 1689.6,804.0 1691.1,805.9 1692.7,807.2 1694.2,808.4 1695.7,809.5 1697.2,811.2 1698.7,812.3 1700.2,810.2 1701.7,805.1 1703.2,800.5 1704.8,797.5 1706.3,796.7 1707.8,798.4 1709.3,801.5 1710.8,804.0 1712.3,804.0 1713.8,802.0 1715.4,801.1 1716.9,801.1 1718.4,802.3 1719.9,803.5 1721.4,802.8 1722.9,800.9 1724.4,798.7 1726.0,797.7 1727.5,798.9 1729.0,801.4 1730.5,803.8 1732.0,806.1 1733.5,807.8 1735.0,808.2 1736.6,807.3 1738.1,807.0 1739.6,807.0 1741.1,805.8 1742.6,804.5 1744.1,805.4 1745.6,804.4 1747.1,801.1 1748.7,800.0 1750.2,800.8 1751.7,800.1 1753.2,799.6 1754.7,799.3 1756.2,798.7 1757.7,798.7 1759.3,799.4 1760.8,801.2 1762.3,803.8 1763.8,806.4 1765.3,808.4 1766.8,809.5 1768.3,809.5 1769.9,807.7 1771.4,805.2 1772.9,802.1 1774.4,798.5 1775.9,795.3 1777.4,792.7 1778.9,790.7 1780.5,788.8 1782.0,785.7 1783.5,783.3 1785.0,784.6 1786.5,787.7 1788.0,789.2 1789.5,789.3 1791.0,789.5 1792.6,790.5 1794.1,793.8 1795.6,797.2 1797.1,797.8 1798.6,796.8 1800.1,795.9 1801.6,794.4 1803.2,791.8 1804.7,789.8 1806.2,790.4 1807.7,791.6 1809.2,793.8 1810.7,797.1 1812.2,801.7 1813.8,806.0 1815.3,807.8 1816.8,807.4 1818.3,805.7 1819.8,803.5 1821.3,801.8 1822.8,800.2 1824.4,797.7 1825.9,794.1 1827.4,790.2 1828.9,788.7 1830.4,790.2 1831.9,793.0 1833.4,796.4 1834.9,799.6 1836.5,800.8 1838.0,801.1 1839.5,802.2 1841.0,803.6 1842.5,804.5 1844.0,805.4 1845.5,806.2 1847.1,806.9 1848.6,807.0 1850.1,806.4 1851.6,805.9 1853.1,805.6 1854.6,804.8 1856.1,803.2 1857.7,800.8 1859.2,798.6 1860.7,797.4 1862.2,797.0 1863.7,798.3 1865.2,800.3 1866.7,801.6 1868.2,801.1 1869.8,799.0 1871.3,798.0 1872.8,799.1 1874.3,800.8 1875.8,801.7 1877.3,802.7 1878.8,805.1 1880.4,806.9 1881.9,807.2 1883.4,807.5 1884.9,806.4 1886.4,802.8 1887.9,797.4 1889.4,791.7 1891.0,788.0 1892.5,785.6 1894.0,782.6 1895.5,778.8 1897.0,779.1 1898.5,784.9 1900.0,792.8 1901.6,798.4 1903.1,801.7 1904.6,804.5 1906.1,806.7 1907.6,808.5 1909.1,808.8 1910.6,808.2 1912.1,807.3 1913.7,805.2 1915.2,803.6 1916.7,802.8 1918.2,803.9 1919.7,806.1 1921.2,806.8 1922.7,804.9 1924.3,800.8 1925.8,796.9 1927.3,796.0 1928.8,796.6 1930.3,794.8 1931.8,792.6 1933.3,792.5 1934.9,793.7 1936.4,793.9 1937.9,792.6 1939.4,791.8 1940.9,793.9 1942.4,797.4 1943.9,799.7 1945.5,801.0 1947.0,802.9 1948.5,805.2 1950.0,805.1 1951.5,803.1 1953.0,802.5 1954.5,803.2 1956.0,804.2 1957.6,805.3 1959.1,805.5 1960.6,805.7 1962.1,806.3 1963.6,807.4 1965.1,807.4 1966.6,807.3 1968.2,807.5 1969.7,806.7 1971.2,806.5 1972.7,807.0 1974.2,806.9 1975.7,806.7 1977.2,806.8 1978.8,805.1 1980.3,800.8 1981.8,797.1 1983.3,795.4 1984.8,796.4 1986.3,798.5 1987.8,800.2 1989.3,801.5 1990.9,802.5 1992.4,803.1 1993.9,802.6 1995.4,802.4 1996.9,803.3 1998.4,804.3 1999.9,805.3 2001.5,806.3 2003.0,804.8 2004.5,803.3 2006.0,803.6 2007.5,804.4 2009.0,804.8 2010.5,803.7 2012.1,800.7 2013.6,798.0 2015.1,794.9 2016.6,792.1 2018.1,790.5 2019.6,791.0 2021.1,793.0 2022.7,794.3 2024.2,794.7 2025.7,795.8 2027.2,797.0 2028.7,797.4 2030.2,799.3 2031.7,801.6 2033.2,803.8 2034.8,806.0 2036.3,807.7 2037.8,809.1 2039.3,808.9 2040.8,806.9 2042.3,805.2 2043.8,804.3 2045.4,803.8 2046.9,802.5 2048.4,800.9 2049.9,800.4 2051.4,798.8 2052.9,794.9 2054.4,790.1 2056.0,786.5 2057.5,784.6 2059.0,783.7 2060.5,784.8 2062.0,787.0 2063.5,787.5 2065.0,789.7 2066.6,793.8 2068.1,796.9 2069.6,799.9 2071.1,802.5 2072.6,804.4 2074.1,805.7 2075.6,805.0 2077.1,802.8 2078.7,800.7 2080.2,800.1 2081.7,801.2 2083.2,802.7 2084.7,802.5 2086.2,802.9 2087.7,803.7 2089.3,804.5 2090.8,805.6 2092.3,804.9 2093.8,804.0 2095.3,805.4 2096.8,809.3 2098.3,812.2 2099.9,812.2 2101.4,810.4 2102.9,807.2 2104.4,806.5 2105.9,808.5 2107.4,808.1 2108.9,805.9 2110.4,806.1 2112.0,807.2 2113.5,807.7 2115.0,808.4 2116.5,810.1 2118.0,810.7 2119.5,809.8 2121.0,809.5 2122.6,809.6 2124.1,810.7 2125.6,811.6 2127.1,812.3 2128.6,811.4 2130.1,809.6 2131.6,809.5 2133.2,811.0 2134.7,811.7 2136.2,810.2 2137.7,807.2 2139.2,806.0 2140.7,804.7 2142.2,800.4 2143.8,795.6 2145.3,794.6 2146.8,797.4 2148.3,800.4 2149.8,802.4 2151.3,804.8 2152.8,806.3 2154.3,805.4 2155.9,802.3 2157.4,799.1 2158.9,798.7 2160.4,800.8 2161.9,804.0 2163.4,807.8 2164.9,809.2 2166.5,808.0 2168.0,805.8 2169.5,804.3 2171.0,803.0 2172.5,802.4 2174.0,802.7 2175.5,800.6 2177.1,795.7 2178.6,792.3 2180.1,791.0 2181.6,789.2 2183.1,788.6 2184.6,790.8 2186.1,794.7 2187.7,798.3 2189.2,801.6 2190.7,804.7 2192.2,807.2 2193.7,807.7 2195.2,807.8 2196.7,808.6 2198.2,807.9 2199.8,806.6 2201.3,806.2 2202.8,806.4 2204.3,806.6 2205.8,806.1 2207.3,804.8 2208.8,804.2 2210.4,804.7 2211.9,804.7 2213.4,803.0 2214.9,799.9 2216.4,797.2 2217.9,795.5 2219.4,793.5 2221.0,791.1 2222.5,789.4 2224.0,789.1 2225.5,791.0 2227.0,793.6 2228.5,796.0 2230.0,798.5 2231.5,801.3 2233.1,804.6 2234.6,806.5 2236.1,806.8 2237.6,805.9 2239.1,804.5 2240.6,803.1 2242.1,801.7 2243.7,800.1 2245.2,798.6 2246.7,799.4 2248.2,803.1 2249.7,807.0 2251.2,809.4 2252.7,810.2 2254.3,810.7 2255.8,810.3 2257.3,809.3 2258.8,807.6 2260.3,804.2 2261.8,801.2 2263.3,799.5 2264.9,798.3 2266.4,797.1 2267.9,795.0 2269.4,791.4 2270.9,788.5 2272.4,787.0 2273.9,786.8 2275.4,787.7 2277.0,790.1 2278.5,793.3 2280.0,796.6 2281.5,798.6 2283.0,800.2 2284.5,802.9 2286.0,805.6 2287.6,806.8 2289.1,805.7 2290.6,805.2 2292.1,805.6 2293.6,803.7 2295.1,800.2 2296.6,797.6 2298.2,795.3 2299.7,793.3 2301.2,791.7 2302.7,790.0 2304.2,790.7 2305.7,792.8 2307.2,794.6 2308.8,797.2 2310.3,799.7 2311.8,798.8 2313.3,795.7 2314.8,791.9 2316.3,787.0 2317.8,783.5 2319.3,781.2 2320.9,778.8 2322.4,778.1 2323.9,780.9 2325.4,785.7 2326.9,789.5 2328.4,795.4 2329.9,805.4 2331.5,816.9 2333.0,828.1 2334.5,836.1 2336.0,839.7 2337.5,837.7 2339.0,831.5 2340.5,824.1 2342.1,818.4 2343.6,815.6 2345.1,814.4 2346.6,812.8 2348.1,812.6 2349.6,814.0 2351.1,815.2 2352.6,815.6 2354.2,816.2 2355.7,816.3 2357.2,816.0 2358.7,816.7 2360.2,819.7 2361.7,824.7 2363.2,832.4 2364.8,840.4 2366.3,842.2 2367.8,835.0 2369.3,824.5 2370.8,815.9 2372.3,809.3 2373.8,803.4 2375.4,798.3 2376.9,793.3 2378.4,787.0 2379.9,781.6 2381.4,778.5 2382.9,776.4 2384.4,774.1 2386.0,774.2 2387.5,778.3 2389.0,784.1 2390.5,789.8 2392.0,794.8 2393.5,799.5 2395.0,803.4 2396.5,806.9 2398.1,809.6 2399.6,810.1 2401.1,809.0 2402.6,807.5 2404.1,807.6 2405.6,807.8 2407.1,807.1 2408.7,806.3 2410.2,807.0 2411.7,807.8 2413.2,808.6 2414.7,808.8 2416.2,807.5 2417.7,805.2 2419.3,805.2 2420.8,808.0 2422.3,810.7 2423.8,810.6 2425.3,809.8 2426.8,810.1 2428.3,811.3 2429.9,810.4" fill="none" stroke="#800080" stroke-width="3.2" stroke-linejoin="round" stroke-linecap="round"/>
<path d="M1642.7,786.5 1644.2,784.5 1645.7,781.6 1647.2,779.8 1648.8,778.9 1650.3,776.6 1651.8,774.4 1653.3,772.5 1654.8,768.5 1656.3,762.1 1657.8,753.8 1659.4,742.1 1660.9,729.3 1662.4,721.1 1663.9,721.8 1665.4,730.2 1666.9,742.5 1668.4,753.7 1669.9,761.9 1671.5,766.8 1673.0,768.9 1674.5,769.3 1676.0,768.8 1677.5,767.7 1679.0,765.6 1680.5,760.3 1682.1,754.9 1683.6,754.9 1685.1,759.5 1686.6,765.4 1688.1,770.9 1689.6,774.6 1691.1,776.2 1692.7,777.8 1694.2,780.1 1695.7,781.3 1697.2,780.1 1698.7,777.4 1700.2,774.9 1701.7,773.1 1703.2,773.1 1704.8,774.9 1706.3,776.7 1707.8,776.5 1709.3,775.4 1710.8,775.5 1712.3,776.9 1713.8,777.9 1715.4,777.8 1716.9,776.8 1718.4,775.0 1719.9,772.2 1721.4,767.8 1722.9,763.0 1724.4,758.3 1726.0,756.4 1727.5,757.7 1729.0,761.1 1730.5,764.1 1732.0,766.6 1733.5,769.8 1735.0,772.1 1736.6,772.0 1738.1,771.6 1739.6,774.0 1741.1,777.9 1742.6,779.9 1744.1,781.3 1745.6,781.6 1747.1,781.8 1748.7,780.9 1750.2,778.2 1751.7,774.1 1753.2,771.3 1754.7,769.4 1756.2,769.2 1757.7,770.8 1759.3,773.9 1760.8,777.2 1762.3,780.1 1763.8,781.7 1765.3,782.7 1766.8,783.1 1768.3,783.0 1769.9,781.8 1771.4,780.7 1772.9,779.6 1774.4,779.1 1775.9,778.8 1777.4,775.9 1778.9,769.5 1780.5,762.4 1782.0,758.4 1783.5,757.7 1785.0,758.7 1786.5,761.6 1788.0,765.5 1789.5,768.7 1791.0,770.4 1792.6,772.7 1794.1,775.0 1795.6,775.7 1797.1,776.4 1798.6,776.9 1800.1,775.6 1801.6,772.5 1803.2,769.6 1804.7,769.3 1806.2,770.7 1807.7,772.7 1809.2,774.6 1810.7,775.8 1812.2,775.7 1813.8,773.6 1815.3,769.5 1816.8,766.4 1818.3,766.2 1819.8,766.2 1821.3,764.4 1822.8,761.6 1824.4,759.5 1825.9,757.9 1827.4,757.1 1828.9,759.6 1830.4,763.8 1831.9,767.6 1833.4,770.2 1834.9,772.7 1836.5,774.7 1838.0,776.6 1839.5,778.9 1841.0,781.2 1842.5,781.8 1844.0,781.2 1845.5,780.4 1847.1,779.3 1848.6,779.2 1850.1,780.3 1851.6,780.8 1853.1,780.5 1854.6,780.3 1856.1,780.2 1857.7,780.2 1859.2,780.4 1860.7,778.9 1862.2,776.2 1863.7,774.2 1865.2,773.1 1866.7,772.6 1868.2,772.7 1869.8,772.8 1871.3,772.1 1872.8,773.4 1874.3,776.2 1875.8,776.9 1877.3,776.0 1878.8,775.2 1880.4,774.5 1881.9,773.3 1883.4,772.1 1884.9,772.6 1886.4,773.7 1887.9,772.1 1889.4,768.0 1891.0,764.2 1892.5,760.7 1894.0,754.5 1895.5,747.2 1897.0,744.3 1898.5,748.3 1900.0,755.1 1901.6,762.1 1903.1,769.1 1904.6,775.4 1906.1,779.4 1907.6,780.8 1909.1,782.4 1910.6,783.4 1912.1,783.3 1913.7,782.5 1915.2,781.1 1916.7,779.2 1918.2,777.4 1919.7,775.0 1921.2,773.0 1922.7,774.0 1924.3,775.7 1925.8,774.1 1927.3,769.7 1928.8,765.8 1930.3,762.4 1931.8,759.8 1933.3,760.6 1934.9,764.8 1936.4,768.8 1937.9,772.1 1939.4,776.4 1940.9,780.4 1942.4,783.9 1943.9,786.8 1945.5,788.7 1947.0,788.8 1948.5,787.2 1950.0,784.5 1951.5,783.3 1953.0,784.0 1954.5,784.4 1956.0,783.9 1957.6,783.7 1959.1,784.2 1960.6,784.0 1962.1,782.1 1963.6,779.8 1965.1,777.4 1966.6,775.7 1968.2,775.8 1969.7,775.8 1971.2,774.9 1972.7,773.9 1974.2,773.8 1975.7,773.0 1977.2,770.5 1978.8,767.4 1980.3,767.9 1981.8,771.0 1983.3,773.7 1984.8,775.9 1986.3,778.1 1987.8,780.0 1989.3,781.0 1990.9,782.8 1992.4,784.3 1993.9,784.0 1995.4,783.3 1996.9,782.7 1998.4,782.4 1999.9,781.9 2001.5,781.7 2003.0,781.0 2004.5,780.1 2006.0,780.3 2007.5,781.3 2009.0,783.6 2010.5,786.2 2012.1,786.0 2013.6,782.6 2015.1,780.8 2016.6,780.0 2018.1,777.3 2019.6,773.4 2021.1,772.9 2022.7,775.6 2024.2,778.1 2025.7,779.7 2027.2,781.3 2028.7,782.6 2030.2,783.5 2031.7,783.4 2033.2,783.0 2034.8,781.7 2036.3,778.7 2037.8,775.7 2039.3,774.1 2040.8,774.7 2042.3,777.1 2043.8,778.4 2045.4,776.9 2046.9,774.6 2048.4,772.5 2049.9,770.1 2051.4,765.5 2052.9,759.7 2054.4,752.0 2056.0,743.1 2057.5,738.6 2059.0,740.9 2060.5,747.3 2062.0,754.1 2063.5,760.3 2065.0,767.0 2066.6,771.5 2068.1,772.9 2069.6,775.3 2071.1,778.3 2072.6,779.3 2074.1,779.3 2075.6,780.3 2077.1,780.8 2078.7,780.3 2080.2,778.9 2081.7,777.1 2083.2,774.7 2084.7,773.5 2086.2,775.0 2087.7,778.8 2089.3,780.0 2090.8,779.9 2092.3,780.0 2093.8,780.0 2095.3,780.4 2096.8,781.3 2098.3,781.0 2099.9,780.1 2101.4,780.7 2102.9,781.7 2104.4,781.9 2105.9,781.0 2107.4,780.3 2108.9,780.1 2110.4,781.2 2112.0,782.1 2113.5,782.8 2115.0,782.3 2116.5,781.8 2118.0,782.2 2119.5,782.7 2121.0,784.9 2122.6,785.7 2124.1,785.0 2125.6,784.0 2127.1,782.2 2128.6,780.0 2130.1,778.3 2131.6,777.0 2133.2,775.6 2134.7,775.6 2136.2,775.0 2137.7,772.9 2139.2,770.0 2140.7,767.6 2142.2,766.3 2143.8,764.9 2145.3,764.1 2146.8,765.6 2148.3,768.8 2149.8,771.6 2151.3,773.4 2152.8,774.7 2154.3,775.2 2155.9,776.0 2157.4,777.6 2158.9,779.6 2160.4,781.3 2161.9,782.4 2163.4,782.7 2164.9,782.2 2166.5,781.6 2168.0,781.8 2169.5,781.3 2171.0,780.5 2172.5,778.7 2174.0,775.4 2175.5,769.6 2177.1,763.4 2178.6,756.6 2180.1,749.3 2181.6,745.2 2183.1,745.2 2184.6,746.5 2186.1,748.8 2187.7,752.8 2189.2,758.4 2190.7,764.9 2192.2,771.6 2193.7,775.5 2195.2,778.0 2196.7,780.6 2198.2,781.4 2199.8,782.0 2201.3,782.6 2202.8,782.6 2204.3,784.2 2205.8,784.7 2207.3,783.9 2208.8,782.9 2210.4,780.8 2211.9,778.6 2213.4,777.5 2214.9,776.7 2216.4,775.5 2217.9,773.1 2219.4,768.3 2221.0,763.3 2222.5,760.8 2224.0,760.2 2225.5,759.8 2227.0,760.1 2228.5,761.2 2230.0,762.5 2231.5,764.8 2233.1,769.2 2234.6,773.3 2236.1,775.7 2237.6,777.3 2239.1,779.2 2240.6,777.9 2242.1,774.4 2243.7,773.6 2245.2,775.3 2246.7,776.1 2248.2,776.0 2249.7,777.1 2251.2,779.0 2252.7,781.0 2254.3,782.2 2255.8,781.9 2257.3,781.7 2258.8,781.9 2260.3,783.0 2261.8,783.9 2263.3,782.8 2264.9,779.0 2266.4,775.0 2267.9,771.3 2269.4,767.3 2270.9,763.1 2272.4,760.8 2273.9,761.7 2275.4,765.1 2277.0,769.5 2278.5,773.3 2280.0,775.4 2281.5,775.0 2283.0,774.6 2284.5,775.7 2286.0,777.4 2287.6,777.5 2289.1,775.1 2290.6,772.8 2292.1,770.4 2293.6,768.0 2295.1,765.7 2296.6,763.5 2298.2,762.0 2299.7,759.7 2301.2,756.5 2302.7,754.2 2304.2,754.6 2305.7,756.5 2307.2,758.0 2308.8,759.8 2310.3,762.3 2311.8,764.9 2313.3,765.7 2314.8,764.1 2316.3,761.7 2317.8,757.8 2319.3,752.3 2320.9,746.1 2322.4,743.4 2323.9,746.1 2325.4,752.3 2326.9,759.4 2328.4,766.0 2329.9,769.9 2331.5,772.0 2333.0,775.6 2334.5,781.5 2336.0,786.3 2337.5,786.5 2339.0,784.3 2340.5,782.1 2342.1,779.0 2343.6,775.8 2345.1,773.4 2346.6,771.1 2348.1,770.1 2349.6,771.9 2351.1,774.5 2352.6,775.9 2354.2,778.0 2355.7,781.5 2357.2,784.2 2358.7,785.6 2360.2,787.9 2361.7,792.0 2363.2,797.5 2364.8,803.0 2366.3,805.9 2367.8,802.9 2369.3,795.6 2370.8,787.6 2372.3,781.5 2373.8,777.3 2375.4,774.0 2376.9,771.6 2378.4,769.1 2379.9,765.7 2381.4,761.0 2382.9,754.5 2384.4,749.4 2386.0,750.2 2387.5,755.6 2389.0,761.3 2390.5,766.5 2392.0,771.3 2393.5,775.1 2395.0,776.4 2396.5,776.0 2398.1,775.2 2399.6,774.4 2401.1,774.3 2402.6,774.2 2404.1,774.0 2405.6,776.1 2407.1,779.8 2408.7,782.4 2410.2,782.8 2411.7,782.3 2413.2,782.2 2414.7,782.9 2416.2,783.8 2417.7,784.2 2419.3,783.9 2420.8,782.5 2422.3,781.0 2423.8,780.0 2425.3,777.9 2426.8,775.0 2428.3,774.3 2429.9,776.4" fill="none" stroke="#8000ff" stroke-width="3.2" stroke-linejoin="round" stroke-linecap="round"/>
<path d="M1642.7,739.2 1644.2,741.1 1645.7,743.0 1647.2,743.9 1648.8,744.3 1650.3,744.2 1651.8,743.1 1653.3,741.6 1654.8,738.0 1656.3,728.7 1657.8,713.9 1659.4,696.1 1660.9,676.9 1662.4,661.5 1663.9,658.1 1665.4,667.3 1666.9,683.3 1668.4,698.7 1669.9,710.2 1671.5,718.3 1673.0,724.4 1674.5,728.5 1676.0,729.7 1677.5,728.6 1679.0,726.3 1680.5,724.0 1682.1,721.1 1683.6,722.1 1685.1,728.2 1686.6,735.3 1688.1,741.6 1689.6,745.0 1691.1,746.3 1692.7,747.1 1694.2,749.7 1695.7,752.4 1697.2,753.7 1698.7,754.0 1700.2,752.2 1701.7,750.4 1703.2,749.1 1704.8,747.1 1706.3,744.7 1707.8,742.7 1709.3,742.3 1710.8,744.1 1712.3,746.4 1713.8,748.4 1715.4,748.6 1716.9,746.4 1718.4,743.0 1719.9,739.7 1721.4,734.7 1722.9,728.0 1724.4,722.3 1726.0,718.8 1727.5,719.5 1729.0,723.0 1730.5,727.0 1732.0,731.4 1733.5,735.7 1735.0,739.4 1736.6,742.0 1738.1,741.9 1739.6,739.2 1741.1,734.2 1742.6,728.4 1744.1,725.7 1745.6,726.4 1747.1,727.6 1748.7,728.9 1750.2,729.8 1751.7,729.9 1753.2,729.6 1754.7,728.9 1756.2,728.4 1757.7,729.0 1759.3,731.4 1760.8,735.7 1762.3,740.5 1763.8,745.0 1765.3,748.9 1766.8,750.6 1768.3,749.8 1769.9,746.5 1771.4,743.0 1772.9,740.6 1774.4,737.9 1775.9,734.1 1777.4,729.8 1778.9,724.7 1780.5,718.6 1782.0,711.5 1783.5,707.1 1785.0,708.2 1786.5,713.6 1788.0,721.4 1789.5,730.5 1791.0,738.9 1792.6,744.3 1794.1,746.9 1795.6,747.9 1797.1,747.8 1798.6,748.3 1800.1,746.3 1801.6,741.8 1803.2,738.9 1804.7,737.3 1806.2,736.2 1807.7,736.6 1809.2,737.5 1810.7,737.8 1812.2,736.9 1813.8,734.2 1815.3,731.0 1816.8,728.8 1818.3,728.2 1819.8,728.8 1821.3,729.3 1822.8,728.6 1824.4,725.7 1825.9,723.2 1827.4,723.0 1828.9,725.5 1830.4,728.5 1831.9,732.3 1833.4,737.1 1834.9,741.7 1836.5,745.5 1838.0,747.7 1839.5,748.6 1841.0,748.9 1842.5,750.3 1844.0,751.9 1845.5,751.2 1847.1,750.3 1848.6,751.1 1850.1,752.0 1851.6,751.9 1853.1,751.6 1854.6,751.0 1856.1,749.1 1857.7,746.2 1859.2,744.1 1860.7,743.3 1862.2,744.0 1863.7,744.2 1865.2,744.4 1866.7,746.1 1868.2,748.6 1869.8,750.6 1871.3,752.3 1872.8,754.5 1874.3,757.0 1875.8,757.6 1877.3,757.3 1878.8,757.5 1880.4,757.9 1881.9,757.8 1883.4,756.0 1884.9,753.3 1886.4,749.5 1887.9,746.0 1889.4,742.6 1891.0,737.2 1892.5,728.2 1894.0,717.2 1895.5,708.1 1897.0,707.1 1898.5,714.2 1900.0,724.0 1901.6,733.4 1903.1,740.2 1904.6,745.0 1906.1,747.1 1907.6,748.2 1909.1,749.0 1910.6,748.2 1912.1,748.4 1913.7,750.1 1915.2,750.9 1916.7,750.9 1918.2,751.6 1919.7,751.7 1921.2,750.0 1922.7,748.8 1924.3,748.5 1925.8,747.9 1927.3,748.0 1928.8,747.8 1930.3,745.9 1931.8,742.0 1933.3,739.3 1934.9,739.7 1936.4,740.9 1937.9,740.1 1939.4,737.6 1940.9,734.8 1942.4,734.3 1943.9,736.4 1945.5,738.5 1947.0,741.4 1948.5,745.0 1950.0,748.0 1951.5,749.6 1953.0,750.5 1954.5,751.0 1956.0,750.9 1957.6,750.5 1959.1,750.8 1960.6,750.1 1962.1,747.1 1963.6,741.9 1965.1,737.7 1966.6,735.4 1968.2,735.3 1969.7,737.0 1971.2,741.1 1972.7,744.6 1974.2,744.5 1975.7,742.9 1977.2,741.2 1978.8,739.7 1980.3,738.6 1981.8,738.5 1983.3,739.0 1984.8,741.3 1986.3,745.7 1987.8,748.6 1989.3,749.4 1990.9,750.4 1992.4,752.3 1993.9,754.7 1995.4,755.9 1996.9,755.2 1998.4,756.0 1999.9,758.2 2001.5,757.8 2003.0,755.6 2004.5,753.9 2006.0,754.1 2007.5,753.9 2009.0,752.3 2010.5,752.0 2012.1,753.2 2013.6,751.7 2015.1,749.7 2016.6,750.1 2018.1,751.3 2019.6,751.4 2021.1,751.4 2022.7,752.5 2024.2,753.9 2025.7,754.3 2027.2,753.9 2028.7,753.6 2030.2,754.2 2031.7,754.0 2033.2,753.8 2034.8,754.8 2036.3,755.5 2037.8,754.9 2039.3,754.1 2040.8,753.2 2042.3,752.4 2043.8,751.7 2045.4,750.2 2046.9,747.3 2048.4,742.1 2049.9,734.0 2051.4,723.5 2052.9,712.2 2054.4,701.5 2056.0,692.9 2057.5,688.6 2059.0,690.9 2060.5,700.1 2062.0,711.5 2063.5,722.3 2065.0,731.8 2066.6,739.4 2068.1,743.8 2069.6,744.5 2071.1,742.3 2072.6,739.0 2074.1,736.4 2075.6,733.9 2077.1,732.9 2078.7,733.4 2080.2,735.1 2081.7,735.9 2083.2,735.0 2084.7,734.7 2086.2,736.3 2087.7,738.2 2089.3,740.3 2090.8,742.6 2092.3,743.4 2093.8,743.8 2095.3,744.3 2096.8,743.2 2098.3,742.3 2099.9,743.8 2101.4,747.1 2102.9,749.9 2104.4,750.8 2105.9,750.7 2107.4,750.4 2108.9,750.6 2110.4,749.8 2112.0,749.0 2113.5,748.7 2115.0,746.1 2116.5,741.9 2118.0,738.4 2119.5,737.1 2121.0,737.2 2122.6,740.0 2124.1,743.8 2125.6,746.8 2127.1,748.8 2128.6,749.8 2130.1,750.0 2131.6,749.7 2133.2,749.6 2134.7,749.5 2136.2,748.9 2137.7,747.6 2139.2,745.7 2140.7,744.2 2142.2,742.3 2143.8,741.4 2145.3,742.0 2146.8,742.1 2148.3,742.8 2149.8,745.6 2151.3,749.1 2152.8,750.8 2154.3,750.3 2155.9,749.7 2157.4,749.6 2158.9,748.7 2160.4,746.1 2161.9,744.7 2163.4,745.2 2164.9,745.8 2166.5,745.2 2168.0,743.3 2169.5,741.3 2171.0,738.4 2172.5,734.7 2174.0,731.0 2175.5,726.4 2177.1,720.4 2178.6,713.8 2180.1,710.0 2181.6,708.3 2183.1,708.5 2184.6,713.8 2186.1,722.4 2187.7,730.6 2189.2,736.6 2190.7,740.9 2192.2,744.7 2193.7,747.3 2195.2,749.5 2196.7,751.0 2198.2,751.5 2199.8,751.9 2201.3,750.9 2202.8,749.8 2204.3,749.8 2205.8,750.9 2207.3,751.7 2208.8,751.8 2210.4,751.9 2211.9,750.5 2213.4,746.9 2214.9,743.5 2216.4,740.3 2217.9,736.7 2219.4,732.6 2221.0,725.6 2222.5,716.1 2224.0,707.7 2225.5,706.7 2227.0,714.6 2228.5,725.2 2230.0,732.5 2231.5,737.3 2233.1,741.5 2234.6,743.4 2236.1,744.1 2237.6,745.3 2239.1,746.4 2240.6,745.5 2242.1,744.7 2243.7,745.4 2245.2,746.1 2246.7,747.4 2248.2,748.4 2249.7,749.1 2251.2,749.7 2252.7,751.1 2254.3,753.0 2255.8,753.1 2257.3,751.4 2258.8,750.2 2260.3,749.8 2261.8,748.9 2263.3,745.1 2264.9,739.7 2266.4,734.2 2267.9,729.9 2269.4,724.5 2270.9,716.9 2272.4,711.3 2273.9,710.5 2275.4,712.0 2277.0,715.0 2278.5,719.3 2280.0,724.7 2281.5,730.9 2283.0,736.1 2284.5,741.4 2286.0,745.0 2287.6,746.4 2289.1,746.7 2290.6,746.0 2292.1,742.8 2293.6,739.8 2295.1,740.2 2296.6,739.7 2298.2,736.9 2299.7,732.6 2301.2,728.0 2302.7,726.1 2304.2,727.7 2305.7,731.8 2307.2,736.5 2308.8,739.6 2310.3,739.0 2311.8,735.3 2313.3,729.6 2314.8,722.9 2316.3,715.9 2317.8,708.7 2319.3,700.6 2320.9,693.0 2322.4,689.9 2323.9,694.6 2325.4,705.5 2326.9,718.2 2328.4,730.2 2329.9,740.6 2331.5,750.0 2333.0,759.3 2334.5,768.2 2336.0,774.1 2337.5,773.4 2339.0,767.6 2340.5,761.4 2342.1,757.6 2343.6,756.9 2345.1,756.8 2346.6,756.2 2348.1,755.1 2349.6,755.2 2351.1,755.0 2352.6,752.1 2354.2,748.5 2355.7,745.9 2357.2,744.2 2358.7,742.8 2360.2,744.3 2361.7,751.6 2363.2,762.5 2364.8,771.6 2366.3,775.4 2367.8,773.7 2369.3,768.7 2370.8,761.2 2372.3,750.4 2373.8,741.2 2375.4,738.7 2376.9,738.3 2378.4,735.2 2379.9,730.4 2381.4,723.3 2382.9,713.7 2384.4,705.0 2386.0,703.1 2387.5,710.1 2389.0,722.3 2390.5,734.9 2392.0,745.0 2393.5,750.5 2395.0,751.8 2396.5,751.8 2398.1,751.5 2399.6,750.7 2401.1,750.2 2402.6,751.3 2404.1,753.3 2405.6,755.5 2407.1,755.7 2408.7,754.1 2410.2,752.6 2411.7,751.9 2413.2,752.0 2414.7,753.1 2416.2,755.1 2417.7,757.4 2419.3,758.9 2420.8,759.7 2422.3,759.8 2423.8,759.7 2425.3,759.6 2426.8,758.8 2428.3,758.3 2429.9,758.5" fill="none" stroke="#000080" stroke-width="3.2" stroke-linejoin="round" stroke-linecap="round"/>
<path d="M1642.7,710.5 1644.2,707.2 1645.7,707.1 1647.2,710.9 1648.8,713.6 1650.3,712.1 1651.8,709.1 1653.3,705.9 1654.8,699.2 1656.3,688.8 1657.8,674.7 1659.4,659.4 1660.9,642.6 1662.4,629.5 1663.9,629.7 1665.4,643.6 1666.9,661.1 1668.4,676.2 1669.9,688.3 1671.5,695.4 1673.0,697.6 1674.5,697.9 1676.0,698.4 1677.5,697.4 1679.0,693.4 1680.5,687.6 1682.1,683.4 1683.6,684.4 1685.1,690.1 1686.6,697.3 1688.1,702.5 1689.6,706.8 1691.1,711.0 1692.7,713.7 1694.2,716.2 1695.7,718.2 1697.2,718.0 1698.7,715.6 1700.2,714.0 1701.7,714.1 1703.2,714.8 1704.8,713.7 1706.3,710.3 1707.8,707.2 1709.3,704.2 1710.8,702.3 1712.3,702.3 1713.8,703.0 1715.4,702.7 1716.9,701.8 1718.4,700.5 1719.9,698.1 1721.4,694.2 1722.9,689.7 1724.4,686.8 1726.0,685.9 1727.5,688.4 1729.0,694.9 1730.5,701.6 1732.0,706.7 1733.5,710.6 1735.0,713.5 1736.6,714.5 1738.1,714.4 1739.6,713.5 1741.1,709.5 1742.6,703.4 1744.1,699.8 1745.6,702.0 1747.1,707.0 1748.7,710.4 1750.2,709.4 1751.7,707.0 1753.2,705.2 1754.7,702.7 1756.2,700.1 1757.7,699.0 1759.3,699.5 1760.8,701.5 1762.3,703.8 1763.8,705.5 1765.3,707.3 1766.8,709.4 1768.3,710.6 1769.9,710.3 1771.4,709.1 1772.9,707.4 1774.4,704.6 1775.9,700.4 1777.4,693.9 1778.9,682.7 1780.5,671.5 1782.0,663.5 1783.5,659.3 1785.0,662.1 1786.5,672.3 1788.0,684.4 1789.5,693.6 1791.0,700.4 1792.6,706.2 1794.1,709.8 1795.6,710.0 1797.1,707.6 1798.6,705.5 1800.1,704.1 1801.6,704.1 1803.2,703.3 1804.7,701.3 1806.2,699.5 1807.7,698.8 1809.2,698.9 1810.7,699.2 1812.2,701.6 1813.8,704.4 1815.3,706.0 1816.8,706.8 1818.3,706.8 1819.8,705.1 1821.3,700.6 1822.8,694.1 1824.4,685.8 1825.9,679.3 1827.4,677.4 1828.9,680.8 1830.4,688.1 1831.9,696.5 1833.4,702.1 1834.9,704.3 1836.5,705.4 1838.0,705.8 1839.5,705.7 1841.0,707.5 1842.5,711.9 1844.0,715.4 1845.5,715.7 1847.1,714.5 1848.6,713.5 1850.1,713.0 1851.6,712.1 1853.1,709.9 1854.6,707.8 1856.1,707.0 1857.7,706.1 1859.2,703.7 1860.7,701.0 1862.2,700.3 1863.7,701.7 1865.2,703.5 1866.7,704.3 1868.2,706.1 1869.8,708.9 1871.3,709.8 1872.8,709.4 1874.3,709.4 1875.8,709.9 1877.3,711.7 1878.8,714.4 1880.4,714.0 1881.9,711.7 1883.4,711.9 1884.9,712.0 1886.4,709.8 1887.9,704.5 1889.4,698.0 1891.0,688.9 1892.5,677.7 1894.0,665.6 1895.5,655.9 1897.0,652.9 1898.5,659.3 1900.0,670.7 1901.6,682.9 1903.1,693.9 1904.6,702.3 1906.1,707.7 1907.6,710.2 1909.1,711.8 1910.6,714.4 1912.1,717.1 1913.7,718.0 1915.2,717.8 1916.7,716.7 1918.2,715.3 1919.7,713.7 1921.2,710.2 1922.7,707.2 1924.3,705.7 1925.8,704.6 1927.3,701.9 1928.8,699.0 1930.3,697.9 1931.8,697.7 1933.3,698.1 1934.9,700.4 1936.4,704.5 1937.9,709.1 1939.4,713.3 1940.9,714.8 1942.4,715.3 1943.9,718.0 1945.5,721.3 1947.0,720.9 1948.5,718.9 1950.0,718.8 1951.5,721.4 1953.0,722.8 1954.5,720.7 1956.0,718.2 1957.6,717.0 1959.1,715.5 1960.6,714.5 1962.1,713.9 1963.6,713.0 1965.1,713.1 1966.6,714.3 1968.2,713.3 1969.7,708.1 1971.2,703.4 1972.7,701.3 1974.2,700.1 1975.7,698.8 1977.2,697.1 1978.8,695.8 1980.3,696.1 1981.8,697.8 1983.3,700.0 1984.8,702.5 1986.3,705.6 1987.8,707.8 1989.3,710.1 1990.9,712.9 1992.4,713.8 1993.9,714.2 1995.4,714.7 1996.9,714.6 1998.4,713.5 1999.9,713.4 2001.5,714.4 2003.0,715.9 2004.5,716.8 2006.0,715.7 2007.5,715.5 2009.0,717.4 2010.5,719.1 2012.1,718.6 2013.6,716.8 2015.1,714.8 2016.6,712.2 2018.1,710.3 2019.6,709.7 2021.1,710.0 2022.7,711.8 2024.2,713.4 2025.7,714.0 2027.2,714.3 2028.7,713.6 2030.2,713.3 2031.7,714.3 2033.2,714.1 2034.8,712.1 2036.3,710.8 2037.8,712.1 2039.3,712.2 2040.8,710.3 2042.3,709.2 2043.8,708.7 2045.4,707.5 2046.9,704.6 2048.4,699.2 2049.9,691.0 2051.4,679.9 2052.9,667.7 2054.4,656.4 2056.0,647.4 2057.5,643.1 2059.0,646.2 2060.5,655.7 2062.0,668.8 2063.5,681.4 2065.0,691.2 2066.6,699.3 2068.1,706.3 2069.6,710.0 2071.1,712.0 2072.6,713.8 2074.1,715.1 2075.6,715.5 2077.1,714.5 2078.7,713.4 2080.2,714.7 2081.7,716.7 2083.2,715.9 2084.7,713.8 2086.2,712.8 2087.7,713.5 2089.3,716.0 2090.8,719.2 2092.3,721.2 2093.8,720.3 2095.3,717.6 2096.8,716.6 2098.3,717.3 2099.9,717.8 2101.4,718.5 2102.9,718.8 2104.4,719.2 2105.9,720.0 2107.4,720.6 2108.9,719.9 2110.4,718.9 2112.0,718.9 2113.5,719.6 2115.0,720.0 2116.5,716.4 2118.0,711.1 2119.5,708.0 2121.0,708.4 2122.6,708.9 2124.1,708.7 2125.6,709.8 2127.1,712.2 2128.6,711.8 2130.1,708.5 2131.6,706.5 2133.2,706.4 2134.7,705.5 2136.2,703.7 2137.7,703.3 2139.2,702.5 2140.7,699.3 2142.2,695.0 2143.8,690.0 2145.3,684.9 2146.8,682.5 2148.3,685.1 2149.8,691.7 2151.3,699.4 2152.8,706.2 2154.3,713.2 2155.9,717.3 2157.4,716.4 2158.9,714.1 2160.4,713.2 2161.9,713.2 2163.4,714.9 2164.9,716.6 2166.5,717.1 2168.0,716.1 2169.5,713.8 2171.0,711.6 2172.5,709.0 2174.0,704.7 2175.5,700.2 2177.1,696.0 2178.6,691.2 2180.1,687.0 2181.6,685.4 2183.1,687.4 2184.6,691.2 2186.1,694.1 2187.7,695.5 2189.2,696.9 2190.7,698.3 2192.2,700.1 2193.7,703.0 2195.2,705.4 2196.7,706.7 2198.2,707.4 2199.8,706.6 2201.3,704.6 2202.8,704.1 2204.3,706.7 2205.8,710.9 2207.3,714.2 2208.8,714.5 2210.4,712.9 2211.9,712.1 2213.4,711.4 2214.9,708.6 2216.4,705.4 2217.9,702.7 2219.4,699.9 2221.0,696.2 2222.5,693.1 2224.0,691.2 2225.5,691.4 2227.0,694.3 2228.5,699.1 2230.0,703.3 2231.5,706.5 2233.1,711.0 2234.6,715.9 2236.1,717.6 2237.6,717.4 2239.1,716.3 2240.6,714.2 2242.1,710.5 2243.7,706.2 2245.2,703.8 2246.7,704.9 2248.2,708.0 2249.7,710.6 2251.2,711.7 2252.7,712.4 2254.3,713.0 2255.8,713.5 2257.3,713.5 2258.8,713.4 2260.3,712.8 2261.8,711.5 2263.3,710.5 2264.9,709.9 2266.4,708.5 2267.9,704.1 2269.4,698.8 2270.9,695.1 2272.4,695.2 2273.9,697.5 2275.4,699.7 2277.0,702.6 2278.5,706.3 2280.0,709.3 2281.5,710.6 2283.0,711.4 2284.5,712.6 2286.0,713.9 2287.6,714.8 2289.1,715.1 2290.6,715.4 2292.1,715.4 2293.6,713.4 2295.1,710.2 2296.6,706.6 2298.2,702.8 2299.7,697.3 2301.2,690.2 2302.7,683.8 2304.2,682.1 2305.7,683.6 2307.2,685.8 2308.8,686.5 2310.3,687.6 2311.8,691.0 2313.3,694.6 2314.8,697.4 2316.3,696.8 2317.8,692.2 2319.3,685.4 2320.9,678.8 2322.4,674.7 2323.9,675.2 2325.4,681.5 2326.9,692.3 2328.4,702.9 2329.9,712.3 2331.5,721.6 2333.0,730.1 2334.5,736.7 2336.0,740.3 2337.5,738.2 2339.0,732.5 2340.5,724.1 2342.1,713.6 2343.6,704.4 2345.1,699.9 2346.6,700.1 2348.1,702.4 2349.6,706.0 2351.1,709.2 2352.6,712.4 2354.2,715.3 2355.7,716.0 2357.2,715.5 2358.7,716.0 2360.2,716.8 2361.7,717.2 2363.2,717.8 2364.8,717.3 2366.3,715.2 2367.8,712.6 2369.3,708.0 2370.8,701.9 2372.3,699.1 2373.8,701.3 2375.4,704.3 2376.9,705.8 2378.4,704.8 2379.9,701.6 2381.4,695.6 2382.9,687.1 2384.4,680.2 2386.0,680.5 2387.5,688.0 2389.0,697.2 2390.5,702.8 2392.0,706.6 2393.5,709.8 2395.0,712.4 2396.5,712.9 2398.1,713.5 2399.6,714.8 2401.1,716.0 2402.6,717.5 2404.1,717.4 2405.6,716.5 2407.1,714.4 2408.7,711.5 2410.2,707.5 2411.7,701.3 2413.2,695.5 2414.7,694.1 2416.2,697.9 2417.7,703.1 2419.3,708.5 2420.8,713.9 2422.3,717.6 2423.8,718.2 2425.3,717.0 2426.8,716.5 2428.3,717.0 2429.9,717.9" fill="none" stroke="#008000" stroke-width="3.2" stroke-linejoin="round" stroke-linecap="round"/>
<path d="M1642.7,673.4 1644.2,671.7 1645.7,668.7 1647.2,666.0 1648.8,663.9 1650.3,661.0 1651.8,658.0 1653.3,655.4 1654.8,653.0 1656.3,647.3 1657.8,635.3 1659.4,616.0 1660.9,595.1 1662.4,579.1 1663.9,576.1 1665.4,586.8 1666.9,603.9 1668.4,621.9 1669.9,638.4 1671.5,650.5 1673.0,657.2 1674.5,659.0 1676.0,657.4 1677.5,655.0 1679.0,652.2 1680.5,647.8 1682.1,644.7 1683.6,646.6 1685.1,651.7 1686.6,657.5 1688.1,661.2 1689.6,663.4 1691.1,666.5 1692.7,669.7 1694.2,671.4 1695.7,672.4 1697.2,672.9 1698.7,672.2 1700.2,671.0 1701.7,669.8 1703.2,668.7 1704.8,668.5 1706.3,669.7 1707.8,670.6 1709.3,669.7 1710.8,669.0 1712.3,667.6 1713.8,665.1 1715.4,662.9 1716.9,661.4 1718.4,659.9 1719.9,656.5 1721.4,652.3 1722.9,648.6 1724.4,645.9 1726.0,645.8 1727.5,650.0 1729.0,656.6 1730.5,662.2 1732.0,666.8 1733.5,670.2 1735.0,672.2 1736.6,672.1 1738.1,670.5 1739.6,669.7 1741.1,670.5 1742.6,671.0 1744.1,670.6 1745.6,670.2 1747.1,669.0 1748.7,665.9 1750.2,662.0 1751.7,657.6 1753.2,652.3 1754.7,646.6 1756.2,643.0 1757.7,644.8 1759.3,652.1 1760.8,660.3 1762.3,666.5 1763.8,670.8 1765.3,674.2 1766.8,675.1 1768.3,674.7 1769.9,674.4 1771.4,674.3 1772.9,674.6 1774.4,673.3 1775.9,669.4 1777.4,664.1 1778.9,658.3 1780.5,651.6 1782.0,644.1 1783.5,639.5 1785.0,641.9 1786.5,647.6 1788.0,653.5 1789.5,659.4 1791.0,665.0 1792.6,668.0 1794.1,669.5 1795.6,669.8 1797.1,669.1 1798.6,668.4 1800.1,668.5 1801.6,668.3 1803.2,664.5 1804.7,659.6 1806.2,657.5 1807.7,658.4 1809.2,660.9 1810.7,663.7 1812.2,665.4 1813.8,665.6 1815.3,664.8 1816.8,663.9 1818.3,662.8 1819.8,659.9 1821.3,653.8 1822.8,645.7 1824.4,638.3 1825.9,632.0 1827.4,629.0 1828.9,630.5 1830.4,635.0 1831.9,641.9 1833.4,648.9 1834.9,653.7 1836.5,657.3 1838.0,660.5 1839.5,661.6 1841.0,661.3 1842.5,660.5 1844.0,660.0 1845.5,661.2 1847.1,663.1 1848.6,665.3 1850.1,667.5 1851.6,669.9 1853.1,671.5 1854.6,671.4 1856.1,670.1 1857.7,668.2 1859.2,664.5 1860.7,658.9 1862.2,653.9 1863.7,652.1 1865.2,652.2 1866.7,652.9 1868.2,654.0 1869.8,654.1 1871.3,655.2 1872.8,658.1 1874.3,659.2 1875.8,656.6 1877.3,650.5 1878.8,642.7 1880.4,633.5 1881.9,625.0 1883.4,621.7 1884.9,622.7 1886.4,626.1 1887.9,633.1 1889.4,638.3 1891.0,636.2 1892.5,630.1 1894.0,623.4 1895.5,618.3 1897.0,617.0 1898.5,620.0 1900.0,628.2 1901.6,640.7 1903.1,652.2 1904.6,660.8 1906.1,666.2 1907.6,669.0 1909.1,671.7 1910.6,674.3 1912.1,674.9 1913.7,674.5 1915.2,674.6 1916.7,675.1 1918.2,675.2 1919.7,673.2 1921.2,670.5 1922.7,668.6 1924.3,667.3 1925.8,665.6 1927.3,663.8 1928.8,660.2 1930.3,656.1 1931.8,653.0 1933.3,652.1 1934.9,654.6 1936.4,658.0 1937.9,660.5 1939.4,664.1 1940.9,668.1 1942.4,671.6 1943.9,674.4 1945.5,676.3 1947.0,677.5 1948.5,679.5 1950.0,680.2 1951.5,678.5 1953.0,676.3 1954.5,674.5 1956.0,674.5 1957.6,674.4 1959.1,673.2 1960.6,672.0 1962.1,671.3 1963.6,669.4 1965.1,666.9 1966.6,664.8 1968.2,664.3 1969.7,666.0 1971.2,669.0 1972.7,671.6 1974.2,672.6 1975.7,671.4 1977.2,670.4 1978.8,670.4 1980.3,670.0 1981.8,670.1 1983.3,670.7 1984.8,671.4 1986.3,671.8 1987.8,671.6 1989.3,671.5 1990.9,672.7 1992.4,674.5 1993.9,677.0 1995.4,680.1 1996.9,681.7 1998.4,681.2 1999.9,680.8 2001.5,680.5 2003.0,680.8 2004.5,680.9 2006.0,679.0 2007.5,677.7 2009.0,676.8 2010.5,676.0 2012.1,676.6 2013.6,678.4 2015.1,679.2 2016.6,678.3 2018.1,675.7 2019.6,673.0 2021.1,672.3 2022.7,672.1 2024.2,671.1 2025.7,669.2 2027.2,665.9 2028.7,661.6 2030.2,660.4 2031.7,662.4 2033.2,662.9 2034.8,661.6 2036.3,660.1 2037.8,658.6 2039.3,659.3 2040.8,661.8 2042.3,662.3 2043.8,658.6 2045.4,654.2 2046.9,653.0 2048.4,651.3 2049.9,646.5 2051.4,639.3 2052.9,628.0 2054.4,614.2 2056.0,603.3 2057.5,598.9 2059.0,602.0 2060.5,611.4 2062.0,624.1 2063.5,637.0 2065.0,646.6 2066.6,652.1 2068.1,656.9 2069.6,661.1 2071.1,662.7 2072.6,662.0 2074.1,659.7 2075.6,658.1 2077.1,657.8 2078.7,658.3 2080.2,659.8 2081.7,661.9 2083.2,662.6 2084.7,660.8 2086.2,660.0 2087.7,659.9 2089.3,660.2 2090.8,659.4 2092.3,657.0 2093.8,653.6 2095.3,652.0 2096.8,653.6 2098.3,655.6 2099.9,659.5 2101.4,666.5 2102.9,671.6 2104.4,673.4 2105.9,674.3 2107.4,675.9 2108.9,676.2 2110.4,675.1 2112.0,675.8 2113.5,678.4 2115.0,679.6 2116.5,680.2 2118.0,680.9 2119.5,682.0 2121.0,683.0 2122.6,683.5 2124.1,684.2 2125.6,684.3 2127.1,683.0 2128.6,680.4 2130.1,678.0 2131.6,677.2 2133.2,677.1 2134.7,676.6 2136.2,675.6 2137.7,675.0 2139.2,672.9 2140.7,669.8 2142.2,667.8 2143.8,667.2 2145.3,667.2 2146.8,668.1 2148.3,670.2 2149.8,672.8 2151.3,673.9 2152.8,674.7 2154.3,675.7 2155.9,676.6 2157.4,677.2 2158.9,677.5 2160.4,676.0 2161.9,673.2 2163.4,671.2 2164.9,669.8 2166.5,668.8 2168.0,668.4 2169.5,669.4 2171.0,670.5 2172.5,669.8 2174.0,667.1 2175.5,662.5 2177.1,657.0 2178.6,652.0 2180.1,649.9 2181.6,650.2 2183.1,652.3 2184.6,657.0 2186.1,661.7 2187.7,665.1 2189.2,668.0 2190.7,669.8 2192.2,668.3 2193.7,665.0 2195.2,661.0 2196.7,656.9 2198.2,655.2 2199.8,656.0 2201.3,657.1 2202.8,655.1 2204.3,652.5 2205.8,653.9 2207.3,657.7 2208.8,661.5 2210.4,663.8 2211.9,664.0 2213.4,662.6 2214.9,658.5 2216.4,652.6 2217.9,647.8 2219.4,644.9 2221.0,642.0 2222.5,637.9 2224.0,635.3 2225.5,637.0 2227.0,641.3 2228.5,645.8 2230.0,651.6 2231.5,657.5 2233.1,662.6 2234.6,667.6 2236.1,671.8 2237.6,673.7 2239.1,674.7 2240.6,676.4 2242.1,678.2 2243.7,679.6 2245.2,679.1 2246.7,676.9 2248.2,674.3 2249.7,673.6 2251.2,673.0 2252.7,670.5 2254.3,666.7 2255.8,663.7 2257.3,662.0 2258.8,662.4 2260.3,664.4 2261.8,666.1 2263.3,665.9 2264.9,663.2 2266.4,659.2 2267.9,655.5 2269.4,651.8 2270.9,649.3 2272.4,647.9 2273.9,649.2 2275.4,653.0 2277.0,659.3 2278.5,664.4 2280.0,667.2 2281.5,668.0 2283.0,667.4 2284.5,666.5 2286.0,666.2 2287.6,666.4 2289.1,667.6 2290.6,668.6 2292.1,669.3 2293.6,669.6 2295.1,669.1 2296.6,667.9 2298.2,666.2 2299.7,662.6 2301.2,659.6 2302.7,658.3 2304.2,659.1 2305.7,662.1 2307.2,665.4 2308.8,668.2 2310.3,669.9 2311.8,670.4 2313.3,668.9 2314.8,664.5 2316.3,658.1 2317.8,649.6 2319.3,638.5 2320.9,628.0 2322.4,622.8 2323.9,624.9 2325.4,633.9 2326.9,647.3 2328.4,660.0 2329.9,671.4 2331.5,683.4 2333.0,694.8 2334.5,702.9 2336.0,705.7 2337.5,702.8 2339.0,697.6 2340.5,692.2 2342.1,686.5 2343.6,681.2 2345.1,676.4 2346.6,674.1 2348.1,674.3 2349.6,673.6 2351.1,671.0 2352.6,668.5 2354.2,666.8 2355.7,664.5 2357.2,664.1 2358.7,668.3 2360.2,675.2 2361.7,684.7 2363.2,694.8 2364.8,703.5 2366.3,707.6 2367.8,703.9 2369.3,695.2 2370.8,685.4 2372.3,676.6 2373.8,670.8 2375.4,668.2 2376.9,666.2 2378.4,662.1 2379.9,654.6 2381.4,645.3 2382.9,637.4 2384.4,634.3 2386.0,637.8 2387.5,645.0 2389.0,653.5 2390.5,661.4 2392.0,666.8 2393.5,668.8 2395.0,669.8 2396.5,670.0 2398.1,667.7 2399.6,664.8 2401.1,663.0 2402.6,663.6 2404.1,665.8 2405.6,669.6 2407.1,672.2 2408.7,672.6 2410.2,673.8 2411.7,675.5 2413.2,676.6 2414.7,675.7 2416.2,674.1 2417.7,673.6 2419.3,673.8 2420.8,673.1 2422.3,671.0 2423.8,669.7 2425.3,669.1 2426.8,669.1 2428.3,669.0 2429.9,669.0" fill="none" stroke="#ff00ff" stroke-width="3.2" stroke-linejoin="round" stroke-linecap="round"/>
<path d="M1642.7,628.2 1644.2,623.5 1645.7,620.2 1647.2,622.7 1648.8,627.9 1650.3,629.8 1651.8,628.2 1653.3,625.6 1654.8,621.0 1656.3,612.0 1657.8,595.7 1659.4,574.4 1660.9,551.5 1662.4,532.7 1663.9,528.3 1665.4,540.6 1666.9,560.5 1668.4,579.3 1669.9,595.1 1671.5,608.0 1673.0,617.1 1674.5,621.4 1676.0,621.7 1677.5,618.7 1679.0,611.7 1680.5,603.9 1682.1,597.6 1683.6,594.0 1685.1,596.4 1686.6,604.2 1688.1,612.2 1689.6,617.3 1691.1,619.8 1692.7,621.8 1694.2,622.8 1695.7,624.2 1697.2,626.2 1698.7,628.2 1700.2,629.1 1701.7,629.1 1703.2,627.7 1704.8,626.0 1706.3,626.5 1707.8,629.0 1709.3,630.9 1710.8,629.3 1712.3,625.3 1713.8,621.5 1715.4,617.9 1716.9,615.3 1718.4,613.4 1719.9,611.6 1721.4,610.0 1722.9,610.6 1724.4,613.1 1726.0,615.6 1727.5,619.4 1729.0,623.8 1730.5,628.0 1732.0,631.7 1733.5,633.7 1735.0,633.6 1736.6,632.9 1738.1,632.4 1739.6,631.6 1741.1,629.0 1742.6,625.7 1744.1,624.9 1745.6,625.3 1747.1,624.3 1748.7,622.8 1750.2,622.4 1751.7,622.1 1753.2,621.6 1754.7,621.5 1756.2,623.3 1757.7,626.3 1759.3,630.5 1760.8,635.7 1762.3,639.4 1763.8,640.4 1765.3,640.0 1766.8,640.1 1768.3,639.6 1769.9,637.6 1771.4,634.3 1772.9,630.2 1774.4,624.8 1775.9,616.4 1777.4,604.1 1778.9,589.9 1780.5,576.7 1782.0,567.9 1783.5,566.3 1785.0,572.0 1786.5,581.7 1788.0,591.6 1789.5,600.9 1791.0,611.0 1792.6,619.9 1794.1,626.1 1795.6,628.6 1797.1,629.5 1798.6,630.9 1800.1,630.5 1801.6,626.7 1803.2,622.1 1804.7,619.6 1806.2,617.6 1807.7,616.3 1809.2,613.7 1810.7,610.9 1812.2,610.9 1813.8,615.3 1815.3,621.6 1816.8,625.1 1818.3,625.2 1819.8,623.3 1821.3,620.8 1822.8,617.6 1824.4,612.1 1825.9,606.6 1827.4,604.0 1828.9,603.9 1830.4,604.8 1831.9,607.5 1833.4,612.5 1834.9,619.6 1836.5,625.3 1838.0,629.0 1839.5,632.4 1841.0,635.7 1842.5,637.0 1844.0,636.3 1845.5,635.0 1847.1,632.8 1848.6,630.6 1850.1,626.4 1851.6,620.4 1853.1,615.3 1854.6,609.3 1856.1,604.3 1857.7,604.0 1859.2,607.7 1860.7,611.4 1862.2,613.5 1863.7,614.2 1865.2,615.7 1866.7,618.7 1868.2,621.9 1869.8,623.6 1871.3,623.3 1872.8,623.1 1874.3,625.8 1875.8,627.7 1877.3,628.9 1878.8,630.8 1880.4,632.7 1881.9,633.6 1883.4,632.9 1884.9,632.5 1886.4,632.8 1887.9,632.4 1889.4,628.5 1891.0,622.0 1892.5,615.0 1894.0,607.3 1895.5,601.0 1897.0,600.2 1898.5,604.8 1900.0,611.4 1901.6,618.3 1903.1,624.4 1904.6,629.1 1906.1,632.2 1907.6,633.9 1909.1,633.6 1910.6,631.1 1912.1,629.6 1913.7,629.0 1915.2,630.1 1916.7,633.0 1918.2,634.2 1919.7,633.6 1921.2,632.7 1922.7,632.3 1924.3,633.2 1925.8,631.2 1927.3,627.4 1928.8,623.7 1930.3,620.0 1931.8,617.1 1933.3,617.3 1934.9,619.2 1936.4,622.6 1937.9,627.9 1939.4,632.8 1940.9,636.4 1942.4,639.1 1943.9,639.9 1945.5,640.5 1947.0,641.5 1948.5,640.6 1950.0,637.2 1951.5,633.0 1953.0,629.9 1954.5,629.6 1956.0,629.7 1957.6,628.6 1959.1,626.1 1960.6,623.2 1962.1,621.3 1963.6,622.1 1965.1,625.6 1966.6,629.6 1968.2,632.2 1969.7,634.1 1971.2,636.3 1972.7,637.5 1974.2,637.4 1975.7,634.7 1977.2,630.7 1978.8,627.4 1980.3,625.0 1981.8,623.5 1983.3,625.3 1984.8,628.9 1986.3,631.7 1987.8,634.3 1989.3,637.3 1990.9,639.3 1992.4,639.3 1993.9,638.0 1995.4,637.8 1996.9,637.7 1998.4,637.4 1999.9,638.1 2001.5,639.1 2003.0,637.4 2004.5,634.4 2006.0,632.1 2007.5,631.3 2009.0,632.3 2010.5,633.3 2012.1,634.0 2013.6,633.5 2015.1,630.7 2016.6,627.8 2018.1,627.6 2019.6,627.5 2021.1,629.2 2022.7,631.8 2024.2,633.6 2025.7,636.4 2027.2,639.9 2028.7,642.5 2030.2,645.0 2031.7,645.4 2033.2,644.2 2034.8,643.4 2036.3,640.9 2037.8,635.7 2039.3,630.4 2040.8,627.5 2042.3,625.5 2043.8,624.5 2045.4,624.5 2046.9,621.5 2048.4,615.3 2049.9,607.8 2051.4,599.1 2052.9,586.5 2054.4,570.6 2056.0,556.6 2057.5,551.0 2059.0,555.6 2060.5,565.8 2062.0,577.9 2063.5,589.8 2065.0,600.0 2066.6,608.8 2068.1,617.0 2069.6,623.5 2071.1,626.0 2072.6,625.3 2074.1,622.7 2075.6,617.4 2077.1,612.4 2078.7,612.8 2080.2,616.3 2081.7,619.4 2083.2,620.6 2084.7,620.2 2086.2,621.6 2087.7,624.5 2089.3,626.1 2090.8,626.3 2092.3,625.7 2093.8,625.2 2095.3,624.7 2096.8,626.5 2098.3,632.2 2099.9,637.8 2101.4,640.5 2102.9,640.4 2104.4,639.3 2105.9,638.6 2107.4,638.6 2108.9,638.7 2110.4,639.7 2112.0,640.0 2113.5,638.5 2115.0,637.3 2116.5,637.4 2118.0,637.3 2119.5,637.3 2121.0,637.3 2122.6,638.1 2124.1,638.7 2125.6,637.5 2127.1,635.6 2128.6,634.4 2130.1,634.0 2131.6,635.5 2133.2,637.5 2134.7,638.5 2136.2,637.9 2137.7,635.2 2139.2,629.5 2140.7,620.9 2142.2,611.2 2143.8,603.5 2145.3,602.2 2146.8,606.2 2148.3,612.3 2149.8,619.8 2151.3,624.9 2152.8,628.1 2154.3,631.2 2155.9,631.7 2157.4,629.6 2158.9,627.3 2160.4,625.5 2161.9,624.3 2163.4,623.3 2164.9,621.6 2166.5,621.1 2168.0,622.8 2169.5,625.8 2171.0,627.6 2172.5,625.7 2174.0,621.2 2175.5,616.9 2177.1,613.1 2178.6,610.0 2180.1,606.2 2181.6,602.0 2183.1,601.4 2184.6,604.9 2186.1,608.2 2187.7,610.6 2189.2,614.9 2190.7,621.7 2192.2,628.6 2193.7,633.5 2195.2,637.3 2196.7,640.4 2198.2,641.5 2199.8,640.9 2201.3,640.3 2202.8,638.0 2204.3,636.0 2205.8,634.9 2207.3,632.4 2208.8,629.4 2210.4,626.8 2211.9,623.8 2213.4,622.1 2214.9,621.6 2216.4,620.8 2217.9,620.2 2219.4,618.9 2221.0,616.8 2222.5,613.8 2224.0,612.1 2225.5,612.5 2227.0,614.0 2228.5,616.5 2230.0,620.3 2231.5,624.6 2233.1,628.8 2234.6,632.1 2236.1,635.2 2237.6,637.4 2239.1,638.1 2240.6,638.9 2242.1,640.4 2243.7,641.6 2245.2,643.3 2246.7,645.3 2248.2,646.1 2249.7,646.1 2251.2,644.7 2252.7,642.9 2254.3,641.5 2255.8,639.9 2257.3,639.3 2258.8,639.3 2260.3,637.5 2261.8,634.7 2263.3,632.5 2264.9,629.7 2266.4,625.4 2267.9,620.3 2269.4,615.3 2270.9,612.8 2272.4,614.6 2273.9,618.2 2275.4,621.5 2277.0,624.3 2278.5,627.5 2280.0,632.8 2281.5,637.4 2283.0,638.6 2284.5,638.7 2286.0,637.4 2287.6,635.8 2289.1,635.4 2290.6,634.4 2292.1,631.0 2293.6,626.7 2295.1,622.6 2296.6,618.1 2298.2,613.3 2299.7,608.7 2301.2,605.5 2302.7,604.7 2304.2,607.4 2305.7,612.4 2307.2,619.9 2308.8,627.9 2310.3,633.1 2311.8,634.8 2313.3,633.5 2314.8,629.2 2316.3,623.2 2317.8,615.9 2319.3,606.9 2320.9,598.0 2322.4,593.3 2323.9,594.6 2325.4,601.3 2326.9,611.0 2328.4,621.7 2329.9,631.8 2331.5,641.8 2333.0,651.2 2334.5,658.7 2336.0,661.5 2337.5,657.2 2339.0,649.3 2340.5,641.7 2342.1,637.3 2343.6,637.2 2345.1,639.1 2346.6,640.3 2348.1,639.2 2349.6,638.5 2351.1,639.8 2352.6,640.0 2354.2,638.0 2355.7,636.2 2357.2,636.9 2358.7,640.7 2360.2,646.0 2361.7,652.7 2363.2,661.6 2364.8,672.0 2366.3,678.1 2367.8,675.9 2369.3,667.9 2370.8,658.7 2372.3,650.8 2373.8,644.7 2375.4,640.1 2376.9,634.2 2378.4,625.5 2379.9,616.3 2381.4,607.4 2382.9,598.7 2384.4,593.1 2386.0,593.8 2387.5,600.6 2389.0,610.5 2390.5,620.6 2392.0,627.8 2393.5,631.4 2395.0,633.3 2396.5,636.5 2398.1,641.2 2399.6,644.1 2401.1,643.2 2402.6,640.6 2404.1,638.4 2405.6,636.4 2407.1,633.6 2408.7,630.6 2410.2,628.7 2411.7,629.6 2413.2,634.0 2414.7,638.1 2416.2,639.4 2417.7,639.3 2419.3,639.8 2420.8,641.0 2422.3,641.9 2423.8,641.0 2425.3,639.9 2426.8,640.0 2428.3,641.2 2429.9,640.7" fill="none" stroke="#0000ff" stroke-width="3.2" stroke-linejoin="round" stroke-linecap="round"/>
<path d="M1642.7,595.9 1644.2,593.2 1645.7,593.7 1647.2,594.6 1648.8,594.5 1650.3,593.1 1651.8,591.2 1653.3,587.9 1654.8,581.1 1656.3,569.9 1657.8,553.3 1659.4,532.6 1660.9,510.0 1662.4,491.6 1663.9,487.3 1665.4,500.7 1666.9,524.2 1668.4,547.5 1669.9,566.4 1671.5,578.6 1673.0,584.9 1674.5,586.7 1676.0,585.9 1677.5,583.6 1679.0,578.9 1680.5,572.1 1682.1,567.3 1683.6,567.8 1685.1,571.8 1686.6,577.2 1688.1,583.0 1689.6,586.8 1691.1,588.7 1692.7,589.0 1694.2,587.4 1695.7,587.9 1697.2,591.2 1698.7,593.8 1700.2,596.1 1701.7,599.3 1703.2,600.9 1704.8,600.2 1706.3,599.6 1707.8,598.4 1709.3,597.0 1710.8,596.4 1712.3,596.3 1713.8,596.7 1715.4,596.9 1716.9,595.2 1718.4,590.7 1719.9,583.5 1721.4,575.7 1722.9,571.2 1724.4,569.7 1726.0,568.6 1727.5,568.8 1729.0,571.9 1730.5,577.5 1732.0,582.4 1733.5,586.1 1735.0,590.9 1736.6,595.5 1738.1,598.0 1739.6,599.2 1741.1,600.4 1742.6,599.9 1744.1,597.4 1745.6,595.1 1747.1,592.6 1748.7,590.5 1750.2,589.9 1751.7,588.2 1753.2,585.1 1754.7,584.2 1756.2,585.7 1757.7,587.6 1759.3,590.0 1760.8,593.3 1762.3,597.5 1763.8,600.7 1765.3,600.2 1766.8,598.2 1768.3,597.2 1769.9,597.2 1771.4,597.3 1772.9,595.8 1774.4,592.9 1775.9,588.8 1777.4,582.9 1778.9,574.8 1780.5,566.4 1782.0,561.3 1783.5,559.8 1785.0,561.6 1786.5,564.7 1788.0,568.1 1789.5,572.8 1791.0,578.9 1792.6,585.6 1794.1,591.0 1795.6,593.0 1797.1,593.0 1798.6,593.1 1800.1,592.1 1801.6,590.3 1803.2,587.1 1804.7,582.7 1806.2,578.4 1807.7,576.2 1809.2,574.1 1810.7,571.3 1812.2,569.1 1813.8,570.0 1815.3,574.6 1816.8,578.2 1818.3,577.8 1819.8,573.1 1821.3,566.0 1822.8,559.3 1824.4,553.2 1825.9,549.1 1827.4,547.9 1828.9,551.9 1830.4,559.2 1831.9,566.2 1833.4,572.2 1834.9,577.5 1836.5,580.9 1838.0,583.1 1839.5,584.4 1841.0,583.6 1842.5,581.7 1844.0,580.9 1845.5,579.3 1847.1,577.7 1848.6,578.1 1850.1,579.7 1851.6,581.1 1853.1,581.8 1854.6,583.7 1856.1,585.5 1857.7,584.8 1859.2,581.1 1860.7,576.8 1862.2,572.8 1863.7,570.2 1865.2,569.9 1866.7,572.9 1868.2,580.5 1869.8,589.5 1871.3,596.6 1872.8,600.4 1874.3,600.4 1875.8,600.1 1877.3,599.4 1878.8,598.5 1880.4,595.8 1881.9,592.9 1883.4,591.9 1884.9,591.6 1886.4,589.4 1887.9,584.8 1889.4,578.4 1891.0,567.0 1892.5,550.4 1894.0,532.4 1895.5,519.5 1897.0,518.0 1898.5,527.6 1900.0,541.3 1901.6,555.4 1903.1,568.0 1904.6,577.2 1906.1,584.1 1907.6,589.8 1909.1,594.0 1910.6,594.7 1912.1,594.8 1913.7,596.0 1915.2,597.0 1916.7,596.6 1918.2,596.0 1919.7,595.4 1921.2,593.5 1922.7,587.8 1924.3,578.5 1925.8,569.6 1927.3,563.1 1928.8,559.7 1930.3,559.6 1931.8,561.0 1933.3,564.8 1934.9,569.2 1936.4,573.6 1937.9,578.8 1939.4,582.7 1940.9,584.1 1942.4,585.0 1943.9,587.4 1945.5,589.7 1947.0,591.3 1948.5,593.8 1950.0,596.3 1951.5,597.5 1953.0,596.4 1954.5,596.4 1956.0,598.7 1957.6,599.2 1959.1,598.0 1960.6,598.9 1962.1,601.4 1963.6,602.6 1965.1,602.5 1966.6,603.1 1968.2,603.1 1969.7,601.1 1971.2,596.6 1972.7,592.9 1974.2,591.1 1975.7,588.7 1977.2,585.4 1978.8,581.8 1980.3,579.9 1981.8,579.9 1983.3,582.5 1984.8,585.6 1986.3,589.2 1987.8,594.1 1989.3,597.0 1990.9,597.9 1992.4,599.4 1993.9,602.1 1995.4,603.8 1996.9,602.6 1998.4,600.8 1999.9,599.7 2001.5,599.7 2003.0,600.0 2004.5,600.0 2006.0,600.6 2007.5,601.5 2009.0,602.0 2010.5,602.6 2012.1,604.4 2013.6,606.3 2015.1,606.3 2016.6,606.0 2018.1,606.3 2019.6,606.2 2021.1,605.7 2022.7,605.8 2024.2,605.8 2025.7,605.3 2027.2,605.7 2028.7,605.4 2030.2,603.3 2031.7,601.2 2033.2,600.0 2034.8,598.7 2036.3,596.7 2037.8,595.6 2039.3,595.3 2040.8,593.9 2042.3,591.3 2043.8,588.9 2045.4,585.8 2046.9,581.3 2048.4,575.2 2049.9,566.2 2051.4,554.1 2052.9,541.3 2054.4,531.1 2056.0,526.2 2057.5,527.2 2059.0,533.2 2060.5,542.7 2062.0,554.5 2063.5,566.4 2065.0,574.1 2066.6,578.8 2068.1,582.8 2069.6,584.9 2071.1,586.0 2072.6,584.6 2074.1,582.8 2075.6,583.5 2077.1,585.3 2078.7,585.3 2080.2,583.4 2081.7,580.5 2083.2,578.4 2084.7,580.3 2086.2,584.5 2087.7,588.1 2089.3,590.8 2090.8,593.2 2092.3,595.1 2093.8,595.4 2095.3,596.0 2096.8,597.1 2098.3,596.3 2099.9,595.4 2101.4,594.5 2102.9,592.8 2104.4,590.5 2105.9,587.1 2107.4,584.3 2108.9,584.1 2110.4,585.6 2112.0,589.8 2113.5,594.1 2115.0,596.6 2116.5,598.2 2118.0,599.6 2119.5,601.6 2121.0,602.6 2122.6,602.7 2124.1,602.0 2125.6,601.2 2127.1,600.7 2128.6,600.5 2130.1,599.3 2131.6,597.6 2133.2,595.4 2134.7,590.0 2136.2,581.9 2137.7,575.6 2139.2,572.0 2140.7,568.1 2142.2,562.9 2143.8,558.0 2145.3,554.2 2146.8,554.1 2148.3,558.9 2149.8,567.7 2151.3,577.1 2152.8,585.2 2154.3,590.4 2155.9,592.1 2157.4,590.9 2158.9,587.4 2160.4,583.8 2161.9,584.0 2163.4,585.1 2164.9,583.8 2166.5,581.0 2168.0,577.8 2169.5,574.5 2171.0,571.2 2172.5,569.9 2174.0,570.2 2175.5,569.6 2177.1,567.3 2178.6,562.2 2180.1,557.1 2181.6,556.6 2183.1,558.9 2184.6,562.0 2186.1,565.9 2187.7,567.8 2189.2,566.5 2190.7,567.0 2192.2,571.5 2193.7,575.3 2195.2,575.9 2196.7,575.1 2198.2,571.5 2199.8,564.4 2201.3,556.6 2202.8,554.9 2204.3,563.1 2205.8,575.4 2207.3,584.8 2208.8,589.6 2210.4,590.8 2211.9,591.1 2213.4,591.1 2214.9,589.2 2216.4,586.5 2217.9,583.0 2219.4,577.9 2221.0,573.5 2222.5,572.2 2224.0,573.2 2225.5,575.1 2227.0,577.5 2228.5,581.7 2230.0,586.6 2231.5,591.2 2233.1,594.1 2234.6,593.9 2236.1,591.7 2237.6,590.4 2239.1,591.9 2240.6,594.3 2242.1,596.8 2243.7,598.6 2245.2,598.7 2246.7,598.1 2248.2,597.4 2249.7,596.6 2251.2,596.1 2252.7,595.9 2254.3,593.9 2255.8,590.6 2257.3,586.2 2258.8,581.9 2260.3,578.5 2261.8,577.5 2263.3,577.3 2264.9,576.7 2266.4,575.0 2267.9,570.5 2269.4,564.7 2270.9,560.7 2272.4,559.6 2273.9,562.0 2275.4,568.0 2277.0,575.6 2278.5,582.8 2280.0,588.2 2281.5,591.4 2283.0,593.4 2284.5,593.8 2286.0,593.0 2287.6,591.4 2289.1,589.9 2290.6,590.1 2292.1,591.0 2293.6,590.4 2295.1,589.4 2296.6,587.6 2298.2,584.2 2299.7,577.8 2301.2,570.0 2302.7,566.6 2304.2,568.3 2305.7,571.9 2307.2,575.7 2308.8,580.3 2310.3,584.7 2311.8,587.7 2313.3,587.6 2314.8,584.8 2316.3,580.0 2317.8,574.0 2319.3,565.8 2320.9,558.3 2322.4,554.9 2323.9,557.3 2325.4,564.3 2326.9,574.0 2328.4,583.9 2329.9,594.1 2331.5,604.4 2333.0,614.3 2334.5,623.5 2336.0,629.4 2337.5,629.6 2339.0,626.4 2340.5,621.5 2342.1,614.5 2343.6,606.7 2345.1,602.7 2346.6,602.8 2348.1,603.5 2349.6,603.5 2351.1,602.7 2352.6,601.9 2354.2,600.0 2355.7,596.5 2357.2,592.9 2358.7,590.8 2360.2,593.3 2361.7,601.3 2363.2,612.1 2364.8,621.0 2366.3,624.0 2367.8,620.4 2369.3,613.7 2370.8,608.3 2372.3,603.1 2373.8,597.7 2375.4,594.1 2376.9,590.6 2378.4,584.0 2379.9,573.1 2381.4,558.9 2382.9,545.0 2384.4,535.3 2386.0,535.7 2387.5,545.3 2389.0,559.2 2390.5,572.9 2392.0,585.4 2393.5,594.2 2395.0,598.5 2396.5,600.6 2398.1,602.0 2399.6,601.9 2401.1,599.7 2402.6,598.0 2404.1,597.1 2405.6,595.9 2407.1,594.0 2408.7,590.9 2410.2,589.5 2411.7,592.3 2413.2,595.0 2414.7,594.8 2416.2,593.2 2417.7,591.7 2419.3,592.3 2420.8,595.4 2422.3,598.8 2423.8,600.5 2425.3,600.0 2426.8,600.2 2428.3,601.8 2429.9,602.6" fill="none" stroke="#ff0000" stroke-width="3.2" stroke-linejoin="round" stroke-linecap="round"/>
<path d="M1642.7,552.2 1644.2,541.8 1645.7,532.6 1647.2,523.5 1648.8,514.2 1650.3,502.7 1651.8,491.3 1653.3,481.1 1654.8,470.7 1656.3,458.2 1657.8,464.0 1659.4,471.4 1660.9,479.3 1662.4,486.9 1663.9,497.4 1665.4,514.7 1666.9,531.7 1668.4,546.0 1669.9,542.5 1671.5,537.8 1673.0,533.7 1674.5,531.6 1676.0,529.9 1677.5,526.9 1679.0,528.6 1680.5,532.4 1682.1,536.0 1683.6,541.3 1685.1,549.5 1686.6,557.4 1688.1,560.0 1689.6,557.0 1691.1,554.1 1692.7,551.2 1694.2,548.6 1695.7,547.4 1697.2,546.9 1698.7,546.9 1700.2,547.0 1701.7,546.4 1703.2,545.1 1704.8,544.2 1706.3,545.1 1707.8,547.3 1709.3,549.2 1710.8,550.5 1712.3,551.7 1713.8,553.0 1715.4,549.8 1716.9,546.3 1718.4,541.5 1719.9,537.2 1721.4,535.6 1722.9,533.1 1724.4,528.3 1726.0,524.5 1727.5,530.6 1729.0,536.7 1730.5,540.4 1732.0,543.3 1733.5,546.8 1735.0,551.2 1736.6,554.9 1738.1,558.9 1739.6,558.9 1741.1,557.8 1742.6,555.0 1744.1,552.0 1745.6,549.5 1747.1,547.8 1748.7,545.5 1750.2,543.7 1751.7,543.3 1753.2,544.7 1754.7,544.5 1756.2,543.6 1757.7,541.8 1759.3,541.0 1760.8,542.2 1762.3,544.2 1763.8,546.0 1765.3,546.3 1766.8,546.7 1768.3,542.1 1769.9,535.9 1771.4,528.5 1772.9,522.4 1774.4,517.2 1775.9,510.9 1777.4,504.8 1778.9,501.1 1780.5,499.2 1782.0,505.3 1783.5,512.1 1785.0,519.4 1786.5,525.5 1788.0,531.7 1789.5,539.0 1791.0,544.5 1792.6,545.2 1794.1,546.3 1795.6,546.8 1797.1,546.4 1798.6,547.4 1800.1,549.3 1801.6,550.9 1803.2,551.9 1804.7,552.9 1806.2,553.4 1807.7,553.6 1809.2,550.4 1810.7,547.0 1812.2,542.7 1813.8,538.3 1815.3,534.5 1816.8,531.6 1818.3,528.5 1819.8,524.6 1821.3,520.6 1822.8,516.2 1824.4,512.2 1825.9,514.4 1827.4,516.5 1828.9,519.9 1830.4,523.3 1831.9,525.4 1833.4,527.5 1834.9,530.4 1836.5,532.2 1838.0,532.0 1839.5,533.0 1841.0,536.0 1842.5,539.6 1844.0,542.3 1845.5,543.6 1847.1,544.3 1848.6,545.0 1850.1,544.7 1851.6,544.9 1853.1,545.2 1854.6,545.8 1856.1,547.0 1857.7,546.6 1859.2,544.4 1860.7,543.2 1862.2,544.0 1863.7,546.5 1865.2,548.7 1866.7,549.7 1868.2,551.3 1869.8,553.7 1871.3,555.3 1872.8,556.0 1874.3,557.1 1875.8,560.0 1877.3,562.3 1878.8,558.1 1880.4,552.8 1881.9,545.7 1883.4,539.7 1884.9,535.6 1886.4,531.3 1887.9,525.4 1889.4,518.6 1891.0,512.6 1892.5,508.5 1894.0,507.2 1895.5,512.9 1897.0,516.2 1898.5,520.0 1900.0,524.6 1901.6,529.2 1903.1,533.2 1904.6,532.4 1906.1,531.4 1907.6,531.8 1909.1,531.4 1910.6,530.8 1912.1,531.3 1913.7,533.4 1915.2,535.5 1916.7,536.3 1918.2,536.8 1919.7,538.7 1921.2,540.5 1922.7,542.6 1924.3,543.7 1925.8,542.4 1927.3,542.0 1928.8,543.7 1930.3,544.3 1931.8,543.3 1933.3,543.4 1934.9,545.6 1936.4,548.2 1937.9,548.6 1939.4,547.4 1940.9,546.7 1942.4,547.7 1943.9,550.0 1945.5,551.4 1947.0,551.2 1948.5,550.7 1950.0,550.5 1951.5,549.6 1953.0,549.3 1954.5,550.7 1956.0,552.8 1957.6,553.2 1959.1,551.8 1960.6,551.9 1962.1,553.5 1963.6,551.8 1965.1,548.6 1966.6,547.4 1968.2,547.7 1969.7,546.5 1971.2,544.4 1972.7,543.9 1974.2,544.8 1975.7,544.9 1977.2,543.8 1978.8,541.9 1980.3,539.3 1981.8,537.0 1983.3,535.8 1984.8,538.6 1986.3,542.2 1987.8,544.5 1989.3,548.0 1990.9,552.6 1992.4,556.3 1993.9,558.8 1995.4,557.9 1996.9,556.5 1998.4,555.8 1999.9,556.2 2001.5,555.8 2003.0,554.0 2004.5,552.5 2006.0,550.7 2007.5,549.1 2009.0,548.5 2010.5,549.4 2012.1,550.1 2013.6,549.4 2015.1,548.1 2016.6,548.5 2018.1,549.7 2019.6,550.7 2021.1,550.8 2022.7,550.5 2024.2,550.1 2025.7,550.9 2027.2,553.0 2028.7,555.1 2030.2,554.9 2031.7,553.7 2033.2,553.8 2034.8,553.9 2036.3,552.1 2037.8,548.9 2039.3,545.6 2040.8,543.6 2042.3,535.8 2043.8,523.3 2045.4,510.1 2046.9,497.6 2048.4,485.6 2049.9,474.6 2051.4,467.9 2052.9,475.7 2054.4,482.2 2056.0,487.7 2057.5,494.2 2059.0,502.5 2060.5,511.3 2062.0,520.3 2063.5,528.9 2065.0,537.5 2066.6,541.0 2068.1,542.4 2069.6,543.5 2071.1,545.2 2072.6,545.6 2074.1,544.8 2075.6,544.5 2077.1,544.3 2078.7,543.6 2080.2,545.2 2081.7,548.4 2083.2,551.1 2084.7,552.5 2086.2,554.7 2087.7,558.4 2089.3,562.0 2090.8,564.9 2092.3,566.0 2093.8,564.9 2095.3,564.3 2096.8,564.6 2098.3,565.0 2099.9,564.3 2101.4,562.8 2102.9,561.5 2104.4,559.8 2105.9,557.5 2107.4,556.7 2108.9,556.4 2110.4,554.4 2112.0,551.9 2113.5,550.4 2115.0,550.0 2116.5,549.4 2118.0,548.3 2119.5,546.1 2121.0,543.4 2122.6,541.0 2124.1,539.8 2125.6,539.0 2127.1,538.1 2128.6,537.6 2130.1,537.4 2131.6,537.1 2133.2,535.8 2134.7,533.1 2136.2,531.3 2137.7,531.4 2139.2,531.3 2140.7,530.9 2142.2,530.2 2143.8,529.1 2145.3,530.4 2146.8,536.0 2148.3,542.4 2149.8,549.9 2151.3,556.9 2152.8,560.9 2154.3,563.7 2155.9,558.7 2157.4,554.0 2158.9,549.1 2160.4,543.6 2161.9,537.3 2163.4,531.6 2164.9,525.9 2166.5,520.8 2168.0,518.1 2169.5,516.3 2171.0,515.4 2172.5,513.9 2174.0,512.6 2175.5,512.0 2177.1,512.0 2178.6,511.9 2180.1,513.2 2181.6,515.5 2183.1,518.3 2184.6,523.0 2186.1,529.8 2187.7,535.4 2189.2,539.0 2190.7,542.7 2192.2,545.3 2193.7,547.0 2195.2,547.3 2196.7,546.0 2198.2,545.0 2199.8,545.1 2201.3,547.4 2202.8,550.2 2204.3,551.1 2205.8,550.7 2207.3,550.2 2208.8,548.5 2210.4,547.4 2211.9,546.5 2213.4,544.0 2214.9,542.0 2216.4,540.9 2217.9,538.8 2219.4,536.4 2221.0,535.0 2222.5,534.0 2224.0,531.8 2225.5,530.8 2227.0,533.6 2228.5,537.6 2230.0,540.0 2231.5,542.3 2233.1,544.9 2234.6,547.8 2236.1,551.6 2237.6,554.7 2239.1,557.0 2240.6,559.9 2242.1,563.2 2243.7,566.5 2245.2,567.0 2246.7,566.4 2248.2,566.4 2249.7,565.9 2251.2,564.6 2252.7,564.7 2254.3,563.7 2255.8,559.4 2257.3,554.5 2258.8,552.5 2260.3,551.1 2261.8,546.7 2263.3,541.6 2264.9,537.5 2266.4,534.2 2267.9,530.8 2269.4,526.7 2270.9,525.3 2272.4,528.0 2273.9,532.3 2275.4,536.5 2277.0,539.9 2278.5,542.4 2280.0,543.9 2281.5,540.5 2283.0,536.7 2284.5,533.2 2286.0,530.0 2287.6,527.5 2289.1,526.4 2290.6,524.1 2292.1,521.2 2293.6,519.4 2295.1,516.6 2296.6,512.4 2298.2,515.3 2299.7,519.7 2301.2,524.7 2302.7,528.6 2304.2,530.4 2305.7,528.7 2307.2,528.4 2308.8,527.4 2310.3,524.5 2311.8,521.7 2313.3,519.1 2314.8,517.2 2316.3,514.1 2317.8,508.9 2319.3,503.5 2320.9,496.8 2322.4,489.3 2323.9,494.8 2325.4,508.7 2326.9,523.3 2328.4,536.9 2329.9,549.7 2331.5,563.4 2333.0,571.4 2334.5,566.5 2336.0,561.8 2337.5,558.0 2339.0,553.8 2340.5,548.8 2342.1,544.0 2343.6,540.0 2345.1,537.8 2346.6,538.4 2348.1,538.4 2349.6,540.0 2351.1,542.6 2352.6,545.1 2354.2,547.7 2355.7,549.2 2357.2,551.3 2358.7,554.6 2360.2,557.2 2361.7,559.1 2363.2,561.9 2364.8,565.4 2366.3,567.7 2367.8,564.1 2369.3,560.0 2370.8,554.6 2372.3,549.5 2373.8,546.6 2375.4,543.1 2376.9,537.9 2378.4,532.5 2379.9,528.1 2381.4,525.0 2382.9,522.3 2384.4,518.7 2386.0,517.7 2387.5,521.4 2389.0,525.1 2390.5,527.4 2392.0,530.4 2393.5,533.6 2395.0,535.4 2396.5,538.2 2398.1,541.0 2399.6,544.0 2401.1,546.8 2402.6,549.8 2404.1,553.4 2405.6,554.5 2407.1,555.0 2408.7,554.1 2410.2,551.5 2411.7,548.5 2413.2,546.8 2414.7,546.6 2416.2,546.7 2417.7,548.9 2419.3,549.6 2420.8,549.1 2422.3,549.3 2423.8,551.5 2425.3,554.9 2426.8,555.9 2428.3,554.8 2429.9,554.4" fill="none" stroke="#000000" stroke-width="3.2" stroke-linejoin="round" stroke-linecap="round"/>
</g>
<path d="M851.0,931.0 L77.5,931.0 L77.5,435.0 L851.0,435.0" fill="none" stroke="#000" stroke-width="4" stroke-linejoin="round"/>
<path d="M850.0,435.0 L851.0,435.0 L851.0,931.0" fill="none" stroke="#000" stroke-width="4" stroke-linejoin="round"/>
<line x1="138.0" y1="931.0" x2="138.0" y2="940.5" stroke="#000" stroke-width="4.2"/>
<text x="136.3" y="973" text-anchor="middle" textLength="75" lengthAdjust="spacingAndGlyphs" style="font-family:'Liberation Sans',Arial,sans-serif;font-size:34.6px">600</text>
<line x1="197.4" y1="931.0" x2="197.4" y2="936.0" stroke="#000" stroke-width="3.0"/>
<line x1="256.8" y1="931.0" x2="256.8" y2="940.5" stroke="#000" stroke-width="4.2"/>
<text x="254.7" y="973" text-anchor="middle" textLength="75" lengthAdjust="spacingAndGlyphs" style="font-family:'Liberation Sans',Arial,sans-serif;font-size:34.6px">800</text>
<line x1="316.2" y1="931.0" x2="316.2" y2="936.0" stroke="#000" stroke-width="3.0"/>
<line x1="375.6" y1="931.0" x2="375.6" y2="940.5" stroke="#000" stroke-width="4.2"/>
<text x="381.3" y="973" text-anchor="middle" textLength="96" lengthAdjust="spacingAndGlyphs" style="font-family:'Liberation Sans',Arial,sans-serif;font-size:34.6px">1000</text>
<line x1="435.0" y1="931.0" x2="435.0" y2="936.0" stroke="#000" stroke-width="3.0"/>
<line x1="494.4" y1="931.0" x2="494.4" y2="940.5" stroke="#000" stroke-width="4.2"/>
<text x="500.1" y="973" text-anchor="middle" textLength="96" lengthAdjust="spacingAndGlyphs" style="font-family:'Liberation Sans',Arial,sans-serif;font-size:34.6px">1200</text>
<line x1="553.8" y1="931.0" x2="553.8" y2="936.0" stroke="#000" stroke-width="3.0"/>
<line x1="613.2" y1="931.0" x2="613.2" y2="940.5" stroke="#000" stroke-width="4.2"/>
<text x="620.2" y="973" text-anchor="middle" textLength="96" lengthAdjust="spacingAndGlyphs" style="font-family:'Liberation Sans',Arial,sans-serif;font-size:34.6px">1400</text>
<line x1="672.6" y1="931.0" x2="672.6" y2="936.0" stroke="#000" stroke-width="3.0"/>
<line x1="732.0" y1="931.0" x2="732.0" y2="940.5" stroke="#000" stroke-width="4.2"/>
<text x="739.0" y="973" text-anchor="middle" textLength="96" lengthAdjust="spacingAndGlyphs" style="font-family:'Liberation Sans',Arial,sans-serif;font-size:34.6px">1600</text>
<line x1="791.4" y1="931.0" x2="791.4" y2="936.0" stroke="#000" stroke-width="3.0"/>
<path d="M1637.0,933.0 L858.0,933.0 L858.0,434.7 L1637.0,434.7" fill="none" stroke="#000" stroke-width="3.8" stroke-linejoin="round"/>
<path d="M1636.0,434.7 L1637.0,434.7 L1637.0,933.0" fill="none" stroke="#000" stroke-width="3.8" stroke-linejoin="round"/>
<line x1="918.8" y1="933.0" x2="918.8" y2="942.5" stroke="#000" stroke-width="4.2"/>
<text x="912.2" y="973" text-anchor="middle" textLength="75" lengthAdjust="spacingAndGlyphs" style="font-family:'Liberation Sans',Arial,sans-serif;font-size:34.6px">600</text>
<line x1="978.6" y1="933.0" x2="978.6" y2="938.0" stroke="#000" stroke-width="3.0"/>
<line x1="1038.4" y1="933.0" x2="1038.4" y2="942.5" stroke="#000" stroke-width="4.2"/>
<text x="1031.5" y="973" text-anchor="middle" textLength="75" lengthAdjust="spacingAndGlyphs" style="font-family:'Liberation Sans',Arial,sans-serif;font-size:34.6px">800</text>
<line x1="1098.2" y1="933.0" x2="1098.2" y2="938.0" stroke="#000" stroke-width="3.0"/>
<line x1="1158.0" y1="933.0" x2="1158.0" y2="942.5" stroke="#000" stroke-width="4.2"/>
<text x="1159.5" y="973" text-anchor="middle" textLength="96" lengthAdjust="spacingAndGlyphs" style="font-family:'Liberation Sans',Arial,sans-serif;font-size:34.6px">1000</text>
<line x1="1217.8" y1="933.0" x2="1217.8" y2="938.0" stroke="#000" stroke-width="3.0"/>
<line x1="1277.6" y1="933.0" x2="1277.6" y2="942.5" stroke="#000" stroke-width="4.2"/>
<text x="1278.1" y="973" text-anchor="middle" textLength="96" lengthAdjust="spacingAndGlyphs" style="font-family:'Liberation Sans',Arial,sans-serif;font-size:34.6px">1200</text>
<line x1="1337.4" y1="933.0" x2="1337.4" y2="938.0" stroke="#000" stroke-width="3.0"/>
<line x1="1397.2" y1="933.0" x2="1397.2" y2="942.5" stroke="#000" stroke-width="4.2"/>
<text x="1399.2" y="973" text-anchor="middle" textLength="96" lengthAdjust="spacingAndGlyphs" style="font-family:'Liberation Sans',Arial,sans-serif;font-size:34.6px">1400</text>
<line x1="1457.0" y1="933.0" x2="1457.0" y2="938.0" stroke="#000" stroke-width="3.0"/>
<line x1="1516.8" y1="933.0" x2="1516.8" y2="942.5" stroke="#000" stroke-width="4.2"/>
<text x="1518.8" y="973" text-anchor="middle" textLength="96" lengthAdjust="spacingAndGlyphs" style="font-family:'Liberation Sans',Arial,sans-serif;font-size:34.6px">1600</text>
<line x1="1576.6" y1="933.0" x2="1576.6" y2="938.0" stroke="#000" stroke-width="3.0"/>
<path d="M2429.0,935.5 L1643.5,935.5 L1643.5,433.0 L2429.0,433.0" fill="none" stroke="#000" stroke-width="3.6" stroke-linejoin="round"/>
<path d="M2428.0,433.0 L2429.0,433.0 L2429.0,935.5" fill="none" stroke="#555" stroke-width="2.5" stroke-linejoin="round"/>
<line x1="1703.2" y1="935.5" x2="1703.2" y2="945.0" stroke="#000" stroke-width="4.2"/>
<text x="1700.9" y="973" text-anchor="middle" textLength="75" lengthAdjust="spacingAndGlyphs" style="font-family:'Liberation Sans',Arial,sans-serif;font-size:34.6px">600</text>
<line x1="1763.8" y1="935.5" x2="1763.8" y2="940.5" stroke="#000" stroke-width="3.0"/>
<line x1="1824.4" y1="935.5" x2="1824.4" y2="945.0" stroke="#000" stroke-width="4.2"/>
<text x="1820.9" y="973" text-anchor="middle" textLength="75" lengthAdjust="spacingAndGlyphs" style="font-family:'Liberation Sans',Arial,sans-serif;font-size:34.6px">800</text>
<line x1="1884.9" y1="935.5" x2="1884.9" y2="940.5" stroke="#000" stroke-width="3.0"/>
<line x1="1945.5" y1="935.5" x2="1945.5" y2="945.0" stroke="#000" stroke-width="4.2"/>
<text x="1949.6" y="973" text-anchor="middle" textLength="96" lengthAdjust="spacingAndGlyphs" style="font-family:'Liberation Sans',Arial,sans-serif;font-size:34.6px">1000</text>
<line x1="2006.0" y1="935.5" x2="2006.0" y2="940.5" stroke="#000" stroke-width="3.0"/>
<line x1="2066.6" y1="935.5" x2="2066.6" y2="945.0" stroke="#000" stroke-width="4.2"/>
<text x="2069.5" y="973" text-anchor="middle" textLength="96" lengthAdjust="spacingAndGlyphs" style="font-family:'Liberation Sans',Arial,sans-serif;font-size:34.6px">1200</text>
<line x1="2127.1" y1="935.5" x2="2127.1" y2="940.5" stroke="#000" stroke-width="3.0"/>
<line x1="2187.7" y1="935.5" x2="2187.7" y2="945.0" stroke="#000" stroke-width="4.2"/>
<text x="2191.2" y="973" text-anchor="middle" textLength="96" lengthAdjust="spacingAndGlyphs" style="font-family:'Liberation Sans',Arial,sans-serif;font-size:34.6px">1400</text>
<line x1="2248.2" y1="935.5" x2="2248.2" y2="940.5" stroke="#000" stroke-width="3.0"/>
<line x1="2308.8" y1="935.5" x2="2308.8" y2="945.0" stroke="#000" stroke-width="4.2"/>
<text x="2313.2" y="973" text-anchor="middle" textLength="96" lengthAdjust="spacingAndGlyphs" style="font-family:'Liberation Sans',Arial,sans-serif;font-size:34.6px">1600</text>
<line x1="2369.3" y1="935.5" x2="2369.3" y2="940.5" stroke="#000" stroke-width="3.0"/>
<line x1="2429.9" y1="935.5" x2="2429.9" y2="945.0" stroke="#000" stroke-width="4.2"/>
<text x="2434.1" y="973" text-anchor="middle" textLength="96" lengthAdjust="spacingAndGlyphs" style="font-family:'Liberation Sans',Arial,sans-serif;font-size:34.6px">1800</text>
<text transform="translate(38.2,462) scale(1.22,1)" style="font-family:'Liberation Sans',Arial,sans-serif;font-size:40px">d</text>
<text transform="translate(868.3,464.5) scale(1.18,1)" style="font-family:'Liberation Sans',Arial,sans-serif;font-size:43px">e</text>
<text transform="translate(1671.0,467.6) scale(1.3,1)" style="font-family:'Liberation Sans',Arial,sans-serif;font-size:40px">f</text>
<line x1="114.4" y1="447.3" x2="114.4" y2="526" stroke="#000" stroke-width="4"/>
<text x="133.5" y="500.9" text-anchor="start" textLength="71" lengthAdjust="spacingAndGlyphs" style="font-family:'Liberation Sans',Arial,sans-serif;font-size:35px">500</text>
<line x1="947.2" y1="449.3" x2="947.2" y2="495.9" stroke="#000" stroke-width="4"/>
<text x="956" y="484.6" text-anchor="start" textLength="70" lengthAdjust="spacingAndGlyphs" style="font-family:'Liberation Sans',Arial,sans-serif;font-size:33.5px">100</text>
<line x1="1748.8" y1="443.7" x2="1748.8" y2="501.6" stroke="#000" stroke-width="3.6"/>
<text x="1768.5" y="486.7" text-anchor="start" textLength="69" lengthAdjust="spacingAndGlyphs" style="font-family:'Liberation Sans',Arial,sans-serif;font-size:33.5px">100</text>
<text x="513" y="477.7" textLength="330" lengthAdjust="spacing" style="font-family:'Liberation Serif','Times New Roman',serif;font-size:37px">C<tspan dy="6" font-size="24px">2</tspan><tspan dy="-6">H</tspan><tspan dy="6" font-size="24px">5</tspan><tspan dy="-6">OH dispersion</tspan></text>
<text x="1328" y="477.7" textLength="297.5" lengthAdjust="spacing" style="font-family:'Liberation Serif','Times New Roman',serif;font-size:37px">CHCl<tspan dy="6" font-size="24px">3</tspan><tspan dy="-6"> dispersion</tspan></text>
<text x="2159" y="477.4" textLength="258" lengthAdjust="spacing" style="font-family:'Liberation Serif','Times New Roman',serif;font-size:37px">H<tspan dy="6" font-size="24px">2</tspan><tspan dy="-6">O dispersion</tspan></text>
<text x="282.3" y="1010.4" textLength="357" lengthAdjust="spacingAndGlyphs" style="font-family:'Liberation Sans',Arial,sans-serif;font-size:34.4px">Raman Shift (cm<tspan dy="-17" font-size="17px">-1</tspan><tspan dy="17">)</tspan></text>
<text x="1070.6" y="1010.4" textLength="357" lengthAdjust="spacingAndGlyphs" style="font-family:'Liberation Sans',Arial,sans-serif;font-size:34.4px">Raman Shift (cm<tspan dy="-17" font-size="17px">-1</tspan><tspan dy="17">)</tspan></text>
<text x="1857.4" y="1010.4" textLength="358.5" lengthAdjust="spacingAndGlyphs" style="font-family:'Liberation Sans',Arial,sans-serif;font-size:34.4px">Raman Shift (cm<tspan dy="-17" font-size="17px">-1</tspan><tspan dy="17">)</tspan></text>
<text transform="translate(67.2,874.5) rotate(-90)" textLength="371" lengthAdjust="spacingAndGlyphs" style="font-family:'Liberation Sans',Arial,sans-serif;font-size:40.5px">Raman Intensity (a.u.)</text>
</svg>
</body></html>
